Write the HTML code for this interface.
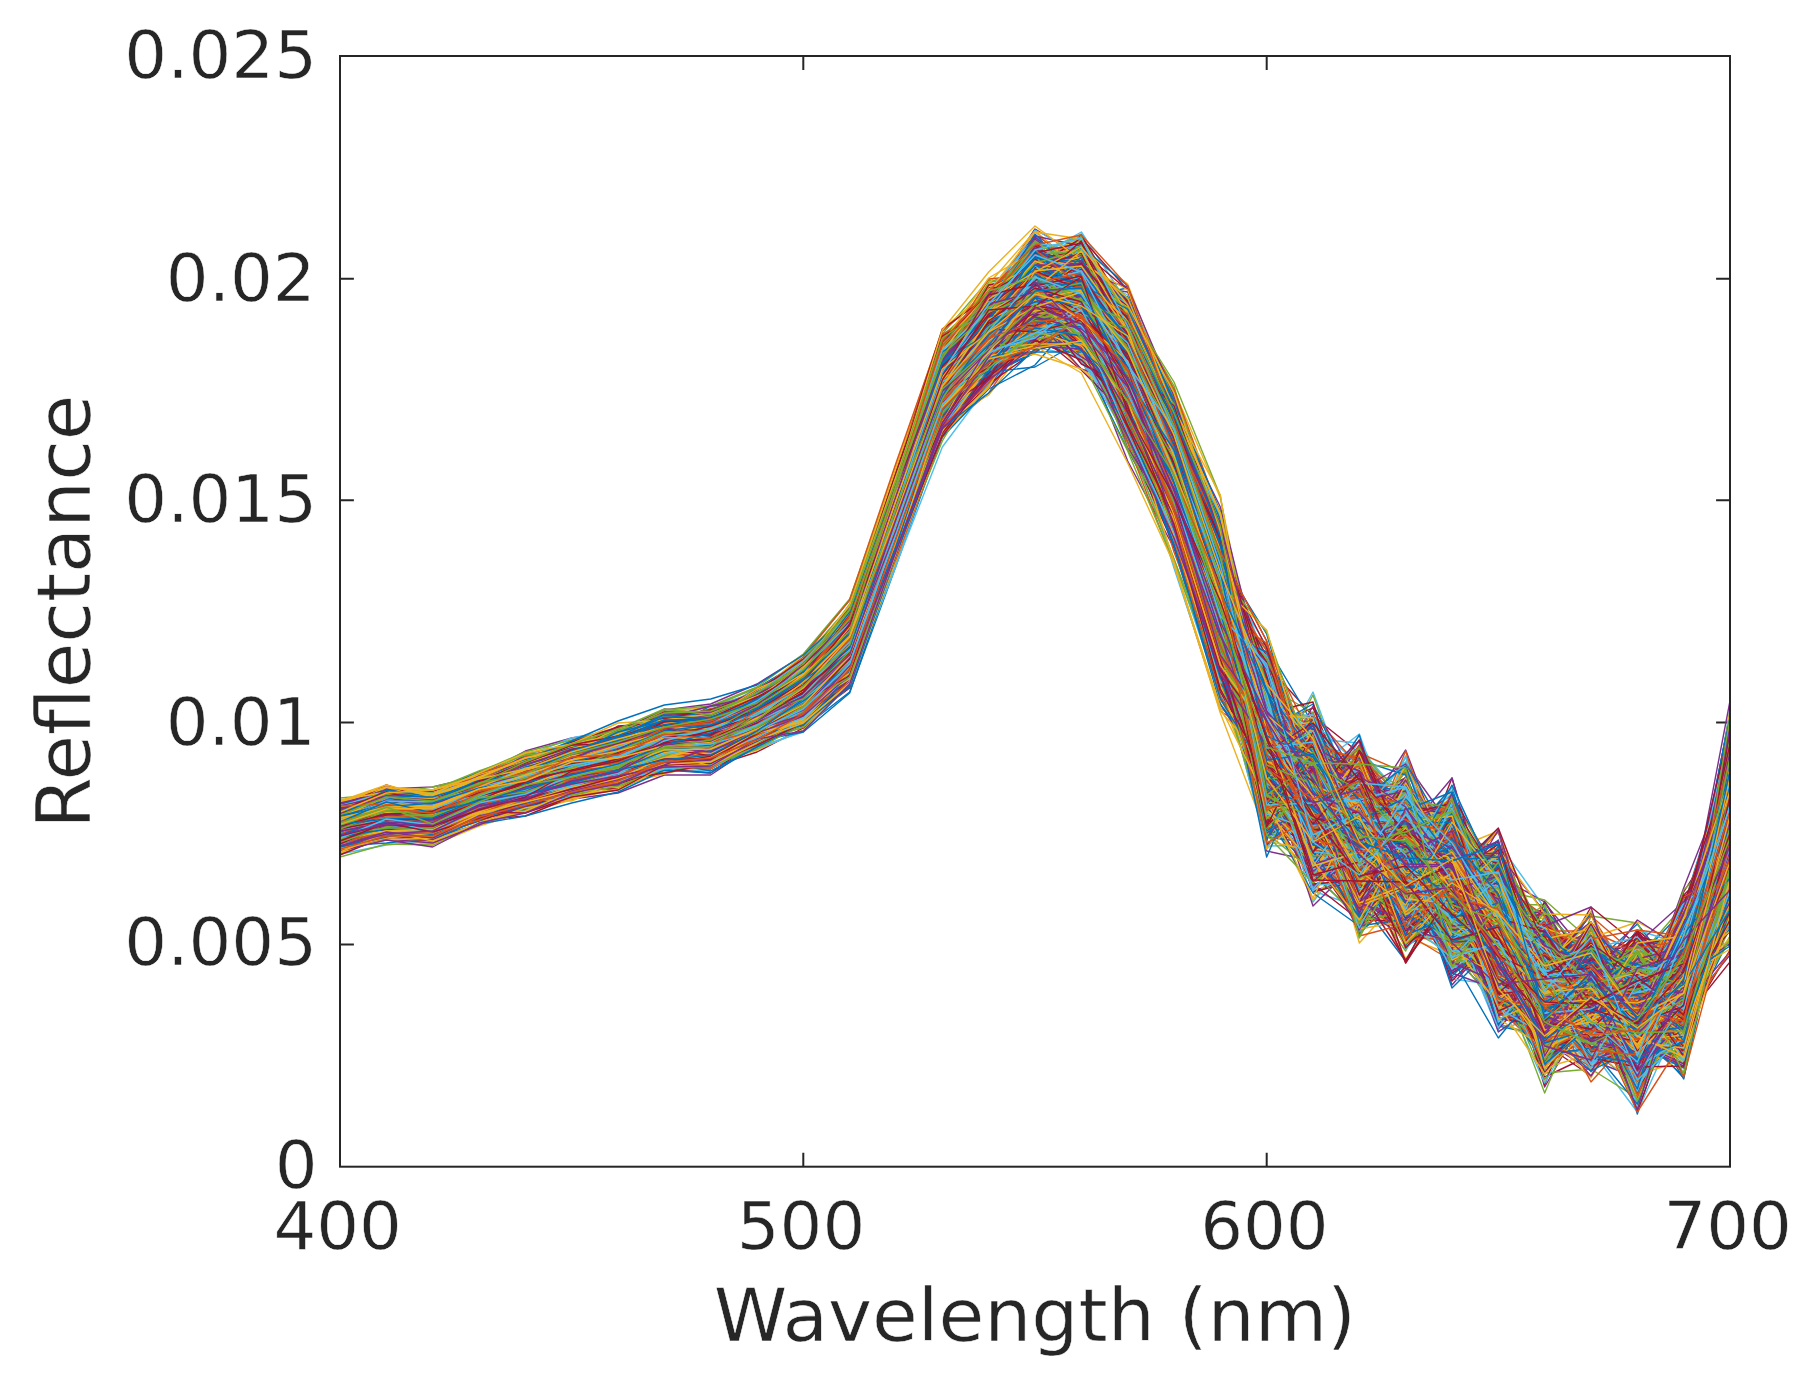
<!DOCTYPE html>
<html lang="en"><head><meta charset="utf-8"><title>Reflectance vs Wavelength</title>
<style>html,body{margin:0;padding:0;background:#fff}body{width:1798px;height:1380px;overflow:hidden}#d path{fill:none;stroke-width:1.4;stroke-linejoin:round;vector-effect:non-scaling-stroke}#d path:nth-child(7n+1){stroke:#0072BD}#d path:nth-child(7n+2){stroke:#D95319}#d path:nth-child(7n+3){stroke:#EDB120}#d path:nth-child(7n+4){stroke:#7E2F8E}#d path:nth-child(7n+5){stroke:#77AC30}#d path:nth-child(7n+6){stroke:#4DBEEE}#d path:nth-child(7n+7){stroke:#A2142F}</style>
</head><body>
<svg width="1798" height="1380" viewBox="0 0 1798 1380" style="display:block">
<rect width="1798" height="1380" fill="#fff"/>
<defs><clipPath id="c"><rect x="340.0" y="56.0" width="1390.0" height="1110.7"/></clipPath></defs>
<g stroke="#262626" stroke-width="2" fill="none">
<path d="M803.3 1166.7v-13.9M803.3 56.0v13.9"/>
<path d="M1266.7 1166.7v-13.9M1266.7 56.0v13.9"/>
<path d="M340.0 944.6h13.9M1730.0 944.6h-13.9"/>
<path d="M340.0 722.4h13.9M1730.0 722.4h-13.9"/>
<path d="M340.0 500.3h13.9M1730.0 500.3h-13.9"/>
<path d="M340.0 278.7h13.9M1730.0 278.7h-13.9"/>
</g>
<g clip-path="url(#c)"><g id="d" transform="translate(340.0 0) scale(46.3333 1)">
<path d="M0 818l1-19 1 17 1-21 1-13 1-12 1-18 1-18 1-9 1-21 1-32 1-59 1-116 1-118 1-51 1-8 1 0 1 30 1 114 1 126 1 161 1 29 1 4 1 90 1 46 1 67 1 8 1-38 1 91 1-101 1-157"/>
<path d="M0 809l1-18 1 5 1-14 1-15 1-17 1-15 1-10 1-10 1-9 1-29 1-57 1-121 1-133 1-54 1-22 1-15 1 94 1 72 1 120 1 164 1 34 1 63 1-31 1 78 1 36 1 94 1-8 1-40 1-1 1-71"/>
<path d="M0 846l1-8 1 7 1-19 1-14 1-12 1-13 1-15 1-3 1-28 1-22 1-42 1-131 1-108 1-56 1-67 1 24 1 78 1 125 1 154 1 118 1 13 1 25 1 107 1-67 1 19 1 108 1-42 1 59 1-91 1-103"/>
<path d="M0 827l1-13 1-3 1-13 1-18 1-7 1-11 1-12 1 0 1-27 1-21 1-53 1-130 1-125 1-72 1-25 1-6 1 67 1 116 1 131 1 229 1-69 1 94 1 64 1-64 1 117 1 25 1-49 1 117 1-79 1-174"/>
<path d="M0 812l1-13 1 4 1-14 1-20 1-9 1-15 1-10 1 0 1-29 1-31 1-45 1-137 1-134 1-59 1-7 1 9 1 57 1 93 1 133 1 229 1-33 1 84 1 3 1 21 1 50 1 7 1 35 1 50 1-113 1-11"/>
<path d="M0 822l1-21 1 4 1-20 1-14 1-10 1-7 1-23 1-1 1-20 1-38 1-31 1-146 1-141 1-45 1-53 1 3 1 75 1 69 1 124 1 249 1-16 1 27 1 100 1-11 1-13 1 102 1 24 1 22 1-88 1-133"/>
<path d="M0 825l1-15 1-1 1-14 1-15 1-7 1-21 1-8 1-11 1-18 1-26 1-59 1-122 1-127 1-51 1-38 1 25 1 49 1 103 1 130 1 199 1 1 1 1 1 80 1 20 1 25 1 87 1-42 1 33 1-66 1-128"/>
<path d="M0 817l1-15 1 2 1-24 1-15 1-11 1-17 1-13 1-2 1-17 1-30 1-37 1-141 1-112 1-61 1-48 1-15 1 70 1 91 1 118 1 224 1 26 1 59 1-54 1 88 1 46 1 18 1 85 1-19 1 1 1-244"/>
<path d="M0 826l1-9 1-5 1-12 1-23 1-9 1-15 1-19 1 1 1-23 1-23 1-39 1-139 1-122 1-57 1-26 1-14 1 77 1 107 1 111 1 249 1-47 1 5 1 64 1 45 1 14 1 68 1 2 1 54 1-68 1-88"/>
<path d="M0 826l1-11 1 1 1-14 1-18 1-19 1-7 1-20 1-2 1-24 1-34 1-44 1-127 1-126 1-57 1-19 1 19 1 45 1 101 1 143 1 175 1 6 1 37 1-46 1 78 1 84 1 71 1-5 1 39 1-81 1-180"/>
<path d="M0 827l1-17 1 11 1-21 1-18 1-14 1-20 1-9 1 0 1-19 1-21 1-42 1-124 1-144 1-70 1 9 1 9 1 50 1 108 1 134 1 132 1 92 1-33 1 71 1-7 1 29 1 56 1 49 1 75 1-92 1-128"/>
<path d="M0 833l1-8 1 1 1-17 1-12 1-2 1-5 1-22 1-9 1-31 1-25 1-54 1-123 1-133 1-16 1-63 1 15 1 92 1 106 1 116 1 122 1 3 1 61 1 15 1 75 1-2 1 70 1 32 1 4 1-18 1-130"/>
<path d="M0 833l1-10 1 1 1-18 1-13 1-16 1-7 1-23 1 0 1-20 1-38 1-48 1-116 1-134 1-62 1-45 1 17 1 47 1 128 1 152 1 109 1 54 1 17 1 32 1 22 1 111 1 20 1-7 1 33 1-42 1-160"/>
<path d="M0 813l1-4 1 7 1-19 1-13 1-7 1-12 1-17 1-5 1-21 1-26 1-49 1-122 1-132 1-28 1-50 1-8 1 35 1 121 1 123 1 156 1-13 1 139 1 32 1-21 1 66 1 72 1 10 1 37 1-126 1-108"/>
<path d="M0 820l1-9 1 5 1-20 1-9 1-8 1-10 1-19 1 3 1-22 1-25 1-51 1-119 1-136 1-63 1-24 1-4 1 48 1 120 1 129 1 120 1 66 1 10 1 95 1 18 1 83 1-57 1 2 1 13 1 13 1-191"/>
<path d="M0 816l1-8 1 4 1-20 1-13 1-20 1-13 1-12 1-8 1-21 1-25 1-59 1-140 1-131 1-33 1-47 1 15 1 50 1 118 1 134 1 184 1 66 1-64 1 47 1 52 1 15 1 61 1-8 1 90 1-47 1-158"/>
<path d="M0 820l1-18 1 2 1-16 1-15 1-13 1-17 1-11 1-3 1-16 1-34 1-47 1-131 1-156 1-28 1-51 1 33 1 40 1 121 1 117 1 123 1 124 1-42 1 12 1 52 1 115 1 63 1-60 1 3 1 22 1-174"/>
<path d="M0 813l1-9 1 5 1-16 1-17 1-13 1-24 1-18 1-4 1-21 1-31 1-49 1-125 1-148 1-37 1-21 1-6 1 52 1 86 1 148 1 168 1 6 1 139 1-4 1-8 1 26 1 93 1 12 1-22 1 0 1-149"/>
<path d="M0 829l1-8 1-10 1-20 1-19 1-11 1-14 1-14 1-6 1-12 1-39 1-35 1-125 1-133 1-43 1-35 1 16 1 67 1 112 1 112 1 146 1 89 1-3 1-18 1 17 1 73 1 112 1-67 1 68 1-22 1-231"/>
<path d="M0 820l1-19 1-5 1-14 1-18 1-9 1-12 1-1 1-8 1-31 1-27 1-61 1-130 1-130 1-48 1-20 1-20 1 79 1 120 1 109 1 81 1 181 1 5 1-31 1 31 1 105 1 54 1 24 1 3 1-52 1-202"/>
<path d="M0 834l1-16 1 1 1-17 1-13 1-14 1-8 1-8 1-6 1-29 1-23 1-38 1-144 1-127 1-44 1-51 1 21 1 88 1 98 1 138 1 194 1-25 1 32 1 14 1-42 1 157 1 49 1-35 1 29 1 2 1-154"/>
<path d="M0 834l1-8 1-1 1-24 1-13 1-9 1-13 1-19 1 4 1-26 1-24 1-39 1-131 1-129 1-42 1-54 1 5 1 61 1 96 1 165 1 103 1 69 1 57 1-4 1 38 1 37 1 117 1-117 1 63 1 19 1-218"/>
<path d="M0 827l1-12 1 8 1-15 1-18 1-19 1-12 1-22 1-12 1-15 1-27 1-48 1-123 1-135 1-28 1-66 1 40 1 40 1 110 1 143 1 132 1 54 1 39 1 65 1 15 1 27 1 48 1-13 1 20 1-91 1-106"/>
<path d="M0 830l1-17 1 4 1-18 1-23 1-13 1-8 1-17 1-7 1-13 1-35 1-35 1-127 1-137 1-57 1-43 1 36 1 46 1 110 1 127 1 143 1 99 1-29 1 27 1 62 1 11 1 116 1-36 1 62 1-35 1-176"/>
<path d="M0 842l1-15 1 2 1-17 1-5 1-13 1-18 1-10 1-7 1-25 1-21 1-49 1-119 1-133 1-46 1-41 1-2 1 74 1 132 1 109 1 134 1-18 1 61 1 62 1-2 1 59 1 81 1-10 1 30 1-85 1-47"/>
<path d="M0 846l1-19 1 7 1-17 1-12 1-12 1-13 1-8 1-10 1-22 1-35 1-34 1-143 1-120 1-46 1-55 1 40 1 44 1 131 1 120 1 94 1 134 1-52 1 72 1-27 1 40 1 70 1 75 1-49 1 31 1-150"/>
<path d="M0 819l1-11 1 0 1-16 1-21 1-3 1-16 1-12 1-1 1-26 1-21 1-48 1-129 1-122 1-40 1-49 1 22 1 20 1 94 1 135 1 184 1 23 1 70 1 26 1-10 1 47 1 62 1 42 1 20 1-80 1-151"/>
<path d="M0 841l1-9 1-5 1-21 1-7 1-23 1-9 1-23 1 2 1-17 1-21 1-44 1-138 1-148 1-40 1-44 1 31 1 41 1 88 1 138 1 149 1 17 1 119 1-32 1 62 1 47 1 90 1-35 1 23 1 11 1-184"/>
<path d="M0 820l1-20 1 9 1-19 1-20 1-7 1-15 1-18 1-7 1-12 1-36 1-45 1-137 1-124 1-39 1-57 1-4 1 58 1 106 1 138 1 159 1 98 1-41 1 51 1-30 1 120 1 61 1-54 1 65 1-8 1-130"/>
<path d="M0 824l1-14 1 4 1-15 1-17 1-11 1-18 1-14 1-5 1-16 1-28 1-42 1-123 1-132 1-65 1-9 1-39 1 80 1 72 1 150 1 174 1 55 1-31 1 30 1 67 1 29 1 121 1-48 1 6 1 31 1-188"/>
<path d="M0 826l1-10 1-6 1-20 1-8 1-13 1-9 1-24 1 4 1-25 1-30 1-42 1-133 1-135 1-34 1-57 1 1 1 68 1 106 1 151 1 171 1 38 1 58 1-5 1-37 1 61 1 100 1-15 1 56 1-59 1-150"/>
<path d="M0 823l1-15 1 4 1-17 1-12 1-15 1-9 1-25 1 8 1-27 1-23 1-55 1-124 1-112 1-53 1-26 1 3 1 54 1 74 1 141 1 165 1 4 1 66 1 87 1-74 1 78 1 79 1 0 1 8 1-9 1-137"/>
<path d="M0 819l1-18 1 5 1-12 1-12 1-15 1-14 1-20 1-5 1-24 1-25 1-44 1-134 1-129 1-55 1-22 1-20 1 79 1 107 1 150 1 38 1 115 1 90 1 47 1-56 1 42 1 66 1 48 1-37 1 44 1-108"/>
<path d="M0 825l1-15 1 0 1-18 1-6 1-17 1-14 1-8 1-7 1-15 1-23 1-43 1-133 1-150 1-35 1-58 1 27 1 40 1 105 1 147 1 111 1 97 1-20 1 82 1 7 1 80 1 70 1-30 1 18 1 30 1-219"/>
<path d="M0 821l1-16 1-3 1-11 1-18 1-13 1-12 1-21 1-6 1-10 1-33 1-49 1-144 1-139 1-37 1-12 1 0 1 85 1 66 1 122 1 145 1 41 1 54 1-23 1 98 1 56 1 53 1-18 1 14 1-24 1-151"/>
<path d="M0 829l1-19 1 2 1-13 1-25 1-2 1-8 1-24 1-3 1-17 1-23 1-53 1-127 1-136 1-69 1-40 1 13 1 77 1 113 1 134 1 229 1-56 1 41 1 22 1-29 1 144 1-12 1 60 1 17 1-63 1-213"/>
<path d="M0 833l1-12 1 2 1-20 1-12 1-16 1-18 1-15 1 3 1-24 1-27 1-44 1-136 1-123 1-44 1-61 1 38 1 76 1 117 1 113 1 133 1-20 1 105 1-45 1 94 1 36 1 109 1-23 1-27 1-11 1-109"/>
<path d="M0 832l1-13 1 0 1-17 1-13 1-19 1-13 1-13 1 1 1-25 1-19 1-45 1-128 1-136 1-48 1-63 1 36 1 63 1 109 1 131 1 94 1 127 1-2 1-22 1 55 1 47 1-1 1 89 1 54 1-86 1-106"/>
<path d="M0 815l1-5 1-10 1-10 1-19 1-17 1-9 1-14 1 7 1-25 1-24 1-50 1-132 1-143 1-33 1-58 1-10 1 60 1 125 1 124 1 198 1 76 1-36 1 99 1-54 1 22 1 110 1 13 1-14 1-35 1-100"/>
<path d="M0 828l1-14 1-2 1-13 1-14 1-15 1-9 1-11 1-8 1-21 1-30 1-47 1-138 1-117 1-74 1-27 1 5 1 57 1 103 1 128 1 159 1 5 1 97 1 58 1-10 1 29 1 35 1 27 1-13 1 37 1-183"/>
<path d="M0 834l1-11 1 4 1-19 1-9 1-23 1-7 1-15 1 0 1-25 1-17 1-50 1-129 1-152 1-50 1-28 1 16 1 62 1 91 1 141 1 142 1-23 1 156 1 40 1-48 1 56 1 68 1-2 1 27 1-36 1-227"/>
<path d="M0 804l1-12 1 8 1-16 1-19 1-14 1-10 1-20 1 5 1-17 1-29 1-55 1-135 1-136 1-55 1-70 1 28 1 60 1 92 1 141 1 115 1 51 1 37 1 98 1 90 1-93 1 113 1-17 1 48 1-15 1-195"/>
<path d="M0 830l1-11 1 2 1-27 1-10 1-17 1-17 1-12 1-10 1-12 1-19 1-43 1-121 1-136 1-43 1-50 1 30 1 79 1 98 1 135 1 81 1 82 1 34 1-24 1 80 1 35 1 13 1 72 1-38 1-29 1-88"/>
<path d="M0 832l1-23 1 9 1-15 1-13 1-11 1-22 1-16 1-4 1-24 1-25 1-42 1-126 1-135 1-41 1-36 1 3 1 67 1 73 1 147 1 124 1 52 1 66 1 23 1 3 1 84 1 60 1-2 1 22 1-75 1-174"/>
<path d="M0 819l1-15 1 4 1-17 1-16 1-6 1-11 1-7 1-10 1-22 1-22 1-48 1-135 1-128 1-57 1-13 1-11 1 51 1 118 1 114 1 173 1 25 1 65 1-29 1 6 1 86 1 20 1 97 1 50 1-133 1-62"/>
<path d="M0 806l1-6 1 1 1-15 1-20 1-5 1-19 1-18 1-11 1-17 1-30 1-49 1-132 1-128 1-27 1-68 1 17 1 40 1 94 1 127 1 210 1 109 1-109 1 96 1-3 1 55 1 95 1 7 1-9 1-39 1-176"/>
<path d="M0 826l1-16 1 7 1-22 1-10 1-19 1-6 1-16 1 0 1-22 1-30 1-57 1-134 1-116 1-64 1-40 1-17 1 90 1 106 1 124 1 106 1 86 1 26 1 61 1-6 1 36 1 105 1 0 1 58 1-77 1-183"/>
<path d="M0 822l1-10 1 0 1-15 1-17 1-15 1-14 1-13 1-7 1-21 1-22 1-49 1-129 1-144 1-28 1-69 1 30 1 62 1 91 1 146 1 114 1 104 1-5 1 45 1 36 1-49 1 65 1 97 1-53 1 69 1-205"/>
<path d="M0 827l1-8 1 2 1-22 1-19 1-14 1-12 1-16 1-4 1-21 1-24 1-37 1-133 1-141 1-48 1-20 1-6 1 52 1 110 1 141 1 79 1 126 1 25 1-5 1 89 1 9 1 99 1 12 1-6 1-57 1-76"/>
<path d="M0 836l1-16 1 3 1-12 1-17 1-6 1-20 1-23 1 16 1-25 1-8 1-36 1-126 1-131 1-67 1-52 1 31 1 70 1 90 1 190 1 61 1 49 1 50 1-22 1 94 1 59 1 24 1 17 1 11 1-8 1-95"/>
<path d="M0 811l1-10 1 5 1-14 1-17 1-12 1-11 1-16 1-4 1-14 1-28 1-49 1-123 1-140 1-42 1-37 1-10 1 36 1 127 1 128 1 151 1 88 1 5 1-7 1 62 1-47 1 131 1 32 1 23 1-3 1-297"/>
<path d="M0 821l1-4 1 1 1-24 1-14 1-8 1-11 1-22 1-10 1-11 1-27 1-64 1-125 1-132 1-49 1-39 1-9 1 72 1 106 1 157 1 166 1-16 1 162 1-74 1 33 1 33 1 140 1-101 1 93 1-111 1-99"/>
<path d="M0 843l1-18 1-5 1-20 1-10 1-19 1-12 1-11 1 2 1-27 1-24 1-42 1-138 1-114 1-69 1-60 1 3 1 81 1 93 1 168 1 103 1 23 1 122 1-5 1 9 1 105 1 36 1-45 1 33 1 13 1-258"/>
<path d="M0 830l1-16 1 4 1-21 1 1 1-18 1-9 1-22 1-9 1-25 1-29 1-56 1-129 1-143 1-65 1 8 1 0 1 51 1 107 1 173 1 149 1 37 1-13 1 65 1 64 1 65 1-22 1-41 1 86 1-43 1-167"/>
<path d="M0 835l1-11 1 0 1-25 1-13 1-10 1-3 1-14 1 1 1-24 1-17 1-43 1-132 1-122 1-55 1-39 1 32 1 62 1 85 1 137 1 126 1 23 1 22 1 56 1 13 1 65 1 48 1 0 1 18 1-76 1-96"/>
<path d="M0 846l1-24 1 10 1-18 1-9 1-17 1-18 1-7 1-3 1-36 1-20 1-36 1-134 1-121 1-34 1-63 1 2 1 96 1 107 1 143 1 103 1 8 1 101 1-38 1 50 1 25 1 157 1-97 1 28 1-14 1-117"/>
<path d="M0 824l1-6 1-2 1-9 1-20 1-19 1-7 1-15 1 1 1-25 1-24 1-51 1-115 1-135 1-52 1-42 1-3 1 72 1 89 1 120 1 166 1 8 1 54 1 41 1 123 1-23 1 56 1-12 1-11 1 44 1-237"/>
<path d="M0 818l1-11 1 11 1-27 1-10 1-13 1-19 1-5 1-2 1-28 1-24 1-44 1-136 1-128 1-40 1-73 1 18 1 76 1 94 1 93 1 197 1-8 1 111 1 37 1 38 1 39 1 19 1-28 1 63 1-50 1-140"/>
<path d="M0 834l1-9 1-2 1-16 1-12 1-11 1-15 1-17 1-1 1-23 1-23 1-47 1-146 1-117 1-68 1-39 1 31 1 57 1 111 1 141 1 114 1 96 1-76 1 147 1-44 1 47 1 92 1-13 1 60 1-103 1-121"/>
<path d="M0 820l1-12 1 6 1-15 1-19 1-14 1-13 1-17 1-8 1-19 1-19 1-58 1-118 1-127 1-61 1-23 1-36 1 125 1 77 1 121 1 191 1 61 1-70 1 86 1-38 1 113 1 89 1-68 1-10 1 41 1-115"/>
<path d="M0 816l1-12 1 6 1-22 1-9 1-18 1-5 1-22 1-8 1-16 1-36 1-42 1-133 1-122 1-55 1-41 1 18 1 56 1 100 1 124 1 189 1-25 1 71 1 27 1 35 1 108 1-58 1 32 1 22 1-17 1-166"/>
<path d="M0 822l1-20 1-1 1-13 1-12 1-14 1-4 1-16 1 1 1-19 1-27 1-48 1-134 1-138 1-65 1-19 1 10 1 39 1 106 1 124 1 147 1 93 1-14 1 127 1-57 1 91 1 36 1 37 1 52 1-48 1-238"/>
<path d="M0 821l1-14 1 4 1-21 1-11 1-10 1-20 1-17 1 6 1-27 1-18 1-56 1-140 1-125 1-64 1-23 1 19 1 86 1 94 1 117 1 107 1 57 1 74 1 71 1-45 1 18 1 167 1-51 1-35 1 61 1-230"/>
<path d="M0 804l1-9 1-1 1-16 1-15 1-13 1-9 1-23 1 1 1-29 1-30 1-50 1-121 1-133 1-42 1-40 1-18 1 62 1 105 1 153 1 181 1 53 1 65 1-46 1 87 1 16 1 25 1 11 1 37 1-35 1-148"/>
<path d="M0 842l1-15 1-2 1-14 1-15 1-13 1-14 1-15 1 0 1-16 1-25 1-35 1-129 1-141 1-49 1-50 1 8 1 76 1 146 1 136 1 70 1 67 1 3 1 96 1-54 1 61 1 99 1-31 1 4 1 6 1-224"/>
<path d="M0 827l1-14 1 13 1-26 1-21 1-20 1-17 1-9 1-8 1-22 1-20 1-49 1-126 1-131 1-37 1-66 1-7 1 85 1 100 1 144 1 121 1 24 1 118 1-18 1 25 1 32 1 71 1-24 1 33 1 12 1-154"/>
<path d="M0 842l1-9 1 0 1-20 1-7 1-15 1-16 1-7 1-7 1-20 1-36 1-34 1-131 1-127 1-66 1-16 1-3 1 58 1 120 1 138 1 131 1-35 1 145 1 17 1 42 1-5 1 57 1 18 1-8 1-8 1-149"/>
<path d="M0 826l1-10 1 9 1-17 1-13 1-14 1-8 1-21 1-2 1-25 1-35 1-38 1-135 1-143 1-64 1-30 1 30 1 57 1 92 1 118 1 142 1 49 1 98 1-44 1 66 1 19 1 105 1-10 1-21 1 8 1-190"/>
<path d="M0 829l1-10 1-1 1-18 1-9 1-14 1-13 1-13 1-6 1-17 1-31 1-48 1-119 1-135 1-62 1-70 1 57 1 43 1 80 1 130 1 124 1 113 1 35 1 63 1-3 1 98 1 20 1-58 1 13 1 33 1-140"/>
<path d="M0 830l1-12 1 5 1-21 1-9 1-23 1-10 1-17 1 4 1-28 1-16 1-42 1-129 1-131 1-61 1-42 1 34 1 41 1 115 1 149 1 102 1 20 1 45 1 26 1 98 1 16 1 13 1 28 1-27 1 33 1-130"/>
<path d="M0 842l1-17 1 1 1-21 1-9 1-16 1-11 1-19 1 0 1-16 1-22 1-43 1-123 1-123 1-75 1-42 1 2 1 114 1 104 1 141 1 102 1 41 1 47 1 12 1-2 1 30 1 74 1 49 1-18 1 36 1-227"/>
<path d="M0 825l1-18 1 10 1-13 1-20 1-13 1-6 1-27 1-6 1-17 1-26 1-53 1-134 1-120 1-44 1-45 1 13 1 79 1 108 1 104 1 123 1 31 1 128 1-19 1-20 1 107 1 49 1-30 1 55 1 8 1-222"/>
<path d="M0 827l1-5 1 1 1-21 1-18 1-4 1-21 1-16 1-2 1-23 1-34 1-36 1-142 1-132 1-58 1 21 1-38 1 104 1 101 1 113 1 118 1 39 1 106 1 57 1 18 1-30 1 25 1 110 1-22 1-87 1-112"/>
<path d="M0 830l1-16 1 1 1-18 1-11 1-21 1-6 1-24 1 2 1-19 1-27 1-42 1-130 1-128 1-40 1-66 1 20 1 45 1 116 1 139 1 88 1 198 1-14 1-43 1 59 1 92 1 8 1-6 1 0 1 59 1-178"/>
<path d="M0 843l1-19 1-2 1-22 1-11 1-10 1-12 1-18 1 0 1-23 1-24 1-39 1-128 1-139 1-42 1-71 1 21 1 88 1 93 1 160 1 97 1 19 1 62 1 28 1 29 1 93 1 15 1 23 1 9 1-62 1-116"/>
<path d="M0 826l1-15 1 0 1-18 1-11 1-17 1-12 1-12 1-8 1-16 1-30 1-43 1-116 1-139 1-31 1-55 1 33 1 40 1 117 1 115 1 95 1 151 1-4 1 1 1 24 1 46 1 44 1-3 1 29 1 6 1-160"/>
<path d="M0 836l1-13 1-1 1-23 1-4 1-15 1-12 1-18 1-10 1-21 1-19 1-37 1-132 1-129 1-43 1-49 1 12 1 103 1 94 1 108 1 160 1 27 1 79 1-12 1 17 1-5 1 114 1-33 1 18 1-9 1-180"/>
<path d="M0 836l1-14 1-1 1-19 1-18 1-13 1-6 1-14 1-1 1-19 1-37 1-41 1-134 1-128 1-31 1-35 1-13 1 65 1 83 1 122 1 156 1 83 1-9 1 40 1 24 1 56 1 53 1 27 1-3 1-12 1-186"/>
<path d="M0 830l1-14 1 8 1-22 1-11 1-17 1 1 1-24 1-3 1-26 1-21 1-41 1-146 1-122 1-54 1-71 1 38 1 63 1 85 1 160 1 136 1 60 1 38 1 14 1 18 1 69 1 8 1 56 1 4 1-52 1-112"/>
<path d="M0 811l1-9 1 4 1-20 1-15 1-17 1-10 1-17 1 10 1-27 1-24 1-43 1-135 1-139 1-45 1-34 1-44 1 58 1 130 1 133 1 163 1 68 1 44 1 32 1-17 1 38 1 73 1-42 1 102 1-28 1-164"/>
<path d="M0 840l1-17 1 5 1-15 1-8 1-17 1-18 1-17 1-7 1-18 1-19 1-50 1-129 1-136 1-42 1-43 1-11 1 94 1 100 1 150 1 74 1 107 1 54 1-5 1 18 1 30 1 105 1-72 1 65 1 20 1-154"/>
<path d="M0 833l1-15 1-2 1-12 1-24 1-17 1-6 1-19 1-8 1-17 1-28 1-39 1-132 1-118 1-37 1-63 1 3 1 63 1 89 1 167 1 56 1 142 1 37 1-16 1 56 1 17 1 81 1 9 1-33 1-4 1-164"/>
<path d="M0 816l1-15 1 3 1-20 1-15 1-21 1-4 1-16 1-9 1-17 1-24 1-41 1-131 1-134 1-55 1-6 1-57 1 86 1 94 1 124 1 250 1-6 1 53 1-23 1 17 1 93 1 32 1 30 1-13 1-43 1-110"/>
<path d="M0 832l1-15 1-3 1-12 1-19 1-11 1-16 1-17 1 1 1-18 1-27 1-42 1-110 1-144 1-54 1-34 1-15 1 69 1 100 1 96 1 155 1 136 1 38 1 2 1 15 1 12 1 71 1 24 1 65 1-78 1-171"/>
<path d="M0 839l1-12 1 3 1-21 1-13 1-14 1-11 1-24 1 8 1-34 1-11 1-38 1-134 1-112 1-56 1-85 1 30 1 96 1 91 1 134 1 198 1 8 1 20 1-5 1 67 1 66 1-1 1-29 1 154 1-139 1-196"/>
<path d="M0 830l1-18 1 3 1-18 1-17 1-13 1-7 1-24 1 1 1-23 1-22 1-60 1-134 1-134 1-45 1-34 1 9 1 52 1 112 1 142 1 116 1 114 1-26 1 54 1 49 1 31 1 70 1 9 1 59 1-67 1-152"/>
<path d="M0 835l1-8 1-5 1-20 1-14 1-22 1-5 1-11 1-8 1-14 1-20 1-40 1-143 1-129 1-58 1-28 1-24 1 101 1 91 1 134 1 121 1 121 1-12 1-10 1 61 1 65 1 29 1 37 1-30 1-65 1-123"/>
<path d="M0 829l1-12 1 7 1-23 1-16 1-16 1-15 1-19 1-8 1-24 1-17 1-58 1-119 1-135 1-35 1-47 1-24 1 55 1 113 1 134 1 155 1 82 1 5 1 71 1-41 1 101 1 67 1-28 1 107 1-99 1-147"/>
<path d="M0 833l1-15 1 1 1-20 1-11 1-8 1-13 1-9 1-3 1-25 1-17 1-51 1-126 1-132 1-37 1-49 1-11 1 62 1 119 1 124 1 55 1 155 1 27 1 49 1-24 1 53 1 66 1-5 1 37 1-72 1-71"/>
<path d="M0 832l1-6 1-3 1-24 1-14 1-16 1-21 1-9 1-6 1-23 1-30 1-44 1-128 1-138 1-64 1-14 1 28 1 50 1 100 1 98 1 157 1 109 1-5 1 29 1 59 1 54 1-11 1 15 1 44 1-37 1-187"/>
<path d="M0 820l1-10 1 3 1-20 1-13 1-20 1-5 1-19 1-9 1-15 1-32 1-48 1-130 1-143 1-47 1-30 1 36 1 46 1 89 1 163 1 161 1 45 1 38 1 24 1 56 1 27 1 25 1-16 1 4 1 16 1-79"/>
<path d="M0 831l1-18 1-3 1-16 1-17 1-14 1-20 1-9 1-7 1-13 1-38 1-40 1-133 1-130 1-39 1-27 1-11 1 56 1 106 1 147 1 112 1 30 1 116 1-2 1-43 1 71 1 36 1 45 1 20 1-29 1-123"/>
<path d="M0 833l1-8 1 1 1-12 1-14 1-8 1-22 1-15 1-10 1-23 1-23 1-53 1-118 1-120 1-73 1-31 1-5 1 100 1 80 1 154 1 166 1 10 1 25 1 74 1-5 1 23 1 64 1 63 1-48 1-1 1-144"/>
<path d="M0 811l1-8 1 2 1-20 1-16 1-12 1-19 1-9 1 0 1-18 1-34 1-43 1-134 1-129 1-54 1-24 1-13 1 117 1 60 1 105 1 195 1 64 1 43 1-62 1 83 1 13 1 153 1-108 1 56 1-41 1-110"/>
<path d="M0 843l1-20 1 11 1-23 1-13 1-19 1-10 1-17 1-6 1-22 1-26 1-44 1-135 1-125 1-45 1-49 1 39 1 78 1 96 1 115 1 60 1 120 1 13 1 48 1 7 1 109 1-82 1 56 1 26 1 1 1-152"/>
<path d="M0 837l1-11 1 4 1-10 1-14 1-27 1-4 1-21 1-4 1-18 1-25 1-41 1-129 1-135 1-49 1-39 1-46 1 125 1 122 1 166 1 112 1 43 1-23 1 51 1 14 1 63 1 62 1 7 1 37 1-27 1-218"/>
<path d="M0 823l1-12 1 9 1-16 1-9 1-15 1-18 1-8 1-3 1-21 1-21 1-54 1-132 1-141 1-38 1-52 1-23 1 79 1 110 1 151 1 138 1 20 1 107 1 30 1-72 1 72 1 95 1 40 1-16 1-78 1-87"/>
<path d="M0 823l1-15 1 5 1-19 1-10 1-17 1-4 1-16 1-2 1-10 1-29 1-49 1-135 1-122 1-53 1-40 1 0 1 82 1 61 1 163 1 137 1 10 1 42 1 90 1 79 1-31 1 83 1-48 1 72 1-73 1-130"/>
<path d="M0 831l1-17 1 0 1-17 1-17 1-9 1-17 1-12 1-4 1-19 1-18 1-55 1-118 1-139 1-57 1-20 1 1 1 89 1 108 1 131 1 70 1 50 1 110 1-34 1 77 1 31 1 119 1-89 1 70 1-49 1-104"/>
<path d="M0 813l1-13 1 6 1-16 1-19 1-17 1-9 1-9 1 2 1-22 1-28 1-50 1-125 1-145 1-36 1-47 1 15 1 104 1 76 1 98 1 166 1 68 1 4 1 12 1 49 1 78 1 77 1-1 1-28 1-21 1-124"/>
<path d="M0 821l1-10 1-3 1-19 1-19 1-8 1-13 1-14 1-2 1-21 1-20 1-56 1-133 1-128 1-40 1-33 1 8 1 50 1 116 1 101 1 201 1 39 1 33 1 70 1-36 1 115 1-32 1 36 1 29 1-95 1-81"/>
<path d="M0 832l1-19 1 5 1-19 1-17 1-24 1-11 1-8 1-11 1-19 1-30 1-50 1-132 1-132 1-42 1-41 1-22 1 110 1 93 1 149 1 94 1 90 1 115 1-52 1-6 1 95 1 26 1 14 1 22 1-27 1-213"/>
<path d="M0 828l1-16 1 5 1-20 1-17 1-13 1-9 1-21 1-2 1-13 1-25 1-47 1-122 1-140 1-46 1-44 1-14 1 86 1 124 1 113 1 122 1 39 1-3 1 109 1 58 1 38 1 75 1-35 1-6 1-41 1-88"/>
<path d="M0 811l1-14 1 4 1-14 1-15 1-20 1-12 1-12 1-7 1-10 1-39 1-42 1-126 1-136 1-46 1-48 1-12 1 82 1 85 1 113 1 182 1 118 1-19 1 48 1-30 1 75 1 66 1-38 1 43 1-10 1-164"/>
<path d="M0 848l1-19 1 2 1-11 1-4 1-19 1-16 1-19 1-9 1-21 1-10 1-41 1-131 1-132 1-61 1-15 1-6 1 75 1 125 1 143 1 132 1-88 1 65 1 98 1 36 1-10 1 114 1-46 1 35 1 37 1-244"/>
<path d="M0 840l1-19 1 2 1-17 1-24 1-4 1-10 1-9 1-3 1-20 1-22 1-42 1-126 1-118 1-81 1-26 1 5 1 72 1 105 1 152 1 38 1 134 1 100 1-62 1 54 1 78 1-9 1 41 1 19 1-7 1-174"/>
<path d="M0 823l1-19 1 3 1-22 1-6 1-6 1-9 1-16 1 1 1-26 1-19 1-43 1-134 1-126 1-42 1-43 1 20 1 49 1 128 1 128 1 98 1 83 1 28 1 38 1 43 1-18 1 57 1 75 1-16 1-66 1-135"/>
<path d="M0 828l1-10 1 14 1-29 1-8 1-12 1-16 1-13 1-5 1-21 1-28 1-33 1-120 1-132 1-55 1-43 1 35 1 60 1 121 1 113 1 82 1 89 1 113 1-89 1 27 1 89 1 49 1-28 1 76 1-44 1-174"/>
<path d="M0 846l1-14 1 3 1-20 1-7 1-9 1-6 1-18 1 0 1-31 1-23 1-50 1-127 1-138 1-41 1-56 1 33 1 119 1 87 1 152 1 46 1 40 1 27 1 33 1 139 1-53 1 54 1-4 1 103 1-102 1-102"/>
<path d="M0 833l1-9 1 0 1-15 1-12 1-11 1-15 1-24 1-7 1-21 1-24 1-47 1-120 1-129 1-43 1-68 1-17 1 102 1 84 1 139 1 156 1 65 1-7 1 101 1-58 1 87 1-33 1 128 1 2 1-61 1-116"/>
<path d="M0 831l1-12 1 3 1-16 1-19 1-17 1-10 1-10 1-7 1-22 1-28 1-31 1-134 1-130 1-69 1-9 1-9 1 79 1 115 1 114 1 229 1-80 1 77 1 33 1-23 1 91 1 53 1 36 1-20 1 25 1-123"/>
<path d="M0 843l1-11 1-1 1-11 1-16 1-11 1-10 1-17 1 1 1-15 1-24 1-45 1-120 1-134 1-44 1-66 1 8 1 91 1 109 1 150 1 115 1 87 1-35 1 37 1-5 1 73 1 98 1-36 1 37 1-68 1-212"/>
<path d="M0 824l1-16 1 6 1-15 1-24 1-10 1-9 1-21 1-7 1-16 1-28 1-46 1-122 1-130 1-24 1-49 1-8 1 31 1 138 1 103 1 129 1 45 1 96 1 25 1-6 1 83 1 31 1 26 1 37 1-67 1-169"/>
<path d="M0 827l1-24 1 9 1-19 1-19 1-14 1-28 1-16 1 8 1-19 1-27 1-45 1-134 1-114 1-45 1-57 1 11 1 58 1 112 1 126 1 156 1 64 1 82 1-71 1 18 1 117 1 86 1-63 1 40 1-43 1-133"/>
<path d="M0 828l1-19 1 2 1-19 1-19 1-16 1-11 1-20 1 7 1-21 1-21 1-44 1-137 1-149 1-31 1-47 1-8 1 74 1 104 1 118 1 195 1-35 1 96 1 4 1 106 1 52 1 20 1-60 1 48 1-33 1-126"/>
<path d="M0 837l1-21 1 12 1-27 1-8 1-21 1-12 1-19 1 3 1-16 1-25 1-44 1-133 1-130 1-53 1-39 1-8 1 115 1 105 1 120 1 110 1 52 1 44 1-19 1 54 1 61 1 117 1-34 1-1 1-52 1-166"/>
<path d="M0 827l1-22 1 8 1-20 1-7 1-8 1-14 1-13 1-3 1-28 1-25 1-52 1-133 1-140 1-52 1-52 1 42 1 68 1 110 1 144 1 112 1 25 1 78 1 39 1 77 1-30 1 13 1 43 1-24 1 54 1-232"/>
<path d="M0 834l1-11 1 4 1-26 1-5 1-15 1-6 1-15 1-5 1-24 1-30 1-38 1-141 1-137 1-50 1-48 1 10 1 79 1 116 1 162 1 111 1 36 1 40 1 64 1 9 1 56 1 1 1-22 1 52 1-31 1-93"/>
<path d="M0 826l1-12 1 1 1-17 1-17 1-19 1-11 1-7 1-10 1-15 1-28 1-54 1-132 1-127 1-43 1-43 1-5 1 45 1 129 1 135 1 165 1 63 1 28 1 15 1 6 1 48 1 70 1 17 1 13 1 6 1-217"/>
<path d="M0 831l1-7 1-2 1-19 1-15 1-17 1-5 1-12 1-11 1-13 1-29 1-53 1-119 1-145 1-53 1-45 1 15 1 76 1 101 1 156 1 99 1 12 1 121 1-8 1 55 1 43 1 61 1-43 1 56 1-18 1-253"/>
<path d="M0 824l1-22 1 7 1-15 1-18 1-9 1-14 1-12 1-13 1-25 1-13 1-47 1-131 1-131 1-39 1-32 1 8 1 47 1 95 1 123 1 131 1 130 1-8 1-4 1 25 1 112 1 51 1 10 1-55 1 24 1-236"/>
<path d="M0 836l1-20 1 4 1-14 1-7 1-22 1-3 1-19 1-7 1-25 1-31 1-48 1-134 1-124 1-57 1-40 1-43 1 113 1 124 1 125 1 113 1 21 1 80 1-12 1 36 1 48 1 151 1-114 1 43 1-28 1-204"/>
<path d="M0 816l1-13 1 5 1-9 1-20 1-11 1-3 1-17 1-3 1-30 1-25 1-61 1-129 1-143 1-23 1-59 1 12 1 54 1 118 1 134 1 129 1 68 1 75 1 30 1-30 1 54 1 74 1 25 1-47 1 8 1-185"/>
<path d="M0 819l1-20 1 7 1-11 1-18 1-10 1-24 1-16 1-9 1-18 1-20 1-46 1-132 1-127 1-52 1-45 1 31 1 19 1 129 1 117 1 217 1 18 1-1 1 27 1 97 1-32 1 114 1-60 1 68 1-83 1-115"/>
<path d="M0 816l1-10 1 7 1-21 1-14 1-4 1-12 1-18 1-8 1-22 1-28 1-48 1-139 1-135 1-41 1-35 1-14 1 47 1 125 1 119 1 148 1 95 1 88 1-16 1-28 1 81 1 71 1-30 1 34 1-70 1-200"/>
<path d="M0 846l1-16 1-5 1-27 1-11 1-15 1-15 1-6 1-10 1-8 1-22 1-36 1-128 1-117 1-69 1-22 1-2 1 63 1 96 1 115 1 198 1 70 1-38 1 71 1-5 1 59 1 52 1-5 1-5 1-11 1-77"/>
<path d="M0 845l1-12 1-3 1-17 1-22 1-5 1-16 1-19 1 3 1-25 1-18 1-28 1-125 1-142 1-49 1-49 1 20 1 69 1 99 1 145 1 112 1 52 1-4 1 9 1 26 1 103 1 34 1 41 1 23 1-94 1-105"/>
<path d="M0 820l1-2 1-2 1-18 1-17 1-22 1-11 1-12 1-13 1-14 1-21 1-47 1-126 1-126 1-68 1-34 1 24 1 47 1 129 1 135 1 108 1 114 1 21 1 98 1-77 1 15 1 67 1 46 1 10 1-63 1-168"/>
<path d="M0 832l1-11 1 2 1-14 1-25 1-12 1-14 1-15 1-11 1-18 1-25 1-29 1-130 1-127 1-49 1-45 1 5 1 71 1 116 1 121 1 197 1 7 1 55 1-54 1 31 1 95 1 38 1 18 1-1 1-34 1-97"/>
<path d="M0 815l1-9 1 0 1-12 1-15 1-16 1-4 1-23 1-5 1-20 1-30 1-50 1-113 1-138 1-55 1-21 1-10 1 44 1 107 1 125 1 130 1 75 1 66 1 1 1 77 1 72 1-5 1-16 1 5 1 36 1-189"/>
<path d="M0 829l1-11 1-5 1-15 1-23 1-10 1-10 1-14 1-2 1-15 1-31 1-63 1-124 1-135 1-53 1-61 1 26 1 78 1 101 1 140 1 139 1 61 1-3 1 83 1-27 1 137 1-62 1 48 1 20 1-5 1-168"/>
<path d="M0 827l1-4 1-2 1-22 1-25 1-13 1-3 1-20 1 1 1-12 1-26 1-51 1-147 1-128 1-39 1-47 1 3 1 116 1 88 1 108 1 141 1 13 1 94 1-18 1 47 1 105 1 6 1-14 1 62 1-55 1-223"/>
<path d="M0 824l1-19 1 6 1-19 1-16 1-14 1-16 1-11 1-6 1-23 1-27 1-47 1-130 1-106 1-61 1-25 1-42 1 123 1 84 1 96 1 212 1 27 1 5 1-2 1 36 1 80 1 22 1 104 1-38 1-65 1-237"/>
<path d="M0 826l1-14 1 0 1-16 1-10 1-16 1-10 1-22 1-5 1-19 1-30 1-50 1-120 1-135 1-53 1-32 1 7 1 76 1 55 1 166 1 140 1 47 1 19 1 73 1 61 1-23 1 35 1 93 1-32 1-59 1-94"/>
<path d="M0 827l1-14 1 5 1-18 1-13 1-21 1-12 1-15 1-11 1-13 1-32 1-47 1-120 1-136 1-58 1-34 1-10 1 66 1 121 1 111 1 108 1 87 1 34 1 35 1 13 1 63 1 103 1-46 1 16 1-6 1-155"/>
<path d="M0 833l1-12 1 3 1-18 1-10 1-16 1-7 1-13 1-5 1-23 1-22 1-45 1-132 1-142 1-36 1-11 1-43 1 71 1 110 1 120 1 138 1 60 1 94 1 4 1 8 1 56 1 61 1-15 1 5 1-38 1-133"/>
<path d="M0 803l1-8 1 1 1-14 1-15 1-11 1-22 1-13 1-5 1-20 1-29 1-54 1-122 1-138 1-52 1-33 1 0 1 61 1 95 1 123 1 271 1-87 1 129 1 25 1-51 1 106 1 20 1 24 1 24 1-10 1-143"/>
<path d="M0 821l1-11 1 4 1-22 1-14 1-11 1-13 1-15 1-10 1-10 1-43 1-43 1-126 1-137 1-58 1-43 1 45 1 60 1 91 1 148 1 195 1 16 1 63 1-39 1 65 1 38 1 0 1 26 1 30 1-33 1-111"/>
<path d="M0 815l1-5 1 2 1-16 1-22 1-17 1-16 1-16 1 1 1-20 1-12 1-55 1-126 1-134 1-56 1-41 1-12 1 65 1 98 1 111 1 167 1 73 1 44 1 41 1-1 1 63 1 30 1 9 1-3 1 43 1-187"/>
<path d="M0 832l1-21 1 4 1-19 1-20 1-14 1-13 1-13 1-6 1-15 1-29 1-45 1-122 1-141 1-65 1-12 1-26 1 78 1 131 1 159 1 203 1-42 1 67 1-2 1-22 1 60 1 56 1 48 1 33 1-89 1-224"/>
<path d="M0 825l1-18 1 7 1-17 1-18 1-20 1-15 1-19 1-3 1-14 1-23 1-56 1-116 1-139 1-61 1 2 1-48 1 54 1 132 1 145 1 99 1 151 1-17 1 1 1 68 1-44 1 141 1-1 1 57 1-138 1-120"/>
<path d="M0 825l1-13 1 8 1-23 1-7 1-18 1-12 1-23 1-5 1-18 1-24 1-33 1-134 1-134 1-56 1-19 1-12 1 91 1 104 1 124 1 170 1 48 1 38 1-16 1 52 1-14 1 159 1-47 1 12 1 15 1-190"/>
<path d="M0 824l1-16 1 9 1-20 1-21 1-12 1-10 1-15 1 1 1-29 1-26 1-36 1-127 1-138 1-39 1-56 1-15 1 77 1 107 1 154 1 127 1 37 1-3 1 142 1 0 1-25 1 132 1-93 1 116 1-94 1-101"/>
<path d="M0 830l1-17 1 9 1-18 1-23 1-17 1-7 1-10 1-9 1-23 1-30 1-55 1-121 1-136 1-34 1-62 1 28 1 84 1 69 1 132 1 146 1 49 1 50 1 42 1 26 1-5 1 132 1 27 1-42 1 0 1-211"/>
<path d="M0 836l1-19 1 3 1-24 1-15 1-18 1-13 1-10 1-4 1-22 1-15 1-49 1-130 1-111 1-63 1-47 1 19 1 77 1 124 1 93 1 62 1 97 1 58 1 35 1-15 1 83 1 111 1-43 1 7 1 6 1-167"/>
<path d="M0 835l1-17 1-5 1-14 1-18 1-14 1-11 1-9 1-10 1-14 1-17 1-33 1-135 1-126 1-69 1-28 1-12 1 49 1 110 1 126 1 115 1 120 1 43 1 19 1-48 1 162 1 27 1-73 1 46 1-38 1-174"/>
<path d="M0 829l1-16 1 8 1-22 1-14 1-9 1-19 1-10 1-2 1-20 1-31 1-54 1-125 1-130 1-38 1-18 1-27 1 45 1 131 1 122 1 68 1 196 1 40 1-52 1 117 1-5 1 50 1 14 1 24 1-83 1-212"/>
<path d="M0 829l1-6 1-3 1-17 1-11 1-12 1-20 1-22 1-4 1-21 1-26 1-47 1-126 1-134 1-40 1-43 1-17 1 69 1 134 1 130 1 150 1 42 1 49 1-4 1 22 1 131 1-7 1-2 1 49 1-77 1-117"/>
<path d="M0 835l1-16 1 4 1-18 1-3 1-18 1-9 1-23 1 1 1-31 1-21 1-49 1-131 1-114 1-49 1-31 1-34 1 68 1 124 1 146 1 128 1 60 1 31 1 56 1 30 1-1 1 62 1 6 1 42 1-64 1-114"/>
<path d="M0 804l1-12 1-1 1-14 1-19 1-15 1-6 1-24 1-2 1-15 1-30 1-44 1-127 1-120 1-38 1-34 1-2 1 46 1 91 1 72 1 198 1 42 1 115 1 14 1-10 1 97 1 26 1-17 1 90 1-99 1-142"/>
<path d="M0 838l1-11 1 5 1-25 1-13 1-11 1-19 1-14 1-8 1-14 1-19 1-42 1-131 1-129 1-51 1-59 1 29 1 71 1 111 1 137 1 143 1-21 1 36 1 10 1 21 1 122 1 39 1 34 1-31 1 4 1-166"/>
<path d="M0 822l1-13 1 3 1-19 1-10 1-9 1-20 1-12 1 1 1-26 1-24 1-48 1-132 1-114 1-53 1-21 1 0 1 87 1 92 1 131 1 106 1 102 1-36 1 97 1-26 1 116 1 22 1-38 1 40 1-6 1-134"/>
<path d="M0 807l1-12 1-2 1-12 1-22 1-18 1-8 1-21 1-6 1-13 1-31 1-43 1-130 1-131 1-47 1-42 1 22 1 20 1 110 1 98 1 160 1 82 1 14 1 123 1-52 1 67 1 113 1-29 1-19 1-25 1-135"/>
<path d="M0 838l1-19 1 4 1-26 1-13 1-8 1-15 1-17 1-6 1-28 1-16 1-52 1-113 1-132 1-52 1-30 1-29 1 130 1 65 1 157 1 128 1 11 1 59 1-56 1 134 1-20 1 90 1 39 1-24 1-10 1-122"/>
<path d="M0 817l1-4 1-9 1-15 1-16 1-18 1-18 1-12 1 3 1-25 1-19 1-55 1-132 1-135 1-60 1-50 1 29 1 58 1 108 1 131 1 225 1 33 1-5 1 23 1 25 1 29 1 37 1 22 1 56 1-90 1-66"/>
<path d="M0 823l1-11 1 0 1-18 1-14 1-19 1-7 1-22 1-6 1-20 1-24 1-45 1-132 1-141 1-52 1-35 1 47 1 28 1 118 1 132 1 147 1 65 1 29 1-30 1 68 1 48 1 10 1 55 1 72 1-85 1-102"/>
<path d="M0 832l1-15 1 6 1-20 1-14 1-10 1-10 1-20 1-10 1-22 1-22 1-57 1-124 1-123 1-54 1-40 1-3 1 106 1 58 1 161 1 147 1 28 1 37 1 105 1-11 1 7 1 127 1-56 1 31 1-21 1-180"/>
<path d="M0 843l1-15 1-2 1-17 1-11 1-10 1-21 1-14 1 1 1-20 1-17 1-50 1-130 1-128 1-69 1-43 1 28 1 74 1 116 1 153 1 124 1 36 1 39 1 35 1-71 1 114 1 10 1-1 1 138 1-120 1-87"/>
<path d="M0 835l1-10 1-1 1-17 1-10 1-15 1-6 1-16 1-9 1-15 1-24 1-36 1-117 1-137 1-63 1-8 1-26 1 82 1 101 1 158 1 78 1 32 1 83 1 55 1-87 1 79 1 101 1 13 1 53 1-53 1-196"/>
<path d="M0 819l1-9 1 0 1-15 1-9 1-12 1-10 1-16 1 3 1-27 1-29 1-39 1-141 1-137 1-36 1 7 1-16 1 83 1 71 1 121 1 136 1 79 1-45 1 96 1 12 1-37 1 144 1-47 1 64 1-1 1-211"/>
<path d="M0 826l1-11 1-1 1-24 1-17 1-9 1-13 1-8 1-1 1-30 1-29 1-58 1-119 1-150 1-33 1-63 1 40 1 64 1 105 1 151 1 153 1 13 1 47 1 42 1 49 1 72 1-48 1 17 1 64 1-101 1-63"/>
<path d="M0 842l1-14 1 3 1-14 1-7 1-15 1-15 1-17 1-6 1-9 1-25 1-40 1-129 1-131 1-58 1-14 1-17 1 83 1 115 1 131 1 90 1 125 1-44 1 11 1 115 1-19 1 84 1-59 1 114 1-84 1-243"/>
<path d="M0 817l1-8 1-5 1-7 1-11 1-21 1-13 1-11 1 1 1-26 1-24 1-47 1-124 1-138 1-59 1-26 1 8 1 85 1 100 1 128 1 84 1 98 1 123 1-84 1 31 1 63 1 49 1 12 1 36 1-70 1-62"/>
<path d="M0 836l1-15 1-2 1-19 1-21 1-13 1-10 1-20 1 8 1-26 1-22 1-46 1-118 1-123 1-56 1-9 1-12 1 66 1 88 1 131 1 127 1 82 1 26 1-27 1 108 1 24 1 18 1 13 1 2 1-49 1-97"/>
<path d="M0 814l1-11 1 8 1-18 1-8 1-19 1-17 1-15 1-7 1-22 1-31 1-39 1-118 1-140 1-34 1-43 1-42 1 112 1 71 1 138 1 224 1-51 1 100 1-22 1 27 1 103 1 59 1-12 1-13 1 30 1-137"/>
<path d="M0 828l1-16 1 5 1-19 1-12 1-10 1-18 1-13 1 2 1-24 1-21 1-55 1-121 1-129 1-68 1-46 1 48 1 17 1 120 1 115 1 124 1 50 1 105 1 41 1-74 1 98 1 87 1-7 1 21 1-90 1-88"/>
<path d="M0 836l1-7 1 5 1-28 1-11 1-14 1-10 1-12 1-10 1-20 1-26 1-38 1-132 1-115 1-53 1-36 1 9 1 79 1 74 1 146 1 154 1 45 1 2 1 1 1 1 1 91 1 24 1 7 1 70 1-29 1-65"/>
<path d="M0 836l1-14 1 9 1-27 1-17 1-13 1-14 1-17 1-7 1-14 1-18 1-46 1-127 1-129 1-56 1-61 1 40 1 23 1 127 1 138 1 104 1 105 1 65 1 10 1-119 1 168 1 31 1 18 1 32 1-39 1-87"/>
<path d="M0 827l1-14 1 1 1-18 1-15 1-11 1-14 1-21 1-6 1-22 1-22 1-42 1-144 1-134 1-38 1-14 1-36 1 117 1 96 1 130 1 186 1-15 1 23 1 74 1-25 1 100 1 38 1-16 1 46 1-74 1-189"/>
<path d="M0 811l1-9 1 1 1-19 1-9 1-24 1-12 1-8 1-15 1-8 1-34 1-50 1-125 1-129 1-36 1-51 1 19 1 41 1 103 1 120 1 157 1 111 1 49 1 13 1 34 1 10 1 16 1 43 1 2 1-43 1-113"/>
<path d="M0 824l1-12 1 5 1-21 1-12 1-20 1-12 1-17 1-6 1-18 1-35 1-45 1-123 1-119 1-40 1-27 1-28 1 81 1 89 1 105 1 125 1 108 1 17 1 88 1-73 1 137 1-15 1 46 1 1 1-70 1-119"/>
<path d="M0 827l1-10 1-4 1-7 1-23 1-7 1-14 1-22 1 2 1-22 1-27 1-53 1-136 1-124 1-54 1-45 1-6 1 86 1 100 1 159 1 110 1 72 1 10 1 36 1 34 1 77 1 4 1 67 1-46 1-12 1-155"/>
<path d="M0 822l1-7 1-6 1-11 1-11 1-18 1-7 1-22 1-7 1-12 1-38 1-43 1-129 1-138 1-22 1-70 1 18 1 100 1 93 1 140 1 123 1 38 1 35 1 104 1-54 1 23 1 101 1 32 1-24 1-56 1-122"/>
<path d="M0 823l1-23 1 12 1-25 1-13 1-14 1-12 1-14 1 2 1-23 1-25 1-53 1-122 1-131 1-48 1-58 1 34 1 34 1 124 1 131 1 167 1-18 1 81 1 10 1 53 1 112 1-13 1 37 1-34 1 7 1-293"/>
<path d="M0 819l1-12 1 15 1-23 1-17 1-10 1-26 1-14 1 0 1-17 1-24 1-50 1-119 1-117 1-74 1-27 1-10 1 118 1 107 1 137 1 153 1 4 1 63 1 26 1-19 1 29 1 35 1 77 1 40 1-61 1-171"/>
<path d="M0 819l1-7 1-4 1-16 1-12 1-17 1-12 1-19 1-6 1-9 1-38 1-55 1-129 1-128 1-71 1-24 1 13 1 65 1 74 1 144 1 195 1-3 1 98 1-61 1 107 1 39 1 2 1-8 1 90 1-67 1-247"/>
<path d="M0 821l1-12 1 3 1-21 1-9 1-16 1-7 1-14 1-12 1-27 1-25 1-48 1-133 1-133 1-51 1-35 1 32 1 40 1 109 1 133 1 158 1 115 1-3 1 7 1 33 1 8 1 129 1-26 1-10 1 7 1-196"/>
<path d="M0 816l1-11 1 4 1-10 1-11 1-16 1-1 1-22 1-5 1-31 1-27 1-51 1-130 1-131 1-43 1-59 1 22 1 94 1 93 1 128 1 170 1 51 1 60 1-12 1 2 1 18 1 112 1-32 1 79 1-96 1-192"/>
<path d="M0 836l1-17 1 10 1-25 1-10 1-14 1-8 1-18 1-8 1-23 1-20 1-42 1-131 1-136 1-39 1-58 1 5 1 85 1 126 1 126 1 118 1 21 1 53 1 71 1 5 1 28 1 44 1 27 1-13 1-26 1-156"/>
<path d="M0 824l1-8 1 0 1-16 1-5 1-20 1-15 1-16 1-8 1-28 1-21 1-48 1-139 1-130 1-56 1-28 1-8 1 54 1 147 1 100 1 187 1 70 1-4 1 53 1-15 1 56 1 76 1-13 1 55 1-9 1-241"/>
<path d="M0 833l1-8 1-3 1-24 1-19 1-24 1-5 1-21 1 4 1-18 1-29 1-47 1-135 1-133 1-82 1-19 1-10 1 79 1 86 1 137 1 140 1 68 1 39 1 1 1 41 1 85 1 46 1-1 1-7 1 12 1-171"/>
<path d="M0 822l1-9 1-4 1-18 1-5 1-14 1-15 1-21 1 6 1-30 1-27 1-39 1-133 1-145 1-47 1-33 1 1 1 103 1 59 1 138 1 119 1 91 1 52 1-46 1 131 1-76 1 195 1-71 1 31 1-22 1-70"/>
<path d="M0 813l1-15 1 10 1-22 1-14 1-11 1-10 1-29 1 0 1-15 1-38 1-45 1-136 1-131 1-38 1-82 1 35 1 67 1 101 1 142 1 122 1 154 1-79 1 111 1-51 1 47 1 77 1-1 1 41 1-28 1-147"/>
<path d="M0 822l1-14 1 2 1-14 1-19 1-12 1-11 1-31 1 2 1-26 1-17 1-52 1-131 1-121 1-49 1-24 1-13 1 67 1 72 1 128 1 214 1 17 1 57 1-2 1 14 1 97 1 14 1-55 1 72 1 38 1-247"/>
<path d="M0 831l1-9 1 0 1-27 1-18 1-13 1-18 1-2 1-2 1-25 1-19 1-50 1-125 1-144 1-28 1-2 1-33 1 70 1 98 1 150 1 112 1 18 1 71 1-16 1 108 1 41 1-9 1 61 1-53 1 13 1-145"/>
<path d="M0 812l1-14 1 10 1-23 1-15 1-16 1-11 1-19 1 2 1-20 1-36 1-47 1-143 1-121 1-65 1-59 1 29 1 61 1 119 1 118 1 200 1 48 1 9 1-28 1 86 1 31 1 158 1-72 1-55 1 38 1-134"/>
<path d="M0 828l1-12 1-2 1-13 1-16 1-9 1-7 1-21 1-2 1-17 1-24 1-41 1-136 1-131 1-50 1-57 1 38 1 48 1 96 1 159 1 141 1 20 1 136 1-81 1-3 1 142 1 11 1 30 1-25 1-4 1-192"/>
<path d="M0 819l1-15 1 6 1-17 1-15 1-14 1-15 1-20 1-4 1-18 1-30 1-53 1-130 1-131 1-40 1-40 1-18 1 79 1 78 1 140 1 155 1 77 1 94 1-23 1 12 1 76 1 46 1-3 1 46 1-25 1-206"/>
<path d="M0 809l1-15 1 12 1-22 1-17 1-13 1-10 1-14 1-2 1-19 1-30 1-59 1-129 1-130 1-66 1-16 1 11 1 13 1 141 1 119 1 112 1 66 1 70 1 61 1 19 1 53 1-6 1 83 1-8 1-70 1-145"/>
<path d="M0 831l1-14 1 9 1-26 1-9 1-17 1-8 1-17 1-6 1-13 1-29 1-45 1-118 1-139 1-30 1-38 1 2 1 42 1 106 1 122 1 174 1 21 1 29 1 55 1-37 1 106 1 14 1 57 1 38 1-95 1-110"/>
<path d="M0 821l1-12 1 10 1-16 1-13 1-20 1-21 1-3 1-3 1-15 1-32 1-49 1-128 1-116 1-56 1-42 1-8 1 63 1 110 1 114 1 166 1 44 1 79 1 33 1-3 1-29 1 121 1-15 1 59 1-96 1-129"/>
<path d="M0 816l1-14 1-1 1-16 1-16 1-11 1-8 1-20 1-11 1-14 1-36 1-36 1-131 1-133 1-47 1-30 1 7 1 41 1 98 1 107 1 198 1 77 1 11 1 16 1 8 1 63 1 100 1-33 1 56 1-67 1-202"/>
<path d="M0 801l1-1 1 3 1-18 1-12 1-17 1-23 1-24 1 5 1-17 1-32 1-55 1-127 1-126 1-51 1-53 1 40 1 90 1 56 1 137 1 180 1 2 1 112 1-39 1 107 1-27 1 132 1-48 1 43 1-49 1-148"/>
<path d="M0 818l1-5 1 1 1-15 1-18 1-11 1-12 1-27 1-3 1-19 1-28 1-48 1-117 1-144 1-30 1-52 1 17 1 30 1 128 1 115 1 169 1 61 1 101 1-67 1-4 1 103 1 71 1-49 1 5 1-10 1-88"/>
<path d="M0 817l1-12 1 8 1-17 1-16 1-17 1-14 1-18 1-1 1-17 1-24 1-49 1-120 1-122 1-76 1-14 1-4 1 47 1 107 1 122 1 135 1 55 1-36 1 128 1-8 1 79 1 43 1 8 1 121 1-167 1-124"/>
<path d="M0 829l1-18 1 2 1-15 1-12 1-18 1-11 1-22 1 0 1-23 1-25 1-43 1-137 1-143 1-46 1-55 1 29 1 52 1 120 1 125 1 139 1 55 1-4 1 57 1 11 1 102 1 65 1-29 1 23 1-3 1-212"/>
<path d="M0 827l1-8 1-2 1-19 1-13 1-24 1-9 1-21 1-5 1-18 1-24 1-51 1-119 1-134 1-31 1-70 1 35 1 44 1 98 1 169 1 72 1 132 1 33 1 20 1 14 1 26 1 48 1 9 1-16 1 1 1-68"/>
<path d="M0 837l1-10 1-6 1-15 1-23 1-8 1-11 1-14 1 2 1-27 1-21 1-40 1-135 1-120 1-59 1-21 1-23 1 114 1 123 1 135 1 116 1 47 1 20 1 12 1 28 1 70 1 37 1-58 1 93 1-21 1-123"/>
<path d="M0 826l1-15 1 0 1-9 1-21 1-12 1-4 1-17 1-12 1-16 1-27 1-50 1-132 1-133 1-57 1-32 1-5 1 65 1 119 1 131 1 104 1 49 1 148 1-20 1 27 1 49 1 1 1 46 1 22 1-5 1-149"/>
<path d="M0 831l1-18 1 4 1-24 1-9 1-13 1-13 1-11 1-9 1-22 1-26 1-46 1-124 1-100 1-67 1-38 1-1 1 35 1 109 1 140 1 186 1 22 1 51 1-9 1 107 1 48 1 7 1 30 1-32 1-8 1-189"/>
<path d="M0 838l1-8 1-3 1-18 1-12 1-5 1-10 1-22 1 7 1-22 1-36 1-40 1-125 1-135 1-38 1-67 1 28 1 53 1 97 1 153 1 165 1 50 1 15 1-23 1 26 1 61 1 37 1 33 1 45 1-46 1-115"/>
<path d="M0 827l1-12 1 9 1-24 1-20 1-15 1-11 1-14 1-5 1-20 1-27 1-52 1-115 1-129 1-44 1-52 1 24 1 71 1 75 1 121 1 178 1 38 1-14 1 10 1 24 1 71 1 30 1 42 1 75 1-49 1-167"/>
<path d="M0 841l1-29 1 7 1-20 1-8 1-18 1-6 1-18 1-4 1-25 1-19 1-48 1-116 1-144 1-53 1-14 1-17 1 65 1 115 1 138 1 207 1-66 1 36 1 80 1 56 1-25 1 132 1-72 1 96 1-62 1-222"/>
<path d="M0 823l1-14 1-1 1-16 1-15 1-10 1-14 1-8 1-3 1-22 1-15 1-45 1-135 1-128 1-57 1-9 1-29 1 68 1 103 1 147 1 91 1 113 1 57 1-1 1 34 1 47 1 19 1 33 1-13 1-28 1-185"/>
<path d="M0 850l1-22 1 2 1-19 1-11 1-18 1-16 1-6 1-16 1-21 1-20 1-39 1-131 1-132 1-50 1-28 1-14 1 118 1 96 1 133 1 153 1-50 1 76 1 23 1 6 1 85 1 57 1-18 1 45 1-48 1-143"/>
<path d="M0 838l1-8 1 9 1-29 1-11 1-27 1-20 1-15 1 7 1-14 1-20 1-40 1-123 1-129 1-66 1-28 1-40 1 83 1 100 1 166 1 61 1 96 1 28 1 67 1 8 1-36 1 126 1 74 1-96 1 47 1-173"/>
<path d="M0 840l1-14 1-3 1-16 1-14 1-11 1-15 1-9 1-11 1-21 1-24 1-44 1-126 1-118 1-61 1-44 1-18 1 112 1 98 1 152 1 21 1 76 1 102 1-89 1 65 1 160 1 22 1 42 1-27 1-28 1-169"/>
<path d="M0 819l1-16 1 4 1-22 1-9 1-17 1-7 1-18 1-3 1-30 1-35 1-51 1-134 1-140 1-46 1-16 1-1 1 83 1 81 1 132 1 161 1 90 1 24 1-23 1 60 1 73 1 9 1 14 1 23 1 20 1-131"/>
<path d="M0 817l1-10 1 6 1-23 1-8 1-15 1-6 1-20 1-8 1-25 1-25 1-55 1-124 1-140 1-40 1-33 1-10 1 45 1 116 1 128 1 150 1 117 1 16 1-12 1 55 1 43 1 69 1 19 1 17 1-83 1-106"/>
<path d="M0 828l1-9 1-3 1-21 1-17 1-19 1-20 1-14 1-12 1-8 1-23 1-49 1-134 1-138 1-63 1-46 1 17 1 43 1 124 1 106 1 152 1 69 1-7 1 106 1 34 1 5 1 83 1-14 1 5 1-30 1-35"/>
<path d="M0 820l1-17 1 7 1-21 1-22 1-14 1-7 1-14 1-5 1-24 1-24 1-64 1-128 1-134 1-48 1-40 1 32 1-9 1 132 1 96 1 220 1 32 1 64 1 111 1-44 1 39 1 73 1-44 1-43 1 59 1-147"/>
<path d="M0 819l1-15 1 9 1-19 1-25 1-9 1-11 1-22 1-1 1-13 1-33 1-53 1-123 1-136 1-60 1-29 1-9 1 77 1 104 1 135 1 196 1 36 1-27 1 22 1 104 1 24 1 69 1-68 1 52 1 12 1-223"/>
<path d="M0 816l1-16 1 4 1-20 1-6 1-14 1-14 1-10 1-11 1-23 1-27 1-58 1-123 1-125 1-48 1-10 1-17 1 53 1 103 1 134 1 127 1 122 1-62 1 72 1-8 1 117 1 49 1 48 1-44 1-84 1-43"/>
<path d="M0 839l1-10 1 3 1-15 1-18 1-15 1-9 1-24 1 3 1-23 1-19 1-40 1-123 1-133 1-56 1-19 1-20 1 91 1 83 1 135 1 107 1 55 1 77 1-2 1-25 1 61 1 120 1 37 1 18 1-82 1-134"/>
<path d="M0 819l1-7 1 6 1-20 1-12 1-21 1-11 1-6 1-13 1-23 1-31 1-62 1-126 1-132 1-49 1-18 1 11 1 54 1 120 1 121 1 130 1 90 1 12 1 40 1-66 1 103 1 127 1-57 1 40 1 13 1-265"/>
<path d="M0 832l1-12 1-3 1-15 1-17 1-21 1-9 1-13 1-10 1-13 1-20 1-38 1-117 1-147 1-58 1-36 1 8 1 48 1 114 1 97 1 76 1 158 1 43 1-16 1 40 1 66 1 116 1-44 1 67 1-82 1-137"/>
<path d="M0 833l1-19 1 4 1-16 1-18 1-15 1-8 1-21 1-4 1-11 1-18 1-45 1-126 1-138 1-50 1-29 1 1 1 69 1 73 1 153 1 159 1 46 1 28 1-11 1 68 1-38 1 128 1-42 1 94 1-74 1-134"/>
<path d="M0 831l1-9 1 1 1-14 1-12 1-16 1-8 1-22 1-16 1-21 1-18 1-48 1-123 1-132 1-46 1-29 1-2 1 79 1 105 1 142 1 110 1 55 1 59 1-27 1 54 1 98 1 18 1 2 1 40 1-101 1-91"/>
<path d="M0 811l1-8 1 2 1-23 1-21 1-10 1-7 1-15 1-5 1-15 1-19 1-53 1-133 1-124 1-60 1-36 1-32 1 72 1 120 1 131 1 209 1 44 1-51 1 135 1-32 1 15 1 90 1 14 1-16 1 41 1-227"/>
<path d="M0 826l1-12 1 7 1-23 1-7 1-16 1-8 1-18 1 0 1-23 1-29 1-46 1-135 1-136 1-44 1-40 1-6 1 72 1 98 1 116 1 128 1 83 1 73 1-20 1 70 1 42 1 58 1-49 1 32 1 14 1-95"/>
<path d="M0 831l1-8 1 4 1-16 1-16 1-12 1-7 1-19 1-5 1-20 1-25 1-48 1-115 1-128 1-46 1-45 1-20 1 79 1 111 1 121 1 144 1 84 1 13 1 40 1-49 1 75 1 15 1 85 1 42 1-85 1-117"/>
<path d="M0 810l1-13 1 7 1-13 1-24 1-11 1-10 1-22 1-3 1-14 1-30 1-47 1-120 1-122 1-45 1-47 1 11 1 29 1 111 1 155 1 95 1 110 1-10 1 100 1 10 1 24 1 51 1 16 1 57 1-85 1-207"/>
<path d="M0 823l1-16 1 7 1-14 1-13 1-24 1-3 1-15 1-3 1-20 1-32 1-47 1-133 1-129 1-63 1-52 1 16 1 27 1 158 1 112 1 124 1 117 1 63 1 26 1-57 1 72 1 47 1 22 1 18 1-48 1-169"/>
<path d="M0 835l1-16 1 10 1-21 1-15 1-18 1-12 1-7 1-6 1-20 1-25 1-55 1-117 1-132 1-58 1-41 1 8 1 88 1 89 1 143 1 61 1 110 1 85 1-55 1-18 1 170 1-28 1 87 1-16 1-73 1-74"/>
<path d="M0 821l1-5 1 4 1-20 1-7 1-19 1-7 1-18 1-5 1-18 1-22 1-47 1-118 1-143 1-65 1-29 1 27 1 68 1 104 1 159 1 65 1 115 1-20 1 24 1 18 1 164 1 10 1-34 1 35 1-46 1-178"/>
<path d="M0 841l1-20 1 8 1-16 1-18 1-14 1-9 1-19 1-4 1-13 1-23 1-49 1-137 1-137 1-64 1-34 1-13 1 92 1 124 1 128 1 137 1 53 1 9 1 72 1-21 1 89 1 41 1-42 1 113 1-68 1-140"/>
<path d="M0 840l1-17 1 6 1-18 1-10 1-16 1-6 1-15 1-14 1-17 1-24 1-39 1-130 1-104 1-64 1-46 1 14 1 62 1 123 1 158 1 22 1 69 1 118 1-14 1-28 1 110 1 85 1-64 1 37 1 44 1-200"/>
<path d="M0 835l1-16 1 4 1-13 1-8 1-13 1-9 1-20 1 0 1-30 1-41 1-45 1-130 1-126 1-54 1 16 1-48 1 109 1 90 1 143 1 201 1-32 1 51 1 24 1 82 1-20 1 58 1-40 1 6 1-38 1-116"/>
<path d="M0 817l1-14 1 5 1-16 1-12 1-21 1-11 1-21 1-6 1-15 1-28 1-36 1-137 1-137 1-31 1-64 1 19 1 41 1 119 1 119 1 176 1-23 1 139 1-40 1 13 1 159 1 19 1-26 1-29 1-54 1-78"/>
<path d="M0 822l1-14 1 10 1-22 1-14 1-16 1-11 1-16 1 6 1-25 1-19 1-52 1-133 1-121 1-64 1-26 1-4 1 78 1 104 1 121 1 208 1-35 1 110 1-73 1 76 1-1 1 87 1 34 1 26 1-44 1-172"/>
<path d="M0 828l1-14 1-1 1-17 1-21 1-8 1-11 1-13 1-6 1-16 1-33 1-36 1-126 1-123 1-73 1-22 1-13 1 78 1 102 1 142 1 110 1-19 1 106 1 35 1-49 1 136 1 91 1-10 1 11 1-61 1-117"/>
<path d="M0 846l1-16 1 3 1-20 1-12 1-17 1-8 1-21 1-4 1-26 1-12 1-60 1-120 1-133 1-48 1-26 1-8 1 100 1 94 1 141 1 191 1-31 1 42 1-23 1 62 1 78 1 65 1-16 1-13 1-93 1-6"/>
<path d="M0 831l1-12 1-1 1-15 1-10 1-16 1-12 1-18 1 5 1-24 1-20 1-47 1-135 1-112 1-63 1-51 1 0 1 100 1 108 1 152 1 91 1 20 1 118 1-87 1 80 1 35 1 59 1 53 1-25 1 14 1-162"/>
<path d="M0 829l1-5 1 0 1-18 1-20 1-13 1-15 1-21 1-5 1-20 1-28 1-47 1-141 1-127 1-75 1-13 1-11 1 112 1 90 1 139 1 143 1 54 1 34 1-57 1 134 1 29 1 17 1 29 1 108 1-121 1-122"/>
<path d="M0 829l1-19 1 7 1-18 1-15 1-11 1-21 1-14 1-4 1-20 1-25 1-54 1-128 1-123 1-61 1-69 1 46 1 19 1 144 1 131 1 157 1 53 1 83 1-12 1-4 1 42 1 66 1-18 1 59 1-12 1-201"/>
<path d="M0 828l1-6 1 1 1-20 1-11 1-13 1-16 1-22 1 2 1-21 1-31 1-39 1-124 1-134 1-26 1-64 1 51 1 58 1 73 1 122 1 89 1 58 1 61 1 23 1 77 1-20 1 90 1 33 1 29 1-79 1-141"/>
<path d="M0 840l1-13 1 1 1-20 1-14 1-15 1-13 1-10 1-7 1-21 1-27 1-41 1-134 1-116 1-58 1-35 1-2 1 123 1 50 1 161 1 120 1 30 1 23 1-18 1 39 1 98 1 124 1-75 1 36 1-1 1-168"/>
<path d="M0 812l1-17 1 11 1-17 1-17 1-19 1-10 1-11 1-4 1-18 1-28 1-48 1-119 1-138 1-28 1-41 1 14 1 41 1 105 1 159 1 172 1-55 1 109 1 47 1-22 1 42 1 24 1 7 1 62 1-94 1-108"/>
<path d="M0 825l1-14 1 1 1-19 1-12 1-20 1-8 1-22 1-6 1-13 1-30 1-37 1-142 1-129 1-41 1-31 1 8 1 65 1 93 1 128 1 177 1-50 1 68 1 90 1-42 1 94 1 27 1 9 1 98 1-106 1-126"/>
<path d="M0 840l1-16 1 3 1-19 1-14 1-11 1-16 1-5 1-13 1-26 1-28 1-50 1-126 1-140 1-46 1-28 1 21 1 20 1 132 1 128 1 151 1 8 1 69 1 77 1-46 1 67 1 33 1 59 1-18 1-38 1-150"/>
<path d="M0 834l1-17 1 6 1-22 1-10 1-22 1-6 1-11 1-3 1-23 1-30 1-43 1-121 1-139 1-36 1-72 1-12 1 100 1 97 1 133 1 162 1-4 1 120 1-24 1 57 1 50 1 71 1-18 1 19 1-71 1-141"/>
<path d="M0 833l1-19 1 5 1-19 1-15 1-13 1-12 1-17 1-11 1-15 1-19 1-34 1-123 1-139 1-37 1-71 1-18 1 78 1 127 1 101 1 150 1 95 1 80 1-15 1-40 1 50 1 105 1-35 1-16 1-1 1-78"/>
<path d="M0 806l1-11 1 10 1-23 1-10 1-17 1-15 1-15 1-12 1-14 1-34 1-51 1-125 1-138 1-68 1-21 1-22 1 97 1 60 1 131 1 194 1 68 1 36 1 24 1 53 1 47 1 5 1 42 1-26 1 6 1-142"/>
<path d="M0 814l1-7 1-2 1-15 1-11 1-18 1-12 1-8 1-11 1-21 1-32 1-47 1-124 1-135 1-34 1-39 1-21 1 91 1 80 1 151 1 176 1 63 1 50 1-29 1-36 1 58 1 68 1 45 1 52 1-65 1-209"/>
<path d="M0 826l1-18 1 5 1-13 1-10 1-13 1-9 1-24 1 1 1-12 1-21 1-43 1-140 1-138 1-37 1-32 1 10 1 74 1 83 1 138 1 148 1-38 1 170 1-57 1 53 1 13 1 57 1 28 1-8 1-56 1-111"/>
<path d="M0 833l1-10 1-4 1-20 1-9 1-14 1-2 1-14 1-1 1-24 1-21 1-41 1-136 1-125 1-41 1-28 1 12 1 95 1 84 1 132 1 71 1 104 1 4 1 29 1 68 1 25 1 36 1-9 1 18 1 18 1-198"/>
<path d="M0 814l1-15 1 5 1-18 1-23 1-11 1-10 1-21 1-3 1-21 1-33 1-52 1-127 1-114 1-51 1-52 1 28 1 32 1 117 1 119 1 220 1 50 1 0 1 103 1-56 1 21 1 94 1-34 1 62 1-86 1-107"/>
<path d="M0 815l1-12 1 6 1-17 1-19 1-14 1-17 1-20 1-10 1-18 1-28 1-48 1-124 1-127 1-28 1-41 1-30 1 77 1 85 1 120 1 165 1 81 1 71 1-111 1 96 1 107 1 35 1-27 1 15 1 76 1-211"/>
<path d="M0 818l1-15 1 5 1-21 1-22 1-10 1-8 1-20 1 5 1-24 1-32 1-48 1-132 1-140 1-43 1-63 1 30 1 29 1 118 1 124 1 175 1 51 1-27 1 103 1 38 1 2 1 107 1-17 1-24 1-7 1-112"/>
<path d="M0 820l1-8 1 3 1-21 1-21 1-15 1-16 1-13 1-7 1-16 1-28 1-52 1-130 1-141 1-22 1-47 1-32 1 81 1 118 1 137 1 182 1 46 1 51 1 14 1-20 1 41 1 1 1 88 1-6 1 16 1-166"/>
<path d="M0 842l1-12 1 3 1-23 1-1 1-19 1-14 1-21 1-3 1-17 1-22 1-43 1-127 1-129 1-64 1-12 1-4 1 100 1 97 1 165 1 51 1 70 1 49 1 1 1-23 1 88 1 82 1-5 1-7 1-20 1-120"/>
<path d="M0 831l1-6 1-1 1-20 1-12 1-17 1-6 1-15 1-3 1-24 1-25 1-36 1-138 1-117 1-66 1-39 1 2 1 111 1 117 1 117 1 43 1 117 1 50 1-21 1-8 1 115 1 101 1-23 1-15 1-18 1-176"/>
<path d="M0 819l1-8 1-2 1-15 1-10 1-14 1-18 1-11 1-3 1-23 1-30 1-54 1-130 1-137 1-58 1-20 1-25 1 98 1 98 1 147 1 92 1 33 1 155 1-99 1 50 1 97 1 95 1-29 1 47 1-46 1-117"/>
<path d="M0 841l1-13 1-4 1-21 1-17 1-14 1-16 1-16 1-3 1-18 1-30 1-36 1-143 1-128 1-54 1-72 1 56 1 51 1 113 1 110 1 150 1 103 1-23 1 92 1-17 1 117 1-9 1-14 1 79 1-39 1-214"/>
<path d="M0 825l1-6 1 4 1-27 1-15 1-19 1-13 1-22 1 2 1-16 1-23 1-45 1-133 1-131 1-61 1-38 1 15 1 52 1 123 1 143 1 96 1 111 1 64 1-64 1 93 1-23 1 159 1-44 1 16 1-30 1-108"/>
<path d="M0 830l1-13 1 8 1-25 1-8 1-17 1-11 1-18 1-3 1-20 1-23 1-43 1-121 1-144 1-62 1-72 1 44 1 55 1 162 1 92 1 91 1 62 1 126 1-32 1-21 1 89 1 83 1-46 1 37 1-10 1-201"/>
<path d="M0 834l1-15 1 2 1-12 1-17 1-16 1-21 1-6 1-10 1-19 1-27 1-41 1-130 1-127 1-37 1-60 1 12 1 88 1 98 1 132 1 111 1 55 1 29 1-3 1 63 1-2 1 144 1 6 1 45 1-67 1-153"/>
<path d="M0 826l1-22 1 10 1-17 1-9 1-14 1-16 1-16 1-10 1-13 1-29 1-49 1-120 1-138 1-60 1-18 1-32 1 44 1 121 1 151 1 95 1 108 1 45 1 34 1 43 1-35 1 89 1 47 1-15 1-50 1-126"/>
<path d="M0 839l1-17 1 12 1-32 1-9 1-12 1-16 1-17 1-5 1-25 1-14 1-44 1-127 1-121 1-83 1-20 1-1 1 49 1 129 1 113 1 57 1 106 1 106 1-73 1 49 1 86 1 111 1-31 1 27 1-36 1-193"/>
<path d="M0 827l1-16 1 4 1-21 1-9 1-17 1-8 1-7 1-2 1-20 1-20 1-57 1-134 1-129 1-41 1-57 1 25 1 42 1 107 1 131 1 175 1 1 1 106 1-8 1 50 1 6 1 112 1-21 1-17 1 4 1-208"/>
<path d="M0 828l1-12 1 3 1-25 1-15 1-16 1-11 1-17 1-8 1-14 1-17 1-48 1-142 1-119 1-71 1-17 1-13 1 73 1 95 1 122 1 148 1 25 1 16 1 47 1 120 1-38 1 108 1-39 1 101 1-111 1-160"/>
<path d="M0 816l1-13 1 9 1-14 1-11 1-14 1-20 1-10 1-9 1-21 1-26 1-44 1-129 1-134 1-36 1-45 1 13 1 54 1 113 1 111 1 204 1 16 1 24 1-8 1 33 1 81 1-17 1 34 1 18 1 18 1-165"/>
<path d="M0 818l1-10 1 1 1-23 1-17 1-13 1-8 1-28 1 4 1-13 1-31 1-34 1-134 1-137 1-43 1-22 1-21 1 33 1 92 1 144 1 137 1 69 1 53 1 117 1-110 1 100 1 94 1 9 1-39 1-8 1-162"/>
<path d="M0 821l1-15 1-4 1-21 1-18 1-12 1-15 1-13 1 2 1-22 1-27 1-62 1-134 1-133 1-36 1-34 1 26 1 20 1 118 1 133 1 165 1 121 1-2 1-2 1-31 1 126 1 43 1-2 1 49 1-27 1-274"/>
<path d="M0 832l1-15 1 6 1-11 1-16 1-15 1-9 1-16 1 7 1-23 1-30 1-44 1-124 1-124 1-68 1-3 1-17 1 67 1 104 1 129 1 100 1 83 1 62 1 4 1-4 1 79 1 16 1 59 1-47 1-32 1-129"/>
<path d="M0 834l1-19 1-2 1-14 1-12 1-9 1-19 1-17 1 0 1-26 1-9 1-53 1-128 1-125 1-51 1-45 1-16 1 94 1 101 1 112 1 80 1 167 1 23 1-16 1-9 1 67 1 84 1-7 1 30 1-90 1-83"/>
<path d="M0 829l1-7 1 5 1-24 1-12 1-16 1-11 1-13 1-12 1-13 1-26 1-40 1-138 1-120 1-45 1-48 1 37 1 41 1 102 1 132 1 89 1 24 1 99 1 62 1-7 1 42 1 41 1 16 1 25 1-69 1-50"/>
<path d="M0 824l1-15 1-1 1-15 1-11 1-18 1-6 1-21 1-3 1-26 1-30 1-54 1-116 1-145 1-50 1-3 1-14 1 84 1 73 1 122 1 139 1 168 1-15 1 36 1-32 1 60 1 58 1 5 1 78 1-94 1-121"/>
<path d="M0 835l1-13 1 3 1-22 1-9 1-7 1-11 1-16 1-4 1-18 1-32 1-46 1-139 1-106 1-66 1-38 1 17 1 76 1 98 1 126 1 139 1-15 1 46 1 13 1 76 1 19 1 148 1-52 1-4 1-21 1-135"/>
<path d="M0 821l1-8 1-1 1-21 1-22 1-12 1-12 1-15 1-8 1-11 1-25 1-58 1-125 1-124 1-67 1-37 1-38 1 101 1 92 1 126 1 144 1 40 1 77 1 75 1-28 1-10 1 58 1 79 1-30 1 3 1-176"/>
<path d="M0 819l1-21 1 8 1-15 1-10 1-15 1-8 1-21 1-11 1-19 1-32 1-55 1-129 1-134 1-37 1-30 1-5 1 74 1 77 1 149 1 179 1-14 1 43 1 93 1 41 1-15 1 14 1 96 1-17 1-30 1-137"/>
<path d="M0 813l1-14 1-1 1-9 1-19 1-11 1-12 1-21 1-2 1-15 1-20 1-58 1-116 1-148 1-47 1-55 1 0 1 96 1 94 1 134 1 129 1 63 1 81 1-46 1 59 1 59 1 100 1-14 1-24 1 10 1-122"/>
<path d="M0 840l1-18 1 2 1-21 1-7 1-20 1-5 1-24 1 8 1-24 1-23 1-48 1-133 1-133 1-36 1-48 1-5 1 46 1 110 1 179 1 69 1 54 1 97 1 21 1 92 1-28 1 66 1-41 1 21 1 22 1-168"/>
<path d="M0 829l1-11 1 2 1-18 1-15 1-13 1-21 1-7 1-3 1-18 1-23 1-48 1-135 1-133 1-42 1-10 1-45 1 118 1 88 1 130 1 125 1 27 1 0 1 50 1 30 1 102 1 68 1-61 1-9 1 10 1-132"/>
<path d="M0 844l1-15 1-4 1-23 1-15 1-18 1 1 1-14 1-9 1-25 1-25 1-45 1-137 1-115 1-66 1-37 1 26 1 60 1 89 1 177 1 86 1 27 1 87 1 88 1-104 1 142 1 45 1-8 1-28 1 20 1-160"/>
<path d="M0 831l1-15 1 4 1-21 1-17 1-16 1-9 1-19 1 0 1-23 1-29 1-51 1-123 1-134 1-31 1-66 1-4 1 87 1 103 1 146 1 106 1 84 1 90 1-73 1 108 1 15 1 84 1-18 1 51 1-76 1-156"/>
<path d="M0 817l1-9 1-4 1-17 1-12 1-15 1-14 1-18 1 1 1-18 1-28 1-51 1-133 1-123 1-40 1-66 1 5 1 81 1 61 1 173 1 217 1 2 1 26 1 20 1 24 1 45 1 95 1-5 1 5 1-51 1-146"/>
<path d="M0 843l1-26 1 4 1-18 1-7 1-15 1-14 1-16 1-8 1-19 1-20 1-53 1-109 1-134 1-47 1-30 1-28 1 67 1 150 1 112 1 168 1 3 1-54 1 99 1 14 1 41 1 62 1 91 1 7 1-85 1-91"/>
<path d="M0 833l1-13 1 4 1-17 1-10 1-16 1-10 1-15 1-9 1-25 1-24 1-46 1-127 1-121 1-64 1-48 1 20 1 48 1 116 1 97 1 164 1 10 1 104 1 39 1-4 1 57 1-10 1 28 1 82 1-68 1-152"/>
<path d="M0 833l1-15 1-3 1-16 1-13 1-22 1-9 1-15 1-6 1-14 1-21 1-51 1-127 1-142 1-37 1-42 1 33 1 52 1 80 1 111 1 114 1 90 1 78 1 49 1-36 1 68 1 65 1-36 1 36 1 0 1-80"/>
<path d="M0 831l1-13 1-1 1-14 1-21 1-4 1-9 1-13 1-10 1-17 1-30 1-49 1-143 1-110 1-58 1-24 1 12 1 38 1 97 1 151 1 97 1 103 1 11 1 68 1-18 1 110 1 42 1 23 1-16 1-29 1-203"/>
<path d="M0 808l1-15 1-3 1-7 1-24 1-10 1-15 1-10 1 3 1-24 1-29 1-62 1-125 1-141 1-31 1-32 1 24 1 50 1 87 1 138 1 167 1 93 1-42 1 28 1 47 1 81 1 57 1-30 1 29 1-32 1-135"/>
<path d="M0 828l1-15 1 7 1-17 1-15 1-14 1-13 1-19 1-5 1-14 1-35 1-44 1-123 1-146 1-28 1-66 1 9 1 82 1 125 1 125 1 173 1 6 1 26 1-2 1 29 1 60 1 116 1-28 1-6 1-45 1-154"/>
<path d="M0 824l1-12 1-1 1-8 1-26 1-8 1-10 1-13 1 0 1-16 1-28 1-50 1-132 1-140 1-51 1-38 1 11 1 79 1 94 1 147 1 161 1 76 1-40 1 83 1-28 1 79 1 91 1-68 1 22 1 7 1-212"/>
<path d="M0 840l1-9 1 2 1-21 1-11 1-10 1-14 1-24 1 2 1-26 1-29 1-49 1-126 1-135 1-13 1-73 1 9 1 98 1 95 1 162 1 64 1 101 1 8 1-58 1 109 1 71 1 8 1 19 1 35 1-88 1-44"/>
<path d="M0 823l1-20 1 2 1-21 1-16 1-11 1-6 1-21 1-9 1-25 1-35 1-55 1-130 1-128 1-50 1-13 1-29 1 59 1 118 1 141 1 176 1 71 1-81 1 87 1 25 1 62 1 97 1-6 1 8 1-23 1-155"/>
<path d="M0 824l1-8 1-1 1-19 1-15 1-13 1-13 1-20 1-7 1-15 1-18 1-59 1-123 1-128 1-59 1-69 1 18 1 85 1 127 1 123 1 167 1-8 1 130 1 31 1-2 1 26 1 1 1 75 1-7 1-63 1-176"/>
<path d="M0 812l1-10 1 8 1-15 1-17 1-16 1-9 1-23 1-10 1-10 1-27 1-57 1-120 1-127 1-32 1-42 1-6 1 29 1 132 1 115 1 199 1-28 1 120 1-17 1 62 1 25 1 28 1 21 1-52 1 43 1-168"/>
<path d="M0 821l1-12 1 5 1-16 1-14 1-13 1-16 1-12 1-8 1-26 1-16 1-48 1-124 1-125 1-56 1-32 1 14 1 54 1 111 1 108 1 174 1 84 1-27 1 32 1 3 1 0 1 147 1-32 1 2 1-5 1-145"/>
<path d="M0 839l1-18 1 0 1-11 1-8 1-8 1-16 1-8 1-5 1-15 1-20 1-47 1-121 1-138 1-63 1-62 1 2 1 92 1 131 1 167 1-1 1 138 1 87 1-31 1-17 1 141 1 21 1 8 1-17 1-22 1-165"/>
<path d="M0 844l1-13 1-4 1-16 1-17 1-7 1-13 1-10 1-4 1-28 1-27 1-40 1-136 1-125 1-56 1-7 1-37 1 91 1 121 1 125 1 66 1 112 1-14 1 96 1-33 1 90 1 1 1 85 1-23 1-59 1-120"/>
<path d="M0 837l1-9 1-3 1-14 1-17 1-11 1-8 1-25 1-2 1-29 1-24 1-26 1-148 1-99 1-53 1-50 1 30 1 48 1 116 1 152 1 71 1 65 1 33 1 49 1-51 1 123 1 53 1-31 1 29 1-55 1-88"/>
<path d="M0 826l1-10 1 6 1-22 1-7 1-15 1-16 1-16 1-2 1-22 1-20 1-47 1-131 1-141 1-62 1-28 1-9 1 112 1 49 1 154 1 172 1-51 1 66 1 84 1 38 1-17 1 156 1-34 1-28 1-19 1-188"/>
<path d="M0 828l1-10 1-6 1-17 1-6 1-18 1-9 1-21 1-8 1-23 1-12 1-57 1-121 1-140 1-34 1-63 1 35 1 71 1 113 1 127 1 132 1 46 1 58 1 0 1 71 1 9 1 31 1 33 1 6 1-123 1-74"/>
<path d="M0 822l1-7 1-3 1-20 1-13 1-7 1-18 1-10 1-3 1-17 1-33 1-43 1-139 1-131 1-55 1-36 1 4 1 70 1 99 1 119 1 227 1-47 1 35 1 45 1-17 1 67 1 104 1-52 1 70 1-70 1-119"/>
<path d="M0 832l1-18 1 6 1-16 1-19 1-15 1-14 1-17 1-3 1-16 1-28 1-53 1-128 1-128 1-52 1-81 1 7 1 84 1 117 1 115 1 171 1 39 1 61 1 43 1 39 1 88 1-10 1 52 1 3 1-69 1-172"/>
<path d="M0 829l1-22 1 3 1-18 1-8 1-18 1-13 1-17 1-12 1-18 1-26 1-50 1-118 1-143 1-59 1-9 1 19 1 34 1 112 1 121 1 126 1 92 1 18 1-1 1 45 1 76 1 68 1 18 1-16 1-35 1-206"/>
<path d="M0 818l1-4 1-3 1-22 1-8 1-13 1-14 1-26 1-2 1-25 1-33 1-48 1-129 1-134 1-58 1-16 1-6 1 27 1 121 1 143 1 123 1 103 1 46 1 35 1-15 1 28 1 105 1 11 1-25 1-33 1-135"/>
<path d="M0 836l1-9 1 0 1-30 1-14 1-18 1-20 1-13 1 0 1-16 1-24 1-46 1-137 1-124 1-54 1-50 1 11 1 92 1 104 1 103 1 127 1 98 1-5 1 105 1-47 1 68 1 47 1-28 1 77 1-71 1-157"/>
<path d="M0 844l1-15 1 7 1-29 1-6 1-19 1-9 1-13 1-1 1-19 1-25 1-45 1-131 1-135 1-57 1-74 1 20 1 55 1 155 1 139 1 110 1 36 1 92 1-22 1-36 1 118 1 128 1-96 1 64 1-21 1-147"/>
<path d="M0 832l1-11 1 5 1-23 1-3 1-19 1-5 1-27 1-3 1-18 1-21 1-38 1-134 1-131 1-70 1-50 1 38 1 53 1 100 1 140 1 111 1 44 1 52 1 63 1-41 1 28 1 166 1-102 1 26 1 6 1-84"/>
<path d="M0 808l1-15 1 8 1-16 1-19 1-15 1-5 1-18 1-2 1-12 1-32 1-54 1-125 1-148 1-35 1-54 1 44 1 55 1 69 1 124 1 209 1-30 1 117 1-6 1 64 1 75 1 14 1-6 1-48 1 38 1-142"/>
<path d="M0 824l1-6 1 6 1-23 1-11 1-12 1-11 1-11 1 2 1-33 1-16 1-51 1-126 1-136 1-30 1-63 1-3 1 73 1 157 1 106 1 144 1 66 1 14 1 21 1 13 1 37 1 114 1-38 1 11 1-73 1-156"/>
<path d="M0 810l1-17 1 10 1-24 1-13 1-12 1-9 1-19 1-2 1-19 1-39 1-55 1-140 1-118 1-34 1-41 1 2 1 37 1 119 1 152 1 115 1 137 1 8 1 4 1-44 1 200 1 7 1-64 1 6 1 34 1-162"/>
<path d="M0 813l1-16 1 11 1-21 1-14 1-8 1-9 1-15 1-10 1-25 1-24 1-57 1-129 1-134 1-45 1-41 1 15 1 35 1 120 1 114 1 212 1-17 1 42 1 61 1 28 1 55 1 7 1-5 1 51 1 2 1-244"/>
<path d="M0 833l1-16 1 6 1-18 1-8 1-14 1-12 1-13 1-11 1-17 1-25 1-51 1-135 1-132 1-60 1-16 1-13 1 75 1 138 1 108 1 184 1 17 1 29 1-53 1 117 1 41 1 90 1-17 1-19 1-104 1-121"/>
<path d="M0 827l1-13 1 6 1-23 1-16 1-23 1-8 1-23 1 4 1-16 1-27 1-49 1-130 1-135 1-48 1-43 1 41 1 66 1 94 1 104 1 158 1 145 1 16 1-65 1 30 1 45 1 56 1 38 1-26 1-30 1-144"/>
<path d="M0 835l1-8 1 7 1-19 1-9 1-17 1-20 1-13 1 2 1-29 1-13 1-52 1-128 1-138 1-62 1-23 1 19 1 33 1 141 1 164 1 139 1-72 1 89 1 51 1 14 1-1 1 90 1 25 1 47 1 3 1-147"/>
<path d="M0 822l1-8 1-7 1-15 1-19 1-15 1-14 1-14 1-1 1-19 1-35 1-49 1-116 1-144 1-42 1 0 1-28 1 89 1 75 1 96 1 176 1 107 1-31 1 37 1 95 1-54 1 93 1 10 1 46 1-55 1-142"/>
<path d="M0 828l1-8 1 5 1-14 1-16 1-12 1-4 1-27 1-3 1-22 1-27 1-52 1-118 1-143 1-48 1-38 1 19 1 49 1 116 1 117 1 156 1-5 1 44 1 83 1 63 1-86 1 141 1-35 1 19 1 32 1-164"/>
<path d="M0 839l1-4 1-7 1-22 1-14 1-14 1-9 1-20 1 6 1-30 1-16 1-56 1-119 1-132 1-48 1-27 1-19 1 94 1 110 1 141 1 131 1 22 1-2 1 64 1 21 1 5 1 99 1 31 1-31 1 54 1-215"/>
<path d="M0 824l1-13 1 5 1-25 1-8 1-13 1-4 1-15 1 6 1-30 1-33 1-46 1-133 1-141 1-19 1-23 1-39 1 91 1 76 1 161 1 209 1-37 1 77 1-13 1 58 1-36 1 186 1-55 1-19 1 23 1-243"/>
<path d="M0 829l1-7 1 3 1-18 1-19 1-16 1-14 1-6 1-9 1-17 1-17 1-45 1-125 1-129 1-62 1 1 1-37 1 60 1 103 1 109 1 156 1 62 1 41 1-6 1 29 1 94 1 17 1-45 1 51 1 44 1-205"/>
<path d="M0 835l1-15 1 3 1-18 1-14 1-15 1-16 1-18 1-5 1-16 1-27 1-45 1-127 1-126 1-52 1-21 1-5 1 68 1 116 1 115 1 63 1 137 1 63 1 43 1-24 1 22 1 66 1-16 1 50 1-29 1-270"/>
<path d="M0 830l1-19 1 6 1-20 1-14 1-17 1-14 1-16 1-6 1-22 1-23 1-42 1-130 1-126 1-46 1-47 1 26 1 20 1 113 1 140 1 201 1 19 1 9 1 22 1 57 1 51 1 103 1-53 1-4 1-29 1-152"/>
<path d="M0 837l1-24 1 4 1-19 1-17 1-8 1-13 1-17 1-7 1-16 1-22 1-51 1-132 1-120 1-69 1-31 1 25 1 35 1 117 1 137 1 125 1 10 1 82 1 23 1 36 1-4 1 144 1-15 1-51 1-49 1-13"/>
<path d="M0 832l1-19 1 17 1-23 1-9 1-19 1-12 1-20 1-3 1-18 1-29 1-36 1-121 1-134 1-60 1-21 1-56 1 120 1 104 1 117 1 123 1 31 1 102 1 45 1-88 1 140 1 30 1-59 1 114 1-5 1-160"/>
<path d="M0 823l1-13 1 6 1-20 1-17 1-18 1-9 1-17 1 3 1-26 1-32 1-48 1-134 1-123 1-43 1-32 1-13 1 65 1 109 1 123 1 113 1 100 1 25 1 63 1-69 1 155 1-8 1-12 1 48 1-42 1-88"/>
<path d="M0 803l1-14 1-2 1-11 1-25 1-13 1-7 1-21 1-6 1-20 1-29 1-55 1-125 1-130 1-44 1-41 1 14 1 65 1 52 1 144 1 181 1 135 1-59 1 15 1 101 1-23 1 94 1 16 1 22 1-129 1-118"/>
<path d="M0 834l1-16 1 5 1-24 1-10 1-10 1-21 1-15 1-5 1-17 1-30 1-36 1-127 1-130 1-51 1-18 1-27 1 86 1 95 1 128 1 187 1 17 1 52 1 34 1-63 1 112 1 43 1 79 1-35 1-52 1-164"/>
<path d="M0 838l1-10 1-3 1-21 1-16 1-11 1-7 1-14 1-13 1-20 1-20 1-53 1-114 1-145 1-30 1-38 1 9 1 72 1 109 1 123 1 125 1 5 1 115 1-79 1 71 1 34 1 118 1-25 1 52 1-83 1-165"/>
<path d="M0 828l1-10 1 8 1-19 1-9 1-21 1 1 1-22 1-8 1-23 1-26 1-42 1-132 1-119 1-64 1-16 1-20 1 46 1 137 1 115 1 91 1 52 1 109 1 56 1-66 1 110 1 34 1 19 1-9 1-9 1-128"/>
<path d="M0 824l1-17 1 4 1-17 1-19 1-14 1-23 1-16 1 7 1-22 1-32 1-43 1-131 1-129 1-34 1-29 1 9 1 59 1 107 1 112 1 129 1 4 1 153 1-14 1-46 1 159 1 44 1 34 1-37 1 12 1-238"/>
<path d="M0 828l1-19 1 13 1-28 1-10 1-18 1-3 1-21 1 12 1-21 1-27 1-46 1-130 1-132 1-52 1-34 1 24 1 39 1 122 1 106 1 145 1 23 1 99 1-28 1 98 1-52 1 127 1 6 1-16 1-35 1-102"/>
<path d="M0 828l1-19 1 4 1-14 1-11 1-6 1-19 1-16 1-8 1-23 1-36 1-44 1-128 1-124 1-56 1-7 1-34 1 102 1 90 1 147 1 147 1 32 1 5 1 89 1-28 1 86 1 71 1-45 1 33 1 5 1-216"/>
<path d="M0 849l1-10 1 0 1-24 1-3 1-19 1-13 1-14 1-5 1-23 1-25 1-44 1-132 1-133 1-39 1-89 1 41 1 85 1 135 1 162 1 55 1 63 1 80 1 30 1-61 1 88 1 80 1-12 1-17 1-31 1-204"/>
<path d="M0 824l1 1 1-2 1-15 1-15 1-9 1-16 1-15 1-14 1-20 1-15 1-37 1-122 1-129 1-29 1-65 1 12 1 91 1 94 1 139 1 84 1 75 1 30 1 28 1 36 1 44 1 30 1-13 1 82 1-56 1-133"/>
<path d="M0 836l1-15 1 2 1-20 1-7 1-16 1-10 1-19 1-2 1-18 1-31 1-33 1-126 1-130 1-65 1-32 1 22 1 42 1 94 1 152 1 81 1 95 1 46 1 10 1 51 1 69 1 23 1 19 1 1 1 27 1-237"/>
<path d="M0 818l1-8 1 0 1-18 1-21 1-10 1-10 1-20 1 13 1-32 1-19 1-53 1-128 1-140 1-36 1-53 1 5 1 81 1 70 1 141 1 165 1 14 1 77 1 42 1 8 1 23 1 111 1-48 1 0 1 19 1-193"/>
<path d="M0 830l1-18 1 1 1-18 1-17 1-11 1-12 1-2 1-6 1-16 1-34 1-48 1-118 1-149 1-45 1-25 1-32 1 63 1 131 1 120 1 125 1 115 1 3 1-23 1 48 1 91 1 66 1 32 1-33 1-40 1-139"/>
<path d="M0 849l1-11 1-6 1-17 1-19 1-6 1-9 1-19 1 7 1-24 1-26 1-37 1-124 1-126 1-39 1-67 1 20 1 90 1 73 1 172 1 0 1 195 1 10 1 13 1 23 1 10 1 40 1 90 1-10 1-70 1-103"/>
<path d="M0 821l1-11 1-4 1-21 1-14 1-12 1-17 1-14 1-13 1-18 1-21 1-47 1-137 1-131 1-43 1-16 1 14 1 62 1 114 1 110 1 199 1 26 1-13 1 74 1-30 1 17 1 142 1-47 1 59 1-33 1-155"/>
<path d="M0 818l1-13 1-2 1-22 1-11 1-13 1-7 1-16 1-7 1-17 1-27 1-63 1-129 1-125 1-74 1 9 1 0 1 61 1 89 1 132 1 115 1 80 1 21 1 59 1 64 1 28 1 0 1 62 1-4 1-35 1-174"/>
<path d="M0 818l1-16 1 5 1-23 1-13 1-18 1-14 1-16 1-1 1-16 1-27 1-51 1-126 1-145 1-39 1-40 1-17 1 89 1 106 1 120 1 138 1 139 1 8 1 39 1 15 1-13 1 84 1-22 1 9 1-2 1-178"/>
<path d="M0 854l1-9 1-4 1-17 1-12 1-16 1-6 1-27 1 4 1-19 1-25 1-36 1-122 1-118 1-62 1-49 1 20 1 83 1 120 1 137 1 15 1 105 1 52 1 62 1 13 1 36 1 52 1 8 1-8 1-5 1-183"/>
<path d="M0 826l1-14 1 4 1-8 1-23 1-16 1-11 1-17 1-9 1-20 1-29 1-44 1-130 1-144 1-30 1-66 1 17 1 80 1 89 1 105 1 173 1 81 1 3 1 43 1 34 1 62 1 40 1 3 1 42 1-75 1-153"/>
<path d="M0 821l1-8 1 5 1-18 1-17 1-15 1-15 1-13 1-16 1-16 1-32 1-49 1-120 1-129 1-54 1-56 1 28 1 32 1 122 1 159 1 205 1 2 1-47 1 148 1-42 1 50 1 100 1-7 1-77 1 67 1-163"/>
<path d="M0 830l1-15 1 1 1-16 1-9 1-10 1-30 1-11 1-11 1-21 1-30 1-53 1-117 1-128 1-44 1-83 1 32 1 93 1 70 1 139 1 186 1 12 1 40 1-53 1 80 1 4 1 94 1 41 1-29 1 8 1-163"/>
<path d="M0 821l1-6 1-3 1-19 1-14 1-7 1-2 1-17 1 2 1-27 1-28 1-49 1-136 1-130 1-55 1-52 1-7 1 105 1 104 1 126 1 147 1 88 1 33 1 47 1-86 1 156 1 28 1-21 1 15 1-59 1-171"/>
<path d="M0 834l1-9 1 0 1-6 1-17 1-12 1-9 1-23 1-2 1-17 1-26 1-40 1-131 1-111 1-78 1-20 1-22 1 108 1 108 1 141 1 156 1-88 1 144 1-14 1 27 1 59 1 68 1 41 1-27 1-20 1-172"/>
<path d="M0 834l1-15 1 5 1-18 1-14 1-15 1-10 1-18 1-10 1-8 1-30 1-51 1-119 1-126 1-31 1-35 1-23 1 79 1 113 1 87 1 125 1 64 1 78 1 22 1-42 1 58 1 92 1-23 1-6 1 5 1-97"/>
<path d="M0 823l1-20 1 9 1-17 1-14 1-4 1-8 1-17 1 7 1-30 1-27 1-36 1-148 1-120 1-48 1-27 1 4 1 47 1 99 1 122 1 160 1 68 1 7 1-73 1 185 1 40 1-3 1-9 1 32 1 56 1-289"/>
<path d="M0 822l1-11 1 3 1-15 1-15 1-23 1-11 1-16 1-2 1-23 1-29 1-47 1-131 1-123 1-52 1-9 1 38 1 28 1 86 1 110 1 216 1 79 1 7 1-40 1 2 1 118 1 25 1 14 1 41 1-25 1-138"/>
<path d="M0 814l1-9 1 4 1-11 1-14 1-11 1-13 1-22 1-5 1-22 1-27 1-45 1-121 1-122 1-47 1-12 1 0 1 71 1 58 1 118 1 171 1 62 1 58 1 14 1 64 1 17 1 20 1-25 1-2 1 43 1-105"/>
<path d="M0 829l1-22 1 2 1-15 1-9 1-16 1-12 1-15 1 3 1-25 1-28 1-45 1-122 1-146 1-45 1-30 1 13 1 81 1 97 1 125 1 104 1 71 1 72 1-11 1-13 1 138 1 15 1 33 1 20 1-32 1-156"/>
<path d="M0 817l1-5 1 2 1-22 1-17 1-17 1-12 1-10 1-1 1-20 1-24 1-53 1-127 1-133 1-49 1-39 1 28 1 0 1 131 1 109 1 144 1 113 1-28 1 50 1-47 1 160 1 106 1-37 1-54 1 11 1-230"/>
<path d="M0 831l1-13 1 11 1-24 1-18 1-10 1-18 1-14 1 2 1-18 1-21 1-46 1-119 1-144 1-45 1-50 1-14 1 87 1 113 1 158 1 138 1 85 1-33 1 96 1-45 1 55 1 60 1 23 1-17 1-89 1-103"/>
<path d="M0 832l1-14 1 9 1-21 1-16 1-19 1-9 1-18 1 2 1-20 1-22 1-38 1-133 1-127 1-64 1-49 1 15 1 65 1 139 1 117 1 71 1 103 1 75 1-30 1 28 1 61 1 106 1-37 1 29 1 10 1-196"/>
<path d="M0 838l1-17 1-2 1-22 1-11 1-15 1-11 1-18 1-5 1-21 1-19 1-42 1-123 1-128 1-50 1-34 1-6 1 40 1 118 1 121 1 130 1 66 1 103 1-11 1-13 1 80 1 30 1-4 1 84 1-74 1-127"/>
<path d="M0 826l1-12 1 0 1-19 1-10 1-14 1-15 1-7 1-16 1-14 1-35 1-52 1-142 1-130 1-67 1-1 1 17 1 71 1 59 1 119 1 166 1 73 1 9 1 42 1 21 1 46 1 99 1-63 1 58 1-43 1-121"/>
<path d="M0 829l1-14 1 4 1-24 1-13 1-16 1-10 1-20 1-1 1-24 1-12 1-53 1-130 1-119 1-43 1-57 1 5 1 38 1 122 1 113 1 161 1 110 1-20 1 40 1 54 1 53 1-38 1 111 1-34 1 1 1-163"/>
<path d="M0 814l1-12 1 7 1-22 1-18 1-11 1-19 1-8 1-4 1-22 1-14 1-54 1-128 1-149 1-56 1-19 1-34 1 101 1 104 1 115 1 174 1 47 1 50 1-5 1 90 1-64 1 154 1-48 1 84 1-54 1-190"/>
<path d="M0 829l1-17 1 4 1-20 1-20 1-6 1-22 1-7 1-5 1-17 1-30 1-54 1-126 1-143 1-42 1-34 1 27 1 61 1 77 1 105 1 199 1 89 1-9 1 18 1 21 1 12 1 82 1 52 1-18 1-23 1-208"/>
<path d="M0 836l1-12 1 1 1-22 1-6 1-14 1-12 1-17 1-6 1-19 1-32 1-40 1-144 1-124 1-35 1-63 1 4 1 93 1 128 1 106 1 112 1 57 1 122 1-92 1 75 1 72 1-10 1 75 1 40 1-80 1-100"/>
<path d="M0 824l1-13 1 1 1-16 1-16 1-6 1-14 1-15 1-6 1-23 1-31 1-44 1-131 1-116 1-56 1-59 1 27 1 80 1 65 1 119 1 201 1 35 1 33 1-3 1 81 1-45 1 54 1 26 1 60 1-33 1-159"/>
<path d="M0 831l1-13 1 5 1-23 1-12 1-14 1-15 1-15 1 1 1-19 1-33 1-40 1-126 1-120 1-70 1-24 1 21 1 74 1 88 1 134 1 65 1 59 1 66 1-2 1 70 1 101 1 41 1 0 1 15 1-53 1-98"/>
<path d="M0 835l1-10 1-2 1-18 1-5 1-23 1-7 1-15 1-2 1-19 1-25 1-46 1-138 1-108 1-63 1-55 1 23 1 50 1 143 1 124 1 95 1 95 1-9 1 20 1 1 1 127 1 3 1 45 1 27 1-86 1-106"/>
<path d="M0 837l1-12 1 5 1-18 1-16 1-14 1-10 1-13 1-1 1-26 1-17 1-48 1-119 1-125 1-56 1-62 1 17 1 71 1 114 1 158 1 95 1 40 1 26 1-5 1 82 1 62 1 2 1 52 1-26 1-49 1-89"/>
<path d="M0 814l1-11 1 1 1-15 1-21 1-16 1-11 1-12 1-2 1-28 1-22 1-50 1-128 1-125 1-74 1-11 1-25 1 89 1 102 1 132 1 105 1 104 1 75 1-49 1 117 1 32 1 33 1-23 1-15 1 1 1-134"/>
<path d="M0 822l1-17 1 1 1-16 1-14 1-14 1-13 1-18 1-5 1-18 1-20 1-54 1-128 1-141 1-45 1-11 1 0 1 63 1 61 1 131 1 187 1 19 1 68 1 87 1-26 1 106 1-44 1 45 1-23 1 54 1-192"/>
<path d="M0 839l1-11 1-6 1-16 1-11 1-15 1-3 1-19 1-9 1-7 1-33 1-41 1-127 1-131 1-51 1-26 1 3 1 85 1 108 1 137 1 88 1 66 1 105 1-92 1 29 1 61 1 164 1-81 1-30 1 1 1-171"/>
<path d="M0 814l1-10 1-1 1-21 1-18 1-12 1-7 1-20 1 1 1-13 1-31 1-63 1-117 1-122 1-29 1-66 1 23 1 87 1 59 1 138 1 132 1 54 1 64 1-16 1 32 1 63 1 39 1 18 1 40 1-36 1-159"/>
<path d="M0 822l1-14 1-7 1-11 1-10 1-20 1-17 1-13 1-11 1-13 1-38 1-45 1-122 1-112 1-51 1-38 1-12 1 61 1 112 1 104 1 206 1-18 1 175 1-112 1 34 1 34 1 108 1 58 1 62 1-103 1-111"/>
<path d="M0 826l1-7 1-6 1-28 1-11 1-11 1-12 1-14 1 1 1-15 1-18 1-42 1-122 1-127 1-65 1-30 1 15 1 34 1 110 1 130 1 101 1 106 1 40 1-6 1 51 1 68 1 28 1 42 1 10 1-78 1-88"/>
<path d="M0 830l1-20 1-3 1-20 1-19 1-9 1-15 1-16 1-9 1-6 1-26 1-47 1-126 1-123 1-46 1-75 1 41 1 59 1 101 1 111 1 134 1 117 1 5 1 61 1-66 1 105 1 20 1 22 1 51 1-83 1-147"/>
<path d="M0 805l1-12 1 4 1-14 1-14 1-16 1-16 1-15 1-4 1-24 1-29 1-57 1-136 1-127 1-49 1-65 1 45 1 65 1 72 1 125 1 167 1 86 1 8 1 23 1 15 1 96 1 96 1-45 1 58 1-40 1-255"/>
<path d="M0 825l1-22 1 6 1-15 1-19 1-12 1-15 1-12 1-3 1-23 1-27 1-47 1-118 1-132 1-28 1-55 1 52 1 31 1 101 1 136 1 109 1 56 1 65 1-12 1 12 1 86 1 78 1-5 1-75 1 26 1-125"/>
<path d="M0 833l1-14 1 1 1-18 1-7 1-20 1-14 1-17 1-12 1-15 1-20 1-47 1-140 1-122 1-65 1-24 1-26 1 93 1 98 1 124 1 94 1 111 1-6 1 82 1-5 1 51 1 28 1-6 1 71 1-52 1-155"/>
<path d="M0 820l1-13 1 3 1-18 1-24 1-19 1-11 1-19 1 6 1-11 1-26 1-56 1-132 1-126 1-60 1-32 1-10 1 93 1 91 1 136 1 224 1-44 1 60 1 21 1-18 1 134 1-15 1-4 1 45 1-12 1-136"/>
<path d="M0 839l1-22 1 8 1-18 1-16 1-8 1-12 1-14 1-2 1-25 1-21 1-48 1-121 1-137 1-66 1-52 1 34 1 56 1 107 1 147 1 75 1 131 1-37 1 53 1 54 1 16 1 28 1 61 1-8 1-32 1-87"/>
<path d="M0 832l1-9 1-2 1-13 1-12 1-15 1-5 1-13 1-3 1-26 1-20 1-51 1-127 1-129 1-65 1-43 1 23 1 56 1 115 1 163 1 159 1-29 1 84 1-21 1 72 1 18 1 65 1-15 1-12 1 10 1-112"/>
<path d="M0 835l1-15 1 0 1-12 1-7 1-19 1-8 1-15 1 4 1-22 1-28 1-39 1-131 1-128 1-60 1-20 1 12 1 76 1 96 1 151 1 95 1 67 1 74 1-31 1 5 1 41 1 80 1 18 1-23 1 26 1-153"/>
<path d="M0 829l1-22 1 2 1-14 1-13 1-7 1-21 1-12 1-11 1-16 1-22 1-46 1-113 1-126 1-60 1-27 1 12 1 42 1 109 1 121 1 154 1 68 1-7 1 32 1 25 1 40 1 33 1 32 1 34 1-39 1-153"/>
<path d="M0 822l1-15 1 2 1-19 1-22 1-26 1-7 1-10 1-5 1-17 1-27 1-49 1-118 1-144 1-57 1 3 1-8 1 60 1 88 1 148 1 149 1 40 1 110 1-57 1 56 1-37 1 162 1 8 1-62 1-13 1-173"/>
<path d="M0 833l1-17 1 4 1-22 1-14 1-16 1-10 1-14 1 0 1-18 1-23 1-50 1-117 1-131 1-58 1-77 1 68 1 49 1 112 1 143 1 126 1 61 1 25 1-50 1 80 1 11 1 102 1 17 1-22 1 54 1-238"/>
<path d="M0 827l1-6 1 7 1-17 1-11 1-11 1-10 1-20 1-4 1-29 1-23 1-54 1-122 1-112 1-82 1-29 1 8 1 86 1 83 1 145 1 204 1-33 1 27 1 46 1 38 1 31 1 78 1-57 1 61 1-89 1-163"/>
<path d="M0 830l1-19 1 3 1-25 1-10 1-17 1-20 1-8 1-2 1-8 1-25 1-50 1-137 1-136 1-53 1-56 1 18 1 59 1 123 1 119 1 173 1 41 1 98 1-101 1 169 1 13 1 4 1-32 1 62 1-58 1-140"/>
<path d="M0 825l1-15 1 1 1-12 1-12 1-3 1-19 1-15 1-5 1-18 1-24 1-47 1-128 1-118 1-62 1-23 1-11 1 62 1 90 1 148 1 131 1 92 1 18 1-4 1 16 1 114 1-16 1 69 1 34 1-36 1-274"/>
<path d="M0 823l1-12 1 4 1-23 1-12 1-17 1-10 1-13 1-4 1-24 1-19 1-54 1-122 1-140 1-40 1-67 1 1 1 59 1 115 1 157 1 146 1 111 1-62 1 89 1-10 1-47 1 178 1-16 1-61 1 76 1-216"/>
<path d="M0 827l1-8 1-4 1-13 1-7 1-18 1-21 1-8 1-12 1-22 1-21 1-63 1-120 1-125 1-54 1-39 1 27 1 71 1 92 1 167 1 74 1 92 1-21 1 62 1 38 1 108 1 51 1-49 1 7 1-18 1-160"/>
<path d="M0 816l1-13 1 7 1-13 1-9 1-9 1-14 1-13 1-12 1-23 1-14 1-52 1-139 1-128 1-37 1-67 1 18 1 50 1 137 1 134 1 77 1 126 1 6 1 29 1-48 1 165 1 70 1-27 1-49 1-1 1-141"/>
<path d="M0 827l1-15 1 8 1-22 1-14 1-22 1-11 1-2 1 1 1-26 1-32 1-47 1-125 1-140 1-36 1-53 1 36 1 60 1 90 1 131 1 111 1 91 1-31 1 79 1-27 1 61 1 54 1 35 1 32 1-7 1-234"/>
<path d="M0 830l1-19 1 11 1-18 1-12 1-12 1-23 1-8 1 1 1-25 1-22 1-52 1-123 1-148 1-54 1-33 1-6 1 99 1 111 1 98 1 111 1 131 1-31 1 88 1-38 1 50 1 97 1-74 1 53 1 5 1-148"/>
<path d="M0 839l1-17 1 0 1-20 1-14 1-9 1-17 1-12 1-9 1-19 1-20 1-40 1-120 1-123 1-73 1-6 1-45 1 91 1 115 1 158 1 166 1-29 1 76 1-7 1-3 1 80 1 9 1 30 1 96 1-95 1-63"/>
<path d="M0 829l1-12 1 6 1-13 1-17 1-9 1-10 1-19 1 3 1-34 1-24 1-53 1-127 1-122 1-58 1-36 1-20 1 77 1 104 1 142 1 181 1 22 1 55 1 82 1-91 1 99 1 25 1-4 1 42 1-27 1-223"/>
<path d="M0 812l1-8 1 5 1-23 1-17 1-17 1-14 1-19 1-2 1-16 1-25 1-59 1-129 1-142 1-25 1-56 1 25 1 49 1 81 1 128 1 207 1 94 1-70 1 79 1-14 1 60 1 71 1-15 1 26 1-82 1-65"/>
<path d="M0 836l1-13 1 5 1-14 1-18 1-17 1-17 1-12 1-15 1-17 1-14 1-38 1-139 1-126 1-40 1-22 1-49 1 59 1 133 1 107 1 195 1 50 1-11 1 45 1 74 1 30 1 38 1-10 1 29 1-64 1-161"/>
<path d="M0 814l1-15 1 12 1-22 1-14 1-15 1-10 1-16 1-5 1-24 1-26 1-40 1-128 1-136 1-37 1-28 1 0 1 69 1 91 1 127 1 174 1 1 1 90 1-12 1 56 1 28 1 71 1-10 1 0 1 21 1-176"/>
<path d="M0 839l1-13 1 9 1-24 1-14 1-24 1-12 1-21 1 7 1-27 1-13 1-49 1-128 1-125 1-71 1-30 1 10 1 78 1 103 1 123 1 176 1-13 1 29 1 51 1 26 1-1 1 152 1-29 1 52 1-36 1-146"/>
<path d="M0 822l1-4 1-4 1-15 1-15 1-14 1-6 1-17 1-11 1-21 1-18 1-47 1-132 1-132 1-46 1-55 1 27 1 71 1 75 1 139 1 86 1 115 1 47 1 15 1 41 1 11 1 135 1-58 1-10 1 5 1-141"/>
<path d="M0 815l1 0 1-4 1-13 1-16 1-11 1-18 1-19 1-6 1-12 1-27 1-55 1-134 1-136 1-70 1-34 1 1 1 54 1 121 1 109 1 167 1 45 1 84 1 30 1-20 1 120 1 32 1-13 1-25 1 4 1-129"/>
<path d="M0 842l1-16 1 3 1-28 1-9 1-10 1-19 1-4 1 4 1-24 1-22 1-34 1-128 1-127 1-62 1-35 1-23 1 58 1 139 1 155 1 109 1 81 1 23 1-10 1 35 1 65 1 36 1-14 1 62 1-40 1-111"/>
<path d="M0 828l1-12 1 3 1-21 1-16 1-16 1-13 1-12 1-7 1-18 1-21 1-43 1-142 1-133 1-69 1-36 1 11 1 104 1 100 1 119 1 107 1 58 1 29 1 133 1-38 1 38 1 23 1 42 1 68 1-58 1-198"/>
<path d="M0 827l1-12 1 1 1-14 1-16 1-14 1-7 1-8 1-14 1-12 1-33 1-44 1-128 1-144 1-43 1-20 1 13 1 50 1 125 1 97 1 175 1 20 1-10 1 114 1 16 1 16 1 81 1-26 1 8 1-28 1-112"/>
<path d="M0 831l1-11 1 3 1-17 1-7 1-21 1-10 1-20 1 1 1-28 1-22 1-47 1-131 1-118 1-53 1-79 1 33 1 66 1 122 1 132 1 160 1-27 1 51 1 63 1 69 1 52 1-32 1 16 1 22 1-26 1-179"/>
<path d="M0 832l1-21 1 5 1-16 1-11 1-16 1-15 1-15 1-9 1-18 1-19 1-53 1-126 1-108 1-65 1-42 1-3 1 75 1 126 1 119 1 165 1 43 1-13 1 44 1 33 1 80 1 13 1 34 1-47 1-27 1-179"/>
<path d="M0 818l1-15 1 7 1-20 1-15 1-11 1-9 1-23 1 6 1-24 1-24 1-51 1-127 1-141 1-65 1-14 1 5 1 56 1 75 1 160 1 177 1 0 1 89 1-10 1 41 1 54 1 48 1 34 1 21 1-35 1-236"/>
<path d="M0 834l1-27 1 9 1-21 1-12 1-13 1-10 1-16 1 4 1-23 1-28 1-52 1-128 1-146 1-54 1-22 1 0 1 60 1 109 1 153 1 180 1 45 1 1 1 36 1 6 1 106 1-20 1 8 1 96 1-81 1-177"/>
<path d="M0 821l1-14 1 10 1-20 1-19 1-5 1-9 1-16 1-5 1-22 1-21 1-60 1-135 1-115 1-47 1-30 1-18 1 67 1 113 1 123 1 135 1 74 1 76 1-42 1 15 1 21 1 110 1-47 1 121 1-74 1-157"/>
<path d="M0 817l1-14 1 0 1-13 1-18 1-12 1-21 1-13 1-10 1-28 1-28 1-40 1-129 1-118 1-59 1-31 1 18 1 56 1 104 1 89 1 225 1-17 1 44 1 10 1 45 1 40 1 75 1 39 1 9 1-116 1-5"/>
<path d="M0 836l1-12 1-3 1-14 1-15 1-17 1-17 1-10 1 3 1-27 1-20 1-47 1-126 1-127 1-39 1-68 1 46 1 41 1 120 1 117 1 76 1 66 1 61 1 48 1 31 1 77 1 55 1-33 1-21 1 50 1-159"/>
<path d="M0 840l1-12 1 5 1-22 1-6 1-11 1-8 1-16 1-2 1-24 1-23 1-40 1-127 1-129 1-41 1-58 1 24 1 63 1 89 1 144 1 182 1-56 1 61 1 33 1 26 1 25 1 75 1 2 1 48 1-143 1-31"/>
<path d="M0 829l1-15 1-5 1-17 1-14 1-14 1-13 1-17 1-7 1-17 1-39 1-38 1-139 1-127 1-55 1-60 1 4 1 87 1 104 1 137 1 204 1 47 1-47 1 87 1 25 1 28 1 77 1-22 1 32 1-28 1-133"/>
<path d="M0 805l1-16 1 12 1-17 1-15 1-15 1-22 1-18 1 0 1-16 1-35 1-46 1-135 1-136 1-45 1-18 1-7 1 69 1 75 1 112 1 188 1 61 1 34 1 3 1 63 1 21 1 105 1-16 1 25 1-51 1-205"/>
<path d="M0 824l1-13 1 2 1-24 1-17 1-10 1-15 1-14 1-1 1-17 1-24 1-57 1-122 1-129 1-42 1-45 1-4 1 65 1 113 1 145 1 156 1 19 1 127 1-43 1-19 1 67 1 84 1-80 1 45 1 22 1-149"/>
<path d="M0 820l1-9 1 3 1-18 1-20 1-8 1-18 1-18 1 1 1-22 1-16 1-53 1-119 1-129 1-73 1-39 1 28 1 52 1 104 1 132 1 200 1-27 1 46 1 17 1 78 1 7 1 108 1-73 1 102 1-61 1-225"/>
<path d="M0 843l1-10 1-1 1-21 1-13 1-11 1-17 1-9 1 3 1-28 1-20 1-41 1-130 1-139 1-41 1-45 1-17 1 64 1 134 1 129 1 142 1 21 1 22 1 116 1-42 1 39 1 83 1-58 1 25 1 36 1-275"/>
<path d="M0 830l1-5 1 0 1-16 1-17 1-17 1 1 1-17 1 5 1-30 1-22 1-55 1-125 1-139 1-49 1-45 1 7 1 125 1 48 1 136 1 156 1 12 1 19 1 89 1 30 1-1 1 63 1 87 1-40 1 18 1-150"/>
<path d="M0 820l1-9 1 1 1-11 1-17 1-21 1-14 1-21 1-1 1-31 1-30 1-46 1-119 1-133 1-54 1-47 1 21 1 26 1 108 1 116 1 204 1 99 1 71 1-23 1 5 1 2 1 75 1-2 1 86 1-65 1-146"/>
<path d="M0 811l1-17 1 9 1-11 1-6 1-20 1-4 1-33 1 1 1-25 1-24 1-47 1-136 1-148 1-19 1-64 1-1 1 56 1 134 1 136 1 224 1-18 1 67 1-14 1 1 1 80 1 19 1 70 1-24 1 37 1-162"/>
<path d="M0 823l1-13 1 6 1-18 1-11 1-15 1-21 1-8 1-5 1-26 1-31 1-48 1-125 1-137 1-49 1-44 1 2 1 44 1 129 1 105 1 160 1 133 1 15 1 8 1-18 1 100 1 106 1-34 1-41 1 33 1-278"/>
<path d="M0 843l1-18 1-4 1-17 1-16 1-12 1-11 1-12 1-8 1-25 1-24 1-43 1-146 1-119 1-55 1-70 1 34 1 96 1 88 1 172 1 110 1 25 1 32 1 67 1-37 1 98 1 60 1 0 1 25 1 4 1-196"/>
<path d="M0 838l1-12 1 1 1-24 1-13 1-3 1-12 1-13 1-12 1-24 1-13 1-56 1-133 1-119 1-66 1-22 1-43 1 105 1 134 1 126 1 111 1 18 1 54 1 46 1 21 1 90 1 28 1 48 1-43 1-13 1-166"/>
<path d="M0 825l1-14 1 7 1-22 1-11 1-12 1-5 1-20 1 2 1-14 1-22 1-44 1-121 1-130 1-58 1-25 1-10 1 40 1 115 1 129 1 122 1 39 1-7 1 90 1 49 1 37 1-8 1 81 1-7 1 2 1-228"/>
<path d="M0 840l1-15 1 4 1-22 1-2 1-25 1-8 1-12 1-5 1-24 1-17 1-53 1-137 1-121 1-78 1-17 1 6 1 56 1 107 1 135 1 149 1 1 1 32 1 76 1 53 1 50 1 86 1-82 1 30 1-54 1-40"/>
<path d="M0 825l1-10 1 6 1-22 1-16 1-17 1-16 1-17 1-8 1-9 1-28 1-41 1-132 1-119 1-64 1-34 1 17 1 81 1 53 1 134 1 179 1 49 1 10 1 9 1-18 1 58 1 127 1-41 1 82 1-33 1-160"/>
<path d="M0 835l1-9 1 1 1-23 1-18 1-17 1-1 1-23 1 1 1-18 1-31 1-43 1-140 1-128 1-51 1-31 1 6 1 83 1 92 1 140 1 121 1 27 1 123 1-36 1-9 1 116 1 64 1-65 1 95 1-73 1-175"/>
<path d="M0 829l1-16 1 8 1-13 1-12 1-18 1-15 1-11 1 2 1-30 1-23 1-47 1-125 1-116 1-40 1-72 1-14 1 91 1 72 1 160 1 142 1 45 1 88 1 66 1-87 1 86 1 16 1 84 1-36 1-53 1-85"/>
<path d="M0 822l1-22 1 6 1-18 1-15 1-11 1-15 1-12 1-3 1-12 1-29 1-47 1-136 1-134 1-49 1-24 1 2 1 42 1 99 1 113 1 189 1 28 1-26 1 53 1 112 1-12 1 88 1-10 1 57 1-111 1-118"/>
<path d="M0 817l1-17 1 6 1-17 1-14 1-12 1-13 1-10 1-8 1-18 1-34 1-51 1-124 1-127 1-52 1-26 1-11 1 55 1 88 1 161 1 179 1-23 1 19 1 144 1-77 1 46 1 77 1 67 1-24 1 22 1-249"/>
<path d="M0 832l1-15 1-7 1-13 1-13 1-16 1-21 1-7 1-1 1-14 1-30 1-45 1-112 1-130 1-74 1-6 1-40 1 89 1 72 1 135 1 126 1 97 1 52 1-47 1 119 1 6 1 111 1-63 1 47 1-55 1-142"/>
<path d="M0 827l1-14 1-1 1-16 1-16 1-13 1-15 1-14 1-11 1-22 1-35 1-47 1-138 1-125 1-36 1-21 1 2 1 30 1 100 1 127 1 177 1 54 1 25 1 34 1 11 1 84 1 79 1-95 1 21 1 30 1-128"/>
<path d="M0 822l1-11 1 0 1-25 1-12 1-5 1-18 1-8 1-5 1-21 1-17 1-58 1-126 1-124 1-62 1-23 1-12 1 73 1 101 1 152 1 135 1 50 1 17 1 23 1 38 1 57 1 54 1 48 1-44 1 13 1-203"/>
<path d="M0 844l1-18 1 8 1-14 1-18 1-11 1-12 1-13 1 1 1-30 1-21 1-44 1-137 1-128 1-66 1-27 1 12 1 73 1 113 1 156 1 88 1 36 1 49 1 1 1 55 1 64 1 64 1-60 1 47 1 27 1-116"/>
<path d="M0 833l1-12 1-7 1-20 1-15 1-14 1-10 1-8 1-15 1-8 1-25 1-44 1-132 1-124 1-58 1-3 1 14 1 1 1 125 1 122 1 149 1 28 1 47 1 85 1-49 1 83 1 88 1-40 1 40 1-49 1-231"/>
<path d="M0 831l1-13 1 1 1-11 1-15 1-15 1-12 1-21 1-4 1-31 1-26 1-42 1-131 1-124 1-41 1-38 1 15 1 39 1 124 1 138 1 80 1 58 1 2 1 120 1-25 1 45 1 95 1-12 1 44 1-38 1-127"/>
<path d="M0 836l1-14 1-4 1-15 1-10 1-10 1-13 1-23 1-5 1-16 1-25 1-51 1-127 1-121 1-69 1-24 1-27 1 111 1 106 1 144 1 124 1-2 1 40 1 24 1 27 1 55 1 103 1 25 1-43 1-23 1-194"/>
<path d="M0 827l1-16 1 7 1-19 1-15 1-9 1-18 1-12 1-10 1-26 1-15 1-48 1-137 1-116 1-46 1-65 1 26 1 59 1 90 1 123 1 148 1 65 1 39 1-14 1 87 1 110 1 1 1-29 1 48 1-61 1-113"/>
<path d="M0 824l1-6 1 1 1-22 1-17 1-22 1-2 1-10 1-9 1-16 1-18 1-41 1-117 1-127 1-61 1-25 1 2 1 30 1 140 1 118 1 148 1-58 1 156 1-27 1 83 1-1 1 93 1-32 1 70 1-22 1-201"/>
<path d="M0 814l1-11 1-1 1-11 1-12 1-26 1-5 1-20 1-5 1-9 1-27 1-52 1-124 1-136 1-46 1-40 1 3 1 62 1 71 1 126 1 135 1 127 1 27 1 14 1 79 1 8 1 8 1 20 1 67 1-12 1-143"/>
<path d="M0 828l1-21 1 0 1-14 1-6 1-11 1-15 1-12 1-3 1-23 1-31 1-59 1-123 1-127 1-31 1-62 1 17 1 95 1 76 1 129 1 165 1 33 1 79 1-21 1 2 1 22 1 58 1 121 1-13 1-78 1-122"/>
<path d="M0 828l1-18 1 7 1-22 1-14 1-17 1 0 1-20 1 1 1-22 1-18 1-44 1-130 1-135 1-50 1-34 1-32 1 67 1 123 1 120 1 243 1-20 1 38 1-29 1 34 1 59 1 67 1-4 1 21 1-1 1-96"/>
<path d="M0 827l1-13 1 9 1-24 1-12 1-17 1-10 1-19 1-12 1-14 1-32 1-53 1-127 1-135 1-50 1-50 1 39 1 46 1 108 1 145 1 106 1 127 1-19 1 18 1 41 1-25 1 143 1-7 1 77 1-91 1-101"/>
<path d="M0 824l1-13 1 10 1-15 1-16 1-19 1-12 1-14 1-7 1-19 1-32 1-44 1-127 1-133 1-47 1-56 1 34 1 60 1 73 1 163 1 109 1 56 1 70 1 37 1 26 1 70 1 9 1 7 1 32 1-21 1-171"/>
<path d="M0 822l1-16 1 12 1-21 1-18 1-14 1-17 1-17 1-3 1-19 1-32 1-28 1-145 1-112 1-49 1-23 1-59 1 78 1 111 1 154 1 105 1 26 1 89 1 30 1 0 1 28 1 108 1 28 1-81 1 40 1-116"/>
<path d="M0 819l1-1 1-6 1-19 1-18 1-18 1-11 1-12 1-6 1-12 1-32 1-51 1-122 1-147 1-54 1-36 1 11 1 55 1 99 1 115 1 210 1 25 1 63 1 96 1-62 1 29 1 56 1-28 1 93 1-104 1-72"/>
<path d="M0 821l1-15 1 0 1-12 1-18 1-6 1-10 1-16 1 0 1-31 1-26 1-47 1-130 1-146 1-50 1-38 1 10 1 45 1 118 1 106 1 198 1 40 1 78 1-66 1 80 1 80 1 16 1 5 1 38 1 15 1-197"/>
<path d="M0 836l1-7 1-1 1-28 1-8 1-17 1-10 1-12 1-7 1-12 1-26 1-52 1-128 1-135 1-62 1 9 1-40 1 100 1 81 1 181 1 96 1 34 1 26 1-4 1 50 1 58 1 84 1-25 1 1 1 38 1-191"/>
<path d="M0 841l1-24 1 7 1-20 1-9 1-14 1-14 1-24 1-6 1-16 1-23 1-42 1-109 1-133 1-54 1-44 1-23 1 114 1 82 1 135 1 112 1 76 1 42 1-6 1 36 1 5 1 174 1-46 1 16 1-21 1-206"/>
<path d="M0 834l1-16 1-2 1-22 1-10 1-11 1-12 1-25 1 10 1-19 1-23 1-42 1-129 1-134 1-61 1-22 1 7 1 54 1 129 1 121 1 143 1 112 1-67 1 101 1 16 1-21 1 63 1-23 1 77 1-17 1-187"/>
<path d="M0 827l1-13 1 11 1-20 1-14 1-16 1-18 1-24 1 6 1-22 1-23 1-50 1-125 1-132 1-65 1-37 1 54 1 46 1 110 1 113 1 174 1 47 1 51 1-29 1 41 1 111 1 7 1-27 1 45 1-3 1-142"/>
<path d="M0 845l1-10 1 1 1-23 1-18 1-14 1-10 1-14 1-8 1-10 1-25 1-43 1-118 1-123 1-50 1-59 1 17 1 71 1 108 1 164 1 89 1-17 1 68 1-7 1 69 1 37 1 114 1-3 1-78 1 97 1-213"/>
<path d="M0 833l1-11 1 5 1-15 1-19 1-6 1-21 1-14 1-3 1-24 1-15 1-50 1-135 1-138 1-68 1 17 1-29 1 66 1 124 1 125 1 145 1 8 1 104 1-22 1 34 1 102 1-14 1-36 1 27 1 32 1-187"/>
<path d="M0 837l1-14 1-5 1-15 1-11 1-16 1-13 1-11 1-3 1-20 1-25 1-34 1-132 1-138 1-42 1-35 1-12 1 80 1 97 1 147 1 74 1 102 1 15 1 74 1 30 1-44 1 84 1 48 1-19 1 18 1-138"/>
<path d="M0 830l1-14 1 6 1-19 1-21 1-14 1-13 1-13 1 1 1-19 1-27 1-43 1-133 1-124 1-60 1-50 1 43 1 65 1 109 1 130 1 70 1 98 1 16 1 86 1-37 1 43 1 111 1-4 1-13 1-36 1-104"/>
<path d="M0 840l1-16 1 4 1-21 1-12 1-16 1-12 1-24 1-5 1-15 1-12 1-53 1-131 1-137 1-63 1-2 1-16 1 47 1 127 1 173 1 73 1 69 1 75 1 12 1 63 1 64 1-3 1-13 1-17 1 40 1-198"/>
<path d="M0 822l1-15 1 0 1-13 1-12 1-16 1-10 1-13 1-9 1-21 1-28 1-46 1-118 1-139 1-50 1-31 1-10 1 74 1 100 1 121 1 192 1-21 1 31 1 29 1 68 1 43 1 36 1 31 1 32 1-90 1-169"/>
<path d="M0 824l1-13 1 4 1-15 1-15 1-12 1-7 1-10 1-14 1-14 1-45 1-55 1-126 1-128 1-56 1-33 1 7 1 72 1 128 1 104 1 174 1 7 1 58 1 14 1 56 1 51 1 30 1 22 1 15 1-64 1-168"/>
<path d="M0 819l1-10 1 1 1-18 1-12 1-18 1-9 1-18 1 0 1-28 1-29 1-51 1-118 1-138 1-48 1-66 1 37 1 57 1 87 1 113 1 223 1 63 1-34 1 12 1 66 1 59 1 35 1 16 1 53 1-147 1 7"/>
<path d="M0 841l1-13 1-5 1-17 1-19 1-14 1-12 1-17 1 1 1-19 1-31 1-33 1-121 1-135 1-59 1-52 1 23 1 80 1 120 1 112 1 160 1 36 1 53 1 37 1-50 1 3 1 129 1-36 1 74 1-30 1-112"/>
<path d="M0 825l1-6 1-3 1-13 1-17 1-14 1-3 1-13 1-7 1-17 1-26 1-47 1-129 1-121 1-60 1-44 1 19 1 58 1 108 1 138 1 125 1 24 1 15 1 88 1 41 1-28 1 73 1 67 1 37 1-111 1-156"/>
<path d="M0 826l1-14 1 4 1-20 1-12 1-14 1-20 1-13 1 4 1-20 1-22 1-43 1-140 1-124 1-65 1-33 1-25 1 64 1 122 1 118 1 163 1 77 1 44 1-23 1 54 1 15 1 79 1 29 1 56 1-54 1-205"/>
<path d="M0 809l1-15 1 15 1-21 1-11 1-12 1-12 1-20 1-8 1-27 1-24 1-60 1-116 1-134 1-82 1-3 1 0 1 67 1 107 1 125 1 132 1 54 1 41 1 69 1 90 1 7 1 2 1 10 1 70 1-115 1-175"/>
<path d="M0 810l1-14 1 1 1-17 1-18 1-9 1-17 1-10 1-2 1-22 1-22 1-51 1-131 1-120 1-71 1-37 1-2 1 66 1 89 1 120 1 139 1 79 1 104 1-36 1 61 1 40 1 90 1-49 1 58 1-78 1-151"/>
<path d="M0 833l1-15 1 9 1-21 1-14 1-15 1-8 1-27 1 4 1-21 1-27 1-41 1-129 1-130 1-45 1-39 1-1 1 68 1 95 1 154 1 98 1 77 1 23 1-11 1 60 1 62 1 105 1 32 1-75 1 27 1-78"/>
<path d="M0 818l1-18 1 7 1-13 1-19 1-21 1-2 1-15 1-13 1-15 1-25 1-57 1-123 1-141 1-43 1-43 1 33 1 42 1 65 1 122 1 249 1-19 1 61 1-12 1-6 1 194 1 3 1-6 1 29 1-12 1-181"/>
<path d="M0 809l1-15 1 8 1-20 1-22 1-16 1-10 1-15 1 0 1-13 1-26 1-62 1-128 1-132 1-37 1-35 1-18 1 60 1 112 1 133 1 169 1 61 1 77 1-18 1 30 1 73 1-28 1-6 1 75 1-7 1-187"/>
<path d="M0 828l1-5 1 0 1-20 1-7 1-16 1-4 1-23 1-1 1-23 1-31 1-36 1-141 1-136 1-56 1-56 1 11 1 63 1 122 1 165 1 135 1 27 1 69 1 6 1 29 1 60 1 56 1-51 1 98 1-43 1-182"/>
<path d="M0 826l1-15 1 2 1-23 1-13 1-15 1 0 1-11 1-7 1-17 1-23 1-43 1-124 1-138 1-72 1-25 1-10 1 74 1 126 1 130 1 85 1 109 1-1 1 24 1 71 1-37 1 164 1-54 1-50 1 44 1-92"/>
<path d="M0 824l1-16 1-2 1-21 1-8 1-16 1-7 1-10 1-12 1-22 1-24 1-54 1-132 1-134 1-45 1-47 1 35 1 18 1 117 1 117 1 173 1 26 1 99 1-62 1 115 1 34 1 60 1 17 1-28 1 5 1-129"/>
<path d="M0 816l1-17 1 7 1-17 1-17 1-9 1-7 1-16 1-4 1-11 1-26 1-51 1-141 1-139 1-21 1-57 1 5 1 49 1 105 1 129 1 102 1 151 1 91 1-74 1 69 1-8 1 91 1-56 1 86 1-104 1-156"/>
<path d="M0 832l1-4 1-4 1-18 1-19 1-11 1-16 1-11 1-2 1-24 1-20 1-34 1-130 1-129 1-49 1-75 1 5 1 49 1 124 1 135 1 224 1-65 1 104 1 12 1 10 1 44 1 64 1 18 1 26 1-18 1-164"/>
<path d="M0 811l1-19 1 11 1-23 1-20 1-10 1-14 1-22 1 6 1-12 1-33 1-48 1-127 1-131 1-60 1-45 1 15 1 75 1 98 1 125 1 191 1-1 1 88 1 26 1 18 1 35 1-7 1 55 1 64 1-41 1-103"/>
<path d="M0 813l1-9 1 3 1-10 1-24 1-6 1-11 1-15 1-8 1-16 1-32 1-43 1-135 1-143 1-65 1-50 1 38 1 69 1 97 1 124 1 158 1 55 1 58 1-56 1 48 1 48 1 138 1-13 1-18 1-37 1-207"/>
<path d="M0 820l1-14 1 4 1-18 1-13 1-10 1-9 1-19 1-8 1-16 1-33 1-58 1-128 1-142 1-61 1-10 1-1 1 51 1 118 1 116 1 183 1 55 1 16 1-1 1 64 1 39 1 87 1-8 1-18 1-20 1-195"/>
<path d="M0 843l1-10 1-2 1-25 1-14 1-14 1-13 1-13 1 2 1-21 1-29 1-49 1-129 1-142 1-39 1-95 1 45 1 51 1 158 1 167 1 73 1 96 1-6 1 32 1 0 1 97 1 32 1 20 1 48 1-94 1-76"/>
<path d="M0 829l1-11 1 1 1-18 1-19 1-14 1-10 1-21 1 5 1-25 1-25 1-51 1-119 1-138 1-44 1-39 1 30 1 22 1 130 1 121 1 110 1 124 1 2 1 49 1-16 1 114 1-70 1 85 1-11 1 11 1-212"/>
<path d="M0 814l1-15 1 7 1-23 1-10 1-14 1-10 1-15 1-10 1-15 1-36 1-48 1-128 1-133 1-68 1-29 1-9 1 85 1 105 1 110 1 146 1 62 1 64 1 35 1-30 1 105 1 22 1 31 1-30 1 24 1-200"/>
<path d="M0 818l1-5 1 2 1-14 1-16 1-13 1-4 1-27 1-11 1-24 1-29 1-36 1-151 1-127 1-35 1-64 1 12 1 86 1 122 1 114 1 119 1 112 1 68 1-43 1-9 1 159 1 0 1 21 1-38 1-29 1-77"/>
<path d="M0 828l1-13 1 3 1-21 1-15 1-17 1-14 1-15 1 0 1-21 1-27 1-43 1-139 1-135 1-29 1-82 1 30 1 85 1 72 1 139 1 155 1 126 1-66 1-1 1 122 1-34 1 116 1-19 1 49 1-68 1-159"/>
<path d="M0 830l1-20 1 0 1-14 1-15 1-17 1 1 1-18 1-1 1-26 1-29 1-48 1-116 1-136 1-30 1-41 1 15 1 41 1 106 1 102 1 146 1 48 1 47 1-16 1 76 1 32 1 132 1-80 1 21 1-66 1-77"/>
<path d="M0 821l1-17 1 6 1-22 1-10 1-20 1-15 1-12 1-3 1-22 1-33 1-47 1-124 1-128 1-83 1 9 1-12 1 54 1 74 1 141 1 191 1 11 1 59 1 84 1-32 1 52 1 76 1-35 1 1 1 15 1-198"/>
<path d="M0 823l1-10 1 9 1-20 1-15 1-17 1-9 1-14 1-10 1-20 1-23 1-52 1-121 1-126 1-79 1-25 1 0 1 56 1 128 1 176 1 139 1-3 1 34 1 86 1 9 1 14 1 63 1-12 1 1 1-3 1-113"/>
<path d="M0 830l1-13 1-3 1-21 1-22 1-11 1-6 1-14 1-4 1-24 1-31 1-44 1-127 1-132 1-59 1-23 1 11 1 21 1 118 1 102 1 191 1 133 1-67 1 69 1-78 1 84 1 142 1-56 1 39 1-54 1-166"/>
<path d="M0 829l1-12 1-1 1-24 1-21 1-7 1-11 1-12 1-8 1-16 1-24 1-41 1-129 1-124 1-58 1-37 1 9 1 13 1 158 1 125 1 69 1 87 1 14 1 81 1-32 1 92 1 58 1 68 1-2 1-120 1-166"/>
<path d="M0 836l1-21 1 3 1-20 1-11 1-17 1-3 1-25 1 8 1-27 1-25 1-46 1-130 1-132 1-33 1-65 1 26 1 55 1 111 1 151 1 72 1 116 1 52 1-6 1 77 1 3 1 128 1-22 1-22 1-27 1-173"/>
<path d="M0 821l1-16 1 2 1-20 1-18 1-19 1-21 1-9 1 2 1-10 1-31 1-49 1-122 1-145 1-56 1 1 1-39 1 47 1 113 1 135 1 228 1 46 1-31 1 60 1 3 1 56 1 73 1-8 1-38 1 52 1-102"/>
<path d="M0 844l1-18 1 5 1-25 1-15 1-19 1-3 1-13 1-12 1-13 1-18 1-49 1-129 1-127 1-43 1-47 1 4 1 75 1 155 1 123 1 88 1 72 1 46 1 37 1-21 1 7 1 128 1-24 1 27 1 41 1-199"/>
<path d="M0 832l1-11 1-3 1-17 1-13 1-13 1-7 1-8 1-2 1-22 1-30 1-46 1-125 1-133 1-44 1-43 1 24 1 63 1 86 1 130 1 119 1 67 1 43 1-28 1 125 1-22 1 57 1 62 1-37 1-83 1-80"/>
<path d="M0 828l1-18 1 9 1-18 1-9 1-12 1-16 1-21 1 3 1-28 1-25 1-54 1-123 1-128 1-71 1-6 1-2 1 24 1 138 1 133 1 181 1-18 1 81 1 49 1 54 1-33 1-8 1 72 1 46 1 12 1-234"/>
<path d="M0 848l1-15 1 3 1-24 1-10 1-12 1-6 1-20 1-6 1-21 1-27 1-38 1-130 1-137 1-70 1 4 1-11 1 58 1 116 1 155 1 74 1 84 1 17 1 50 1 38 1 32 1 121 1-4 1 29 1-120 1-114"/>
<path d="M0 847l1-15 1-1 1-17 1-16 1-16 1-10 1-16 1 1 1-17 1-17 1-49 1-127 1-147 1-48 1-5 1 10 1 83 1 103 1 147 1 102 1 28 1-48 1 103 1 5 1 23 1 139 1-60 1 91 1-81 1-159"/>
<path d="M0 830l1-14 1 3 1-20 1-14 1-19 1-8 1-13 1-5 1-20 1-28 1-45 1-115 1-148 1-46 1-64 1-4 1 120 1 74 1 142 1 138 1 101 1-40 1 72 1 73 1-61 1 112 1 12 1 52 1-89 1-259"/>
<path d="M0 836l1-18 1 2 1-20 1-9 1-19 1-13 1-13 1-2 1-23 1-22 1-54 1-120 1-146 1-27 1-62 1 58 1 22 1 125 1 92 1 106 1 121 1 71 1-27 1 60 1 83 1 6 1 1 1 85 1-161 1-116"/>
<path d="M0 835l1-13 1 5 1-19 1-11 1-21 1-7 1-18 1-13 1-21 1-20 1-52 1-134 1-134 1-45 1-37 1-27 1 82 1 138 1 118 1 166 1-29 1 95 1 86 1-81 1 87 1 88 1-34 1-17 1 80 1-171"/>
<path d="M0 830l1-10 1 7 1-15 1-23 1-19 1-22 1-25 1-5 1-18 1-27 1-31 1-133 1-134 1-65 1-31 1 18 1 52 1 97 1 124 1 108 1 91 1-17 1 128 1-58 1 57 1 119 1-73 1 77 1-40 1-149"/>
<path d="M0 806l1-19 1 8 1-19 1-9 1-20 1-9 1-5 1-9 1-28 1-24 1-57 1-138 1-131 1-26 1-79 1 44 1 7 1 108 1 136 1 201 1 44 1 7 1-4 1 70 1 108 1 14 1 27 1 49 1-129 1-114"/>
<path d="M0 836l1-12 1 0 1-20 1-17 1-12 1-15 1-18 1 3 1-24 1-16 1-47 1-136 1-126 1-37 1-40 1 12 1 41 1 109 1 129 1 98 1 17 1 101 1 20 1 9 1 81 1 106 1-44 1 0 1 8 1-219"/>
<path d="M0 815l1-19 1 1 1-20 1-21 1-18 1-9 1-14 1 4 1-19 1-37 1-40 1-150 1-123 1-59 1-53 1 33 1 24 1 99 1 135 1 293 1-83 1 4 1 122 1-55 1 113 1 62 1-34 1 79 1-55 1-157"/>
<path d="M0 817l1-13 1 3 1-14 1-16 1-13 1-5 1-16 1-7 1-14 1-30 1-61 1-126 1-137 1-52 1-37 1 6 1 83 1 95 1 138 1 102 1 91 1-7 1 41 1 112 1-39 1 39 1-2 1 33 1 7 1-103"/>
<path d="M0 835l1-17 1 5 1-21 1-14 1-14 1-24 1-6 1-14 1-22 1-18 1-50 1-130 1-136 1-43 1-39 1 23 1 74 1 95 1 110 1 162 1 105 1-34 1 67 1-23 1 72 1 51 1 21 1-5 1-20 1-136"/>
<path d="M0 851l1-17 1 2 1-22 1-8 1-19 1-6 1-15 1 3 1-26 1-23 1-39 1-125 1-130 1-50 1-58 1 27 1 98 1 122 1 146 1 30 1 73 1 64 1-22 1 73 1 18 1 82 1-56 1 60 1-42 1-155"/>
<path d="M0 835l1-14 1 2 1-24 1-9 1-13 1-10 1-12 1-1 1-17 1-22 1-37 1-128 1-126 1-62 1-41 1 1 1 75 1 99 1 149 1 98 1 66 1-12 1 133 1-70 1 58 1 65 1 2 1 46 1 10 1-213"/>
<path d="M0 823l1-18 1 8 1-16 1-12 1-20 1-11 1-12 1-5 1-24 1-21 1-48 1-146 1-130 1-48 1-31 1-31 1 71 1 120 1 131 1 119 1 159 1 0 1-72 1 126 1 17 1 73 1-37 1 29 1-11 1-209"/>
<path d="M0 823l1-11 1 6 1-24 1-17 1-9 1-14 1-15 1-3 1-18 1-30 1-59 1-124 1-145 1-48 1-8 1-50 1 96 1 88 1 139 1 132 1 78 1 77 1 1 1-56 1 146 1 14 1 32 1-17 1 35 1-194"/>
<path d="M0 830l1-15 1 9 1-21 1-12 1-16 1-10 1-19 1-10 1-16 1-22 1-44 1-129 1-128 1-49 1-59 1 13 1 54 1 106 1 156 1 131 1 153 1-61 1 10 1 77 1 24 1 59 1-25 1 64 1-85 1-97"/>
<path d="M0 818l1-11 1 5 1-15 1-20 1-9 1-7 1-19 1-7 1-18 1-26 1-44 1-139 1-125 1-55 1-41 1 0 1 77 1 126 1 110 1 232 1-49 1 26 1 11 1 45 1 43 1 133 1 5 1-52 1-61 1-180"/>
<path d="M0 825l1-23 1 6 1-16 1-16 1-21 1-5 1-24 1-11 1-19 1-28 1-37 1-132 1-129 1-46 1-60 1 34 1 85 1 80 1 128 1 126 1 85 1 7 1 92 1 1 1 44 1 111 1-60 1 39 1-40 1-193"/>
<path d="M0 832l1-5 1 1 1-16 1-11 1-22 1-14 1-21 1-5 1-18 1-38 1-49 1-125 1-127 1-48 1-39 1 18 1 72 1 101 1 122 1 129 1 21 1 88 1-18 1 56 1 112 1-52 1 47 1 34 1-35 1-135"/>
<path d="M0 846l1-11 1 5 1-23 1-23 1-11 1-10 1-17 1 6 1-25 1-15 1-48 1-131 1-145 1-61 1-18 1-25 1 96 1 116 1 135 1 109 1 120 1-28 1 29 1-1 1 95 1 85 1-94 1 82 1-102 1-179"/>
<path d="M0 836l1-12 1 6 1-23 1-18 1-14 1-14 1-12 1-5 1-16 1-22 1-40 1-138 1-127 1-53 1-25 1-2 1 79 1 107 1 123 1 128 1 43 1 27 1 40 1 19 1 104 1-35 1 50 1 9 1-47 1-91"/>
<path d="M0 834l1-14 1 4 1-18 1-19 1-13 1-6 1-13 1-10 1-16 1-25 1-32 1-138 1-142 1-33 1-58 1 2 1 70 1 122 1 142 1 150 1-16 1 68 1 52 1 21 1 35 1 66 1-23 1 17 1 0 1-145"/>
<path d="M0 831l1-18 1 5 1-14 1-22 1-10 1-8 1-17 1-5 1-24 1-28 1-50 1-144 1-128 1-45 1-66 1-1 1 67 1 143 1 136 1 175 1-85 1 125 1 63 1-16 1 1 1 142 1 22 1-22 1-45 1-146"/>
<path d="M0 818l1-12 1 3 1-25 1-15 1-16 1-2 1-20 1 1 1-25 1-28 1-42 1-129 1-127 1-42 1-43 1-7 1 97 1 79 1 143 1 103 1 109 1 74 1-86 1 95 1 30 1 54 1-38 1 37 1-43 1-129"/>
<path d="M0 835l1-15 1 2 1-18 1-16 1-19 1-10 1-9 1 3 1-24 1-17 1-39 1-138 1-144 1-57 1-35 1 14 1 74 1 95 1 133 1 206 1 50 1-14 1-32 1 18 1 136 1 8 1-41 1 72 1-7 1-122"/>
<path d="M0 826l1-10 1 5 1-14 1-23 1-6 1-17 1-13 1-12 1-15 1-27 1-44 1-133 1-145 1-64 1-19 1-16 1 54 1 137 1 147 1 124 1 67 1 80 1-4 1-5 1 22 1 60 1-23 1 67 1-1 1-173"/>
<path d="M0 830l1-16 1 1 1-30 1-13 1-11 1-10 1-11 1 1 1-19 1-25 1-36 1-131 1-137 1-70 1-36 1 4 1 68 1 112 1 133 1 168 1 13 1 24 1 38 1-31 1 103 1 57 1 29 1-5 1 19 1-156"/>
<path d="M0 823l1-13 1 3 1-25 1-3 1-21 1-5 1-13 1 4 1-25 1-37 1-48 1-126 1-150 1-43 1-16 1-26 1 106 1 117 1 123 1 79 1 63 1 75 1 11 1 2 1 50 1 88 1-10 1-8 1-15 1-84"/>
<path d="M0 824l1-13 1 2 1-18 1-14 1-22 1-13 1-15 1-2 1-19 1-24 1-53 1-133 1-135 1-69 1-53 1 63 1 53 1 92 1 125 1 158 1 19 1 60 1 72 1-31 1 76 1 106 1-55 1 26 1-4 1-226"/>
<path d="M0 815l1-9 1 10 1-22 1-13 1-14 1-14 1-21 1-1 1-19 1-28 1-39 1-128 1-139 1-53 1-44 1-14 1 83 1 87 1 122 1 199 1-19 1 138 1-94 1 49 1 89 1 65 1-62 1 97 1-66 1-145"/>
<path d="M0 835l1-8 1 0 1-22 1-5 1-19 1-9 1-20 1-6 1-19 1-20 1-55 1-123 1-120 1-63 1-34 1 27 1 40 1 75 1 144 1 98 1 73 1 78 1-1 1 82 1 67 1 16 1-38 1 55 1-68 1-76"/>
<path d="M0 830l1-12 1 2 1-15 1-7 1-19 1-17 1-14 1-7 1-14 1-33 1-43 1-120 1-139 1-63 1-23 1-12 1 94 1 72 1 155 1 114 1 119 1 17 1-56 1 84 1 83 1 7 1 21 1-24 1 24 1-165"/>
<path d="M0 833l1-9 1 6 1-18 1-12 1-17 1-15 1-8 1-14 1-15 1-30 1-51 1-118 1-129 1-56 1-7 1-26 1 82 1 96 1 131 1 190 1 17 1-59 1 75 1 57 1 110 1 18 1-25 1 19 1-18 1-101"/>
<path d="M0 827l1 0 1 4 1-18 1-19 1-14 1-13 1-15 1-6 1-21 1-28 1-44 1-123 1-132 1-59 1-17 1 5 1 38 1 118 1 114 1 186 1 53 1 15 1 64 1-66 1 94 1 73 1-29 1 43 1-21 1-187"/>
<path d="M0 823l1-17 1 8 1-14 1-9 1-15 1-7 1-16 1-16 1-16 1-31 1-55 1-123 1-135 1-37 1-6 1-9 1 59 1 109 1 131 1 56 1 193 1-41 1 62 1-33 1 90 1 22 1 69 1-30 1-89 1-68"/>
<path d="M0 830l1-4 1 2 1-24 1-13 1-16 1-14 1-20 1-15 1-14 1-26 1-48 1-121 1-131 1-77 1-37 1 26 1 43 1 134 1 138 1 155 1 38 1 48 1 21 1 35 1 114 1 13 1-67 1 4 1 0 1-89"/>
<path d="M0 830l1-8 1 2 1-23 1-11 1-18 1-7 1-18 1-3 1-19 1-31 1-42 1-131 1-116 1-52 1-60 1 3 1 59 1 110 1 139 1 133 1 100 1-3 1-15 1 60 1 129 1 13 1 4 1-35 1 57 1-209"/>
<path d="M0 830l1-8 1-3 1-15 1-11 1-17 1-16 1-10 1-5 1-17 1-16 1-40 1-131 1-138 1-50 1-39 1-37 1 111 1 86 1 110 1 132 1 35 1 118 1-59 1 129 1 44 1 13 1-11 1 27 1-12 1-173"/>
<path d="M0 841l1-13 1 4 1-18 1-15 1-16 1-15 1-17 1 3 1-25 1-15 1-46 1-120 1-132 1-48 1-73 1 18 1 79 1 121 1 150 1 107 1 77 1 14 1 0 1 2 1 103 1 103 1-72 1 45 1-83 1-161"/>
<path d="M0 828l1-11 1 7 1-18 1-16 1-13 1-13 1-18 1 2 1-28 1-24 1-54 1-137 1-117 1-52 1-16 1-30 1 72 1 110 1 114 1 177 1 38 1 37 1-6 1 60 1 77 1 55 1-55 1 52 1-60 1-111"/>
<path d="M0 811l1-19 1 8 1-22 1-20 1-15 1-6 1-19 1-6 1-16 1-33 1-47 1-129 1-143 1-32 1-67 1 25 1 55 1 85 1 130 1 169 1 137 1 15 1 51 1-62 1-19 1 111 1 55 1 1 1-69 1-116"/>
<path d="M0 821l1-12 1 2 1-20 1-13 1-18 1-16 1-13 1-1 1-22 1-19 1-41 1-139 1-127 1-46 1-38 1-8 1 103 1 73 1 122 1 105 1 160 1-62 1 45 1 98 1 31 1 53 1-82 1 59 1 5 1-197"/>
<path d="M0 815l1-5 1 1 1-20 1-17 1-12 1-14 1-12 1-2 1-20 1-22 1-50 1-133 1-124 1-52 1-64 1 24 1 73 1 104 1 136 1 146 1 43 1 46 1 24 1 56 1 6 1 95 1-30 1 3 1-58 1-81"/>
<path d="M0 832l1-26 1 3 1-14 1-17 1-18 1-8 1-15 1-6 1-16 1-15 1-42 1-137 1-140 1-49 1-37 1-18 1 91 1 90 1 143 1 114 1 95 1-7 1 22 1 73 1 65 1-6 1 9 1 29 1 3 1-151"/>
<path d="M0 823l1-7 1 4 1-18 1-13 1-22 1-7 1-20 1 1 1-18 1-24 1-49 1-136 1-131 1-42 1-75 1 28 1 68 1 110 1 145 1 136 1 60 1-42 1 102 1 7 1 56 1 48 1 18 1 57 1-37 1-165"/>
<path d="M0 816l1-14 1 2 1-21 1-20 1-14 1-8 1-15 1-1 1-19 1-36 1-47 1-124 1-133 1-59 1-9 1-19 1 78 1 48 1 124 1 194 1 49 1 57 1-42 1 75 1 50 1 60 1 26 1 52 1-91 1-80"/>
<path d="M0 834l1-18 1 5 1-26 1-7 1-21 1-5 1-15 1-2 1-18 1-20 1-54 1-130 1-130 1-55 1-43 1 13 1 70 1 116 1 143 1 104 1-7 1 170 1 5 1-34 1 116 1 27 1-21 1 12 1-17 1-244"/>
<path d="M0 841l1-17 1 6 1-24 1-20 1-5 1-22 1 0 1-17 1-20 1-25 1-49 1-120 1-125 1-55 1-45 1 22 1 56 1 117 1 130 1 144 1 39 1 33 1 20 1-20 1 117 1 55 1-61 1 116 1-63 1-204"/>
<path d="M0 845l1-14 1 4 1-27 1-13 1-18 1-8 1-12 1-1 1-20 1-33 1-47 1-123 1-132 1-56 1-29 1 8 1 87 1 107 1 160 1 129 1 17 1 45 1-2 1 27 1 23 1 134 1-57 1 5 1 11 1-157"/>
<path d="M0 820l1-12 1 1 1-12 1-18 1-14 1-8 1-21 1-11 1-21 1-25 1-48 1-128 1-124 1-39 1-40 1-17 1 90 1 99 1 118 1 143 1 69 1 85 1-35 1 63 1 36 1 0 1 45 1 15 1-33 1-174"/>
<path d="M0 833l1-17 1 10 1-26 1-6 1-8 1-16 1-19 1-2 1-19 1-34 1-37 1-130 1-122 1-43 1-61 1 0 1 108 1 86 1 150 1 141 1 36 1 35 1-23 1 35 1 37 1 61 1 2 1 56 1-15 1-162"/>
<path d="M0 836l1-11 1-10 1-13 1-18 1-14 1-9 1-17 1-2 1-12 1-28 1-37 1-128 1-131 1-55 1-61 1 34 1 67 1 94 1 122 1 177 1-69 1 84 1 32 1 55 1 43 1 69 1 0 1 27 1 8 1-193"/>
<path d="M0 836l1-12 1-5 1-14 1-9 1-19 1-8 1-9 1-9 1-23 1-23 1-48 1-125 1-127 1-53 1-31 1-26 1 66 1 142 1 123 1 178 1-80 1 83 1 63 1 4 1-23 1 161 1-23 1-46 1 52 1-134"/>
<path d="M0 841l1-16 1 1 1-11 1-15 1-17 1-6 1-18 1 0 1-22 1-19 1-49 1-129 1-133 1-65 1-9 1-15 1 87 1 92 1 153 1 137 1 18 1 62 1-29 1 40 1 66 1 68 1-19 1 7 1-69 1-104"/>
<path d="M0 830l1-14 1 3 1-20 1-15 1-18 1-10 1-13 1-8 1-16 1-30 1-46 1-128 1-134 1-49 1 13 1-53 1 101 1 79 1 164 1 126 1 18 1 163 1-51 1-29 1 52 1 153 1-14 1-30 1-45 1-185"/>
<path d="M0 845l1-19 1 2 1-23 1-8 1-13 1-19 1-9 1 0 1-27 1-19 1-43 1-129 1-127 1-23 1-53 1 14 1 67 1 128 1 123 1 124 1 4 1 72 1 39 1-22 1 45 1 107 1-1 1 15 1-31 1-181"/>
<path d="M0 809l1-11 1-8 1-15 1-17 1-13 1-11 1-24 1-4 1-19 1-33 1-55 1-132 1-136 1-39 1-35 1-23 1 93 1 93 1 113 1 189 1 91 1-62 1 80 1 44 1 66 1 37 1 40 1-38 1 6 1-191"/>
<path d="M0 845l1-14 1 5 1-27 1-6 1-11 1-8 1-14 1 1 1-24 1-15 1-48 1-132 1-134 1-40 1-44 1 5 1 80 1 149 1 140 1 31 1 74 1 58 1-39 1 147 1 6 1 36 1-5 1-16 1-3 1-95"/>
<path d="M0 844l1-16 1 6 1-22 1-11 1-10 1-20 1-14 1-1 1-19 1-24 1-45 1-125 1-120 1-59 1-36 1 4 1 82 1 90 1 156 1 106 1 20 1-3 1 88 1 45 1 23 1 86 1-9 1 28 1-37 1-154"/>
<path d="M0 830l1-24 1 8 1-13 1-12 1-17 1-12 1-14 1-3 1-29 1-19 1-57 1-120 1-137 1-22 1-72 1 31 1 56 1 105 1 135 1 154 1 67 1-11 1 35 1-11 1 92 1 68 1-36 1 68 1-33 1-232"/>
<path d="M0 822l1-12 1 5 1-17 1-16 1-14 1-12 1-13 1-10 1-17 1-25 1-49 1-138 1-130 1-40 1-43 1 12 1 56 1 91 1 144 1 160 1 79 1-44 1 57 1 30 1 37 1 63 1 6 1-3 1 14 1-141"/>
<path d="M0 830l1-18 1 5 1-17 1-7 1-22 1-15 1-14 1-2 1-30 1-16 1-54 1-140 1-119 1-57 1-64 1 52 1 40 1 129 1 139 1 136 1 83 1-14 1 15 1 2 1 168 1-51 1 42 1 58 1-84 1-144"/>
<path d="M0 838l1-13 1-4 1-15 1-21 1-15 1-13 1-21 1 2 1-16 1-21 1-58 1-131 1-132 1-48 1-37 1-23 1 64 1 135 1 123 1 137 1 107 1-63 1 34 1 66 1-44 1 189 1-20 1-11 1-41 1-122"/>
<path d="M0 827l1-11 1 2 1-18 1-18 1-15 1-12 1-11 1-9 1-17 1-22 1-55 1-127 1-139 1-53 1-25 1-12 1 97 1 87 1 121 1 150 1 59 1 18 1 68 1-20 1 30 1 147 1-63 1 7 1 31 1-156"/>
<path d="M0 826l1-11 1-4 1-11 1-12 1-21 1-11 1-12 1-6 1-18 1-33 1-38 1-119 1-134 1-50 1-28 1-9 1 87 1 112 1 96 1 165 1 46 1 53 1-18 1-11 1 112 1 75 1-89 1 109 1-56 1-258"/>
<path d="M0 818l1-9 1-1 1-18 1-9 1-21 1-13 1-10 1-13 1-13 1-31 1-50 1-124 1-120 1-81 1-7 1 24 1 78 1 104 1 112 1 118 1 46 1 48 1-22 1 50 1 86 1 31 1 18 1 24 1-45 1-118"/>
<path d="M0 825l1-20 1 4 1-13 1-13 1-9 1-8 1-22 1 4 1-34 1-19 1-62 1-130 1-136 1-62 1-19 1-4 1 91 1 110 1 124 1 166 1 19 1 27 1 68 1-89 1 108 1 42 1 59 1-9 1-43 1-95"/>
<path d="M0 836l1-21 1 5 1-21 1-15 1-10 1-13 1-17 1-5 1-20 1-27 1-53 1-129 1-127 1-49 1-55 1 37 1 43 1 122 1 127 1 172 1 65 1-52 1 65 1 82 1 69 1-17 1 24 1-58 1 75 1-220"/>
<path d="M0 823l1-10 1 0 1-14 1-17 1-12 1-11 1-14 1-6 1-16 1-33 1-54 1-131 1-134 1-51 1-25 1 14 1 69 1 106 1 117 1 137 1 48 1 9 1 6 1 126 1 14 1 12 1 54 1 17 1-18 1-158"/>
<path d="M0 818l1-16 1 0 1-17 1-14 1-13 1-11 1-16 1-6 1-28 1-25 1-48 1-134 1-126 1-43 1-57 1 34 1 46 1 75 1 128 1 129 1 132 1 54 1 2 1 27 1 95 1-38 1 65 1-33 1 38 1-149"/>
<path d="M0 825l1-10 1 3 1-22 1-10 1-12 1-15 1-7 1-10 1-29 1-23 1-54 1-128 1-129 1-66 1-24 1 15 1 63 1 87 1 146 1 194 1 13 1 36 1 2 1 8 1 98 1 50 1-7 1 61 1-83 1-73"/>
<path d="M0 824l1-10 1-1 1-10 1-13 1-16 1-10 1-30 1 1 1-20 1-36 1-43 1-140 1-116 1-61 1-42 1 35 1 59 1 89 1 124 1 141 1 120 1-30 1 29 1 38 1 53 1 60 1-51 1 68 1-25 1-136"/>
<path d="M0 824l1-21 1-1 1-16 1-14 1-16 1-11 1-12 1-14 1-15 1-28 1-48 1-139 1-119 1-37 1-91 1 52 1 58 1 78 1 147 1 190 1 56 1 84 1-44 1-10 1 102 1 0 1 31 1-14 1 5 1-169"/>
<path d="M0 821l1-14 1 11 1-25 1-10 1-13 1-18 1-15 1-6 1-19 1-29 1-47 1-135 1-129 1-65 1-27 1 41 1 21 1 106 1 131 1 105 1 171 1-30 1 45 1 52 1 15 1 14 1-15 1 32 1-2 1-117"/>
<path d="M0 816l1-11 1 0 1-22 1-6 1-23 1-17 1-6 1 2 1-17 1-33 1-52 1-123 1-149 1-41 1-53 1 12 1 40 1 77 1 150 1 153 1 73 1 65 1 21 1-5 1 45 1 58 1 11 1 27 1 19 1-249"/>
<path d="M0 836l1-16 1-3 1-16 1-17 1-8 1-9 1-22 1 0 1-13 1-37 1-39 1-118 1-134 1-44 1-34 1-60 1 117 1 119 1 86 1 164 1 37 1 77 1-8 1 72 1-36 1 83 1 45 1-20 1-16 1-185"/>
<path d="M0 828l1-18 1-4 1-12 1-18 1-15 1-10 1-5 1 1 1-17 1-18 1-56 1-139 1-126 1-70 1-17 1 17 1 67 1 85 1 147 1 121 1 23 1 146 1-34 1-19 1 118 1 24 1-36 1 23 1-60 1-108"/>
<path d="M0 820l1-16 1 8 1-20 1-14 1-13 1-15 1-21 1 6 1-29 1-25 1-41 1-134 1-140 1-54 1-29 1-25 1 69 1 124 1 106 1 255 1-37 1 68 1-35 1 142 1-16 1 49 1 53 1-23 1-80 1-42"/>
<path d="M0 827l1-17 1 8 1-13 1-16 1-21 1-11 1-19 1-10 1-22 1-25 1-38 1-132 1-141 1-39 1-15 1-6 1 56 1 99 1 99 1 222 1 2 1-3 1 77 1 12 1 31 1 94 1-8 1 51 1-111 1-127"/>
<path d="M0 824l1-14 1 3 1-17 1-11 1-10 1-12 1-20 1-5 1-26 1-23 1-51 1-128 1-135 1-26 1-75 1-3 1 102 1 93 1 134 1 230 1-77 1 94 1 42 1-36 1 78 1 105 1-2 1-38 1 15 1-140"/>
<path d="M0 809l1-7 1 3 1-14 1-17 1-10 1-14 1-24 1 2 1-25 1-23 1-47 1-133 1-142 1-51 1-36 1 0 1 59 1 129 1 109 1 158 1 76 1-24 1 41 1 113 1 37 1-60 1 53 1 40 1-14 1-124"/>
<path d="M0 829l1-13 1 2 1-12 1-16 1-15 1-14 1-20 1-2 1-31 1-25 1-50 1-126 1-116 1-66 1-39 1 14 1 52 1 109 1 108 1 172 1 70 1 35 1 43 1-20 1 56 1 15 1 57 1-21 1-33 1-156"/>
<path d="M0 830l1-13 1 2 1-19 1-15 1-11 1-4 1-13 1-8 1-24 1-20 1-50 1-124 1-121 1-60 1-68 1 36 1 74 1 99 1 150 1 165 1 94 1-58 1 10 1 10 1 131 1 22 1 25 1-20 1-13 1-153"/>
<path d="M0 821l1-14 1 7 1-17 1-8 1-20 1-13 1-12 1-11 1-21 1-24 1-46 1-130 1-129 1-56 1-25 1 37 1 27 1 109 1 111 1 156 1 107 1-23 1 121 1-31 1 36 1 52 1-18 1-23 1 24 1-158"/>
<path d="M0 838l1-6 1-1 1-17 1-12 1-14 1-14 1-16 1-4 1-14 1-30 1-47 1-121 1-139 1-45 1-36 1-7 1 65 1 153 1 110 1 106 1 92 1 53 1-31 1 60 1 94 1 13 1-40 1 97 1-84 1-136"/>
<path d="M0 826l1-22 1 7 1-14 1-10 1-18 1-20 1-12 1-3 1-21 1-20 1-42 1-128 1-121 1-63 1-45 1 2 1 68 1 116 1 138 1 126 1 93 1-5 1-1 1 82 1 9 1 153 1-79 1-30 1 22 1-177"/>
<path d="M0 813l1-4 1 1 1-21 1-12 1-18 1-20 1-14 1-13 1-14 1-29 1-48 1-125 1-125 1-77 1-35 1 31 1 32 1 105 1 129 1 169 1 98 1 22 1-30 1 35 1 36 1 76 1 7 1 6 1-3 1-156"/>
<path d="M0 825l1-16 1 9 1-22 1-14 1-9 1-13 1-6 1-9 1-25 1-12 1-54 1-137 1-136 1-40 1-53 1 26 1 33 1 109 1 136 1 179 1-28 1 112 1-19 1 59 1 67 1 11 1 5 1 33 1-6 1-160"/>
<path d="M0 823l1-8 1 1 1-20 1-13 1-9 1-15 1-20 1 0 1-15 1-28 1-45 1-135 1-139 1-39 1-82 1 36 1 71 1 120 1 117 1 111 1 106 1 21 1 37 1 15 1 29 1 98 1-7 1 24 1-56 1-156"/>
<path d="M0 822l1-5 1 2 1-16 1-18 1-10 1-19 1-19 1 0 1-21 1-32 1-38 1-140 1-126 1-60 1-15 1-19 1 57 1 127 1 115 1 160 1 57 1 71 1-69 1 2 1 72 1 167 1-73 1 43 1-37 1-104"/>
<path d="M0 814l1-14 1 13 1-19 1-16 1-11 1-8 1-16 1-8 1-21 1-28 1-52 1-127 1-142 1-28 1-67 1 29 1 51 1 92 1 138 1 180 1 31 1 48 1 55 1-48 1 85 1 61 1-24 1 54 1-58 1-163"/>
<path d="M0 820l1-12 1 1 1-15 1-15 1-10 1-12 1-17 1-5 1-20 1-23 1-43 1-141 1-126 1-53 1-47 1-16 1 83 1 141 1 109 1 165 1-11 1 176 1-70 1 76 1 76 1 8 1 0 1-7 1-14 1-199"/>
<path d="M0 823l1-9 1-6 1-13 1-13 1-12 1-23 1-14 1-3 1-19 1-27 1-51 1-137 1-127 1-35 1-43 1 11 1 67 1 90 1 118 1 153 1 146 1-106 1 123 1 37 1-55 1 109 1-40 1 46 1-56 1-44"/>
<path d="M0 823l1-23 1 6 1-16 1-24 1-20 1-11 1-15 1-1 1-22 1-20 1-49 1-134 1-128 1-38 1-40 1 9 1 26 1 88 1 162 1 129 1 74 1 25 1 108 1-9 1-32 1 127 1-37 1 41 1-56 1-200"/>
<path d="M0 834l1-16 1 5 1-17 1-21 1-11 1-9 1-19 1 0 1-23 1-27 1-38 1-131 1-146 1-59 1-33 1 13 1 52 1 105 1 148 1 206 1-11 1 27 1 2 1 52 1 115 1 19 1-22 1 19 1 8 1-131"/>
<path d="M0 824l1-13 1 11 1-17 1-21 1-10 1-23 1-25 1-5 1-22 1-28 1-43 1-120 1-124 1-44 1-44 1-1 1 103 1 74 1 116 1 110 1 97 1 32 1-31 1 72 1 65 1 93 1-7 1 19 1-56 1-159"/>
<path d="M0 824l1-14 1 9 1-14 1-13 1-18 1-10 1-24 1 4 1-22 1-24 1-45 1-126 1-132 1-43 1-35 1 3 1 76 1 107 1 97 1 124 1 78 1 38 1 73 1-37 1 57 1 36 1 71 1-45 1-13 1-107"/>
<path d="M0 833l1-9 1-7 1-18 1-7 1-9 1-9 1-16 1-14 1-14 1-28 1-40 1-136 1-117 1-55 1-57 1 5 1 62 1 122 1 121 1 74 1 85 1 137 1-66 1 52 1 40 1 61 1-58 1 114 1-65 1-138"/>
<path d="M0 822l1-17 1 7 1-18 1-13 1-21 1-10 1-18 1-1 1-22 1-29 1-42 1-142 1-131 1-58 1-4 1-13 1 74 1 93 1 143 1 134 1 72 1 94 1-16 1-25 1 99 1 3 1 9 1 21 1-41 1-118"/>
<path d="M0 836l1-13 1-8 1-16 1-8 1-19 1-3 1-23 1 1 1-25 1-30 1-50 1-128 1-135 1-32 1-68 1 44 1 98 1 69 1 116 1 125 1 42 1 137 1-77 1 48 1 69 1 35 1 49 1-9 1-69 1-107"/>
<path d="M0 826l1-7 1-3 1-18 1-15 1-6 1-22 1-4 1-11 1-17 1-25 1-47 1-133 1-114 1-62 1-43 1-1 1 83 1 92 1 136 1 134 1 67 1 30 1 58 1-7 1 115 1 24 1-78 1 98 1-89 1-169"/>
<path d="M0 821l1-21 1 11 1-21 1-11 1-14 1-22 1-2 1 2 1-29 1-19 1-44 1-132 1-136 1-29 1-68 1 6 1 80 1 74 1 137 1 114 1 105 1 4 1 27 1 8 1 92 1 83 1-17 1 56 1-103 1-99"/>
<path d="M0 833l1-10 1-1 1-18 1-14 1-16 1-15 1-14 1-13 1-13 1-21 1-38 1-134 1-130 1-51 1-20 1 10 1 62 1 100 1 137 1 73 1 50 1 118 1 23 1-25 1 91 1 8 1 14 1 59 1-42 1-177"/>
<path d="M0 827l1-15 1 0 1-16 1-12 1-5 1-16 1-13 1-11 1-20 1-35 1-44 1-133 1-146 1-55 1-15 1 26 1 41 1 131 1 129 1 161 1 37 1 50 1-43 1 1 1 142 1-8 1 51 1-33 1 2 1-179"/>
<path d="M0 826l1-8 1 0 1-20 1-12 1-17 1-6 1-18 1-10 1-13 1-35 1-37 1-131 1-145 1-32 1-79 1 40 1 50 1 113 1 143 1 172 1 22 1 73 1-34 1 1 1 45 1 100 1-15 1 107 1-138 1-95"/>
<path d="M0 835l1-16 1 8 1-23 1-12 1-10 1-12 1-19 1-3 1-22 1-27 1-40 1-124 1-127 1-66 1-34 1-7 1 83 1 121 1 119 1 132 1 93 1-34 1 78 1-18 1 96 1 109 1-85 1 9 1 13 1-139"/>
<path d="M0 833l1-17 1 7 1-20 1-13 1-17 1-10 1-15 1-12 1-6 1-31 1-46 1-135 1-124 1-58 1-19 1-21 1 94 1 77 1 139 1 95 1 76 1-6 1 55 1 72 1-29 1 108 1 53 1 1 1 30 1-156"/>
<path d="M0 829l1-7 1-1 1-12 1-17 1-21 1-12 1-17 1-4 1-20 1-23 1-40 1-141 1-116 1-67 1-21 1 28 1 51 1 96 1 112 1 163 1 88 1 36 1-33 1 130 1-49 1 153 1-123 1 40 1 3 1-140"/>
<path d="M0 825l1-14 1 1 1-15 1-17 1-12 1-7 1-12 1-5 1-24 1-11 1-55 1-121 1-119 1-48 1-70 1 51 1 23 1 122 1 131 1 152 1 37 1 80 1 7 1 2 1 90 1 30 1 15 1-8 1 50 1-204"/>
<path d="M0 828l1-22 1 3 1-17 1-19 1-9 1-13 1-22 1 0 1-21 1-27 1-58 1-128 1-134 1-77 1 7 1-13 1 47 1 128 1 116 1 126 1 62 1 88 1-24 1 39 1 153 1 6 1-28 1 25 1-11 1-196"/>
<path d="M0 832l1-16 1 2 1-13 1-16 1-18 1-8 1-23 1 6 1-24 1-20 1-47 1-119 1-141 1-51 1-29 1-7 1 47 1 111 1 118 1 208 1 11 1-6 1-17 1 129 1 7 1 119 1-63 1 20 1 11 1-144"/>
<path d="M0 829l1-6 1 9 1-19 1-15 1-12 1-12 1-19 1-1 1-19 1-32 1-47 1-134 1-114 1-59 1-77 1 40 1 78 1 70 1 129 1 172 1-9 1 165 1-46 1 19 1 86 1 2 1 40 1 4 1 2 1-228"/>
<path d="M0 836l1-10 1 3 1-23 1-9 1-12 1-13 1-19 1-2 1-17 1-29 1-46 1-139 1-118 1-53 1-56 1 22 1 103 1 100 1 130 1 83 1 84 1 55 1 62 1-31 1 52 1 70 1-23 1 20 1 11 1-104"/>
<path d="M0 835l1-18 1 3 1-15 1-15 1-10 1-19 1-18 1 0 1-16 1-37 1-38 1-133 1-123 1-66 1-25 1 25 1 42 1 139 1 129 1 157 1 37 1 24 1-17 1 35 1 101 1-1 1 3 1 11 1-16 1-134"/>
<path d="M0 823l1-15 1 4 1-22 1-12 1-16 1-4 1-25 1-1 1-25 1-27 1-47 1-136 1-124 1-51 1-43 1 19 1 25 1 101 1 138 1 143 1 68 1 40 1-12 1 67 1-16 1 106 1-35 1 75 1-25 1-180"/>
<path d="M0 836l1-12 1 5 1-21 1-15 1-14 1-19 1-14 1-14 1-19 1-21 1-57 1-128 1-130 1-48 1-50 1 13 1 73 1 98 1 147 1 113 1 103 1-19 1 116 1-95 1 51 1 95 1-3 1 47 1-45 1-179"/>
<path d="M0 817l1-12 1 6 1-23 1-17 1-8 1-14 1-16 1 4 1-22 1-12 1-43 1-133 1-130 1-77 1-52 1 2 1 89 1 95 1 134 1 143 1 100 1 39 1-6 1 9 1 42 1 68 1 39 1 13 1-93 1-163"/>
<path d="M0 816l1-10 1 9 1-15 1-19 1-7 1-15 1-20 1 0 1-22 1-28 1-44 1-124 1-137 1-33 1-50 1 8 1 81 1 102 1 130 1 139 1 39 1-1 1-21 1 117 1 41 1 56 1-15 1 10 1-20 1-150"/>
<path d="M0 837l1-14 1 0 1-20 1-10 1-20 1-6 1-18 1 1 1-31 1-17 1-47 1-130 1-136 1-27 1-44 1-18 1 77 1 123 1 101 1 163 1 48 1-2 1 33 1 112 1-13 1 74 1-37 1 0 1 27 1-165"/>
<path d="M0 839l1-10 1-4 1-13 1-20 1-8 1-10 1-18 1-1 1-20 1-26 1-53 1-123 1-128 1-70 1-36 1-12 1 118 1 95 1 131 1 127 1 23 1 4 1 50 1 44 1 78 1 57 1 14 1-12 1-59 1-103"/>
<path d="M0 823l1-18 1 3 1-16 1-15 1-14 1-6 1-16 1-9 1-18 1-28 1-43 1-127 1-133 1-44 1-38 1 10 1 73 1 91 1 126 1 105 1 162 1-50 1 66 1-11 1-9 1 119 1 51 1-42 1-46 1-161"/>
<path d="M0 837l1-14 1 4 1-18 1-15 1-8 1-21 1-16 1-6 1-19 1-19 1-42 1-122 1-123 1-51 1-74 1 17 1 99 1 116 1 119 1 106 1 73 1 111 1-113 1 98 1 49 1 11 1 40 1-71 1 58 1-126"/>
<path d="M0 823l1-14 1 8 1-21 1-20 1-12 1-14 1-21 1-5 1-15 1-26 1-43 1-128 1-135 1-51 1-72 1 40 1 57 1 106 1 140 1 83 1 170 1-57 1 19 1 97 1 42 1 16 1 47 1 17 1-65 1-92"/>
<path d="M0 840l1-11 1 2 1-18 1-9 1-17 1-12 1-21 1 0 1-26 1-13 1-37 1-129 1-129 1-55 1-13 1-28 1 54 1 129 1 114 1 103 1 88 1 12 1 70 1 35 1 4 1 67 1 17 1 42 1-89 1-101"/>
<path d="M0 820l1-14 1 0 1-19 1-12 1-19 1-9 1-18 1 5 1-22 1-16 1-52 1-132 1-137 1-77 1-3 1-27 1 88 1 93 1 159 1 173 1-5 1 13 1 58 1 69 1 60 1 22 1-14 1 47 1-53 1-106"/>
<path d="M0 834l1-16 1-9 1-14 1-17 1-10 1-12 1-16 1 3 1-21 1-25 1-39 1-139 1-130 1-57 1-70 1 51 1 73 1 94 1 111 1 99 1 104 1 31 1 11 1 104 1 50 1 53 1-89 1 78 1-43 1-177"/>
<path d="M0 824l1-13 1-2 1-15 1-5 1-17 1-8 1-14 1-9 1-20 1-36 1-43 1-133 1-131 1-52 1-51 1 17 1 87 1 95 1 140 1 105 1 139 1-48 1 68 1-20 1 44 1 64 1 12 1 47 1-59 1-148"/>
<path d="M0 825l1-18 1 3 1-18 1-18 1-17 1-9 1-22 1 2 1-19 1-34 1-52 1-127 1-137 1-39 1-53 1 25 1 42 1 116 1 132 1 103 1 142 1 18 1-15 1 51 1 25 1 85 1-58 1 65 1-42 1-165"/>
<path d="M0 839l1-9 1-1 1-14 1-12 1-12 1-9 1-16 1-8 1-23 1-21 1-38 1-129 1-134 1-71 1-42 1 42 1 76 1 100 1 144 1 112 1 91 1-61 1 36 1 35 1 60 1 90 1-80 1 77 1-27 1-114"/>
<path d="M0 820l1-12 1 1 1-16 1-8 1-11 1-11 1-11 1-4 1-26 1-32 1-44 1-130 1-121 1-38 1-84 1 27 1 95 1 82 1 150 1 132 1 69 1-8 1 88 1 6 1 4 1 125 1-62 1 0 1-16 1-174"/>
<path d="M0 832l1-18 1 1 1-15 1-15 1-21 1-11 1-10 1-4 1-23 1-29 1-49 1-118 1-133 1-44 1-58 1 23 1 26 1 145 1 158 1 83 1 136 1 13 1 19 1 11 1 69 1 9 1 45 1 2 1 0 1-187"/>
<path d="M0 822l1-17 1 3 1-18 1-18 1-9 1-17 1-19 1-4 1-9 1-28 1-46 1-120 1-125 1-64 1-12 1-29 1 77 1 96 1 106 1 198 1 12 1 90 1-71 1 38 1 89 1 73 1-29 1 36 1-11 1-110"/>
<path d="M0 821l1-17 1 4 1-22 1-18 1-8 1-15 1-7 1-5 1-22 1-23 1-46 1-141 1-118 1-70 1-6 1-24 1 93 1 105 1 141 1 98 1 42 1 92 1 23 1 72 1-54 1 125 1-43 1 31 1-32 1-156"/>
<path d="M0 828l1-17 1 2 1-13 1-25 1-11 1-12 1-21 1-1 1-18 1-23 1-52 1-130 1-136 1-67 1-29 1 23 1 84 1 114 1 145 1 51 1 95 1 23 1 76 1 7 1 22 1 77 1-23 1 44 1-53 1-138"/>
<path d="M0 821l1-7 1 2 1-15 1-16 1-10 1-18 1-9 1-14 1-21 1-28 1-36 1-136 1-114 1-53 1-84 1 56 1 75 1 90 1 124 1 163 1 44 1 12 1 34 1 10 1 29 1 96 1 23 1 16 1-39 1-148"/>
<path d="M0 828l1-16 1 3 1-20 1-13 1-4 1-16 1-11 1-13 1-14 1-18 1-39 1-133 1-127 1-65 1-26 1-23 1 92 1 102 1 123 1 159 1-10 1 25 1 115 1-59 1 76 1 102 1-16 1 43 1-34 1-169"/>
<path d="M0 819l1-12 1 6 1-19 1-14 1-23 1-9 1-9 1-9 1-20 1-14 1-50 1-134 1-122 1-60 1-42 1 7 1 68 1 99 1 119 1 237 1 15 1-2 1 10 1 10 1 132 1 0 1-4 1 36 1-88 1-70"/>
<path d="M0 832l1-11 1-2 1-21 1-19 1-12 1-22 1-12 1-5 1-15 1-21 1-46 1-118 1-140 1-51 1-31 1-17 1 85 1 84 1 133 1 212 1-2 1 5 1 11 1 100 1 15 1 39 1 48 1 6 1-95 1-53"/>
<path d="M0 829l1-15 1 6 1-20 1-23 1-12 1-7 1-20 1 6 1-28 1-27 1-50 1-126 1-132 1-38 1-33 1 23 1 73 1 72 1 126 1 171 1 21 1 54 1-35 1 107 1-33 1 140 1-57 1 76 1-64 1-111"/>
<path d="M0 823l1-5 1 1 1-15 1-7 1-23 1-13 1-12 1-11 1-20 1-33 1-42 1-121 1-129 1-60 1-20 1-17 1 39 1 114 1 142 1 129 1 87 1 92 1-51 1 94 1 4 1 16 1 55 1-10 1-31 1-152"/>
<path d="M0 835l1-15 1 0 1-14 1-13 1-15 1-5 1-17 1-2 1-29 1-27 1-39 1-130 1-121 1-55 1-35 1 11 1 75 1 82 1 170 1 170 1 8 1 36 1-27 1 49 1 45 1 86 1-32 1 33 1 0 1-171"/>
<path d="M0 844l1-13 1 1 1-18 1-18 1-8 1-21 1-7 1-8 1-18 1-27 1-46 1-126 1-114 1-57 1-38 1 6 1 85 1 87 1 106 1 139 1 53 1 7 1 60 1 65 1 25 1 17 1 34 1 40 1-17 1-182"/>
<path d="M0 835l1-17 1 5 1-20 1-9 1-21 1-10 1-10 1-14 1-17 1-34 1-39 1-129 1-132 1-54 1-27 1-45 1 105 1 79 1 159 1 174 1-16 1 92 1-1 1-32 1 160 1 33 1-22 1 7 1-46 1-48"/>
<path d="M0 828l1-16 1 7 1-20 1-8 1-28 1-3 1-21 1 4 1-28 1-14 1-55 1-127 1-121 1-77 1-20 1-19 1 108 1 77 1 116 1 143 1 111 1-20 1 15 1 67 1-44 1 148 1 24 1-82 1-5 1-89"/>
<path d="M0 816l1-14 1 1 1-14 1-20 1-12 1-6 1-17 1-6 1-22 1-28 1-50 1-125 1-127 1-64 1-56 1 11 1 55 1 119 1 124 1 186 1 126 1-49 1 38 1 34 1 84 1 6 1 1 1 107 1-132 1-90"/>
<path d="M0 852l1-16 1 1 1-16 1-9 1-15 1-12 1-11 1-12 1-18 1-20 1-48 1-124 1-129 1-28 1-60 1-17 1 102 1 144 1 149 1 122 1-50 1 119 1-40 1 15 1 102 1 0 1 52 1 12 1 9 1-219"/>
<path d="M0 826l1-18 1-3 1-14 1-16 1-8 1-10 1-12 1-8 1-19 1-33 1-44 1-121 1-134 1-54 1-27 1 11 1 69 1 103 1 135 1 132 1 30 1 30 1 18 1-55 1 154 1 60 1-10 1 38 1-50 1-157"/>
<path d="M0 820l1-15 1 1 1-15 1-18 1-9 1-14 1-15 1-11 1-17 1-30 1-61 1-135 1-129 1-39 1-34 1-7 1 76 1 113 1 117 1 201 1 75 1-25 1 32 1-37 1 162 1 71 1-70 1 57 1-73 1-117"/>
<path d="M0 824l1-11 1 4 1-21 1-11 1-16 1-12 1-11 1-5 1-17 1-26 1-54 1-136 1-129 1-44 1-51 1 13 1 85 1 96 1 109 1 172 1 48 1 39 1-36 1 36 1 117 1-1 1 11 1 30 1-30 1-97"/>
<path d="M0 823l1-8 1-1 1-17 1-17 1-13 1-15 1-17 1-8 1-19 1-33 1-52 1-133 1-146 1-27 1-55 1 16 1 112 1 98 1 124 1 145 1 106 1-12 1-60 1 118 1 55 1 50 1-44 1 42 1 12 1-179"/>
<path d="M0 827l1-16 1 8 1-20 1-6 1-18 1-4 1-27 1-2 1-15 1-36 1-48 1-134 1-133 1-39 1-44 1-17 1 66 1 133 1 138 1 64 1 116 1 69 1-27 1 0 1 101 1 28 1 17 1 42 1-19 1-145"/>
<path d="M0 830l1-13 1-1 1-16 1-12 1-21 1-9 1-17 1-2 1-20 1-18 1-54 1-130 1-122 1-43 1-56 1 32 1 64 1 89 1 107 1 183 1 31 1-17 1 123 1-55 1 72 1 34 1 41 1 6 1-41 1-188"/>
<path d="M0 821l1-12 1 1 1-16 1-19 1-17 1-5 1-16 1-10 1-24 1-26 1-49 1-147 1-120 1-70 1-17 1-12 1 88 1 95 1 152 1 71 1 115 1-7 1 50 1 131 1-48 1 96 1-14 1 44 1-80 1-155"/>
<path d="M0 832l1-14 1 6 1-20 1-15 1-6 1-4 1-13 1-8 1-23 1-24 1-50 1-123 1-134 1-60 1-30 1-1 1 80 1 131 1 138 1 35 1 154 1 28 1 27 1-16 1 31 1 23 1 66 1-27 1 23 1-54"/>
<path d="M0 857l1-13 1 1 1-22 1-14 1-16 1-17 1-16 1-7 1-17 1-26 1-38 1-123 1-142 1-45 1-16 1-21 1 93 1 107 1 153 1 25 1 120 1-6 1 88 1-6 1 44 1 54 1 17 1-18 1 4 1-173"/>
<path d="M0 824l1-11 1 1 1-16 1-14 1-15 1-22 1-14 1-3 1-18 1-16 1-40 1-126 1-140 1-51 1-41 1-7 1 76 1 101 1 125 1 170 1 7 1 50 1 51 1 26 1 40 1 36 1 6 1-28 1 39 1-166"/>
<path d="M0 818l1-10 1 2 1-13 1-11 1-16 1-15 1-11 1-8 1-13 1-29 1-45 1-126 1-132 1-37 1-56 1 0 1 68 1 94 1 158 1 118 1 89 1 39 1 10 1 34 1 6 1 47 1 56 1 23 1-72 1-92"/>
<path d="M0 829l1-19 1 12 1-21 1-10 1-25 1-12 1-22 1-2 1-21 1-22 1-38 1-129 1-131 1-54 1-41 1 30 1 42 1 122 1 96 1 173 1 29 1 36 1 89 1 2 1 49 1 87 1-44 1-19 1 10 1-188"/>
<path d="M0 824l1-9 1 5 1-23 1-7 1-23 1-15 1-14 1-9 1-19 1-18 1-46 1-123 1-124 1-47 1-30 1-45 1 89 1 103 1 151 1 84 1 99 1 55 1 15 1-3 1 96 1 43 1-34 1 74 1-18 1-261"/>
<path d="M0 820l1-13 1 11 1-20 1-15 1-12 1-18 1-13 1 1 1-26 1-24 1-48 1-134 1-124 1-57 1-54 1 25 1 74 1 101 1 122 1 128 1 60 1 55 1 66 1-75 1 95 1 17 1 53 1-7 1 38 1-177"/>
<path d="M0 829l1-18 1 6 1-16 1-10 1-7 1-22 1-19 1 2 1-27 1-26 1-55 1-109 1-129 1-39 1-35 1 19 1 28 1 115 1 138 1 78 1 59 1 89 1 33 1-46 1 95 1 43 1-17 1 48 1-11 1-148"/>
<path d="M0 825l1-12 1-2 1-19 1-8 1-9 1-9 1-25 1 0 1-24 1-28 1-48 1-131 1-136 1-47 1-25 1-19 1 83 1 99 1 111 1 117 1 109 1 47 1-34 1 105 1 69 1-1 1-12 1 15 1-37 1-90"/>
<path d="M0 829l1-14 1-3 1-17 1-16 1-8 1-11 1-21 1 0 1-20 1-36 1-44 1-136 1-128 1-67 1-12 1 42 1 59 1 107 1 98 1 226 1-69 1 120 1-31 1 21 1 3 1 98 1 39 1 6 1-26 1-107"/>
<path d="M0 839l1-16 1 0 1-23 1-14 1-12 1-8 1-13 1 4 1-29 1-20 1-52 1-128 1-124 1-57 1-2 1-27 1 56 1 135 1 147 1 115 1 103 1-51 1 33 1 10 1-24 1 117 1 92 1-9 1-22 1-58"/>
<path d="M0 818l1-6 1-1 1-15 1-11 1-13 1-2 1-25 1 0 1-15 1-32 1-46 1-120 1-144 1-59 1-15 1-10 1 89 1 107 1 126 1 84 1 82 1 67 1-13 1 5 1 63 1 47 1 32 1 13 1 24 1-274"/>
<path d="M0 823l1-11 1 1 1-16 1-15 1-11 1-14 1-25 1 6 1-26 1-24 1-44 1-142 1-110 1-69 1-2 1-28 1 90 1 78 1 114 1 205 1-6 1 23 1 52 1 6 1 82 1 53 1-9 1-36 1 73 1-253"/>
<path d="M0 836l1-3 1-6 1-22 1-6 1-17 1-15 1-12 1-16 1-15 1-25 1-43 1-120 1-116 1-60 1-30 1-14 1 92 1 110 1 123 1 139 1 16 1 23 1 19 1 30 1 72 1 45 1 32 1-4 1-14 1-156"/>
<path d="M0 830l1-12 1-5 1-12 1-18 1-20 1-8 1-21 1-11 1-14 1-32 1-56 1-134 1-132 1-59 1-16 1-22 1 92 1 100 1 138 1 152 1 102 1 8 1-2 1-14 1 137 1 28 1-35 1 88 1-35 1-216"/>
<path d="M0 826l1-12 1 4 1-14 1-26 1-9 1-9 1-15 1-4 1-24 1-34 1-53 1-125 1-126 1-25 1-64 1 18 1 50 1 108 1 139 1 129 1 20 1 95 1 36 1 4 1 28 1 66 1-5 1 72 1-41 1-224"/>
<path d="M0 817l1-9 1-1 1-15 1-10 1-20 1-12 1-16 1-7 1-18 1-29 1-57 1-124 1-128 1-69 1-19 1 11 1 61 1 105 1 134 1 122 1 31 1 43 1 49 1 78 1 114 1-18 1 4 1-19 1-41 1-117"/>
<path d="M0 810l1-15 1 2 1-19 1-18 1-4 1-17 1-15 1-1 1-21 1-19 1-50 1-130 1-139 1-36 1-34 1-25 1 44 1 115 1 126 1 158 1 113 1 38 1 32 1-82 1 129 1 53 1-4 1 20 1-68 1-123"/>
<path d="M0 834l1-6 1 5 1-25 1-5 1-20 1-13 1-11 1-3 1-18 1-26 1-51 1-128 1-131 1-42 1-59 1-28 1 125 1 113 1 133 1 142 1 25 1 39 1 23 1 42 1 68 1 37 1-7 1 37 1-60 1-106"/>
<path d="M0 838l1-16 1 6 1-18 1-15 1-16 1-11 1-20 1 6 1-23 1-22 1-31 1-130 1-128 1-44 1-65 1-22 1 110 1 108 1 105 1 176 1 34 1-65 1 139 1-7 1-8 1 180 1-53 1-40 1 23 1-73"/>
<path d="M0 820l1-19 1 1 1-16 1-10 1-10 1-13 1-14 1-10 1-20 1-31 1-57 1-121 1-134 1-70 1-18 1 38 1 35 1 106 1 104 1 125 1 36 1 125 1 24 1-46 1 75 1 72 1-1 1-31 1 72 1-220"/>
<path d="M0 826l1-12 1-2 1-17 1-14 1-14 1-11 1-18 1 0 1-16 1-17 1-49 1-122 1-132 1-52 1-43 1 27 1 55 1 112 1 115 1 108 1 0 1 141 1-49 1 95 1 69 1 0 1 17 1 70 1-133 1-87"/>
<path d="M0 820l1-9 1 2 1-16 1-12 1-16 1-5 1-32 1-2 1-20 1-33 1-44 1-124 1-138 1-50 1-45 1 42 1 67 1 112 1 111 1 141 1 51 1 24 1 25 1 29 1 37 1 128 1-127 1 7 1 87 1-179"/>
<path d="M0 815l1-14 1 3 1-18 1-10 1-18 1-13 1-16 1-7 1-20 1-24 1-57 1-132 1-138 1-61 1-50 1 36 1 88 1 91 1 125 1 188 1-14 1 66 1-10 1 23 1 136 1 58 1-81 1 53 1-25 1-174"/>
<path d="M0 827l1-10 1-2 1-21 1-18 1-14 1-8 1-15 1-8 1-6 1-34 1-34 1-137 1-125 1-52 1-44 1-10 1 97 1 90 1 141 1 73 1 96 1 63 1 20 1 28 1 45 1 62 1-13 1 27 1-19 1-162"/>
<path d="M0 826l1-17 1-2 1-14 1-24 1-8 1-2 1-14 1-2 1-27 1-27 1-41 1-140 1-139 1-56 1-50 1 31 1 37 1 105 1 125 1 142 1 98 1 12 1 81 1-65 1 104 1 49 1 37 1-10 1-103 1-151"/>
<path d="M0 828l1-9 1-2 1-14 1-18 1-9 1-12 1-17 1 0 1-17 1-30 1-42 1-131 1-133 1-69 1-2 1-60 1 121 1 84 1 150 1 65 1 123 1 22 1 75 1-51 1 93 1 44 1-31 1 30 1-6 1-161"/>
<path d="M0 840l1-21 1 6 1-21 1-4 1-18 1-11 1-15 1-1 1-27 1-19 1-52 1-133 1-119 1-62 1-40 1 5 1 103 1 85 1 137 1 106 1 133 1-38 1 12 1 13 1 77 1 69 1 33 1-8 1-35 1-88"/>
<path d="M0 825l1-15 1 3 1-19 1-8 1-16 1-10 1-19 1-4 1-25 1-17 1-40 1-136 1-130 1-51 1-40 1 12 1 57 1 95 1 117 1 155 1 86 1-25 1 47 1 38 1-28 1 169 1-43 1 61 1-61 1-178"/>
<path d="M0 827l1-13 1 1 1-20 1-11 1-12 1-13 1-18 1-3 1-24 1-25 1-43 1-135 1-125 1-56 1-46 1 14 1 68 1 99 1 131 1 236 1-33 1 29 1 36 1-20 1 76 1 63 1-43 1 117 1-123 1-102"/>
<path d="M0 817l1-11 1 9 1-22 1-13 1-13 1-28 1-9 1-6 1-26 1-27 1-42 1-136 1-125 1-32 1-61 1 27 1 44 1 103 1 113 1 131 1 147 1-49 1 87 1-19 1 100 1 24 1 14 1 65 1-83 1-189"/>
<path d="M0 824l1-16 1 4 1-12 1-18 1-15 1-10 1-29 1 15 1-27 1-22 1-53 1-114 1-148 1-32 1-39 1-29 1 79 1 84 1 109 1 212 1 22 1 90 1-24 1 11 1 102 1 26 1 15 1 25 1-81 1-114"/>
<path d="M0 822l1-16 1 7 1-20 1-16 1-16 1-10 1-18 1-1 1-25 1-28 1-41 1-126 1-132 1-38 1-44 1 7 1 41 1 107 1 138 1 168 1-1 1 93 1-25 1 91 1 35 1-26 1 92 1-31 1-30 1-164"/>
<path d="M0 827l1-13 1 0 1-21 1-12 1-12 1-10 1-26 1 1 1-30 1-12 1-63 1-130 1-128 1-55 1-30 1-5 1 97 1 97 1 141 1 109 1 62 1 83 1 18 1 8 1 88 1-31 1 106 1-60 1-43 1-75"/>
<path d="M0 841l1-24 1 11 1-17 1-15 1-8 1-9 1-22 1-7 1-27 1-17 1-44 1-125 1-119 1-63 1-23 1 20 1 56 1 119 1 150 1 123 1-30 1 90 1 4 1 17 1 83 1 52 1-54 1 102 1-32 1-164"/>
<path d="M0 823l1-13 1-1 1-14 1-12 1-14 1-5 1-11 1-4 1-29 1-26 1-47 1-133 1-137 1-31 1-11 1-22 1 65 1 108 1 135 1 162 1-37 1 67 1 43 1 28 1 43 1 110 1-38 1 29 1-36 1-154"/>
<path d="M0 825l1-5 1 2 1-20 1-12 1-23 1-8 1-23 1-1 1-21 1-18 1-51 1-125 1-121 1-64 1-23 1-7 1 85 1 107 1 146 1 164 1 29 1-14 1-8 1 82 1 98 1-29 1 38 1 28 1-67 1-127"/>
<path d="M0 819l1-16 1 0 1-14 1-22 1-11 1-6 1-18 1-4 1-16 1-27 1-48 1-131 1-131 1-30 1-71 1 7 1 62 1 98 1 123 1 187 1 57 1 41 1-18 1 61 1 64 1-16 1 68 1 1 1-61 1-138"/>
<path d="M0 841l1-15 1 0 1-21 1-16 1-15 1-10 1-20 1 10 1-20 1-24 1-39 1-134 1-131 1-48 1-52 1-17 1 72 1 123 1 125 1 158 1 57 1-9 1 15 1 71 1 48 1 53 1 33 1 53 1-62 1-124"/>
<path d="M0 827l1-13 1 2 1-17 1-14 1-18 1-2 1-19 1-7 1-18 1-23 1-47 1-127 1-136 1-58 1-32 1-24 1 87 1 97 1 118 1 184 1 28 1 54 1 12 1 28 1 75 1-19 1 68 1 1 1-15 1-190"/>
<path d="M0 833l1-12 1 2 1-24 1-15 1-13 1-8 1-13 1-3 1-23 1-21 1-48 1-123 1-134 1-68 1-47 1 20 1 72 1 119 1 127 1 171 1-14 1 51 1 99 1-74 1 97 1-12 1 38 1 42 1 9 1-198"/>
<path d="M0 847l1-13 1 9 1-26 1-10 1-13 1-11 1-21 1-5 1-20 1-25 1-47 1-123 1-129 1-73 1-18 1-7 1 102 1 119 1 129 1 148 1 22 1 60 1-42 1 74 1-8 1 78 1 33 1 13 1-99 1-33"/>
<path d="M0 817l1-4 1 2 1-16 1-18 1-11 1-13 1-11 1 4 1-19 1-19 1-50 1-132 1-121 1-46 1-56 1-6 1 86 1 106 1 140 1 122 1 62 1-37 1 30 1 56 1 88 1 50 1-42 1 38 1-45 1-128"/>
<path d="M0 819l1-8 1-1 1-21 1-22 1-16 1-12 1-14 1 1 1-22 1-19 1-50 1-134 1-132 1-28 1-44 1 20 1 46 1 117 1 126 1 136 1 8 1 150 1-26 1 0 1 72 1 57 1-14 1 44 1-23 1-132"/>
<path d="M0 832l1-20 1-2 1-9 1-21 1-13 1-14 1-15 1 6 1-24 1-18 1-41 1-130 1-127 1-67 1-48 1 0 1 89 1 114 1 130 1 125 1 43 1 58 1 3 1 50 1 4 1 117 1 46 1-51 1-26 1-85"/>
<path d="M0 820l1-12 1-5 1-11 1-20 1-14 1-15 1-11 1-11 1-18 1-21 1-58 1-118 1-135 1-42 1-43 1 23 1 27 1 122 1 156 1 98 1 55 1 105 1 14 1 73 1-88 1 142 1-37 1 43 1-43 1-76"/>
<path d="M0 827l1-19 1 0 1-18 1-17 1-6 1-11 1-21 1 0 1-25 1-15 1-56 1-122 1-135 1-57 1-27 1 10 1 56 1 90 1 124 1 157 1 68 1 59 1-30 1 73 1 26 1 83 1-26 1 10 1-64 1-110"/>
<path d="M0 823l1-3 1-15 1-10 1-13 1-12 1-17 1-10 1 2 1-25 1-35 1-42 1-125 1-134 1-51 1-32 1 23 1 56 1 96 1 154 1 98 1 22 1 67 1 22 1 43 1-6 1 112 1 24 1 38 1-76 1-173"/>
<path d="M0 833l1-11 1 1 1-17 1-6 1-13 1-13 1-17 1-2 1-30 1-24 1-50 1-130 1-135 1-44 1-57 1 55 1 56 1 86 1 147 1 138 1 6 1 93 1 61 1-35 1 67 1-5 1 48 1 42 1 5 1-234"/>
<path d="M0 826l1-13 1 7 1-14 1-15 1-16 1-9 1-16 1 1 1-24 1-26 1-44 1-140 1-119 1-63 1-62 1 10 1 61 1 109 1 161 1 93 1 91 1 10 1 17 1 67 1-23 1 141 1 48 1-62 1 16 1-57"/>
<path d="M0 821l1-14 1 6 1-18 1-18 1-11 1-9 1-15 1 1 1-26 1-24 1-47 1-143 1-120 1-67 1-29 1 31 1 71 1 73 1 131 1 197 1-10 1 7 1 127 1-12 1-7 1 63 1 65 1-50 1 14 1-225"/>
<path d="M0 834l1-16 1 2 1-21 1-18 1-20 1-9 1-21 1 2 1-17 1-26 1-50 1-123 1-131 1-38 1-70 1 31 1 98 1 58 1 140 1 64 1 162 1 17 1 50 1 2 1 71 1 76 1-39 1-9 1-68 1-128"/>
<path d="M0 836l1-5 1 3 1-28 1-10 1-12 1-12 1-18 1 0 1-23 1-21 1-52 1-135 1-109 1-69 1-42 1-4 1 80 1 102 1 104 1 139 1 109 1 21 1 35 1-19 1 43 1 113 1-75 1 56 1-52 1-81"/>
<path d="M0 823l1-4 1 1 1-22 1-12 1-15 1-17 1-12 1-5 1-17 1-22 1-46 1-134 1-120 1-46 1-68 1-4 1 88 1 109 1 130 1 137 1 32 1 124 1 61 1-84 1 78 1 26 1 47 1-27 1-69 1-122"/>
<path d="M0 822l1-8 1-3 1-20 1-14 1-13 1-9 1-11 1-15 1-15 1-33 1-53 1-131 1-120 1-42 1-44 1-9 1 76 1 94 1 148 1 70 1 148 1-65 1 20 1 124 1-2 1 134 1-74 1 40 1 5 1-76"/>
<path d="M0 816l1-9 1 7 1-21 1-19 1-22 1-11 1-21 1 4 1-23 1-25 1-49 1-130 1-129 1-49 1-35 1-3 1 85 1 90 1 128 1 174 1 6 1 97 1-37 1 50 1 48 1 75 1-28 1 47 1-17 1-180"/>
<path d="M0 821l1-13 1-2 1-16 1-20 1-12 1-9 1-12 1-11 1-16 1-29 1-52 1-125 1-146 1-15 1-62 1 2 1 52 1 101 1 132 1 185 1 58 1 69 1-25 1-11 1 59 1 68 1 32 1 26 1-47 1-142"/>
<path d="M0 838l1-16 1-2 1-15 1-11 1-10 1-8 1-5 1-6 1-28 1-25 1-44 1-136 1-130 1-53 1-44 1-19 1 100 1 110 1 140 1 84 1 79 1 34 1-6 1 100 1 40 1-18 1 48 1-21 1 47 1-183"/>
<path d="M0 823l1-11 1-3 1-22 1-17 1-14 1-14 1-10 1-1 1-19 1-22 1-49 1-133 1-125 1-56 1-45 1 11 1 71 1 98 1 109 1 191 1-18 1 52 1 55 1 51 1 22 1 74 1-32 1 15 1-13 1-131"/>
<path d="M0 844l1-19 1 6 1-23 1-8 1-17 1-10 1-16 1-5 1-21 1-14 1-39 1-130 1-134 1-56 1-35 1 4 1 79 1 105 1 143 1 62 1 158 1-36 1-53 1 122 1 49 1 59 1-2 1-33 1 30 1-207"/>
<path d="M0 833l1-18 1 3 1-21 1-13 1-9 1-8 1-9 1-2 1-19 1-24 1-49 1-138 1-109 1-43 1-22 1 0 1 46 1 96 1 115 1 192 1 12 1 11 1 90 1 29 1-15 1 101 1-37 1 46 1-73 1-80"/>
<path d="M0 840l1-14 1 3 1-18 1-13 1-17 1-11 1-13 1-3 1-25 1-23 1-51 1-121 1-119 1-61 1-60 1 18 1 62 1 119 1 133 1 131 1 43 1 32 1 4 1 48 1-28 1 203 1-85 1 66 1-83 1-118"/>
<path d="M0 805l1-13 1 4 1-16 1-15 1-11 1-5 1-23 1-1 1-12 1-36 1-45 1-123 1-138 1-50 1-37 1 2 1 51 1 107 1 130 1 147 1 51 1 47 1 6 1 64 1 125 1-30 1 8 1-2 1-3 1-153"/>
<path d="M0 823l1-22 1 6 1-21 1-19 1-15 1-8 1-14 1-4 1-16 1-23 1-49 1-132 1-132 1-52 1-35 1 7 1 44 1 126 1 115 1 183 1 6 1 71 1 1 1 51 1 44 1 33 1 62 1-31 1-46 1-130"/>
<path d="M0 827l1-16 1 2 1-16 1-15 1-15 1-14 1-16 1-9 1-14 1-24 1-42 1-136 1-130 1-56 1-16 1-13 1 50 1 99 1 145 1 128 1 40 1 68 1 62 1-10 1 67 1 124 1-105 1 51 1-73 1-164"/>
<path d="M0 831l1-10 1 7 1-23 1-10 1-17 1-8 1-17 1-11 1-20 1-26 1-51 1-119 1-138 1-70 1-20 1-21 1 74 1 98 1 155 1 119 1 72 1 33 1 18 1-18 1 104 1 25 1 22 1 11 1 4 1-191"/>
<path d="M0 814l1-19 1 5 1-18 1-17 1-4 1-14 1-9 1-3 1-27 1-31 1-44 1-129 1-146 1-58 1-15 1-35 1 91 1 101 1 139 1 170 1 22 1 22 1 20 1 125 1 26 1 67 1-46 1 27 1-118 1-19"/>
<path d="M0 831l1-18 1-3 1-9 1 2 1-25 1-9 1-23 1-1 1-28 1-18 1-50 1-137 1-130 1-67 1-24 1 21 1 45 1 95 1 185 1 138 1 36 1 35 1 44 1 14 1 18 1 107 1-1 1-27 1-80 1-78"/>
<path d="M0 826l1-17 1 4 1-15 1-20 1-6 1-23 1-10 1-8 1-15 1-29 1-51 1-132 1-125 1-44 1-40 1 7 1 10 1 145 1 156 1 126 1 69 1 5 1 55 1 18 1 25 1 113 1-23 1-45 1 39 1-185"/>
<path d="M0 819l1-14 1 6 1-18 1-21 1-9 1-6 1-13 1-3 1-18 1-33 1-53 1-137 1-144 1-37 1-39 1-5 1 69 1 113 1 126 1 134 1 141 1-54 1 53 1 33 1-28 1 98 1 58 1-24 1-39 1-104"/>
<path d="M0 833l1-12 1 4 1-21 1-16 1-20 1-7 1-10 1-11 1-18 1-27 1-59 1-114 1-131 1-42 1-60 1 7 1 76 1 107 1 133 1 120 1 89 1-30 1 61 1 22 1 95 1 36 1-37 1 50 1-114 1-117"/>
<path d="M0 830l1-18 1 1 1-17 1-15 1-17 1-7 1-13 1-2 1-26 1-21 1-51 1-131 1-134 1-29 1-67 1 3 1 91 1 89 1 139 1 153 1 11 1 90 1 12 1-30 1 43 1 33 1 100 1 6 1-11 1-157"/>
<path d="M0 836l1-10 1 6 1-19 1-11 1-14 1-19 1-16 1 5 1-22 1-24 1-42 1-118 1-142 1-48 1-47 1 9 1 78 1 96 1 122 1 105 1 119 1-56 1 160 1-80 1 45 1 95 1 7 1-10 1 8 1-181"/>
<path d="M0 829l1-18 1 1 1-21 1-8 1-20 1-5 1-21 1 8 1-22 1-39 1-42 1-124 1-142 1-77 1-7 1-14 1 66 1 103 1 143 1 121 1 107 1 33 1-24 1 32 1 12 1 72 1 47 1 77 1-131 1-94"/>
<path d="M0 844l1-7 1 0 1-16 1-17 1-14 1-15 1-23 1 3 1-22 1-15 1-45 1-115 1-121 1-48 1-24 1-53 1 94 1 100 1 150 1 77 1 117 1 32 1 5 1 53 1 51 1 19 1-1 1-10 1 80 1-225"/>
<path d="M0 827l1-12 1-2 1-18 1-16 1-19 1-3 1-20 1 0 1-23 1-16 1-48 1-132 1-134 1-62 1-32 1-7 1 109 1 81 1 103 1 214 1 36 1-4 1-7 1 22 1 81 1 55 1-38 1 61 1-40 1-147"/>
<path d="M0 829l1-14 1 4 1-21 1-13 1-23 1-18 1-12 1-11 1-14 1-27 1-36 1-127 1-139 1-53 1-36 1-2 1 31 1 133 1 149 1 162 1 29 1 55 1 100 1-65 1 73 1 18 1 45 1-2 1-87 1-177"/>
<path d="M0 818l1-14 1 0 1-15 1-23 1-6 1-11 1-19 1 2 1-24 1-30 1-62 1-123 1-110 1-60 1-39 1 7 1 82 1 117 1 106 1 212 1 58 1-80 1 75 1 33 1 131 1-62 1 60 1 9 1-103 1-120"/>
<path d="M0 807l1-18 1 10 1-23 1-16 1-17 1-9 1-12 1-6 1-18 1-27 1-56 1-133 1-148 1-54 1 7 1-12 1 66 1 72 1 140 1 147 1 50 1 114 1-11 1 24 1 51 1 39 1 23 1 28 1-94 1-9"/>
<path d="M0 843l1-7 1-4 1-20 1-8 1-12 1-13 1-19 1-5 1-6 1-18 1-47 1-118 1-136 1-61 1-59 1 13 1 88 1 118 1 129 1 79 1-8 1 151 1 1 1 40 1 41 1 39 1 13 1 8 1 1 1-162"/>
<path d="M0 818l1-13 1 5 1-11 1-14 1-15 1-15 1-22 1-1 1-26 1-21 1-53 1-133 1-121 1-49 1-22 1-6 1 68 1 94 1 103 1 135 1 97 1 76 1-94 1 94 1 44 1 75 1 15 1-29 1-49 1-141"/>
<path d="M0 833l1-6 1 1 1-18 1-13 1-26 1-6 1-15 1-2 1-30 1-22 1-45 1-125 1-131 1-56 1-45 1 0 1 84 1 89 1 137 1 92 1 169 1-42 1 65 1 37 1 63 1 5 1 10 1 3 1-7 1-216"/>
<path d="M0 817l1-15 1 10 1-20 1-19 1-6 1-7 1-25 1-4 1-21 1-31 1-55 1-117 1-139 1-40 1-37 1 10 1 61 1 104 1 132 1 167 1 44 1 10 1 0 1 82 1 83 1 24 1-53 1 49 1-29 1-155"/>
<path d="M0 834l1-16 1 5 1-23 1-20 1-13 1-13 1-11 1-9 1-14 1-24 1-52 1-143 1-124 1-49 1-38 1-8 1 67 1 83 1 145 1 188 1 50 1-17 1 107 1-9 1 41 1 15 1 74 1-74 1 57 1-299"/>
<path d="M0 828l1-14 1-2 1-20 1-8 1-23 1-12 1-19 1 5 1-23 1-17 1-51 1-125 1-126 1-38 1-62 1 29 1 52 1 76 1 150 1 96 1 83 1 75 1-10 1 22 1 34 1 139 1-62 1 30 1-1 1-184"/>
<path d="M0 836l1-14 1 7 1-20 1-25 1-19 1-10 1-17 1-4 1-20 1-26 1-58 1-117 1-135 1-13 1-59 1-23 1 66 1 108 1 109 1 138 1 82 1-19 1 37 1 43 1 64 1 112 1 1 1-34 1-2 1-152"/>
<path d="M0 835l1-17 1 10 1-22 1-12 1-7 1-19 1-10 1-9 1-23 1-18 1-41 1-132 1-132 1-57 1-31 1-12 1 83 1 101 1 169 1 190 1-1 1 71 1-69 1 1 1 111 1 57 1 4 1 33 1-60 1-103"/>
<path d="M0 831l1-17 1 3 1-12 1-21 1-20 1-5 1-21 1 5 1-19 1-31 1-48 1-130 1-131 1-37 1-70 1-8 1 88 1 80 1 157 1 160 1 32 1 38 1-5 1 117 1-24 1 96 1-30 1-14 1-2 1-224"/>
<path d="M0 831l1-15 1 13 1-16 1-13 1-9 1-12 1-26 1 9 1-24 1-22 1-39 1-140 1-133 1-41 1-33 1-2 1 78 1 117 1 125 1 98 1 51 1 26 1 87 1 3 1 29 1 126 1-51 1 3 1-39 1-144"/>
<path d="M0 808l1-13 1 3 1-8 1-16 1-18 1-15 1-18 1 2 1-20 1-11 1-50 1-132 1-112 1-74 1-18 1-26 1 56 1 130 1 109 1 181 1 21 1 77 1-67 1 116 1 44 1 1 1 15 1 23 1 10 1-117"/>
<path d="M0 840l1-18 1 5 1-27 1-14 1-8 1-16 1-12 1 1 1-22 1-28 1-40 1-137 1-113 1-51 1-47 1 4 1 44 1 98 1 142 1 160 1 87 1-42 1 40 1 105 1-37 1 57 1 4 1 26 1-36 1-144"/>
<path d="M0 817l1-12 1 12 1-21 1-4 1-21 1-8 1-25 1-5 1-25 1-25 1-49 1-129 1-138 1-32 1-79 1 18 1 98 1 119 1 131 1 72 1 108 1 37 1 44 1-56 1 38 1 110 1 8 1 39 1 7 1-208"/>
<path d="M0 841l1-22 1 0 1-12 1-21 1-15 1-9 1-7 1-8 1-13 1-15 1-51 1-118 1-127 1-66 1-41 1-5 1 65 1 120 1 109 1 165 1 4 1 36 1 54 1-4 1 84 1 41 1 41 1-32 1-39 1-61"/>
<path d="M0 825l1-14 1 0 1-10 1-16 1-15 1-20 1-14 1-10 1-20 1-32 1-46 1-130 1-144 1-50 1-46 1-26 1 71 1 139 1 146 1 126 1 12 1 103 1 5 1-11 1 106 1 82 1-38 1 56 1-4 1-219"/>
<path d="M0 829l1-14 1 3 1-21 1-10 1-15 1-10 1-9 1-10 1-17 1-37 1-51 1-128 1-129 1-40 1-35 1-7 1 83 1 111 1 146 1 82 1 105 1-8 1 53 1-28 1 49 1 89 1 2 1 24 1-16 1-217"/>
<path d="M0 827l1-16 1-8 1-18 1-12 1-16 1-13 1-16 1-5 1-12 1-29 1-47 1-126 1-138 1-69 1-38 1 8 1 81 1 102 1 135 1 89 1 141 1 52 1 21 1 40 1 25 1-25 1 45 1 95 1-157 1-54"/>
<path d="M0 810l1-2 1-1 1-18 1-11 1-20 1-12 1-19 1-2 1-21 1-34 1-43 1-127 1-129 1-51 1-28 1-14 1 48 1 85 1 124 1 173 1 58 1 154 1-78 1 21 1 59 1 54 1-3 1 44 1-33 1-213"/>
<path d="M0 827l1-9 1-4 1-17 1-17 1-20 1-5 1-15 1 6 1-21 1-24 1-44 1-147 1-123 1-48 1-45 1 10 1 97 1 105 1 108 1 168 1 25 1 77 1 42 1-30 1 85 1 72 1-49 1 20 1-57 1-143"/>
<path d="M0 840l1-15 1-6 1-22 1-13 1-17 1-18 1-12 1-7 1-17 1-18 1-44 1-139 1-145 1-39 1-24 1-23 1 82 1 127 1 132 1 67 1 115 1 62 1-60 1 68 1 69 1 33 1 13 1 76 1-131 1-63"/>
<path d="M0 829l1-11 1 6 1-24 1-10 1-14 1-15 1-18 1-1 1-24 1-21 1-55 1-136 1-141 1-55 1-4 1-20 1 80 1 100 1 157 1 136 1 36 1 53 1 26 1 16 1 2 1 135 1-21 1-31 1 33 1-144"/>
<path d="M0 808l1-7 1 5 1-16 1-12 1-14 1-18 1-22 1 0 1-13 1-37 1-53 1-122 1-136 1-48 1-47 1 9 1 77 1 85 1 112 1 237 1 19 1 66 1-30 1 4 1 38 1 104 1 49 1-18 1-100 1-108"/>
<path d="M0 845l1-15 1 5 1-19 1-15 1-19 1-17 1-18 1-5 1-14 1-26 1-44 1-134 1-137 1-25 1-54 1 10 1 62 1 129 1 148 1 121 1-11 1 78 1-17 1 79 1 65 1 17 1 28 1 13 1-37 1-123"/>
<path d="M0 820l1-8 1 1 1-28 1-12 1-14 1-11 1-17 1 4 1-30 1-21 1-56 1-130 1-106 1-78 1-39 1 42 1 63 1 80 1 150 1 201 1-71 1 65 1 95 1-39 1 74 1 46 1 48 1-59 1 12 1-154"/>
<path d="M0 823l1-10 1-5 1-15 1-6 1-17 1-14 1-17 1-2 1-24 1-21 1-53 1-132 1-126 1-21 1-53 1 0 1 66 1 114 1 129 1 164 1 50 1 30 1 0 1 12 1 69 1 46 1 26 1-28 1-8 1-132"/>
<path d="M0 844l1-19 1 3 1-12 1-21 1-15 1-11 1-19 1-9 1-9 1-32 1-39 1-124 1-131 1-62 1-45 1 27 1 82 1 109 1 107 1 172 1-23 1 159 1-82 1 93 1-4 1 58 1 13 1 13 1-12 1-107"/>
<path d="M0 824l1-15 1 0 1-18 1-13 1-10 1-10 1-17 1-2 1-18 1-19 1-56 1-135 1-117 1-52 1-43 1-9 1 69 1 114 1 140 1 140 1 64 1-55 1 132 1-33 1 102 1 17 1 2 1 23 1-34 1-44"/>
<path d="M0 831l1-11 1 4 1-20 1-16 1-12 1-19 1-12 1 3 1-28 1-15 1-40 1-133 1-127 1-41 1-62 1-13 1 125 1 104 1 105 1 154 1-43 1 114 1 5 1-17 1 88 1 19 1 24 1 58 1-55 1-110"/>
<path d="M0 818l1-14 1 8 1-23 1-14 1-14 1-13 1-10 1-4 1-15 1-31 1-40 1-141 1-128 1-46 1-67 1 14 1 56 1 111 1 127 1 246 1 3 1-21 1 32 1 85 1 43 1 14 1 11 1 52 1-110 1-101"/>
<path d="M0 827l1-8 1 6 1-26 1-9 1-13 1-11 1-18 1-3 1-22 1-32 1-49 1-123 1-138 1-47 1-52 1 60 1 31 1 148 1 109 1 116 1 91 1 15 1-27 1 41 1 103 1 10 1 34 1-24 1 21 1-176"/>
<path d="M0 821l1-7 1-3 1-20 1-21 1-15 1-7 1-21 1-4 1-25 1-24 1-48 1-137 1-132 1-34 1-56 1 50 1 27 1 69 1 152 1 137 1 35 1 112 1-4 1 64 1 3 1 132 1-77 1 53 1-66 1-132"/>
<path d="M0 832l1-14 1 1 1-17 1-13 1-15 1-10 1-14 1-10 1-15 1-28 1-44 1-125 1-129 1-73 1-15 1-14 1 87 1 90 1 139 1 143 1 99 1-68 1 38 1 54 1 75 1 41 1 18 1 21 1-55 1-152"/>
<path d="M0 821l1-10 1 0 1-15 1-8 1-27 1-5 1-16 1 2 1-19 1-32 1-62 1-131 1-129 1-69 1-42 1 22 1 71 1 92 1 112 1 187 1 24 1 58 1-24 1 64 1 111 1 40 1-46 1 37 1-50 1-192"/>
<path d="M0 833l1-6 1 3 1-18 1-14 1-12 1-21 1-6 1-10 1-23 1-29 1-29 1-139 1-127 1-73 1-9 1 4 1 61 1 120 1 161 1 115 1 23 1 71 1-2 1-4 1 77 1 17 1 3 1 38 1-17 1-126"/>
<path d="M0 838l1-18 1 3 1-18 1-15 1-6 1-6 1-26 1 1 1-29 1-26 1-38 1-119 1-136 1-54 1-32 1 2 1 91 1 73 1 127 1 117 1 65 1 130 1-86 1 108 1 51 1 56 1-40 1 5 1-7 1-174"/>
<path d="M0 823l1-16 1 2 1-20 1-10 1-15 1-15 1-16 1-5 1-21 1-16 1-47 1-124 1-128 1-35 1-21 1-4 1 48 1 95 1 136 1 138 1 64 1 40 1 42 1-67 1 111 1 30 1 8 1 58 1-125 1-61"/>
<path d="M0 839l1-19 1 3 1-17 1-14 1-17 1-16 1-15 1 3 1-27 1-28 1-52 1-116 1-116 1-77 1-20 1-4 1 90 1 118 1 103 1 182 1-18 1 119 1-9 1 57 1-13 1 35 1 25 1 31 1-35 1-93"/>
<path d="M0 843l1-23 1 15 1-19 1-9 1-20 1-10 1-13 1-11 1-17 1-31 1-39 1-128 1-145 1-37 1-9 1-50 1 99 1 97 1 125 1 136 1 74 1-33 1 64 1-10 1 92 1 77 1-13 1-13 1 10 1-81"/>
<path d="M0 828l1-12 1 0 1-17 1-19 1-15 1-14 1-17 1 0 1-16 1-34 1-44 1-127 1-148 1-44 1-43 1-6 1 126 1 90 1 105 1 90 1 146 1 33 1 1 1 75 1-5 1 21 1 20 1 63 1-45 1-127"/>
<path d="M0 813l1-15 1 11 1-16 1-14 1-16 1-13 1-17 1-12 1-15 1-36 1-53 1-125 1-129 1-35 1-50 1 29 1 53 1 103 1 80 1 193 1 23 1 78 1 37 1 26 1 58 1 31 1 45 1-16 1-82 1-130"/>
<path d="M0 831l1-20 1 3 1-18 1-20 1-8 1-11 1-21 1 0 1-23 1-25 1-45 1-130 1-129 1-20 1-74 1 25 1 90 1 66 1 153 1 127 1 62 1-68 1 142 1 20 1 10 1 92 1-35 1 72 1-69 1-133"/>
<path d="M0 825l1-16 1 0 1-20 1-9 1-12 1-4 1-27 1 6 1-24 1-22 1-43 1-122 1-141 1-47 1-45 1-11 1 104 1 108 1 101 1 112 1 114 1 51 1-8 1 18 1 48 1 69 1-8 1-31 1 11 1-167"/>
<path d="M0 824l1-19 1 0 1-23 1-15 1-25 1 1 1-11 1 0 1-20 1-28 1-35 1-143 1-116 1-55 1-46 1 16 1 73 1 95 1 156 1 124 1 41 1 30 1 30 1 15 1 78 1 56 1-54 1 44 1 8 1-136"/>
<path d="M0 831l1-9 1 0 1-17 1-14 1-10 1-5 1-26 1-6 1-22 1-33 1-40 1-128 1-132 1-52 1-62 1 32 1 81 1 81 1 139 1 154 1 13 1 40 1 68 1-81 1 126 1 47 1 83 1-12 1-35 1-182"/>
<path d="M0 816l1-12 1 5 1-25 1-9 1-27 1-9 1-4 1-4 1-23 1-32 1-46 1-139 1-154 1-39 1-11 1-22 1 58 1 129 1 119 1 168 1 8 1 105 1 73 1-71 1 89 1 123 1-77 1 32 1-31 1-209"/>
<path d="M0 817l1-16 1 4 1-17 1-19 1-18 1-22 1-6 1-7 1-17 1-32 1-56 1-109 1-139 1-60 1-36 1 45 1 30 1 87 1 167 1 147 1 89 1 28 1-43 1 21 1 170 1 45 1-87 1 44 1-20 1-104"/>
<path d="M0 847l1-14 1-5 1-16 1-13 1-18 1-1 1-17 1-5 1-30 1-32 1-37 1-122 1-130 1-38 1-72 1 23 1 103 1 93 1 125 1 95 1 30 1 117 1 2 1-77 1 167 1 33 1 0 1 20 1-43 1-164"/>
<path d="M0 826l1-13 1 0 1-15 1-17 1-12 1-25 1-14 1-7 1-22 1-33 1-53 1-122 1-132 1-44 1-38 1-6 1 85 1 104 1 106 1 144 1 56 1 61 1-17 1 67 1 46 1 78 1 6 1 55 1-63 1-240"/>
<path d="M0 826l1-21 1 4 1-16 1-13 1-16 1-10 1-15 1-4 1-16 1-34 1-48 1-133 1-138 1-36 1-21 1 4 1 49 1 105 1 108 1 154 1 81 1 57 1-33 1 10 1 52 1 107 1 10 1 12 1-65 1-142"/>
<path d="M0 830l1-16 1 7 1-19 1-25 1-7 1-23 1-14 1 4 1-18 1-26 1-41 1-138 1-135 1-43 1-47 1-1 1 79 1 108 1 133 1 69 1 108 1 51 1 74 1-93 1 126 1 28 1 12 1 59 1-120 1-54"/>
<path d="M0 823l1-12 1 4 1-16 1-26 1-6 1-20 1-13 1-6 1-13 1-34 1-31 1-142 1-127 1-84 1-24 1-38 1 78 1 122 1 120 1 180 1 99 1-46 1 39 1 55 1 36 1 101 1-55 1 58 1-62 1-197"/>
<path d="M0 815l1-16 1 0 1-15 1-16 1-15 1-5 1-24 1-2 1-27 1-27 1-37 1-142 1-129 1-68 1-30 1 29 1 62 1 76 1 125 1 197 1-18 1 113 1 1 1 86 1 9 1 13 1-6 1 24 1-27 1-90"/>
<path d="M0 810l1-18 1 5 1-12 1-13 1-11 1-4 1-24 1-6 1-17 1-31 1-43 1-139 1-137 1-51 1-56 1 43 1 20 1 113 1 128 1 185 1 43 1-15 1 54 1-1 1 59 1 107 1-19 1 52 1-11 1-187"/>
<path d="M0 815l1-9 1-5 1-12 1-21 1-12 1-13 1-16 1-5 1-16 1-26 1-50 1-129 1-140 1-43 1-39 1-1 1 104 1 72 1 130 1 113 1 121 1 57 1-113 1 94 1 80 1 66 1 1 1-1 1 52 1-292"/>
<path d="M0 838l1-21 1-1 1-14 1-13 1-21 1-4 1-19 1-14 1-15 1-18 1-39 1-133 1-124 1-58 1-29 1 6 1 46 1 104 1 155 1 140 1 49 1-24 1 96 1 23 1-9 1 104 1-31 1 28 1 0 1-160"/>
<path d="M0 806l1-9 1 9 1-18 1-10 1-12 1-9 1-20 1-10 1-20 1-33 1-53 1-125 1-125 1-38 1-30 1-17 1 36 1 97 1 132 1 224 1 21 1-4 1 71 1 33 1 43 1 22 1 30 1-26 1 14 1-170"/>
<path d="M0 836l1-12 1 5 1-21 1-15 1-4 1-14 1-16 1-11 1-19 1-31 1-49 1-111 1-134 1-61 1-15 1-33 1 94 1 106 1 158 1 112 1 29 1 17 1 64 1 22 1 84 1 102 1-82 1-42 1 27 1-102"/>
<path d="M0 828l1-15 1 3 1-20 1-14 1-20 1-11 1-13 1-5 1-11 1-33 1-44 1-138 1-131 1-25 1-68 1-14 1 64 1 105 1 106 1 199 1 55 1 28 1 18 1 38 1-38 1 138 1-7 1 30 1 11 1-97"/>
<path d="M0 820l1-18 1 9 1-13 1-20 1-15 1-11 1-14 1-9 1-16 1-25 1-69 1-128 1-131 1-60 1-56 1 61 1 36 1 107 1 126 1 134 1 138 1-86 1 55 1 87 1 36 1 66 1-27 1 85 1-63 1-71"/>
<path d="M0 815l1-3 1 1 1-23 1-21 1-13 1-3 1-30 1 12 1-20 1-31 1-58 1-125 1-151 1-31 1-47 1-17 1 47 1 124 1 139 1 146 1 95 1 17 1 59 1-15 1 37 1 73 1 41 1-15 1-31 1-130"/>
<path d="M0 834l1-7 1-8 1-13 1-14 1-11 1-13 1-20 1 2 1-28 1-28 1-49 1-131 1-120 1-47 1-15 1 18 1 62 1 114 1 120 1 99 1 34 1 43 1 54 1-2 1 15 1 152 1-31 1 24 1-20 1-77"/>
<path d="M0 814l1-14 1 0 1-15 1-18 1-13 1-14 1-10 1-8 1-13 1-27 1-55 1-131 1-134 1-69 1 0 1-23 1 35 1 114 1 147 1 164 1 134 1-10 1 41 1 19 1-26 1 106 1 20 1 55 1-83 1-144"/>
<path d="M0 816l1-12 1 3 1-22 1-10 1-17 1-16 1-19 1 7 1-28 1-34 1-45 1-121 1-130 1-49 1-17 1-9 1 43 1 98 1 152 1 208 1 7 1-35 1 130 1 16 1-30 1 109 1-43 1 20 1-37 1-101"/>
<path d="M0 825l1-17 1 11 1-20 1-10 1-21 1-12 1-21 1-16 1-16 1-19 1-51 1-118 1-120 1-38 1-21 1-9 1 42 1 139 1 121 1 116 1 42 1 60 1 51 1-6 1 86 1 7 1-12 1 14 1-12 1-54"/>
<path d="M0 837l1-10 1 4 1-23 1-3 1-21 1-10 1-23 1 1 1-21 1-26 1-47 1-106 1-150 1-42 1-53 1-11 1 69 1 139 1 143 1 81 1 30 1 27 1 77 1 41 1 33 1 126 1-25 1-8 1-15 1-117"/>
<path d="M0 821l1-16 1 11 1-18 1-23 1-14 1-8 1-23 1 4 1-21 1-28 1-48 1-128 1-135 1-39 1-38 1 15 1 42 1 109 1 126 1 165 1 33 1 34 1 38 1 35 1 44 1 52 1 1 1 35 1-111 1-60"/>
<path d="M0 838l1-14 1 4 1-25 1-11 1-9 1-15 1-16 1-2 1-26 1-23 1-47 1-135 1-124 1-59 1-35 1 28 1 48 1 98 1 157 1 157 1 9 1 46 1 94 1-74 1 143 1-9 1-37 1 103 1-97 1-190"/>
<path d="M0 846l1-21 1 2 1-21 1-14 1-7 1-10 1-28 1 3 1-11 1-27 1-40 1-130 1-123 1-74 1-19 1 15 1 78 1 105 1 144 1 114 1-45 1 111 1 17 1 49 1 24 1 113 1-66 1 35 1-40 1-96"/>
<path d="M0 834l1-10 1-3 1-22 1-15 1-17 1 2 1-16 1-11 1-14 1-35 1-58 1-126 1-149 1-27 1-41 1 13 1 89 1 94 1 135 1 164 1 24 1 23 1 27 1 53 1-6 1 56 1 15 1 46 1-71 1-68"/>
<path d="M0 810l1-14 1-2 1-22 1-20 1-12 1-11 1-11 1 3 1-22 1-28 1-45 1-151 1-119 1-56 1-51 1 29 1 36 1 84 1 127 1 248 1-17 1 43 1 41 1-10 1 64 1 142 1-55 1 41 1-15 1-243"/>
<path d="M0 841l1-10 1 1 1-22 1-15 1-20 1-11 1-7 1-2 1-23 1-19 1-33 1-126 1-132 1-40 1-59 1-10 1 124 1 95 1 143 1 31 1 42 1 103 1 73 1 3 1 8 1 107 1-56 1 63 1-62 1-101"/>
<path d="M0 833l1-15 1-3 1-17 1-17 1-13 1-14 1-23 1-4 1-13 1-20 1-61 1-120 1-142 1-45 1-19 1 8 1 89 1 76 1 142 1 87 1 104 1 104 1-64 1 99 1-18 1-4 1 83 1 6 1-58 1-145"/>
<path d="M0 825l1-17 1 6 1-17 1-16 1-14 1-14 1-20 1 1 1-23 1-22 1-54 1-133 1-110 1-31 1-77 1 22 1 69 1 75 1 119 1 128 1 65 1 63 1 22 1 35 1-7 1 185 1-95 1 57 1-76 1-123"/>
<path d="M0 817l1-13 1 10 1-19 1-23 1-13 1-24 1-11 1-5 1-12 1-32 1-42 1-134 1-122 1-60 1-59 1 44 1 35 1 125 1 122 1 131 1 33 1 80 1 49 1 8 1 29 1 75 1-20 1 29 1-54 1-117"/>
<path d="M0 841l1-15 1 0 1-18 1-20 1-18 1-8 1-16 1 0 1-23 1-26 1-40 1-135 1-140 1-36 1-11 1 16 1 70 1 84 1 130 1 114 1 112 1-77 1 76 1 23 1 7 1 107 1 72 1-22 1-108 1-96"/>
<path d="M0 845l1-15 1-4 1-18 1-14 1-11 1-7 1-21 1-9 1-18 1-42 1-39 1-128 1-131 1-44 1-40 1-38 1 110 1 83 1 118 1 120 1 135 1 3 1 36 1 7 1 58 1 105 1 30 1-63 1-13 1-200"/>
<path d="M0 819l1-12 1 3 1-22 1-16 1-13 1-11 1-12 1-8 1-22 1-31 1-53 1-115 1-125 1-71 1 6 1-7 1 61 1 108 1 125 1 96 1 95 1 13 1 25 1 56 1 98 1 24 1-32 1 6 1 12 1-207"/>
<path d="M0 830l1-15 1 0 1-17 1-20 1-11 1-15 1-18 1 1 1-12 1-29 1-50 1-124 1-129 1-72 1-16 1-7 1 45 1 103 1 146 1 122 1 119 1-24 1 117 1 16 1-28 1 106 1 9 1-36 1 27 1-165"/>
<path d="M0 815l1-6 1 0 1-17 1-17 1-9 1-16 1-15 1-7 1-22 1-28 1-45 1-138 1-128 1-50 1-55 1 21 1 46 1 124 1 140 1 192 1 62 1 29 1-49 1 13 1 130 1 3 1 24 1 55 1-121 1-94"/>
<path d="M0 838l1-17 1 7 1-18 1-10 1-16 1-7 1-19 1-11 1-13 1-26 1-48 1-126 1-121 1-77 1-17 1-4 1 103 1 96 1 146 1 65 1 110 1 34 1 3 1 81 1-16 1 44 1 52 1-22 1-15 1-131"/>
<path d="M0 828l1-12 1 0 1-21 1-11 1-13 1-20 1-16 1-20 1-11 1-31 1-44 1-123 1-120 1-56 1-19 1-2 1 77 1 95 1 142 1 158 1 82 1 51 1-94 1 44 1 63 1 89 1-53 1 65 1-34 1-231"/>
<path d="M0 820l1-20 1 7 1-20 1-10 1-10 1-23 1-11 1-14 1-19 1-15 1-44 1-133 1-136 1-49 1-43 1 6 1 54 1 88 1 178 1 128 1 103 1-80 1 101 1-16 1 105 1 27 1 11 1 52 1-61 1-191"/>
<path d="M0 834l1-19 1 1 1-14 1-15 1-17 1-18 1-21 1-6 1-17 1-18 1-36 1-132 1-121 1-44 1-41 1 34 1 50 1 95 1 115 1 186 1-18 1 79 1 41 1-16 1 38 1 118 1-46 1 30 1-19 1-181"/>
<path d="M0 838l1-11 1-8 1-15 1-15 1-20 1-5 1-20 1 0 1-14 1-21 1-38 1-124 1-144 1-65 1-16 1-17 1 73 1 126 1 134 1 126 1 70 1-29 1 60 1 41 1 92 1-71 1 59 1 27 1-44 1-197"/>
<path d="M0 822l1-9 1-1 1-16 1-23 1-7 1-16 1-10 1-3 1-15 1-24 1-46 1-134 1-131 1-56 1-43 1 6 1 64 1 99 1 134 1 134 1 73 1 76 1-118 1 122 1 18 1 107 1 25 1-73 1 59 1-180"/>
<path d="M0 849l1-20 1 3 1-18 1-20 1-10 1-5 1-19 1-1 1-23 1-15 1-47 1-126 1-131 1-53 1-32 1 38 1 47 1 105 1 152 1 107 1 108 1-35 1 58 1-83 1 122 1 44 1-25 1 91 1-84 1-165"/>
<path d="M0 831l1-9 1-3 1-17 1-17 1-10 1-9 1-14 1-7 1-16 1-25 1-50 1-136 1-133 1-55 1-31 1 8 1 62 1 126 1 131 1 76 1 73 1 19 1 61 1 22 1 36 1 105 1-33 1 35 1-34 1-129"/>
<path d="M0 825l1-19 1 6 1-22 1-15 1-16 1-15 1-12 1-7 1-15 1-36 1-41 1-124 1-128 1-47 1-26 1-2 1 29 1 86 1 133 1 216 1 15 1 35 1 30 1 8 1 104 1 55 1-29 1 27 1-76 1-47"/>
<path d="M0 836l1-20 1 1 1-24 1-20 1-18 1-16 1-14 1 4 1-18 1-38 1-37 1-129 1-126 1-36 1-39 1 1 1 34 1 87 1 177 1 148 1 17 1 129 1-29 1 27 1 5 1 59 1 64 1-3 1-10 1-199"/>
<path d="M0 825l1-17 1 2 1-13 1-9 1-19 1-11 1-14 1 0 1-30 1-31 1-50 1-143 1-125 1-66 1-50 1 30 1 104 1 87 1 146 1 79 1 112 1 58 1 28 1-35 1 53 1 2 1 111 1-15 1-53 1-102"/>
<path d="M0 820l1-14 1 5 1-16 1-19 1-12 1-13 1-24 1 3 1-20 1-34 1-40 1-134 1-125 1-28 1-62 1 19 1 17 1 105 1 128 1 159 1 40 1 42 1 118 1-55 1 62 1 77 1 12 1-27 1-40 1-59"/>
<path d="M0 837l1-12 1 1 1-14 1-13 1-9 1-22 1-8 1-5 1-23 1-23 1-33 1-132 1-136 1-48 1-62 1 23 1 82 1 116 1 135 1 108 1 96 1-74 1 78 1-21 1 33 1 116 1 8 1-44 1 27 1-207"/>
<path d="M0 836l1-13 1-1 1-17 1-16 1-16 1-9 1-17 1 1 1-32 1-20 1-34 1-142 1-121 1-67 1-20 1-43 1 86 1 97 1 170 1 119 1 114 1 68 1-100 1 22 1 82 1 67 1 3 1 78 1-116 1-82"/>
<path d="M0 816l1-7 1 0 1-19 1-11 1-12 1-17 1-14 1-8 1-26 1-31 1-54 1-121 1-131 1-17 1-61 1 32 1 60 1 67 1 137 1 97 1 110 1 22 1-14 1 77 1 40 1 127 1 8 1 35 1-142 1-226"/>
<path d="M0 806l1-11 1 3 1-17 1-16 1-16 1-21 1-10 1-6 1-20 1-28 1-52 1-133 1-136 1-54 1-14 1-11 1 41 1 103 1 143 1 254 1-41 1 41 1 42 1 92 1-28 1 65 1 8 1 37 1-52 1-72"/>
<path d="M0 824l1-8 1 0 1-16 1-22 1-16 1-17 1-12 1 1 1-12 1-27 1-49 1-123 1-138 1-59 1-26 1-28 1 64 1 107 1 131 1 108 1 157 1-11 1 61 1-88 1 135 1 79 1-63 1 88 1-70 1-162"/>
<path d="M0 832l1-8 1 3 1-21 1-16 1-17 1-16 1-14 1 2 1-18 1-28 1-50 1-122 1-137 1-61 1-40 1 22 1 87 1 99 1 112 1 117 1 70 1 116 1-20 1 23 1 20 1 61 1 16 1-3 1 29 1-215"/>
<path d="M0 842l1-14 1-1 1-21 1-11 1-15 1-10 1-10 1-9 1-21 1-23 1-47 1-141 1-132 1-55 1-50 1 32 1 33 1 146 1 136 1 151 1 92 1-32 1 58 1 5 1 5 1 127 1-22 1-73 1 46 1-209"/>
<path d="M0 814l1-10 1 2 1-20 1-7 1-12 1-12 1-15 1-12 1-23 1-31 1-48 1-123 1-135 1-53 1-42 1 17 1 28 1 144 1 131 1 155 1-27 1 90 1 44 1 3 1 105 1 52 1 28 1-43 1-54 1-76"/>
<path d="M0 824l1-17 1 5 1-26 1-18 1-8 1-16 1-16 1 2 1-22 1-29 1-45 1-133 1-126 1-41 1-11 1-13 1 31 1 125 1 103 1 179 1 10 1 100 1-21 1 30 1 150 1-116 1 78 1 5 1-3 1-237"/>
<path d="M0 849l1-21 1 1 1-21 1-15 1-16 1-17 1-9 1-4 1-15 1-21 1-42 1-121 1-137 1-25 1-59 1-12 1 69 1 107 1 130 1 121 1 132 1 44 1-75 1 80 1 44 1 11 1 26 1 21 1-36 1-164"/>
<path d="M0 832l1-20 1-5 1-14 1-20 1-9 1-15 1-12 1 1 1-20 1-33 1-36 1-132 1-113 1-66 1-55 1 19 1 76 1 102 1 160 1 124 1 96 1-41 1 84 1-2 1 73 1 17 1-2 1 31 1-61 1-166"/>
<path d="M0 817l1-11 1 5 1-19 1-15 1-18 1-11 1-18 1-8 1-20 1-23 1-50 1-120 1-141 1-36 1-37 1-18 1 25 1 88 1 108 1 224 1 20 1 99 1-23 1 96 1-4 1 38 1 19 1-8 1 52 1-212"/>
<path d="M0 815l1-19 1 2 1-20 1-21 1-11 1-16 1-14 1-2 1-13 1-23 1-57 1-119 1-124 1-43 1-27 1-4 1 37 1 87 1 132 1 199 1 24 1 80 1-82 1 133 1-11 1 91 1 19 1-14 1-58 1-212"/>
<path d="M0 825l1-24 1 9 1-14 1-10 1-13 1-12 1-25 1 4 1-16 1-21 1-48 1-141 1-140 1-56 1-1 1-9 1 32 1 134 1 119 1 150 1 56 1 79 1-71 1 47 1 38 1 159 1-51 1 16 1 0 1-80"/>
<path d="M0 838l1-19 1 3 1-21 1-13 1-13 1-22 1-23 1 1 1-15 1-17 1-43 1-132 1-136 1-44 1-16 1-26 1 98 1 85 1 141 1 132 1 1 1 174 1-65 1 34 1 39 1 77 1-25 1 5 1 32 1-139"/>
<path d="M0 819l1-4 1 5 1-23 1-13 1-19 1-8 1-10 1-13 1-14 1-23 1-51 1-131 1-137 1-43 1-31 1-10 1 82 1 98 1 133 1 160 1 52 1-20 1 5 1 88 1 70 1 38 1-18 1 37 1-37 1-156"/>
<path d="M0 835l1-18 1 2 1-23 1-11 1-9 1-12 1-16 1-1 1-15 1-22 1-36 1-142 1-130 1-69 1-29 1-3 1 86 1 100 1 140 1 115 1 117 1-35 1 34 1 27 1 60 1 20 1 61 1 8 1-45 1-154"/>
<path d="M0 837l1-13 1-4 1-14 1-10 1-14 1-10 1-17 1-1 1-25 1-26 1-47 1-111 1-139 1-48 1-22 1 3 1 85 1 104 1 138 1 110 1 31 1 38 1-29 1 119 1-27 1 107 1-50 1 83 1-44 1-127"/>
<path d="M0 839l1-12 1 1 1-22 1-17 1-19 1-18 1-15 1 8 1-21 1-26 1-36 1-128 1-127 1-36 1-67 1-8 1 89 1 126 1 115 1 123 1 65 1-2 1 12 1 38 1 122 1 8 1 10 1 25 1-25 1-154"/>
<path d="M0 819l1-24 1 11 1-13 1-18 1-3 1-16 1-14 1-9 1-21 1-30 1-43 1-129 1-143 1-65 1-65 1 38 1 62 1 93 1 145 1 202 1 19 1 7 1 72 1-9 1 90 1 20 1-1 1 34 1-61 1-99"/>
<path d="M0 821l1-12 1 4 1-18 1-22 1-8 1-11 1-18 1-15 1-14 1-30 1-47 1-137 1-138 1-54 1-26 1-18 1 61 1 85 1 141 1 170 1 118 1-29 1 83 1-4 1 79 1 36 1-4 1 30 1-31 1-116"/>
<path d="M0 811l1-9 1 0 1-12 1-12 1-17 1-11 1-18 1-4 1-17 1-23 1-56 1-118 1-134 1-51 1-45 1 19 1 30 1 95 1 132 1 227 1-45 1 62 1 81 1-2 1 57 1 51 1 18 1 36 1-59 1-78"/>
<path d="M0 832l1-13 1 4 1-19 1-11 1-11 1-6 1-20 1 3 1-24 1-21 1-47 1-132 1-120 1-58 1-45 1 7 1 83 1 99 1 142 1 142 1 56 1 66 1-73 1 69 1 31 1 115 1-36 1-24 1-25 1-129"/>
<path d="M0 848l1-15 1 7 1-21 1-13 1-12 1-14 1-17 1 3 1-34 1-20 1-40 1-124 1-112 1-68 1-37 1 1 1 98 1 103 1 134 1 78 1 106 1-4 1 89 1 5 1 69 1-17 1-15 1 52 1-30 1-170"/>
<path d="M0 841l1-4 1-8 1-17 1-23 1-10 1-20 1-10 1-2 1-18 1-31 1-43 1-117 1-128 1-63 1 2 1-14 1 100 1 96 1 140 1 173 1-33 1 62 1 2 1-6 1 97 1 56 1-27 1-5 1 87 1-174"/>
<path d="M0 829l1-12 1 2 1-15 1-12 1-16 1-17 1-10 1-3 1-29 1-26 1-42 1-139 1-133 1-51 1-53 1 14 1 54 1 109 1 109 1 230 1-22 1 64 1 28 1 20 1 33 1 19 1 35 1 15 1 7 1-176"/>
<path d="M0 816l1-15 1 4 1-23 1-11 1-7 1-14 1-21 1-2 1-10 1-37 1-41 1-129 1-124 1-36 1-59 1 11 1 35 1 112 1 134 1 209 1 6 1 25 1-73 1 122 1 29 1 62 1 51 1-41 1 43 1-126"/>
<path d="M0 840l1-22 1 6 1-23 1-16 1-8 1-11 1-11 1 6 1-31 1-27 1-47 1-137 1-119 1-53 1-50 1 16 1 64 1 147 1 153 1 141 1 20 1-30 1 38 1 67 1 31 1-2 1 64 1 45 1-88 1-138"/>
<path d="M0 832l1-20 1 6 1-18 1-15 1-13 1-12 1-21 1-4 1-10 1-38 1-54 1-123 1-134 1-72 1 8 1-24 1 84 1 85 1 154 1 148 1 24 1 80 1 0 1 16 1 62 1 48 1 40 1-2 1-51 1-155"/>
<path d="M0 847l1-17 1 5 1-18 1-9 1-20 1-7 1-17 1-4 1-24 1-21 1-50 1-135 1-127 1-42 1-35 1-4 1 58 1 129 1 148 1 97 1 129 1-54 1 20 1 103 1-11 1 76 1 2 1 40 1-52 1-134"/>
<path d="M0 838l1-9 1 3 1-22 1-4 1-16 1-8 1-20 1 3 1-24 1-9 1-39 1-135 1-133 1-54 1-59 1 10 1 87 1 97 1 170 1 90 1 59 1 6 1 51 1 16 1 37 1 69 1 53 1-93 1 18 1-120"/>
<path d="M0 818l1-4 1 6 1-16 1-16 1-15 1-14 1-11 1-3 1-20 1-26 1-41 1-128 1-134 1-73 1-40 1-2 1 60 1 126 1 149 1 100 1 70 1 16 1 70 1-24 1 14 1 133 1 7 1 6 1-20 1-183"/>
<path d="M0 842l1-10 1 1 1-21 1 0 1-15 1-9 1-19 1-6 1-21 1-31 1-41 1-136 1-135 1-65 1-47 1 5 1 89 1 123 1 87 1 163 1 112 1 36 1-68 1 16 1 144 1-15 1 70 1 36 1-93 1-155"/>
<path d="M0 833l1-19 1 7 1-17 1-10 1-16 1-13 1-13 1-6 1-15 1-23 1-47 1-125 1-132 1-40 1-42 1-5 1 75 1 103 1 150 1 92 1 151 1-34 1-6 1 76 1 21 1 73 1 29 1 9 1-50 1-166"/>
<path d="M0 850l1-17 1-4 1-9 1-15 1-14 1-12 1-20 1 1 1-22 1-19 1-45 1-127 1-127 1-59 1-41 1-16 1 133 1 92 1 144 1 100 1 36 1 61 1-50 1 107 1 31 1 42 1 1 1 27 1-6 1-193"/>
<path d="M0 816l1-10 1 6 1-19 1-9 1-18 1-18 1-11 1-12 1-18 1-31 1-37 1-137 1-128 1-40 1-54 1 24 1 72 1 87 1 120 1 166 1 58 1 112 1-52 1 67 1-19 1 56 1-38 1 105 1-109 1-91"/>
<path d="M0 844l1-10 1-2 1-17 1-10 1-16 1-5 1-15 1 4 1-33 1-17 1-35 1-141 1-127 1-36 1-33 1-17 1 54 1 127 1 147 1 118 1-38 1 81 1 38 1-9 1 86 1 80 1 28 1-7 1-50 1-192"/>
<path d="M0 839l1-14 1-2 1-24 1-9 1-14 1-13 1-22 1 1 1-20 1-24 1-52 1-141 1-108 1-55 1-23 1-32 1 82 1 110 1 143 1 215 1-30 1 62 1-53 1 118 1-27 1 64 1 79 1-64 1-4 1-79"/>
<path d="M0 833l1-11 1 4 1-17 1-17 1-11 1-9 1-14 1-11 1-18 1-18 1-46 1-128 1-117 1-50 1-38 1 13 1 78 1 105 1 118 1 69 1 96 1 66 1-72 1 80 1 27 1 94 1 30 1-23 1 4 1-205"/>
<path d="M0 828l1-12 1 2 1-20 1-10 1-21 1-9 1-15 1-5 1-20 1-19 1-51 1-133 1-124 1-66 1-17 1 10 1 47 1 118 1 136 1 112 1 50 1 59 1-12 1 76 1 52 1 9 1 48 1-21 1 38 1-146"/>
<path d="M0 811l1-9 1 7 1-25 1-21 1-17 1-10 1-14 1 2 1-18 1-18 1-69 1-132 1-109 1-56 1-55 1 24 1 63 1 78 1 156 1 263 1 10 1-30 1 17 1 66 1 53 1 77 1-42 1 27 1-49 1-125"/>
<path d="M0 826l1-15 1 3 1-13 1-21 1-7 1-19 1-17 1-6 1-20 1-27 1-46 1-122 1-127 1-49 1-23 1-17 1 88 1 87 1 160 1 163 1 8 1 22 1-46 1 87 1 73 1 7 1 50 1 10 1 1 1-156"/>
<path d="M0 830l1-10 1-6 1-21 1-16 1-14 1-15 1-16 1-1 1-16 1-34 1-37 1-129 1-122 1-56 1-76 1 36 1 69 1 104 1 132 1 124 1 39 1 142 1-39 1-45 1 147 1-2 1-11 1 51 1-23 1-223"/>
<path d="M0 819l1-10 1-2 1-18 1-7 1-24 1-12 1-14 1-1 1-26 1-23 1-44 1-135 1-131 1-56 1-45 1-4 1 77 1 106 1 139 1 190 1-50 1 164 1-25 1 29 1 35 1 5 1 55 1 13 1-86 1-153"/>
<path d="M0 831l1-13 1-1 1-20 1-20 1-9 1-14 1-14 1-7 1-16 1-29 1-43 1-124 1-122 1-20 1-62 1-2 1 37 1 121 1 143 1 30 1 78 1 53 1 52 1 98 1-12 1 130 1-24 1-1 1-70 1-77"/>
<path d="M0 826l1-23 1 6 1-21 1-17 1-15 1-14 1-14 1 5 1-25 1-22 1-48 1-140 1-138 1-64 1-36 1 21 1 54 1 100 1 127 1 212 1 40 1 23 1 2 1 59 1 27 1 41 1 27 1-16 1-25 1-151"/>
<path d="M0 840l1-7 1-1 1-16 1-14 1-19 1-9 1-20 1-9 1-23 1-19 1-46 1-128 1-118 1-59 1-11 1-28 1 101 1 124 1 134 1 49 1 148 1-48 1 90 1 2 1-16 1 112 1-61 1 58 1-60 1-67"/>
<path d="M0 818l1-18 1 18 1-26 1-18 1-13 1-12 1-19 1-3 1-14 1-39 1-54 1-124 1-132 1-31 1-52 1 17 1 91 1 77 1 125 1 120 1 143 1-54 1-22 1 102 1 5 1 90 1 5 1-10 1 45 1-137"/>
<path d="M0 832l1-17 1 4 1-17 1-15 1-14 1-15 1-25 1-1 1-18 1-33 1-40 1-128 1-122 1-38 1-28 1-21 1 57 1 115 1 116 1 170 1 62 1 6 1 21 1 0 1 121 1-38 1 68 1 10 1-38 1-182"/>
<path d="M0 839l1-15 1 4 1-21 1-18 1-11 1-7 1-23 1-1 1-20 1-30 1-43 1-106 1-138 1-46 1-50 1 5 1 107 1 107 1 134 1 70 1 46 1 64 1-6 1 40 1 28 1 102 1-10 1 13 1-19 1-79"/>
<path d="M0 827l1-15 1 8 1-14 1-21 1-16 1-14 1-22 1 7 1-24 1-32 1-48 1-130 1-127 1-41 1 4 1-60 1 109 1 88 1 117 1 111 1 132 1-9 1 16 1 91 1-58 1 102 1 51 1 7 1-137 1 27"/>
<path d="M0 811l1-9 1 6 1-14 1-10 1-22 1-2 1-25 1 7 1-30 1-24 1-47 1-126 1-131 1-46 1-62 1 8 1 50 1 97 1 145 1 102 1 91 1 46 1-1 1-13 1 123 1 20 1 3 1 43 1-32 1-142"/>
<path d="M0 829l1-14 1 9 1-15 1-17 1-12 1-13 1-18 1-2 1-25 1-26 1-50 1-124 1-143 1-36 1-58 1 12 1 70 1 125 1 137 1 137 1 16 1 46 1 65 1 13 1 24 1 45 1 50 1-21 1-17 1-222"/>
<path d="M0 802l1-8 1 12 1-15 1-12 1-8 1-13 1-21 1-15 1-18 1-29 1-46 1-127 1-138 1-31 1-50 1 23 1 57 1 81 1 148 1 145 1 121 1-24 1 26 1-38 1 119 1 64 1-13 1 13 1-37 1-73"/>
<path d="M0 851l1-19 1-2 1-17 1-14 1-16 1-5 1-22 1 1 1-24 1-29 1-46 1-132 1-112 1-41 1-75 1 42 1 91 1 90 1 132 1 156 1 19 1 37 1 12 1-9 1 149 1 13 1 23 1-47 1-20 1-185"/>
<path d="M0 848l1-9 1-8 1-23 1-12 1-17 1-2 1-23 1-1 1-30 1-27 1-45 1-128 1-111 1-44 1-55 1 35 1 90 1 71 1 138 1 73 1 78 1 44 1 43 1 61 1 22 1 105 1-64 1-53 1 1 1-76"/>
<path d="M0 833l1-11 1-3 1-20 1-10 1-12 1-13 1-16 1-9 1-25 1-20 1-38 1-133 1-120 1-62 1-31 1 3 1 76 1 88 1 154 1 48 1 175 1-23 1 31 1 29 1 46 1 82 1 31 1-37 1 22 1-186"/>
<path d="M0 821l1-16 1 2 1-9 1-16 1-11 1-14 1-25 1-7 1-27 1-21 1-55 1-135 1-145 1-43 1-15 1-6 1 26 1 115 1 130 1 191 1 10 1 58 1 1 1 28 1 118 1 32 1 34 1-8 1 16 1-204"/>
<path d="M0 825l1-13 1 3 1-24 1-16 1-19 1-12 1-19 1 4 1-19 1-24 1-42 1-117 1-134 1-37 1-42 1-19 1 107 1 83 1 113 1 195 1 42 1-14 1 18 1 32 1 104 1 68 1-77 1 54 1-43 1-125"/>
<path d="M0 828l1-10 1-4 1-15 1-18 1-18 1-18 1-22 1 10 1-12 1-32 1-38 1-134 1-142 1-64 1-30 1 8 1 47 1 144 1 124 1 162 1 33 1 75 1-8 1 59 1-22 1 75 1-1 1 1 1 13 1-172"/>
<path d="M0 842l1-19 1 0 1-17 1-21 1-15 1 2 1-19 1-5 1-14 1-30 1-45 1-137 1-125 1-55 1-43 1-4 1 96 1 89 1 154 1 142 1 32 1-14 1 82 1 14 1 21 1 108 1-59 1 93 1-75 1-200"/>
<path d="M0 829l1-19 1 5 1-20 1-11 1-14 1-9 1-13 1-11 1-18 1-19 1-51 1-118 1-134 1-69 1-18 1-3 1 44 1 121 1 114 1 155 1 90 1-37 1 121 1-75 1 43 1 107 1-23 1 23 1-45 1-109"/>
<path d="M0 819l1-13 1 2 1-14 1-19 1-16 1-13 1-12 1-6 1-17 1-13 1-41 1-145 1-134 1-61 1-56 1-10 1 48 1 124 1 126 1 131 1 122 1 111 1-37 1-37 1 83 1 102 1 16 1-31 1-41 1-79"/>
<path d="M0 833l1-14 1 3 1-15 1-19 1-16 1-18 1-7 1-1 1-17 1-27 1-31 1-144 1-121 1-80 1-11 1-3 1 64 1 99 1 151 1 134 1 73 1 4 1 56 1-82 1 180 1-5 1 10 1 14 1-34 1-137"/>
<path d="M0 836l1-12 1-2 1-22 1-19 1-8 1-9 1-16 1 1 1-28 1-13 1-56 1-119 1-135 1-46 1-17 1-40 1 76 1 109 1 138 1 65 1 123 1 10 1 54 1 25 1-16 1 146 1-24 1-64 1 10 1-77"/>
<path d="M0 824l1-18 1 5 1-19 1-20 1-12 1-12 1-22 1 1 1-14 1-22 1-57 1-126 1-126 1-68 1-4 1-20 1 66 1 97 1 141 1 197 1 23 1-7 1 84 1-37 1 65 1 64 1-60 1 124 1-25 1-180"/>
<path d="M0 820l1-14 1 3 1-15 1-16 1-12 1-12 1-21 1-8 1-14 1-25 1-49 1-126 1-125 1-54 1-22 1 30 1 56 1 78 1 109 1 146 1 88 1 19 1 6 1 35 1 57 1 28 1 28 1 48 1-53 1-125"/>
<path d="M0 820l1-9 1 0 1-19 1-12 1-18 1-17 1-6 1-2 1-21 1-25 1-52 1-136 1-142 1-22 1-47 1-29 1 65 1 127 1 137 1 141 1 7 1 134 1-10 1 35 1 46 1 13 1 25 1 27 1-2 1-173"/>
<path d="M0 817l1-10 1-4 1-15 1-9 1-16 1-20 1-16 1-3 1-17 1-33 1-50 1-131 1-143 1-34 1-26 1-14 1 29 1 116 1 119 1 149 1 79 1 27 1 60 1 2 1 119 1 51 1-63 1-13 1 93 1-216"/>
<path d="M0 829l1-24 1 0 1-18 1-13 1-10 1-16 1-4 1-3 1-17 1-27 1-60 1-124 1-142 1-39 1-16 1-27 1 75 1 126 1 122 1 102 1 66 1 50 1 32 1 3 1 72 1 88 1-46 1-17 1 5 1-59"/>
<path d="M0 839l1-12 1 0 1-19 1-10 1-23 1-2 1-20 1-7 1-19 1-28 1-29 1-135 1-128 1-55 1-53 1 26 1 71 1 83 1 127 1 161 1 38 1-4 1 148 1-48 1 88 1 26 1 12 1 2 1-76 1-214"/>
<path d="M0 843l1-16 1 10 1-22 1-7 1-20 1 1 1-26 1 2 1-25 1-19 1-43 1-132 1-129 1-53 1-29 1 4 1 101 1 106 1 140 1 67 1 139 1-12 1-20 1-18 1 112 1 51 1 29 1 3 1-44 1-173"/>
<path d="M0 819l1-13 1 0 1-18 1-13 1-11 1-11 1-24 1-2 1-24 1-32 1-45 1-132 1-154 1-23 1-46 1-11 1 81 1 77 1 130 1 217 1-26 1 147 1 1 1-69 1 105 1 102 1-40 1 70 1-79 1-231"/>
<path d="M0 826l1-10 1-3 1-13 1-9 1-21 1-7 1-9 1-2 1-28 1-29 1-38 1-139 1-133 1-55 1-58 1 7 1 51 1 122 1 114 1 129 1 111 1 17 1 42 1-19 1 168 1-41 1 25 1 44 1-36 1-101"/>
<path d="M0 830l1-13 1-3 1-22 1-12 1-19 1-17 1-12 1 1 1-24 1-14 1-38 1-129 1-135 1-36 1-46 1-7 1 26 1 148 1 132 1 125 1 44 1 90 1 18 1 51 1 52 1 22 1-41 1 48 1-44 1-217"/>
<path d="M0 820l1-17 1 0 1-16 1-12 1-6 1-11 1-15 1 4 1-26 1-27 1-39 1-124 1-129 1-56 1-38 1 9 1 73 1 95 1 108 1 111 1 88 1 43 1-2 1 42 1 48 1 69 1-35 1 19 1 25 1-140"/>
<path d="M0 816l1-17 1 5 1-15 1-7 1-15 1-22 1-13 1-4 1-20 1-21 1-60 1-121 1-136 1-53 1-31 1 14 1 20 1 124 1 129 1 122 1 122 1 30 1 17 1 9 1 52 1 99 1-28 1 4 1-71 1-28"/>
<path d="M0 825l1-12 1-9 1-10 1-25 1-5 1-17 1-19 1-3 1-21 1-22 1-42 1-133 1-136 1-45 1-21 1 2 1 13 1 101 1 122 1 238 1-59 1 44 1 93 1 56 1 10 1 83 1 55 1-26 1-82 1-103"/>
<path d="M0 816l1-15 1 2 1-10 1-17 1-18 1-11 1-20 1-2 1-18 1-25 1-45 1-132 1-115 1-60 1-49 1-31 1 68 1 106 1 145 1 176 1 52 1 94 1-58 1-5 1 127 1 64 1-22 1-67 1 40 1-135"/>
<path d="M0 823l1-6 1 6 1-19 1-20 1-18 1-16 1-14 1-5 1-18 1-21 1-52 1-135 1-122 1-56 1-45 1-2 1 39 1 128 1 123 1 160 1 90 1-39 1 117 1-33 1 101 1 1 1 42 1 11 1 2 1-157"/>
<path d="M0 827l1-15 1 12 1-23 1-9 1-14 1-18 1-10 1-7 1-26 1-26 1-36 1-144 1-112 1-52 1-15 1-44 1 87 1 101 1 124 1 119 1 131 1-1 1-16 1 72 1 3 1 49 1 56 1-5 1 14 1-151"/>
<path d="M0 828l1-16 1 1 1-17 1-14 1-15 1-8 1-26 1 0 1-13 1-22 1-52 1-132 1-128 1-64 1-53 1 27 1 57 1 100 1 118 1 138 1 81 1 30 1 38 1 59 1 88 1 26 1 47 1-86 1-10 1-114"/>
<path d="M0 836l1-20 1 9 1-19 1-20 1-8 1-9 1-20 1-10 1-17 1-25 1-47 1-128 1-124 1-59 1-25 1 4 1 66 1 122 1 127 1 139 1 23 1 3 1 101 1 64 1 4 1 47 1-40 1 48 1-41 1-179"/>
<path d="M0 824l1-8 1 1 1-19 1-18 1-17 1-9 1-14 1-9 1-18 1-21 1-61 1-135 1-137 1-54 1-42 1 32 1 71 1 101 1 109 1 160 1 54 1 14 1 41 1 15 1 53 1 86 1 46 1-67 1 11 1-223"/>
<path d="M0 814l1-20 1 4 1-11 1-16 1-14 1-11 1-14 1 1 1-18 1-28 1-55 1-133 1-145 1-57 1-17 1-14 1 58 1 104 1 150 1 92 1 145 1 21 1 33 1 35 1 36 1 57 1-13 1 26 1-51 1-173"/>
<path d="M0 822l1-20 1 6 1-13 1-21 1-9 1-19 1-8 1-5 1-17 1-38 1-45 1-137 1-132 1-52 1-59 1 41 1 50 1 119 1 124 1 166 1 70 1 18 1-23 1 13 1 67 1 107 1-15 1-27 1 26 1-109"/>
<path d="M0 829l1-17 1 9 1-19 1-13 1-17 1-10 1-17 1-7 1-17 1-34 1-51 1-126 1-128 1-54 1-17 1-54 1 70 1 155 1 87 1 192 1 56 1 33 1 3 1 56 1 13 1 90 1-16 1-9 1-15 1-105"/>
<path d="M0 838l1-21 1 10 1-27 1-10 1-13 1-4 1-23 1-5 1-22 1-23 1-48 1-144 1-131 1-57 1-14 1-20 1 73 1 114 1 154 1 197 1 6 1 64 1-34 1 48 1-2 1 100 1-4 1 43 1-56 1-162"/>
<path d="M0 836l1-17 1 2 1-15 1-10 1-14 1-15 1-14 1-5 1-16 1-40 1-49 1-116 1-133 1-54 1-41 1 23 1 76 1 96 1 158 1 150 1 1 1-5 1 23 1-22 1 148 1 40 1 19 1 47 1-39 1-115"/>
<path d="M0 836l1-16 1 6 1-14 1-11 1-24 1-16 1-13 1-12 1-19 1-22 1-51 1-122 1-126 1-47 1-31 1 3 1 93 1 87 1 130 1 135 1 7 1 44 1 56 1 39 1 60 1 20 1 42 1-21 1-7 1-230"/>
<path d="M0 832l1-22 1 10 1-19 1-17 1-14 1-8 1-25 1 3 1-23 1-22 1-40 1-130 1-128 1-55 1-23 1-46 1 63 1 122 1 166 1 78 1 79 1 63 1 50 1 21 1-13 1 56 1 72 1-24 1 12 1-182"/>
<path d="M0 821l1-16 1 6 1-23 1-16 1-14 1-6 1-8 1-9 1-24 1-25 1-46 1-140 1-135 1-38 1-43 1-12 1 95 1 81 1 126 1 133 1 48 1 110 1 35 1-24 1 42 1 146 1-84 1 51 1-21 1-209"/>
<path d="M0 828l1-13 1 0 1-17 1-15 1-15 1-6 1-22 1 2 1-23 1-29 1-46 1-131 1-147 1-56 1-32 1 28 1 41 1 102 1 146 1 103 1 120 1 13 1-16 1 62 1 99 1 12 1-4 1 25 1-38 1-128"/>
<path d="M0 815l1-12 1 4 1-14 1-7 1-16 1-16 1-11 1-6 1-16 1-30 1-48 1-131 1-145 1-49 1-50 1 45 1 55 1 90 1 131 1 163 1 71 1 31 1 40 1 19 1-47 1 178 1-79 1 2 1-5 1-168"/>
<path d="M0 827l1-13 1-1 1-22 1-17 1-16 1-10 1-11 1-11 1-13 1-25 1-48 1-133 1-140 1-50 1-44 1 2 1 68 1 121 1 125 1 157 1 80 1-16 1-7 1 42 1 70 1 24 1-8 1 71 1-45 1-133"/>
<path d="M0 833l1-13 1 5 1-12 1-11 1-11 1-11 1-21 1-10 1-29 1-28 1-42 1-130 1-146 1-33 1-40 1 7 1 66 1 103 1 137 1 39 1 157 1 85 1 25 1 38 1 7 1 23 1 23 1 22 1 34 1-184"/>
<path d="M0 831l1-23 1 3 1-12 1-19 1-8 1-8 1-20 1-1 1-27 1-19 1-36 1-130 1-124 1-71 1-71 1 21 1 84 1 105 1 131 1 135 1 56 1 10 1 66 1-6 1 79 1 57 1 0 1 21 1-65 1-172"/>
<path d="M0 818l1-14 1 7 1-13 1-16 1-16 1-10 1-17 1-2 1-24 1-25 1-46 1-126 1-137 1-47 1-54 1 25 1 77 1 75 1 142 1 187 1 29 1-8 1 105 1-52 1 80 1 37 1 37 1-21 1-15 1-152"/>
<path d="M0 811l1-2 1-2 1-22 1-5 1-29 1-8 1-12 1-4 1-18 1-26 1-43 1-141 1-138 1-55 1-47 1-22 1 97 1 88 1 133 1 134 1 88 1 37 1 4 1 45 1 145 1 0 1-3 1 34 1-59 1-214"/>
<path d="M0 843l1-21 1-5 1-18 1-10 1-12 1-17 1-12 1-4 1-24 1-27 1-64 1-124 1-121 1-43 1-47 1 46 1 33 1 111 1 133 1 144 1 5 1 48 1 127 1-45 1 20 1 52 1-8 1 42 1-44 1-113"/>
<path d="M0 831l1-18 1 9 1-23 1-15 1-17 1-10 1-13 1 4 1-21 1-19 1-52 1-121 1-142 1-62 1-44 1 14 1 82 1 96 1 112 1 193 1-4 1 58 1 50 1-26 1 91 1-21 1 58 1-4 1 14 1-206"/>
<path d="M0 822l1-12 1-3 1-21 1-9 1-14 1-17 1-19 1 9 1-26 1-24 1-45 1-134 1-137 1-46 1-31 1-6 1 54 1 101 1 135 1 103 1 85 1 15 1 103 1 3 1 113 1 22 1-5 1-1 1-42 1-168"/>
<path d="M0 821l1-21 1 0 1-19 1-16 1-8 1-10 1-16 1 4 1-22 1-28 1-43 1-122 1-142 1-74 1-33 1 15 1 53 1 127 1 103 1 125 1 175 1-56 1 42 1-22 1 59 1 144 1-58 1 81 1-42 1-98"/>
<path d="M0 823l1-19 1 7 1-18 1-10 1-19 1-11 1-12 1-7 1-24 1-26 1-48 1-121 1-121 1-51 1-59 1 21 1 72 1 81 1 124 1 163 1 35 1 61 1 12 1 23 1 63 1 89 1-43 1 56 1-31 1-203"/>
<path d="M0 836l1-14 1 3 1-28 1-18 1-9 1-8 1-21 1 4 1-24 1-17 1-60 1-124 1-140 1-55 1 5 1-40 1 81 1 118 1 134 1 119 1 63 1 48 1-84 1 95 1 86 1 70 1 6 1-60 1 60 1-165"/>
<path d="M0 836l1-3 1-6 1-12 1-16 1-20 1-16 1-20 1-5 1-21 1-28 1-40 1-127 1-120 1-54 1-39 1 24 1 86 1 98 1 95 1 177 1-6 1 37 1 39 1 2 1 91 1 94 1-47 1 80 1-87 1-198"/>
<path d="M0 831l1-19 1 4 1-18 1-10 1-20 1-6 1-18 1 5 1-29 1-19 1-48 1-134 1-148 1-49 1-29 1 5 1 64 1 101 1 151 1 50 1 128 1 87 1-77 1 140 1-27 1 80 1 19 1 67 1-124 1-87"/>
<path d="M0 817l1-14 1 6 1-10 1-11 1-22 1-8 1-15 1-13 1-21 1-29 1-41 1-128 1-129 1-49 1-47 1 17 1 52 1 91 1 154 1 151 1 114 1-55 1 82 1 36 1-18 1 80 1 34 1 4 1-75 1-82"/>
<path d="M0 814l1-5 1 3 1-14 1-18 1-14 1-12 1-19 1-6 1-21 1-22 1-46 1-125 1-126 1-54 1-57 1 15 1 76 1 87 1 120 1 141 1 131 1 12 1 14 1-59 1 193 1 40 1-52 1 65 1-34 1-173"/>
<path d="M0 818l1-21 1 4 1-19 1-16 1-14 1-6 1-12 1-11 1-12 1-27 1-47 1-130 1-120 1-52 1-65 1 24 1 53 1 112 1 121 1 216 1-25 1 54 1 24 1-2 1 40 1 107 1-11 1 3 1 36 1-171"/>
<path d="M0 829l1-8 1-3 1-20 1-21 1-15 1-1 1-12 1-1 1-29 1-24 1-40 1-141 1-140 1-43 1-45 1 35 1 25 1 117 1 104 1 117 1 103 1 59 1 5 1 1 1 103 1 96 1-72 1 45 1-65 1-124"/>
<path d="M0 819l1-16 1 1 1-11 1-19 1-12 1-8 1-23 1-6 1-11 1-34 1-45 1-133 1-133 1-46 1-38 1-5 1 90 1 93 1 103 1 164 1 34 1 43 1 24 1-19 1 118 1 26 1 60 1-43 1-22 1-119"/>
<path d="M0 839l1-17 1-3 1-16 1-16 1-13 1-9 1-9 1-10 1-18 1-32 1-44 1-134 1-128 1-65 1-1 1 4 1 48 1 111 1 97 1 106 1 130 1-16 1 79 1-1 1 69 1 6 1 30 1-2 1-82 1-10"/>
<path d="M0 832l1-17 1 2 1-16 1-20 1-16 1-6 1-12 1-5 1-24 1-28 1-44 1-131 1-135 1-52 1-36 1-11 1 79 1 97 1 113 1 156 1 114 1-90 1 74 1-29 1 80 1 132 1-23 1 25 1-35 1-127"/>
<path d="M0 837l1-18 1 5 1-21 1-14 1-18 1-10 1-16 1-7 1-23 1-25 1-47 1-131 1-140 1-42 1-52 1 3 1 87 1 121 1 106 1 152 1 98 1 52 1-46 1 16 1 48 1 71 1 9 1 15 1-49 1-155"/>
<path d="M0 842l1-10 1-2 1-22 1-6 1-12 1-19 1-17 1-4 1-22 1-18 1-48 1-123 1-116 1-59 1-28 1 15 1 17 1 152 1 140 1 84 1 76 1 92 1-58 1 13 1 85 1 66 1-16 1 11 1-9 1-138"/>
<path d="M0 840l1-17 1 0 1-9 1-18 1-8 1-7 1-10 1-10 1-23 1-20 1-51 1-135 1-137 1-30 1-28 1-34 1 96 1 88 1 132 1 103 1 91 1 13 1 30 1 72 1 17 1 104 1-60 1 58 1-6 1-209"/>
<path d="M0 842l1-16 1 5 1-22 1-9 1-14 1-8 1-22 1-4 1-20 1-34 1-49 1-121 1-135 1-53 1-58 1 9 1 79 1 71 1 160 1 175 1 9 1 106 1-17 1 7 1 55 1 99 1-41 1 60 1-105 1-147"/>
<path d="M0 829l1-13 1 1 1-22 1-5 1-18 1-15 1-21 1 0 1-18 1-34 1-44 1-136 1-126 1-37 1-53 1-11 1 51 1 134 1 105 1 172 1 54 1 55 1-11 1 0 1 99 1 73 1 32 1 17 1-91 1-119"/>
<path d="M0 826l1-14 1-1 1-27 1-15 1-10 1-14 1-13 1 3 1-22 1-33 1-37 1-131 1-128 1-67 1-17 1-21 1 97 1 100 1 98 1 150 1 88 1 16 1-8 1 62 1 76 1-6 1 79 1-60 1-43 1-92"/>
<path d="M0 815l1-16 1 3 1-15 1-18 1-14 1-14 1-16 1-10 1-12 1-24 1-48 1-139 1-118 1-54 1-54 1 7 1 66 1 112 1 109 1 129 1 84 1 57 1 12 1 47 1 4 1 72 1 28 1-34 1 16 1-152"/>
<path d="M0 833l1-12 1 5 1-19 1-24 1-12 1-17 1-22 1-5 1-18 1-19 1-50 1-128 1-136 1-71 1-19 1 63 1 27 1 107 1 119 1 204 1 0 1 23 1-21 1 69 1 86 1 27 1-38 1 69 1-40 1-143"/>
<path d="M0 835l1-16 1-4 1-12 1-15 1-13 1-15 1-15 1 3 1-33 1-16 1-44 1-127 1-132 1-44 1-83 1 23 1 78 1 110 1 133 1 105 1 76 1 51 1 27 1-42 1 74 1 108 1-34 1 53 1-34 1-179"/>
<path d="M0 821l1-18 1 12 1-23 1-16 1-12 1-14 1-18 1-3 1-18 1-12 1-57 1-125 1-139 1-62 1-36 1 12 1 68 1 114 1 103 1 138 1 101 1 6 1 119 1-72 1 91 1 19 1 44 1 15 1-56 1-141"/>
<path d="M0 834l1-19 1 6 1-19 1-12 1-10 1-13 1-16 1-1 1-19 1-21 1-44 1-128 1-115 1-81 1-52 1 27 1 103 1 98 1 129 1 119 1 140 1-46 1-29 1 142 1 17 1-29 1 5 1 31 1-28 1-72"/>
<path d="M0 831l1-10 1 2 1-25 1-14 1-18 1-5 1-28 1 3 1-25 1-27 1-43 1-127 1-119 1-57 1-34 1-10 1 84 1 125 1 89 1 158 1 58 1 70 1-13 1 55 1 0 1 99 1-2 1 40 1-123 1-122"/>
<path d="M0 829l1-21 1 8 1-17 1-20 1-5 1-10 1-11 1-9 1-23 1-27 1-40 1-121 1-139 1-59 1-35 1 29 1 38 1 126 1 145 1 60 1 121 1 110 1-48 1 34 1 20 1 74 1 9 1-23 1-50 1-45"/>
<path d="M0 828l1-15 1 3 1-21 1-12 1-17 1-14 1-17 1-2 1-15 1-23 1-52 1-135 1-124 1-56 1-26 1 0 1 43 1 107 1 169 1 173 1 14 1 50 1-15 1 74 1-1 1 84 1 15 1-22 1-2 1-147"/>
<path d="M0 831l1-6 1-5 1-22 1-19 1-13 1-13 1-15 1 5 1-15 1-21 1-41 1-132 1-137 1-33 1-54 1-16 1 76 1 95 1 144 1 157 1 36 1 4 1 9 1 75 1 99 1-18 1 37 1 31 1-51 1-127"/>
<path d="M0 836l1-18 1 7 1-21 1-19 1-15 1-8 1-12 1 4 1-23 1-34 1-44 1-144 1-139 1-34 1-46 1 28 1 70 1 108 1 125 1 91 1 74 1 122 1-47 1 62 1 8 1 86 1-8 1 8 1-35 1-101"/>
<path d="M0 808l1-13 1 2 1-14 1-24 1-10 1-15 1-12 1-1 1-27 1-25 1-52 1-132 1-137 1-55 1-24 1-15 1 57 1 93 1 144 1 150 1 80 1 85 1 27 1-20 1 34 1 96 1-16 1 4 1 19 1-240"/>
<path d="M0 826l1-17 1-4 1-15 1-25 1-9 1-8 1-19 1-5 1-14 1-36 1-48 1-123 1-144 1-34 1-61 1 23 1 61 1 108 1 140 1 153 1 30 1 2 1 90 1 2 1 13 1 89 1-25 1 51 1-93 1-121"/>
<path d="M0 808l1-7 1-2 1-13 1-17 1-19 1-12 1-22 1-9 1-19 1-22 1-60 1-141 1-115 1-31 1-59 1-3 1 41 1 100 1 134 1 263 1-9 1 90 1 42 1-79 1 108 1 64 1 3 1-33 1-58 1-160"/>
<path d="M0 831l1-12 1-2 1-17 1-17 1-17 1-9 1-28 1-3 1-18 1-16 1-56 1-130 1-123 1-43 1-20 1-27 1 89 1 110 1 115 1 177 1-14 1 4 1 118 1 4 1 30 1 8 1 42 1 2 1-21 1-185"/>
<path d="M0 830l1-19 1 13 1-23 1-11 1-20 1-10 1-21 1 1 1-17 1-28 1-48 1-132 1-126 1-47 1-48 1 11 1 30 1 133 1 140 1 203 1-4 1 86 1-44 1 26 1 49 1-11 1 103 1 31 1-32 1-189"/>
<path d="M0 834l1-14 1-1 1-18 1-13 1-14 1-7 1-18 1 9 1-34 1-23 1-39 1-135 1-133 1-64 1-49 1 5 1 97 1 85 1 136 1 133 1 43 1 134 1-82 1-20 1 74 1 83 1 46 1-4 1 22 1-167"/>
<path d="M0 823l1-7 1 2 1-16 1-9 1-21 1-21 1-26 1 5 1-18 1-36 1-42 1-130 1-135 1-53 1-13 1-20 1 72 1 127 1 139 1 94 1 119 1 4 1-47 1 125 1 6 1 118 1-43 1 2 1-46 1-93"/>
<path d="M0 842l1-12 1 9 1-22 1-10 1-20 1-14 1-15 1-6 1-12 1-28 1-40 1-124 1-117 1-43 1-88 1 19 1 71 1 112 1 124 1 115 1 81 1 3 1 55 1-36 1 77 1 105 1 32 1-30 1-1 1-156"/>
<path d="M0 839l1-14 1-6 1-19 1-16 1-22 1-7 1-18 1-2 1-19 1-25 1-42 1-119 1-144 1-46 1 2 1-17 1 36 1 122 1 148 1 116 1 2 1 104 1 51 1-47 1 92 1 81 1-56 1 56 1-57 1-29"/>
<path d="M0 834l1-22 1 4 1-18 1-14 1-12 1-7 1-19 1 1 1-29 1-19 1-46 1-116 1-121 1-42 1-45 1-31 1 124 1 91 1 113 1 131 1 34 1 30 1 55 1 82 1 18 1 16 1 10 1 18 1-37 1-130"/>
<path d="M0 842l1-25 1 10 1-22 1-17 1-11 1-14 1-18 1 4 1-32 1-22 1-34 1-128 1-122 1-61 1-50 1 10 1 105 1 81 1 126 1 90 1 84 1 78 1-61 1 73 1 18 1 153 1-88 1 54 1-39 1-84"/>
<path d="M0 842l1-16 1-6 1-16 1-14 1-16 1-11 1-10 1-3 1-14 1-16 1-39 1-123 1-134 1-58 1-15 1-16 1 67 1 105 1 136 1 179 1-24 1 101 1-19 1 0 1 105 1 20 1 8 1 2 1-32 1-111"/>
<path d="M0 834l1-17 1 10 1-23 1-10 1-19 1-11 1-15 1-8 1-17 1-29 1-44 1-129 1-129 1-37 1-42 1-12 1 84 1 101 1 155 1 77 1 92 1-20 1 64 1 90 1-17 1 122 1-49 1 42 1-56 1-122"/>
<path d="M0 829l1-14 1 3 1-21 1-11 1-14 1-9 1-14 1 0 1-20 1-19 1-48 1-127 1-141 1-55 1-56 1 15 1 69 1 98 1 129 1 160 1 53 1 58 1 41 1-20 1 73 1 89 1 5 1 9 1-92 1-162"/>
<path d="M0 841l1-16 1 1 1-20 1-11 1-28 1-17 1-14 1 2 1-25 1-16 1-45 1-132 1-126 1-58 1-52 1-4 1 77 1 121 1 117 1 185 1 60 1 25 1-6 1 68 1 32 1 63 1-72 1 70 1-46 1-187"/>
<path d="M0 832l1-10 1 6 1-23 1-4 1-13 1-18 1-13 1-7 1-18 1-15 1-43 1-130 1-134 1-55 1-66 1 20 1 107 1 87 1 124 1 62 1 139 1 17 1 50 1 7 1 130 1-33 1-1 1 31 1-19 1-178"/>
<path d="M0 835l1-23 1 7 1-17 1-13 1-18 1-8 1-14 1-17 1-20 1-25 1-51 1-136 1-118 1-76 1 7 1-26 1 84 1 97 1 111 1 195 1 42 1 111 1-82 1 29 1 20 1 106 1-39 1 56 1-46 1-136"/>
<path d="M0 833l1-16 1 3 1-21 1-21 1-8 1-16 1-14 1-6 1-20 1-24 1-45 1-135 1-117 1-60 1-51 1 31 1 60 1 85 1 136 1 136 1 77 1 42 1-38 1 59 1 96 1 29 1 0 1-17 1-3 1-153"/>
<path d="M0 808l1-12 1 4 1-19 1-22 1-6 1-17 1-22 1 6 1-17 1-30 1-52 1-127 1-136 1-47 1-46 1 12 1 59 1 103 1 106 1 237 1 27 1 53 1-4 1-36 1 114 1-2 1 93 1-63 1-6 1-133"/>
<path d="M0 826l1-13 1-3 1-13 1-19 1-18 1-11 1-21 1 2 1-17 1-19 1-44 1-118 1-140 1-36 1-32 1-7 1 39 1 112 1 150 1 91 1 91 1 9 1 74 1 0 1 82 1 36 1-27 1 85 1-54 1-183"/>
<path d="M0 815l1-13 1 3 1-24 1-9 1-14 1-5 1-17 1-1 1-13 1-37 1-58 1-121 1-134 1-34 1-45 1 17 1 34 1 100 1 148 1 157 1 53 1 62 1 7 1 12 1-2 1 45 1 67 1 20 1-63 1-97"/>
<path d="M0 843l1-13 1-1 1-22 1-11 1-10 1-16 1-13 1-20 1-21 1-32 1-44 1-120 1-136 1-50 1-40 1 4 1 105 1 89 1 154 1 165 1-68 1 92 1 12 1 28 1 75 1 48 1 34 1 13 1-44 1-98"/>
<path d="M0 829l1-12 1 7 1-23 1-16 1-12 1-12 1-16 1-2 1-22 1-14 1-60 1-111 1-142 1-37 1-61 1 21 1 78 1 75 1 144 1 115 1 82 1 57 1-32 1 57 1 78 1 38 1-61 1 26 1-15 1-115"/>
<path d="M0 841l1-13 1 2 1-20 1-7 1-20 1-12 1-25 1 0 1-22 1-24 1-45 1-125 1-138 1-34 1-28 1-40 1 64 1 120 1 146 1 92 1 85 1 71 1 9 1-2 1 51 1 90 1 2 1 60 1-84 1-137"/>
<path d="M0 830l1-11 1 4 1-24 1-13 1-10 1-6 1-15 1-1 1-26 1-23 1-46 1-131 1-121 1-51 1-84 1 62 1 72 1 79 1 184 1 178 1-64 1 65 1 6 1 81 1 13 1 30 1-20 1 114 1-36 1-167"/>
<path d="M0 830l1-12 1-2 1-21 1-14 1-16 1-10 1-19 1 7 1-24 1-27 1-42 1-140 1-118 1-65 1-32 1 35 1 61 1 85 1 141 1 131 1 15 1 3 1 70 1 37 1 53 1 52 1 50 1 20 1-113 1-95"/>
<path d="M0 828l1-8 1 2 1-21 1-14 1-16 1-11 1-22 1 3 1-27 1-21 1-42 1-127 1-127 1-59 1-27 1 27 1 55 1 86 1 141 1 138 1 45 1 76 1-33 1 29 1 53 1 54 1-15 1 48 1-44 1-104"/>
<path d="M0 821l1-9 1-1 1-24 1-17 1-18 1-11 1-17 1-2 1-17 1-27 1-58 1-124 1-125 1-30 1-110 1 40 1 77 1 83 1 155 1 213 1 24 1 64 1-63 1 16 1 89 1 5 1 53 1 63 1-50 1-214"/>
<path d="M0 824l1-15 1-1 1-23 1-6 1-17 1-9 1-20 1 3 1-21 1-14 1-52 1-134 1-136 1-58 1-25 1 22 1 61 1 99 1 126 1 61 1 113 1 70 1 80 1-79 1 73 1 34 1 82 1 29 1-98 1-143"/>
<path d="M0 808l1-8 1 3 1-16 1-25 1-4 1-9 1-10 1 0 1-24 1-25 1-58 1-122 1-136 1-49 1-46 1 41 1 35 1 95 1 141 1 138 1 52 1 35 1 13 1 60 1 14 1 21 1 60 1-8 1-42 1-88"/>
<path d="M0 835l1-13 1 4 1-21 1-9 1-16 1-19 1-7 1 2 1-25 1-19 1-40 1-123 1-128 1-58 1-20 1-48 1 77 1 112 1 141 1 82 1 60 1 120 1-1 1 5 1 5 1 108 1 52 1-38 1-20 1-154"/>
<path d="M0 831l1-13 1-5 1-18 1-13 1-10 1-10 1-7 1-6 1-18 1-26 1-52 1-116 1-131 1-48 1-59 1-11 1 120 1 75 1 147 1 105 1 107 1 61 1-91 1 45 1 129 1 42 1 29 1-5 1-65 1-165"/>
<path d="M0 833l1-12 1 0 1-18 1-14 1-10 1-19 1-14 1-4 1-27 1-23 1-58 1-129 1-127 1-58 1-9 1-13 1 81 1 93 1 109 1 111 1 125 1 42 1-23 1-7 1 111 1 50 1-32 1 64 1-39 1-147"/>
<path d="M0 832l1-15 1 10 1-27 1-10 1-13 1-7 1-20 1 0 1-27 1-17 1-48 1-114 1-122 1-47 1-22 1-42 1 78 1 97 1 153 1 113 1 61 1 55 1-30 1 50 1 74 1 26 1 52 1-63 1-22 1-122"/>
<path d="M0 821l1-19 1-1 1-19 1-7 1-17 1-14 1-6 1-17 1-10 1-39 1-61 1-121 1-129 1-52 1-38 1 54 1 23 1 107 1 129 1 115 1 121 1 42 1 3 1-14 1 78 1 30 1 63 1-4 1-61 1-138"/>
<path d="M0 850l1-23 1 4 1-25 1-16 1-14 1-10 1-16 1-11 1-13 1-23 1-51 1-128 1-126 1-54 1-48 1-6 1 83 1 116 1 153 1 150 1 51 1-25 1 35 1 44 1 16 1 3 1 104 1-40 1 3 1-188"/>
<path d="M0 826l1-9 1 3 1-17 1-8 1-17 1-5 1-19 1-3 1-20 1-17 1-53 1-129 1-133 1-57 1-38 1 20 1 33 1 146 1 120 1 171 1 36 1 49 1-57 1 61 1 25 1 43 1-19 1 60 1 34 1-267"/>
<path d="M0 812l1-18 1 2 1-17 1-14 1-19 1-8 1-10 1-10 1-16 1-25 1-51 1-123 1-139 1-40 1-50 1-9 1 41 1 80 1 158 1 142 1 27 1 121 1-66 1 101 1 41 1 119 1-50 1 63 1-51 1-176"/>
<path d="M0 844l1-13 1-1 1-18 1-12 1-13 1-9 1-18 1-5 1-12 1-24 1-46 1-125 1-123 1-65 1-55 1 29 1 51 1 133 1 123 1 140 1 34 1 72 1-35 1 43 1 72 1 45 1 14 1-17 1 4 1-185"/>
<path d="M0 825l1-4 1-4 1-12 1-21 1-15 1-10 1-23 1-9 1-15 1-26 1-40 1-129 1-133 1-38 1-73 1 55 1 48 1 111 1 126 1 167 1 13 1 103 1-40 1-30 1 68 1 107 1 36 1-41 1-57 1-60"/>
<path d="M0 826l1-16 1 0 1-21 1-10 1-16 1-12 1-15 1 0 1-23 1-19 1-50 1-128 1-126 1-72 1-18 1 24 1 39 1 67 1 129 1 75 1 157 1 21 1 50 1-4 1 101 1-40 1 123 1-40 1-46 1-140"/>
<path d="M0 823l1-6 1-5 1-15 1-16 1-12 1-13 1-15 1-14 1-19 1-21 1-41 1-137 1-138 1-39 1-37 1-8 1 50 1 119 1 106 1 152 1 147 1-59 1 24 1 49 1 79 1 16 1 31 1-8 1-34 1-163"/>
<path d="M0 830l1-14 1 5 1-13 1-20 1-5 1-19 1-13 1 9 1-26 1-19 1-46 1-128 1-131 1-78 1-53 1 30 1 80 1 106 1 145 1 140 1 71 1-2 1-9 1 8 1 131 1 22 1 13 1-20 1-24 1-58"/>
<path d="M0 804l1-9 1 0 1-16 1-15 1-14 1-10 1-12 1-5 1-11 1-25 1-56 1-124 1-148 1-62 1-33 1-18 1 60 1 109 1 133 1 149 1 57 1 68 1 37 1 19 1 24 1 127 1-90 1 22 1 6 1-134"/>
<path d="M0 831l1-4 1-10 1-11 1-19 1-13 1-8 1-18 1 3 1-33 1-14 1-56 1-129 1-127 1-78 1-3 1-22 1 71 1 134 1 127 1 91 1 99 1 42 1 39 1 1 1-11 1 158 1-32 1-17 1 20 1-176"/>
<path d="M0 839l1-23 1 17 1-28 1-2 1-17 1-4 1-22 1-4 1-17 1-21 1-44 1-124 1-121 1-59 1-28 1-58 1 151 1 95 1 141 1 106 1 39 1 10 1-2 1 79 1 73 1-16 1-16 1 118 1-39 1-192"/>
<path d="M0 814l1-11 1-4 1-20 1-19 1-4 1-17 1-13 1 2 1-21 1-22 1-42 1-142 1-120 1-50 1-28 1 32 1 15 1 109 1 101 1 225 1-37 1 113 1-1 1 31 1-12 1 138 1-7 1-67 1 38 1-116"/>
<path d="M0 833l1-9 1-4 1-18 1-14 1-5 1-15 1-20 1-2 1-16 1-28 1-41 1-124 1-142 1-51 1-69 1 38 1 86 1 80 1 140 1 159 1 33 1 51 1 9 1-1 1 111 1-40 1 71 1-6 1-61 1-36"/>
<path d="M0 822l1-16 1 7 1-22 1-12 1-12 1-6 1-16 1-5 1-22 1-23 1-51 1-121 1-131 1-42 1-38 1-13 1 76 1 85 1 110 1 144 1 46 1 31 1 82 1 21 1 5 1 65 1 22 1 44 1-70 1-132"/>
<path d="M0 820l1-12 1 6 1-17 1-31 1-8 1-14 1-29 1 15 1-16 1-21 1-38 1-139 1-142 1-38 1-43 1 13 1 91 1 89 1 126 1 105 1 134 1-16 1 11 1 14 1 83 1 73 1-52 1 137 1-106 1-165"/>
<path d="M0 834l1-22 1 4 1-15 1-11 1-14 1-9 1-21 1 3 1-27 1-18 1-49 1-129 1-130 1-48 1-52 1 15 1 89 1 80 1 144 1 155 1 60 1 69 1-68 1 25 1 63 1 57 1 2 1 7 1-9 1-111"/>
<path d="M0 836l1-14 1 0 1-29 1-9 1-17 1-15 1-15 1 8 1-16 1-26 1-42 1-135 1-122 1-68 1-11 1-4 1 73 1 114 1 129 1 192 1 33 1 53 1-86 1 58 1 43 1 77 1-3 1 34 1-50 1-86"/>
<path d="M0 832l1-15 1 7 1-17 1-9 1-23 1-21 1-14 1-13 1-9 1-27 1-42 1-124 1-103 1-63 1-52 1 15 1 63 1 86 1 114 1 146 1 35 1 65 1 47 1 31 1-7 1 125 1-62 1 69 1-51 1-137"/>
<path d="M0 823l1-19 1 1 1-15 1-18 1-14 1-8 1-22 1 5 1-22 1-20 1-63 1-128 1-132 1-65 1-2 1 9 1 67 1 64 1 110 1 148 1 116 1 54 1-12 1 42 1 33 1 45 1 25 1 54 1-124 1-13"/>
<path d="M0 846l1-12 1 4 1-24 1-6 1-15 1-14 1-20 1-5 1-18 1-27 1-34 1-131 1-143 1-48 1-53 1-3 1 113 1 89 1 137 1 52 1 70 1 80 1 77 1-84 1 164 1 68 1-108 1 110 1-74 1-134"/>
<path d="M0 814l1-15 1-3 1-12 1-17 1-12 1-14 1-16 1 4 1-24 1-31 1-40 1-137 1-124 1-50 1-34 1 11 1 19 1 114 1 117 1 204 1 60 1 50 1-113 1 148 1 60 1 3 1 6 1 109 1-114 1-198"/>
<path d="M0 826l1-15 1 8 1-25 1-4 1-21 1-9 1-13 1-3 1-21 1-33 1-53 1-130 1-110 1-42 1-32 1 13 1 55 1 71 1 157 1 94 1 56 1 26 1 126 1-64 1 112 1-30 1 60 1 63 1-63 1-229"/>
<path d="M0 839l1-14 1 3 1-19 1-16 1-16 1-21 1-9 1-1 1-20 1-21 1-48 1-130 1-131 1-55 1-60 1 1 1 112 1 95 1 142 1 161 1 58 1-22 1 117 1-56 1 37 1 75 1-3 1-24 1-15 1-109"/>
<path d="M0 829l1-5 1 1 1-18 1-15 1-13 1-10 1-14 1-5 1-21 1-23 1-48 1-130 1-142 1-79 1-23 1 15 1 73 1 100 1 158 1 70 1 63 1 95 1-40 1 55 1 83 1-4 1 75 1-66 1 57 1-146"/>
<path d="M0 825l1-16 1 2 1-22 1-19 1-9 1-13 1-17 1-2 1-24 1-21 1-50 1-127 1-134 1-46 1-47 1-9 1 76 1 110 1 123 1 181 1 10 1 71 1-51 1 124 1 13 1 92 1-28 1 34 1-28 1-185"/>
<path d="M0 811l1-11 1 4 1-15 1-23 1-11 1-12 1-7 1 3 1-25 1-22 1-50 1-139 1-141 1-56 1-46 1-9 1 39 1 132 1 131 1 248 1-77 1 70 1 55 1 34 1-30 1 112 1 51 1-40 1-19 1-79"/>
<path d="M0 825l1-14 1-3 1-16 1-14 1-17 1-17 1-11 1-7 1-20 1-22 1-49 1-132 1-136 1-44 1-48 1 0 1 66 1 94 1 130 1 179 1 51 1-19 1 37 1 44 1 59 1 91 1 8 1 22 1-62 1-132"/>
<path d="M0 818l1-18 1 5 1-18 1-16 1-13 1-11 1-16 1-11 1-13 1-33 1-40 1-129 1-127 1-73 1-8 1-9 1 54 1 136 1 126 1 92 1 86 1 114 1-93 1 73 1 51 1 117 1-59 1 22 1-49 1-104"/>
<path d="M0 833l1-8 1-3 1-22 1-13 1-16 1-14 1-14 1 1 1-31 1-26 1-43 1-136 1-126 1-46 1-32 1-14 1 109 1 94 1 119 1 139 1 25 1 25 1 86 1-40 1 47 1 154 1 8 1-63 1-11 1-84"/>
<path d="M0 821l1-13 1 2 1-19 1-12 1-21 1-9 1-15 1-6 1-13 1-31 1-41 1-135 1-128 1-39 1-30 1-23 1 86 1 109 1 100 1 136 1 119 1-54 1 37 1-3 1 93 1 92 1-22 1 65 1-101 1-175"/>
<path d="M0 845l1-12 1-5 1-14 1-7 1-17 1-9 1-19 1-1 1-20 1-23 1-37 1-126 1-114 1-78 1-38 1 35 1 91 1 112 1 121 1 145 1-32 1 31 1 99 1 27 1 15 1 43 1-16 1 70 1-118 1-158"/>
<path d="M0 817l1-12 1 3 1-14 1-10 1-13 1-17 1-21 1 0 1-18 1-25 1-50 1-137 1-130 1-49 1-35 1-27 1 85 1 88 1 157 1 169 1 39 1 4 1 19 1 42 1 39 1 89 1 41 1 24 1-71 1-137"/>
<path d="M0 821l1-10 1 10 1-22 1-17 1-4 1-15 1-26 1-4 1-22 1-23 1-36 1-142 1-127 1-37 1-24 1-29 1 71 1 93 1 175 1 182 1-46 1 51 1 40 1 27 1 59 1 45 1-1 1 65 1-61 1-173"/>
<path d="M0 818l1-3 1-3 1-18 1-20 1-9 1-11 1-22 1 4 1-31 1-34 1-56 1-130 1-133 1-28 1-45 1 3 1 38 1 109 1 132 1 131 1 155 1-89 1 111 1-19 1 4 1 76 1 91 1 1 1-68 1-126"/>
<path d="M0 838l1-18 1 6 1-23 1-13 1-6 1-17 1-20 1 3 1-32 1-27 1-38 1-130 1-131 1-53 1-57 1 14 1 86 1 103 1 107 1 155 1 10 1 87 1 9 1 53 1 7 1 107 1-33 1 37 1-20 1-143"/>
<path d="M0 837l1-15 1-3 1-22 1-16 1-9 1-24 1-11 1 2 1-24 1-18 1-43 1-131 1-129 1-53 1-55 1-13 1 83 1 126 1 139 1 158 1 30 1 45 1 23 1 41 1 49 1-7 1 40 1 12 1-56 1-146"/>
<path d="M0 819l1-12 1-2 1-16 1-18 1-13 1-7 1-8 1-4 1-11 1-27 1-47 1-132 1-120 1-67 1-6 1-22 1 63 1 86 1 125 1 193 1 36 1 63 1-60 1 75 1 74 1 29 1 29 1 6 1-24 1-144"/>
<path d="M0 823l1-8 1 4 1-16 1-16 1-10 1-13 1-20 1-12 1-26 1-16 1-55 1-120 1-134 1-64 1-49 1 29 1 53 1 113 1 119 1 128 1 62 1 42 1 60 1 29 1 59 1 7 1 43 1 48 1-76 1-108"/>
<path d="M0 829l1-11 1 5 1-23 1-19 1-14 1-14 1-17 1-6 1-23 1-22 1-40 1-115 1-142 1-41 1-59 1-9 1 72 1 109 1 114 1 164 1 106 1 10 1-8 1 70 1-22 1 79 1 23 1 49 1-55 1-221"/>
<path d="M0 821l1-13 1 1 1-22 1-14 1-11 1-8 1-11 1 0 1-20 1-34 1-35 1-138 1-140 1-76 1 21 1-17 1 46 1 111 1 125 1 97 1 118 1 61 1 100 1-91 1 105 1 50 1-4 1 44 1-105 1-173"/>
<path d="M0 826l1-9 1 1 1-23 1-13 1-14 1-12 1-10 1-4 1-12 1-24 1-44 1-139 1-136 1-62 1-38 1 2 1 74 1 102 1 130 1 99 1 141 1 50 1 32 1-33 1 47 1 60 1 32 1-18 1-64 1-106"/>
<path d="M0 825l1-18 1 2 1-26 1-14 1-21 1-14 1-14 1 6 1-24 1-28 1-44 1-138 1-144 1-49 1-27 1 17 1 42 1 110 1 126 1 197 1 32 1-50 1 77 1 91 1 49 1-44 1 59 1 53 1-7 1-165"/>
<path d="M0 803l1-14 1 8 1-20 1-15 1-19 1-11 1-20 1-5 1-13 1-34 1-49 1-144 1-138 1-38 1-36 1-6 1 35 1 120 1 146 1 169 1 96 1-4 1 73 1 18 1 56 1 27 1 32 1-33 1 34 1-218"/>
<path d="M0 816l1-13 1 0 1-18 1-20 1-4 1-16 1-6 1-9 1-15 1-24 1-50 1-124 1-148 1-38 1-74 1 38 1 35 1 110 1 115 1 204 1 16 1-4 1 90 1 53 1 67 1 0 1 20 1 70 1-68 1-215"/>
<path d="M0 821l1-15 1 6 1-24 1-15 1-15 1-8 1-17 1 1 1-23 1-23 1-48 1-128 1-146 1-43 1-38 1-20 1 76 1 88 1 148 1 162 1 33 1 63 1 29 1 16 1 53 1 5 1 61 1-20 1 8 1-227"/>
<path d="M0 842l1-23 1 12 1-21 1-17 1-5 1-8 1-13 1 1 1-23 1-32 1-54 1-122 1-137 1-53 1-29 1-3 1 103 1 81 1 115 1 193 1 48 1 34 1-49 1 46 1 66 1 116 1-51 1-29 1-4 1-64"/>
<path d="M0 816l1-12 1 7 1-14 1-21 1-15 1-17 1-18 1 2 1-17 1-28 1-54 1-120 1-133 1-62 1-69 1 53 1 73 1 98 1 101 1 177 1 0 1 77 1 16 1 3 1 146 1 65 1-79 1 43 1-45 1-133"/>
<path d="M0 823l1-14 1-3 1-19 1-20 1-8 1-14 1-17 1-4 1-21 1-32 1-56 1-113 1-145 1-30 1-30 1-7 1 82 1 101 1 112 1 125 1 25 1 141 1-60 1 130 1 39 1 43 1 1 1 14 1-66 1-137"/>
<path d="M0 838l1-13 1 0 1-17 1-9 1-15 1-2 1-24 1-10 1-28 1-30 1-50 1-141 1-121 1-66 1-51 1 33 1 86 1 112 1 146 1 101 1 71 1 63 1-1 1 18 1 28 1 52 1 33 1 30 1-18 1-185"/>
<path d="M0 825l1-16 1-4 1-16 1-20 1-14 1-8 1-16 1-5 1-20 1-31 1-51 1-131 1-131 1-78 1-53 1 41 1 46 1 97 1 131 1 170 1 83 1 86 1-66 1 136 1-41 1 109 1-75 1 94 1-42 1-196"/>
<path d="M0 840l1-9 1-6 1-19 1-17 1-6 1-12 1-9 1 2 1-23 1-19 1-44 1-124 1-146 1-58 1-22 1 15 1 83 1 108 1 170 1 72 1 48 1 29 1 35 1-22 1 102 1 54 1-54 1 70 1-47 1-140"/>
<path d="M0 843l1-18 1 4 1-24 1-13 1-13 1-11 1-20 1-9 1-20 1-36 1-39 1-135 1-127 1-43 1-33 1 31 1 47 1 87 1 128 1 105 1 102 1 45 1-46 1 104 1 37 1 69 1-4 1-7 1-23 1-216"/>
<path d="M0 838l1-15 1 6 1-19 1-14 1-20 1-5 1-18 1-7 1-23 1-26 1-48 1-129 1-129 1-46 1-54 1-13 1 119 1 116 1 129 1 178 1-57 1 100 1 47 1-9 1 16 1 38 1 8 1 64 1-20 1-110"/>
<path d="M0 820l1-8 1-3 1-21 1-12 1-18 1-11 1-15 1-1 1-19 1-35 1-35 1-136 1-132 1-67 1-21 1-2 1 83 1 92 1 138 1 161 1 79 1 18 1-51 1 55 1 31 1 109 1-6 1 44 1 14 1-249"/>
<path d="M0 839l1-16 1 4 1-20 1-20 1-18 1-12 1-17 1-2 1-18 1-20 1-55 1-120 1-137 1-38 1-38 1 30 1 33 1 136 1 119 1 141 1 10 1 77 1-3 1-16 1 133 1 31 1 8 1-65 1 35 1-133"/>
<path d="M0 832l1-9 1 1 1-18 1-15 1-16 1-7 1-25 1-1 1-21 1-28 1-43 1-122 1-131 1-45 1-40 1 25 1 46 1 96 1 155 1 35 1 123 1 112 1-56 1 25 1 79 1 57 1-18 1 76 1-24 1-216"/>
<path d="M0 819l1-20 1 9 1-23 1-17 1-3 1-15 1-18 1-4 1-20 1-26 1-51 1-134 1-143 1-44 1-43 1-3 1 80 1 102 1 155 1 106 1 87 1 15 1 46 1 27 1 44 1 26 1 26 1 33 1-59 1-129"/>
<path d="M0 839l1-12 1-3 1-21 1-12 1-9 1-13 1-12 1 2 1-25 1-27 1-46 1-108 1-135 1-71 1-15 1-17 1 61 1 159 1 115 1 74 1 67 1 5 1 104 1-29 1 52 1-9 1 65 1 65 1-100 1-81"/>
<path d="M0 820l1-15 1 7 1-21 1-17 1-13 1-9 1-16 1-6 1-19 1-13 1-63 1-138 1-115 1-61 1-40 1 18 1 50 1 96 1 166 1 74 1 135 1 5 1 54 1 57 1-11 1 96 1-59 1 35 1-51 1-26"/>
<path d="M0 814l1-14 1 5 1-16 1-20 1-9 1-19 1-16 1-8 1-22 1-24 1-50 1-122 1-152 1-29 1-61 1 6 1 74 1 98 1 125 1 176 1 7 1 111 1-40 1 116 1-66 1 96 1 48 1-6 1-42 1-222"/>
<path d="M0 835l1-23 1 1 1-19 1-16 1-14 1-12 1-4 1-5 1-23 1-17 1-59 1-122 1-138 1-50 1-43 1 15 1 46 1 124 1 150 1 161 1 35 1 10 1 71 1 3 1 15 1 122 1-40 1 18 1 15 1-163"/>
<path d="M0 833l1-12 1 8 1-19 1-19 1-6 1-16 1-13 1-10 1-19 1-22 1-51 1-117 1-124 1-73 1-68 1 43 1 69 1 93 1 138 1 140 1-9 1 89 1 60 1-54 1 109 1 46 1 37 1-53 1 2 1-105"/>
<path d="M0 839l1-23 1 1 1-16 1-17 1-15 1-15 1-16 1 1 1-20 1-27 1-38 1-122 1-137 1-63 1-38 1 4 1 43 1 149 1 143 1 172 1-10 1 119 1 16 1-78 1 56 1 106 1-29 1 33 1 0 1-178"/>
<path d="M0 828l1-5 1 0 1-17 1-13 1-20 1-8 1-16 1-3 1-24 1-12 1-53 1-139 1-117 1-62 1-35 1 2 1 31 1 120 1 159 1 133 1 50 1 55 1 41 1-26 1 114 1-26 1 43 1-18 1-15 1-111"/>
<path d="M0 833l1-15 1 4 1-20 1-17 1-7 1-18 1-9 1-9 1-12 1-29 1-41 1-134 1-123 1-36 1-38 1-20 1 86 1 101 1 142 1 134 1-6 1 61 1 32 1 39 1 35 1 22 1 24 1 45 1-63 1-121"/>
<path d="M0 822l1-14 1 1 1-22 1-13 1-14 1-12 1-8 1 6 1-27 1-19 1-48 1-132 1-135 1-58 1-46 1-28 1 69 1 118 1 121 1 235 1 7 1 27 1-37 1 79 1 97 1 23 1-48 1 124 1-109 1-90"/>
<path d="M0 830l1-21 1 5 1-16 1-5 1-21 1-8 1-20 1-4 1-21 1-33 1-40 1-129 1-122 1-43 1-16 1-9 1 67 1 67 1 154 1 102 1 133 1 36 1 13 1-6 1 12 1 111 1-57 1 95 1-66 1-64"/>
<path d="M0 823l1-29 1 16 1-26 1-22 1-20 1-15 1-2 1-6 1-19 1-22 1-60 1-138 1-135 1-44 1-35 1-7 1 84 1 89 1 117 1 213 1 65 1 1 1 29 1 28 1 38 1 64 1-80 1 38 1-9 1-55"/>
<path d="M0 824l1-19 1 4 1-15 1-14 1-17 1-17 1-18 1-11 1-8 1-35 1-44 1-127 1-138 1-46 1-62 1 27 1 55 1 78 1 137 1 191 1 33 1 32 1 77 1-2 1 44 1 31 1 35 1-6 1-14 1-85"/>
<path d="M0 823l1-12 1 0 1-15 1-15 1-13 1-16 1-15 1 4 1-25 1-30 1-46 1-130 1-133 1-40 1-36 1-14 1 117 1 82 1 132 1 115 1 108 1-23 1 27 1 65 1 39 1 13 1 15 1 56 1-7 1-230"/>
<path d="M0 808l1-6 1 5 1-17 1-11 1-7 1-15 1-15 1-5 1-21 1-31 1-50 1-129 1-146 1-50 1-50 1-22 1 94 1 125 1 117 1 232 1 16 1 25 1 31 1 10 1 73 1 19 1 48 1-6 1-23 1-208"/>
<path d="M0 811l1-6 1 0 1-20 1-16 1-16 1-13 1-13 1-10 1-13 1-31 1-48 1-130 1-118 1-42 1-59 1 25 1 18 1 132 1 135 1 145 1 99 1-70 1 52 1 61 1 44 1 14 1 45 1 8 1-39 1-171"/>
<path d="M0 812l1-18 1 9 1-15 1-16 1-20 1-9 1-11 1-7 1-14 1-20 1-60 1-127 1-124 1-58 1-32 1-18 1 112 1 61 1 127 1 236 1-52 1 101 1-33 1 50 1 26 1 76 1 8 1 11 1-29 1-125"/>
<path d="M0 821l1-8 1-1 1-13 1-19 1-12 1-8 1-15 1-9 1-25 1-26 1-39 1-140 1-135 1-49 1-46 1 15 1 58 1 94 1 119 1 176 1 82 1 4 1 55 1 24 1 15 1 79 1 51 1-27 1-32 1-154"/>
<path d="M0 828l1-14 1-1 1-14 1-9 1-14 1-22 1-10 1 5 1-27 1-20 1-35 1-129 1-120 1-52 1-34 1-42 1 82 1 125 1 163 1 54 1 45 1 110 1 5 1-59 1 81 1 126 1-3 1 49 1-66 1-144"/>
<path d="M0 809l1-21 1 9 1-16 1-20 1-5 1-12 1-12 1-6 1-24 1-30 1-57 1-134 1-135 1-51 1-36 1 21 1 67 1 78 1 122 1 249 1-16 1 57 1-14 1 36 1 43 1 45 1-1 1 85 1-97 1-111"/>
<path d="M0 827l1-11 1 2 1-18 1-21 1-5 1-16 1-13 1-7 1-21 1-22 1-50 1-130 1-127 1-67 1-24 1 9 1 48 1 126 1 129 1 157 1 19 1 93 1-10 1 42 1 38 1 35 1 51 1 19 1-107 1-133"/>
<path d="M0 831l1-16 1 4 1-25 1-18 1-12 1-11 1-13 1-2 1-22 1-23 1-58 1-125 1-151 1-39 1-52 1-14 1 114 1 101 1 117 1 96 1 79 1 68 1-6 1 36 1 75 1 27 1 43 1 3 1-4 1-126"/>
<path d="M0 814l1-17 1 0 1-15 1-27 1-6 1-17 1-19 1 1 1-14 1-30 1-51 1-126 1-137 1-58 1-19 1-5 1 52 1 88 1 133 1 193 1 47 1 61 1 44 1-76 1 102 1 135 1-108 1 57 1-18 1-163"/>
<path d="M0 826l1-14 1 4 1-20 1-6 1-12 1-15 1-29 1 4 1-25 1-28 1-57 1-119 1-143 1-34 1-24 1-40 1 89 1 101 1 97 1 212 1 25 1 29 1 79 1-61 1 101 1 81 1 4 1 31 1-18 1-272"/>
<path d="M0 822l1-25 1 11 1-22 1-16 1-4 1-15 1-10 1-7 1-15 1-40 1-46 1-146 1-134 1-43 1-34 1-23 1 84 1 98 1 109 1 117 1 107 1 31 1 32 1 70 1 27 1 34 1 28 1 5 1 57 1-259"/>
<path d="M0 824l1-14 1 6 1-22 1-7 1-13 1-18 1-13 1 1 1-23 1-19 1-63 1-123 1-127 1-48 1-44 1 1 1 72 1 106 1 131 1 144 1 82 1 27 1-2 1-21 1 108 1 37 1 28 1 46 1-61 1-201"/>
<path d="M0 817l1-7 1 1 1-20 1-11 1-13 1-10 1-20 1-5 1-21 1-16 1-56 1-130 1-128 1-56 1-6 1 11 1 58 1 115 1 130 1 111 1-26 1 112 1 41 1-43 1 93 1 116 1-48 1 56 1-104 1-121"/>
<path d="M0 826l1-4 1 4 1-23 1-17 1-11 1-22 1-6 1-9 1-15 1-33 1-45 1-126 1-132 1-51 1-47 1 30 1 66 1 93 1 120 1 100 1 85 1 49 1 41 1 20 1 37 1 52 1-53 1 87 1-17 1-164"/>
<path d="M0 811l1-21 1 1 1-16 1-15 1-12 1-3 1-15 1-3 1-24 1-36 1-42 1-140 1-126 1-65 1-37 1 0 1 89 1 54 1 137 1 182 1 15 1 37 1 142 1-20 1 28 1 67 1 56 1-62 1-52 1-66"/>
<path d="M0 837l1-9 1-3 1-20 1-4 1-16 1-6 1-9 1-9 1-28 1-15 1-49 1-145 1-122 1-66 1-58 1 30 1 66 1 99 1 155 1 139 1 40 1-8 1 145 1-132 1 149 1 72 1-13 1-20 1-17 1-144"/>
<path d="M0 828l1-18 1 6 1-13 1-16 1-11 1-11 1-22 1-7 1-20 1-24 1-49 1-135 1-121 1-47 1-41 1 31 1 70 1 79 1 122 1 185 1 40 1 24 1-10 1 12 1 0 1 83 1 63 1 20 1-12 1-152"/>
<path d="M0 833l1-12 1 0 1-17 1-16 1-16 1-6 1-15 1-6 1-15 1-27 1-49 1-120 1-139 1-65 1-6 1-29 1 68 1 94 1 164 1 142 1 34 1 65 1 40 1-60 1 71 1 104 1-28 1-26 1 2 1-98"/>
<path d="M0 826l1-3 1 4 1-21 1-12 1-19 1-9 1-13 1-10 1-26 1-17 1-49 1-130 1-124 1-59 1-36 1 13 1 38 1 143 1 133 1 126 1 79 1 49 1 15 1-66 1 51 1 96 1 44 1 56 1-95 1-151"/>
<path d="M0 846l1-20 1 2 1-15 1-15 1-22 1-10 1-20 1 3 1-23 1-23 1-46 1-111 1-137 1-63 1-33 1-5 1 114 1 91 1 128 1 183 1-24 1-4 1 118 1-55 1 80 1 80 1-41 1-3 1-6 1-143"/>
<path d="M0 832l1-10 1 0 1-21 1-16 1-16 1-5 1-20 1 5 1-19 1-29 1-38 1-128 1-142 1-50 1-17 1-13 1 66 1 108 1 149 1 103 1 57 1 69 1 18 1-23 1 82 1 12 1 39 1 31 1-26 1-129"/>
<path d="M0 819l1-10 1-7 1-12 1-21 1-15 1-14 1-16 1-4 1-18 1-20 1-62 1-119 1-141 1-44 1-62 1 17 1 55 1 131 1 109 1 110 1 123 1 21 1-6 1 34 1 104 1 56 1 1 1-7 1 8 1-155"/>
<path d="M0 812l1-10 1 1 1-19 1-6 1-14 1-17 1-19 1-6 1-28 1-19 1-51 1-126 1-116 1-59 1-37 1-42 1 79 1 106 1 126 1 157 1 54 1 30 1 77 1 32 1 24 1 26 1 55 1-18 1-47 1-160"/>
<path d="M0 833l1-1 1 1 1-16 1-18 1-17 1-2 1-26 1-2 1-26 1-15 1-53 1-132 1-129 1-57 1-45 1 12 1 85 1 120 1 113 1 157 1 3 1 59 1 21 1 51 1-4 1 93 1-17 1 30 1-39 1-154"/>
<path d="M0 835l1-11 1 4 1-18 1-9 1-16 1-12 1-15 1-10 1-13 1-33 1-40 1-118 1-137 1-59 1-11 1-16 1 88 1 104 1 144 1 86 1 13 1 34 1 116 1 11 1 52 1 101 1-114 1 26 1-8 1-83"/>
<path d="M0 830l1-14 1 4 1-19 1-18 1-7 1-19 1-13 1-10 1-19 1-24 1-45 1-122 1-118 1-60 1-43 1 6 1 64 1 114 1 148 1 156 1 93 1 36 1 1 1 22 1 39 1-29 1 77 1-6 1-84 1-179"/>
<path d="M0 817l1-22 1-4 1-19 1-11 1-14 1-7 1-18 1-1 1-16 1-33 1-45 1-142 1-133 1-38 1-46 1 8 1 34 1 140 1 120 1 157 1 80 1 42 1-1 1-18 1 67 1 69 1 16 1 32 1-47 1-154"/>
<path d="M0 829l1-9 1 3 1-17 1-18 1-8 1-19 1-12 1-10 1-22 1-26 1-58 1-125 1-142 1-44 1-35 1-1 1 64 1 116 1 163 1 146 1 59 1 1 1-3 1 77 1 23 1 39 1 46 1 14 1-73 1-84"/>
<path d="M0 847l1-18 1 6 1-23 1-10 1-14 1-11 1-19 1-9 1-13 1-22 1-45 1-123 1-125 1-66 1-50 1 17 1 99 1 110 1 155 1 80 1 49 1 27 1 84 1-27 1 86 1-51 1 131 1-66 1 24 1-131"/>
<path d="M0 824l1-13 1 11 1-26 1-9 1-24 1-13 1-25 1 7 1-18 1-29 1-44 1-138 1-127 1-55 1-85 1 10 1 106 1 87 1 144 1 222 1-14 1-17 1 170 1-26 1 23 1 93 1 1 1-6 1-62 1-106"/>
<path d="M0 835l1-17 1 2 1-18 1-17 1-12 1-19 1-14 1-1 1-16 1-15 1-48 1-125 1-143 1-30 1-50 1 15 1 38 1 129 1 109 1 56 1 143 1 9 1-11 1 116 1-13 1 107 1 31 1-22 1-36 1-87"/>
<path d="M0 825l1-17 1 4 1-19 1-6 1-14 1-20 1-15 1-5 1-10 1-27 1-52 1-132 1-135 1-63 1-23 1 8 1 79 1 82 1 126 1 195 1 14 1 51 1 46 1 23 1 20 1 54 1 1 1 7 1-23 1-117"/>
<path d="M0 817l1-6 1 3 1-21 1-17 1-12 1-11 1-10 1 2 1-15 1-37 1-49 1-125 1-156 1-25 1-54 1 6 1 55 1 126 1 127 1 180 1 58 1-61 1 39 1 105 1-40 1 148 1-42 1 31 1-40 1-171"/>
<path d="M0 836l1-13 1 5 1-24 1-11 1-20 1-4 1-15 1-5 1-25 1-22 1-34 1-132 1-135 1-58 1-38 1 11 1 89 1 87 1 149 1 35 1 148 1 8 1 94 1-82 1 106 1 66 1 37 1-50 1-7 1-136"/>
<path d="M0 821l1-19 1 8 1-17 1-20 1-21 1-6 1-13 1-9 1-15 1-22 1-47 1-127 1-148 1-43 1-17 1-23 1 44 1 130 1 119 1 122 1 95 1 5 1 35 1-2 1 157 1-13 1 17 1 58 1-16 1-167"/>
<path d="M0 823l1-12 1-4 1-20 1-21 1-8 1-7 1-19 1-2 1-29 1-24 1-44 1-128 1-125 1-51 1-30 1-14 1 43 1 134 1 107 1 163 1 79 1-41 1 53 1 75 1 64 1 22 1 51 1-28 1-48 1-101"/>
<path d="M0 843l1-18 1 5 1-15 1-24 1-12 1-17 1-12 1-12 1-18 1-25 1-46 1-141 1-109 1-76 1 0 1-13 1 38 1 136 1 140 1 215 1-66 1 50 1 51 1 54 1-4 1 87 1-11 1 30 1-6 1-164"/>
<path d="M0 845l1-13 1 2 1-19 1-14 1-6 1-9 1-17 1-4 1-16 1-25 1-38 1-135 1-124 1-77 1-39 1 19 1 67 1 113 1 157 1 60 1 36 1 96 1 51 1-19 1 85 1 54 1 8 1-25 1 12 1-236"/>
<path d="M0 839l1-12 1 4 1-24 1-5 1-18 1-10 1-13 1 3 1-24 1-25 1-44 1-133 1-135 1-69 1-39 1 23 1 50 1 141 1 136 1 108 1 116 1-33 1 63 1 3 1 36 1 60 1-31 1 54 1 29 1-245"/>
<path d="M0 824l1-7 1-2 1-16 1-12 1-12 1-15 1-10 1 0 1-26 1-12 1-39 1-140 1-130 1-52 1-32 1 3 1 89 1 87 1 140 1 83 1 89 1 82 1-12 1 27 1-31 1 147 1-86 1 60 1 77 1-262"/>
<path d="M0 819l1-17 1 1 1-21 1-18 1-5 1-12 1-4 1-7 1-12 1-38 1-48 1-135 1-122 1-49 1-35 1 15 1 47 1 118 1 92 1 119 1 125 1-42 1 45 1 27 1 2 1 188 1-96 1 61 1-34 1-159"/>
<path d="M0 835l1-17 1 0 1-15 1-21 1-14 1-9 1-14 1-6 1-15 1-29 1-49 1-123 1-143 1-53 1-56 1 10 1 80 1 104 1 145 1 198 1-34 1 37 1 19 1 63 1 93 1-7 1 66 1-39 1-35 1-60"/>
<path d="M0 831l1-15 1 12 1-20 1-7 1-20 1-17 1-15 1-1 1-27 1-25 1-47 1-126 1-144 1-76 1-21 1 11 1 77 1 104 1 126 1 173 1 64 1 53 1 32 1-20 1 63 1 66 1 4 1-28 1-95 1-55"/>
<path d="M0 832l1-7 1-5 1-18 1-3 1-24 1-17 1-15 1-4 1-22 1-13 1-55 1-138 1-128 1-64 1-58 1 55 1 56 1 111 1 139 1 122 1 106 1 47 1-44 1 118 1-23 1 37 1-9 1 11 1 16 1-225"/>
<path d="M0 825l1-4 1 1 1-20 1-13 1-15 1-8 1-18 1-9 1-28 1-24 1-45 1-130 1-120 1-50 1-41 1 27 1 98 1 96 1 106 1 199 1-67 1 63 1 22 1 44 1 32 1 101 1-23 1 45 1-88 1-88"/>
<path d="M0 832l1-15 1-4 1-23 1-7 1-13 1-18 1-10 1-9 1-19 1-11 1-46 1-137 1-122 1-51 1-83 1 29 1 62 1 120 1 155 1 170 1-29 1 72 1-8 1 13 1 57 1 111 1-44 1 57 1-62 1-111"/>
<path d="M0 818l1-5 1-3 1-18 1-15 1-11 1-12 1-12 1-1 1-26 1-28 1-47 1-135 1-124 1-60 1-44 1 1 1 63 1 93 1 166 1 170 1 69 1 31 1 21 1 3 1 80 1 12 1 10 1 31 1-43 1-138"/>
<path d="M0 816l1-16 1 5 1-13 1-11 1-15 1-15 1-18 1 3 1-30 1-24 1-51 1-132 1-145 1-66 1-24 1 15 1 49 1 115 1 117 1 155 1 50 1 82 1-11 1 44 1 24 1 46 1 28 1 61 1-76 1-180"/>
<path d="M0 843l1-10 1-11 1-21 1-14 1-14 1-5 1-19 1 1 1-21 1-19 1-54 1-126 1-133 1-61 1-22 1 15 1 81 1 105 1 148 1 150 1-14 1 35 1 74 1-2 1 38 1 66 1-17 1 56 1-57 1-180"/>
<path d="M0 819l1-15 1-4 1-18 1-12 1 0 1-15 1-16 1 1 1-28 1-28 1-53 1-126 1-115 1-75 1-47 1 10 1 58 1 97 1 153 1 178 1 45 1 50 1-17 1 14 1 104 1 69 1-36 1 45 1-55 1-245"/>
<path d="M0 822l1-11 1 7 1-19 1-12 1-8 1-10 1-16 1-7 1-25 1-33 1-38 1-128 1-125 1-51 1-26 1-19 1 73 1 112 1 154 1 119 1 18 1 78 1-12 1 48 1 35 1 51 1 37 1-20 1-7 1-176"/>
<path d="M0 818l1-16 1-2 1-18 1-14 1-22 1-11 1-11 1-3 1-12 1-41 1-42 1-130 1-145 1-37 1-16 1-25 1 57 1 106 1 99 1 221 1 62 1 42 1-46 1 51 1 79 1 55 1-29 1 36 1-48 1-112"/>
<path d="M0 815l1-19 1 5 1-19 1-10 1-15 1-17 1-11 1-3 1-22 1-34 1-49 1-131 1-140 1-53 1-19 1 18 1 62 1 74 1 101 1 243 1 57 1-15 1-13 1 76 1 2 1 108 1-22 1 4 1-49 1-129"/>
<path d="M0 836l1-14 1 2 1-17 1-15 1-13 1-13 1-19 1-12 1-15 1-14 1-58 1-113 1-141 1-45 1-72 1 9 1 67 1 113 1 140 1 152 1 54 1 40 1 56 1-25 1 47 1 53 1 49 1 10 1-23 1-209"/>
<path d="M0 818l1-17 1 12 1-17 1-21 1-15 1-12 1-20 1 0 1-22 1-25 1-46 1-120 1-155 1-40 1-61 1 30 1 57 1 106 1 128 1 176 1 31 1 39 1 17 1 35 1-38 1 207 1-72 1 34 1-81 1-125"/>
<path d="M0 842l1-14 1-1 1-20 1-9 1-6 1-17 1-12 1-4 1-19 1-20 1-45 1-128 1-135 1-56 1-35 1-8 1 89 1 117 1 132 1 46 1 151 1 22 1 33 1-34 1 98 1 30 1-14 1 74 1-77 1-144"/>
<path d="M0 835l1-7 1-1 1-19 1-12 1-16 1-13 1-22 1-2 1-19 1-20 1-50 1-130 1-127 1-67 1-13 1-5 1 91 1 109 1 128 1 143 1-27 1 98 1-34 1 46 1 36 1 52 1 46 1-24 1-14 1-116"/>
<path d="M0 825l1-9 1 3 1-21 1-10 1-11 1-6 1-18 1-9 1-21 1-25 1-50 1-128 1-116 1-50 1-47 1 23 1 43 1 120 1 95 1 162 1 22 1 23 1-7 1 75 1 61 1 94 1 15 1 6 1-42 1-166"/>
<path d="M0 827l1-13 1-1 1-14 1-11 1-20 1-9 1-9 1-9 1-24 1-20 1-48 1-118 1-152 1-42 1-60 1 40 1 56 1 120 1 106 1 117 1 72 1 18 1 24 1 48 1 68 1 19 1 24 1 10 1 20 1-187"/>
<path d="M0 836l1-16 1 6 1-20 1-18 1-7 1-16 1-16 1 1 1-24 1-25 1-36 1-133 1-133 1-55 1-12 1-26 1 94 1 115 1 124 1 33 1 162 1 26 1 25 1-25 1 94 1 67 1-53 1 42 1-10 1-217"/>
<path d="M0 830l1-21 1 3 1-19 1-16 1-14 1-9 1-16 1-1 1-19 1-26 1-50 1-132 1-142 1-49 1-43 1 18 1 93 1 68 1 170 1 89 1 106 1 33 1-34 1 49 1 89 1 59 1-16 1 6 1-37 1-191"/>
<path d="M0 812l1-12 1-2 1-18 1-15 1-13 1-9 1-18 1-2 1-20 1-24 1-52 1-126 1-143 1-34 1-38 1-10 1 82 1 79 1 139 1 220 1 2 1 35 1-18 1 7 1 93 1 81 1-38 1 42 1-52 1-147"/>
<path d="M0 849l1-14 1-4 1-16 1-16 1-15 1-15 1-17 1-2 1-26 1-21 1-43 1-131 1-112 1-53 1-66 1 18 1 84 1 110 1 108 1 155 1 35 1 61 1 5 1 9 1 91 1 58 1-15 1-6 1-24 1-196"/>
<path d="M0 851l1-22 1 8 1-22 1-15 1-20 1-9 1-19 1 6 1-24 1-13 1-48 1-137 1-126 1-61 1-44 1-13 1 87 1 124 1 118 1 171 1-21 1 55 1 41 1 59 1-17 1 53 1 37 1 76 1-15 1-200"/>
<path d="M0 842l1-10 1 3 1-22 1-10 1-18 1-17 1-13 1 2 1-22 1-9 1-56 1-126 1-129 1-47 1-71 1 0 1 107 1 136 1 136 1 140 1 26 1 16 1 70 1-23 1-4 1 132 1-24 1 69 1-113 1-134"/>
<path d="M0 812l1-10 1 7 1-13 1-16 1-19 1-10 1-13 1-5 1-25 1-30 1-48 1-125 1-147 1-52 1-7 1-1 1 49 1 103 1 124 1 205 1-10 1 4 1 57 1 42 1 83 1 57 1-15 1 3 1 7 1-173"/>
<path d="M0 836l1-14 1-1 1-13 1-20 1-13 1-6 1-19 1 7 1-19 1-28 1-42 1-139 1-138 1-26 1-63 1 19 1 54 1 122 1 139 1 97 1 114 1 63 1-66 1 38 1 96 1 12 1-65 1 108 1-41 1-92"/>
<path d="M0 835l1-12 1-3 1-24 1-17 1-12 1-17 1-12 1 7 1-24 1-26 1-41 1-138 1-127 1-70 1-13 1-18 1 79 1 127 1 126 1 158 1 55 1 13 1 23 1 50 1-1 1 59 1-22 1 46 1-14 1-96"/>
<path d="M0 833l1-17 1 1 1-17 1-20 1-10 1-5 1-21 1 0 1-26 1-23 1-40 1-135 1-124 1-48 1-38 1 10 1 83 1 91 1 153 1 134 1 45 1-52 1 122 1-4 1-7 1 114 1-5 1 14 1-9 1-264"/>
<path d="M0 833l1-17 1-3 1-16 1-13 1-14 1-12 1-18 1 3 1-27 1-19 1-55 1-130 1-125 1-70 1-1 1-13 1 42 1 140 1 166 1 79 1 22 1 183 1-93 1 26 1 31 1 103 1-3 1 65 1-41 1-134"/>
<path d="M0 821l1-14 1 6 1-21 1-17 1-13 1-9 1-12 1 2 1-26 1-29 1-39 1-134 1-138 1-23 1-63 1 19 1 59 1 108 1 132 1 210 1 60 1-58 1 32 1 90 1 64 1-40 1 55 1-35 1 5 1-155"/>
<path d="M0 829l1-13 1 2 1-22 1-20 1-14 1-14 1-12 1-13 1-17 1-21 1-49 1-120 1-159 1-49 1-28 1-20 1 62 1 138 1 137 1 178 1 42 1 28 1 5 1 38 1 61 1 43 1-4 1 10 1-12 1-119"/>
<path d="M0 820l1-11 1 3 1-17 1-11 1-21 1-4 1-20 1-5 1-26 1-19 1-46 1-135 1-127 1-66 1-11 1 23 1 44 1 96 1 129 1 231 1-70 1 97 1 3 1 58 1 58 1 18 1 31 1-68 1 0 1-121"/>
<path d="M0 809l1-7 1 0 1-15 1-15 1-19 1-5 1-25 1 2 1-21 1-37 1-45 1-131 1-126 1-58 1-21 1 10 1 21 1 116 1 122 1 160 1 0 1 91 1 5 1 69 1 14 1 94 1-39 1 28 1-7 1-155"/>
<path d="M0 834l1-17 1 2 1-19 1-15 1-7 1-9 1-21 1-2 1-26 1-13 1-51 1-124 1-139 1-50 1-32 1-20 1 84 1 117 1 87 1 117 1 169 1-82 1 47 1 41 1 46 1 93 1-38 1 42 1-42 1-110"/>
<path d="M0 825l1-13 1 4 1-23 1-11 1-12 1-18 1-14 1-12 1-18 1-21 1-53 1-109 1-128 1-50 1-42 1 11 1 65 1 91 1 146 1 162 1 76 1 7 1 31 1 14 1 60 1 51 1-58 1 73 1-73 1-71"/>
<path d="M0 832l1-14 1 4 1-27 1-11 1-17 1-2 1-18 1-3 1-23 1-19 1-53 1-118 1-139 1-36 1-51 1 21 1 63 1 113 1 105 1 72 1 108 1 96 1 2 1 37 1 53 1-33 1 32 1-8 1 55 1-203"/>
<path d="M0 829l1-3 1 3 1-20 1-12 1-18 1-9 1-23 1 7 1-27 1-17 1-52 1-123 1-135 1-61 1-17 1-16 1 68 1 134 1 109 1 182 1-5 1 79 1-24 1 2 1 71 1 103 1-9 1 36 1-71 1-119"/>
<path d="M0 813l1-17 1 13 1-22 1-18 1-7 1-10 1-20 1 4 1-23 1-34 1-45 1-128 1-133 1-38 1-16 1-25 1 48 1 104 1 126 1 182 1 73 1-24 1 3 1 48 1 49 1 49 1 81 1-58 1-8 1-119"/>
<path d="M0 810l1-9 1 1 1-12 1-15 1-14 1-16 1-12 1-8 1-15 1-31 1-50 1-136 1-141 1-51 1-61 1 25 1 34 1 92 1 129 1 173 1 63 1 67 1-12 1 46 1 49 1 62 1 7 1 33 1-10 1-155"/>
<path d="M0 846l1-10 1 0 1-18 1-11 1-23 1-13 1-12 1-8 1-26 1-31 1-44 1-132 1-125 1-52 1-19 1-25 1 128 1 90 1 140 1 132 1-28 1 129 1-52 1 110 1-1 1 105 1-36 1-1 1-15 1-143"/>
<path d="M0 809l1-17 1-1 1-15 1-8 1-19 1-15 1-22 1 1 1-15 1-34 1-56 1-135 1-137 1-38 1-31 1-29 1 52 1 133 1 114 1 132 1 95 1 57 1-16 1 132 1 1 1 45 1 9 1-14 1-9 1-152"/>
<path d="M0 829l1-16 1 3 1-18 1-23 1-11 1-12 1-19 1 4 1-25 1-26 1-45 1-130 1-124 1-50 1-52 1 2 1 108 1 83 1 109 1 197 1-21 1 26 1 38 1 7 1 124 1 16 1 11 1 17 1-26 1-194"/>
<path d="M0 828l1-16 1 5 1-22 1-9 1-20 1-15 1-10 1-10 1-12 1-26 1-40 1-125 1-127 1-78 1 4 1-11 1 93 1 75 1 108 1 115 1 68 1 65 1 16 1 10 1 87 1 35 1 7 1 4 1 21 1-226"/>
<path d="M0 850l1-16 1 3 1-26 1-11 1-16 1-5 1-19 1 5 1-24 1-14 1-41 1-126 1-131 1-62 1-29 1-7 1 96 1 111 1 114 1 110 1 32 1 43 1 34 1 44 1 9 1 113 1-32 1 22 1-57 1-158"/>
<path d="M0 826l1-16 1 7 1-14 1-21 1-19 1-24 1-17 1-4 1-11 1-21 1-38 1-138 1-133 1-58 1-16 1-18 1 61 1 130 1 107 1 158 1 69 1 1 1 84 1 27 1 13 1 88 1 53 1-67 1 9 1-187"/>
<path d="M0 826l1-11 1 2 1-14 1-15 1-16 1-16 1-18 1-2 1-23 1-34 1-39 1-129 1-132 1-27 1-77 1 24 1 38 1 122 1 128 1 208 1 0 1 31 1 49 1 22 1 38 1 53 1 12 1-17 1 13 1-179"/>
<path d="M0 839l1-16 1-1 1-23 1-24 1-5 1-4 1-26 1 1 1-19 1-20 1-50 1-138 1-135 1-54 1-13 1-19 1 86 1 117 1 90 1 164 1 115 1-14 1 37 1-19 1 47 1 122 1 11 1 24 1-130 1-73"/>
<path d="M0 825l1-16 1-1 1-16 1-28 1-11 1-8 1-16 1-6 1-16 1-22 1-54 1-134 1-126 1-59 1-35 1 7 1 71 1 74 1 158 1 190 1-3 1 58 1 13 1 104 1-55 1 82 1-62 1 107 1-39 1-203"/>
<path d="M0 830l1-15 1 3 1-20 1-8 1-17 1-7 1-18 1-1 1-19 1-26 1-56 1-129 1-137 1-59 1-56 1 23 1 51 1 142 1 146 1 91 1 64 1 55 1 17 1 4 1 44 1 122 1-37 1 2 1 4 1-88"/>
<path d="M0 823l1-13 1 3 1-18 1-16 1-14 1-20 1-12 1-2 1-23 1-24 1-42 1-132 1-138 1-40 1-58 1-6 1 93 1 97 1 118 1 184 1 16 1 71 1-2 1 22 1 24 1 135 1-69 1 77 1-106 1-11"/>
<path d="M0 840l1-16 1-2 1-17 1-18 1-16 1-8 1-13 1-5 1-20 1-17 1-50 1-130 1-120 1-45 1-54 1 26 1 86 1 76 1 101 1 154 1 61 1 121 1-49 1-27 1 60 1 79 1 3 1 15 1-38 1-252"/>
<path d="M0 840l1-19 1 2 1-13 1-12 1-24 1-7 1-11 1-9 1-17 1-23 1-45 1-123 1-132 1-69 1-33 1-8 1 100 1 79 1 189 1 79 1 106 1 66 1-61 1 36 1 1 1 100 1 16 1 33 1-43 1-128"/>
<path d="M0 826l1-15 1 7 1-22 1-8 1-12 1-15 1-22 1 0 1-29 1-26 1-47 1-128 1-128 1-67 1-4 1-23 1 82 1 95 1 141 1 130 1 61 1 17 1 49 1 10 1 18 1 108 1 37 1 28 1-112 1-92"/>
<path d="M0 820l1-18 1 6 1-18 1-16 1-15 1-21 1-19 1 5 1-17 1-21 1-45 1-126 1-149 1-46 1-30 1 4 1 61 1 90 1 137 1 153 1 85 1 18 1 1 1 60 1 71 1 65 1-35 1 21 1-86 1-111"/>
<path d="M0 824l1-15 1 5 1-20 1-8 1-19 1-11 1-21 1-6 1-13 1-41 1-32 1-135 1-128 1-47 1-59 1 4 1 69 1 109 1 113 1 169 1 29 1 84 1 78 1-73 1 78 1 113 1-56 1-32 1 40 1-95"/>
<path d="M0 828l1-8 1 0 1-29 1-8 1-17 1-17 1-10 1-17 1-14 1-28 1-44 1-138 1-119 1-42 1-52 1 17 1 59 1 99 1 146 1 157 1 62 1-15 1 78 1-31 1 86 1 48 1 41 1 21 1-73 1-137"/>
<path d="M0 835l1-6 1-3 1-27 1-5 1-21 1-11 1-16 1-6 1-15 1-31 1-49 1-119 1-134 1-53 1-32 1-4 1 101 1 103 1 112 1 127 1-28 1 120 1-19 1 141 1-74 1 164 1-45 1 34 1-26 1-143"/>
<path d="M0 827l1-18 1 1 1-14 1-19 1-15 1-5 1-7 1-11 1-12 1-20 1-58 1-137 1-133 1-62 1-46 1 11 1 61 1 127 1 117 1 224 1-12 1 20 1-21 1 26 1 98 1 82 1-36 1 102 1-74 1-175"/>
<path d="M0 835l1-15 1-6 1-16 1-20 1-13 1-6 1-15 1-7 1-18 1-31 1-47 1-126 1-130 1-50 1-50 1 19 1 68 1 78 1 152 1 184 1-2 1 113 1 37 1-90 1 47 1 108 1 1 1 87 1-125 1-71"/>
<path d="M0 841l1-17 1 0 1-22 1-15 1-14 1-12 1-19 1 7 1-20 1-24 1-45 1-123 1-132 1-37 1-43 1 14 1 63 1 113 1 133 1 149 1-3 1 61 1-31 1 105 1 43 1 34 1-73 1 61 1-6 1-67"/>
<path d="M0 825l1-13 1 7 1-26 1-16 1-11 1-6 1-12 1 0 1-19 1-35 1-37 1-141 1-124 1-66 1-46 1-10 1 76 1 109 1 167 1 134 1 80 1 52 1 20 1-106 1 158 1 24 1 56 1-64 1-3 1-79"/>
<path d="M0 824l1-4 1 2 1-27 1-9 1-20 1-4 1-19 1-6 1-12 1-22 1-59 1-121 1-142 1-24 1-35 1-34 1 73 1 88 1 143 1 111 1 54 1 114 1-60 1 28 1 54 1 123 1-10 1 37 1-35 1-143"/>
<path d="M0 838l1-11 1-6 1-19 1-14 1-12 1-14 1-13 1-3 1-16 1-25 1-57 1-131 1-131 1-38 1-37 1 11 1 56 1 108 1 163 1 81 1 11 1 106 1 42 1-8 1 80 1 24 1 25 1 72 1-99 1-118"/>
<path d="M0 825l1-8 1 8 1-20 1-14 1-17 1-19 1-16 1 2 1-30 1-23 1-46 1-125 1-123 1-58 1-37 1 42 1 40 1 120 1 116 1 110 1 134 1-13 1 52 1-13 1 47 1 128 1-53 1 21 1-14 1-180"/>
<path d="M0 825l1-11 1 1 1-13 1-23 1-11 1-12 1-21 1-10 1-15 1-30 1-45 1-121 1-135 1-45 1-44 1 19 1 50 1 98 1 127 1 216 1-49 1 90 1 75 1-41 1 104 1 32 1-73 1-16 1 24 1-138"/>
<path d="M0 816l1-17 1 4 1-16 1-24 1-6 1-15 1-18 1-5 1-18 1-22 1-47 1-126 1-113 1-61 1-13 1-13 1 38 1 122 1 87 1 173 1 83 1 27 1 35 1-28 1 82 1 90 1-17 1 49 1-76 1-148"/>
<path d="M0 837l1-2 1-1 1-20 1-11 1-16 1-7 1-26 1 0 1-24 1-27 1-38 1-124 1-131 1-37 1-48 1 11 1 64 1 135 1 140 1 46 1 77 1 74 1 55 1-8 1 51 1 123 1-111 1 38 1-13 1-184"/>
<path d="M0 832l1-17 1 6 1-15 1-20 1-20 1-3 1-23 1-8 1-14 1-30 1-50 1-126 1-111 1-60 1-45 1 4 1 84 1 106 1 159 1 96 1 73 1 6 1 63 1 35 1-24 1 113 1 10 1-22 1-33 1-132"/>
<path d="M0 829l1-15 1 3 1-25 1-11 1-14 1-13 1-14 1-7 1-24 1-27 1-49 1-128 1-134 1-38 1-41 1 17 1 43 1 86 1 149 1 100 1 171 1 68 1-33 1-6 1 16 1 117 1-69 1 41 1 28 1-112"/>
<path d="M0 817l1-10 1-7 1-7 1-15 1-19 1-7 1-14 1-10 1-25 1-26 1-44 1-134 1-135 1-56 1-37 1-14 1 69 1 115 1 118 1 229 1 10 1 58 1-16 1 99 1 11 1 44 1-29 1 41 1-24 1-252"/>
<path d="M0 823l1-9 1 6 1-18 1-20 1-10 1-17 1-10 1-4 1-15 1-26 1-52 1-133 1-137 1-56 1-32 1-2 1 112 1 58 1 153 1 63 1 148 1 74 1-12 1-22 1 48 1 45 1 40 1 31 1-29 1-101"/>
<path d="M0 838l1-21 1 2 1-17 1-11 1-13 1-12 1-8 1-3 1-24 1-23 1-41 1-131 1-131 1-30 1-51 1 45 1 37 1 98 1 121 1 109 1 12 1 76 1 29 1 17 1 59 1 82 1-1 1 46 1-57 1-164"/>
<path d="M0 833l1-9 1 0 1-18 1-17 1-13 1-5 1-16 1-6 1-25 1-26 1-46 1-118 1-150 1-29 1-59 1 8 1 94 1 76 1 139 1 82 1 137 1-48 1 58 1 36 1 69 1 50 1 12 1 26 1-62 1-118"/>
<path d="M0 838l1-14 1-1 1-23 1-11 1-17 1-16 1-24 1 0 1-27 1-9 1-59 1-113 1-132 1-73 1-24 1-10 1 99 1 92 1 135 1 118 1 28 1 98 1 19 1-32 1 40 1 72 1 32 1-10 1-29 1-82"/>
<path d="M0 837l1-8 1 0 1-22 1-11 1-22 1-7 1-17 1-3 1-23 1-24 1-45 1-119 1-143 1-42 1-31 1-34 1 105 1 121 1 121 1 91 1 138 1-35 1 44 1 21 1 28 1 136 1-28 1-56 1 9 1-127"/>
<path d="M0 835l1-10 1 2 1-17 1-28 1-13 1-16 1-14 1-3 1-13 1-25 1-38 1-124 1-126 1-61 1-34 1 31 1 47 1 123 1 122 1 105 1 129 1-38 1 24 1 37 1 24 1 3 1 101 1-21 1-34 1-152"/>
<path d="M0 842l1-18 1 3 1-20 1-15 1-8 1-16 1-12 1-3 1-21 1-19 1-49 1-125 1-135 1-51 1-51 1 26 1 69 1 91 1 129 1 130 1 44 1 143 1-47 1 14 1 20 1 98 1-6 1 22 1-59 1-223"/>
<path d="M0 810l1-9 1 8 1-29 1-23 1-13 1-14 1-6 1-7 1-25 1-35 1-57 1-137 1-132 1-39 1-44 1 0 1 54 1 87 1 126 1 227 1 29 1 15 1 0 1 88 1 66 1 12 1 19 1 85 1-65 1-98"/>
<path d="M0 818l1-12 1 9 1-11 1-17 1-16 1-12 1-10 1-13 1-12 1-27 1-43 1-131 1-137 1-56 1-13 1 1 1 73 1 89 1 147 1 95 1 100 1 1 1 49 1-33 1 130 1 45 1-16 1 70 1-43 1-182"/>
<path d="M0 831l1-17 1 8 1-18 1-20 1-6 1-20 1-8 1 0 1-24 1-30 1-53 1-126 1-147 1-43 1-20 1-4 1 83 1 67 1 140 1 161 1 8 1 61 1 45 1 35 1 18 1 98 1-29 1-9 1 69 1-270"/>
<path d="M0 820l1-13 1 5 1-22 1-8 1-20 1-7 1-18 1-2 1-19 1-25 1-51 1-132 1-127 1-77 1-13 1 14 1 49 1 102 1 136 1 157 1 104 1-74 1 137 1 0 1 28 1 25 1 20 1 7 1 36 1-245"/>
<path d="M0 819l1-9 1 5 1-12 1-10 1-20 1-4 1-19 1 0 1-18 1-24 1-57 1-124 1-134 1-70 1-15 1-11 1 66 1 99 1 146 1 79 1 102 1-5 1 79 1 19 1-12 1 122 1 9 1 13 1-4 1-201"/>
<path d="M0 833l1-12 1-3 1-15 1-25 1-12 1-8 1-19 1 11 1-25 1-21 1-56 1-124 1-128 1-63 1-73 1 37 1 80 1 90 1 130 1 203 1-50 1 78 1 38 1 20 1 47 1 40 1 2 1 31 1 12 1-192"/>
<path d="M0 833l1-21 1 0 1-20 1-12 1-10 1-16 1-17 1-6 1-22 1-24 1-49 1-129 1-115 1-70 1 4 1-9 1 63 1 113 1 123 1 114 1 112 1 5 1 12 1-5 1 53 1 66 1 51 1-3 1-28 1-99"/>
<path d="M0 830l1-14 1 6 1-22 1-19 1-3 1-9 1-21 1-4 1-14 1-32 1-40 1-128 1-133 1-39 1-51 1-11 1 83 1 93 1 158 1 55 1 106 1 95 1-70 1 123 1 3 1 61 1 31 1-22 1-12 1-157"/>
<path d="M0 842l1-19 1 5 1-22 1-12 1-11 1-15 1-26 1-10 1-22 1-17 1-44 1-135 1-123 1-47 1-13 1-15 1 51 1 104 1 108 1 150 1 79 1 89 1-66 1 32 1 57 1 72 1-14 1 59 1-32 1-80"/>
<path d="M0 814l1-14 1 10 1-17 1-16 1-16 1-7 1-15 1-4 1-23 1-26 1-50 1-131 1-142 1-43 1-45 1 6 1 94 1 72 1 111 1 155 1 86 1 35 1 63 1-60 1 62 1 143 1-74 1 22 1 4 1-153"/>
<path d="M0 816l1-18 1 0 1-14 1-10 1-14 1-15 1-9 1 3 1-17 1-30 1-51 1-120 1-133 1-61 1-35 1 39 1 45 1 99 1 136 1 216 1-10 1 60 1-91 1 119 1-10 1 109 1-64 1 43 1-19 1-166"/>
<path d="M0 831l1-5 1 5 1-24 1-15 1-12 1-15 1-3 1-14 1-24 1-25 1-47 1-131 1-128 1-63 1-23 1 7 1 91 1 109 1 101 1 147 1 73 1 37 1 32 1-20 1 95 1-12 1 58 1 13 1-47 1-135"/>
<path d="M0 822l1-16 1 2 1-17 1-20 1-11 1-21 1-13 1-9 1-22 1-23 1-54 1-125 1-135 1-49 1-34 1-5 1 45 1 99 1 150 1 203 1 64 1 33 1-20 1-14 1 79 1 51 1 48 1-34 1 51 1-186"/>
<path d="M0 824l1-9 1 2 1-12 1-19 1-17 1-13 1-13 1-10 1-22 1-24 1-49 1-120 1-146 1-37 1-34 1 4 1 78 1 88 1 109 1 171 1 81 1 16 1-8 1 6 1 88 1 72 1-43 1 83 1-92 1-95"/>
<path d="M0 840l1-13 1 0 1-16 1-20 1-11 1-18 1-12 1 5 1-17 1-24 1-40 1-124 1-144 1-65 1-31 1-30 1 76 1 117 1 168 1 103 1-6 1 111 1 89 1 1 1 17 1 43 1-6 1 14 1 14 1-134"/>
<path d="M0 820l1-13 1 5 1-24 1-16 1-21 1-14 1-8 1-4 1-14 1-26 1-49 1-128 1-135 1-43 1-49 1-30 1 115 1 105 1 115 1 147 1 38 1 44 1 75 1-35 1 68 1 33 1 36 1 71 1-15 1-177"/>
<path d="M0 821l1-13 1 8 1-22 1-14 1-16 1-5 1-24 1-2 1-25 1-34 1-52 1-131 1-130 1-45 1-30 1 10 1 46 1 116 1 136 1 144 1 35 1 29 1 41 1 45 1 102 1-3 1-27 1 122 1-71 1-162"/>
<path d="M0 822l1-11 1 8 1-26 1-14 1-11 1-19 1-5 1 3 1-29 1-15 1-49 1-131 1-142 1-67 1-24 1 1 1 33 1 131 1 118 1 169 1 27 1 51 1 80 1-50 1 132 1 26 1-53 1 44 1-63 1-63"/>
<path d="M0 835l1-15 1-4 1-10 1-14 1-18 1-7 1-16 1 6 1-26 1-26 1-60 1-123 1-144 1-81 1-19 1 48 1 39 1 159 1 128 1 181 1-29 1 24 1 106 1-5 1-66 1 96 1 53 1-14 1-33 1-49"/>
<path d="M0 818l1-17 1 2 1-17 1-16 1-13 1-14 1-10 1-2 1-16 1-30 1-43 1-134 1-131 1-61 1-61 1 48 1 31 1 106 1 139 1 117 1 167 1-50 1 68 1-26 1 84 1 93 1-8 1 2 1-85 1-87"/>
<path d="M0 808l1-8 1 6 1-10 1-16 1-16 1-1 1-22 1-8 1-18 1-20 1-47 1-130 1-133 1-61 1-39 1-34 1 87 1 101 1 165 1 133 1 110 1-64 1 9 1 123 1-16 1 113 1-39 1 46 1 8 1-169"/>
<path d="M0 829l1-14 1 3 1-19 1-20 1-15 1-19 1-14 1 0 1-14 1-27 1-51 1-123 1-129 1-41 1-24 1-17 1 78 1 76 1 138 1 173 1 30 1 15 1-9 1 87 1 43 1 42 1 78 1-13 1-81 1-207"/>
<path d="M0 832l1-17 1 4 1-22 1-20 1-15 1-11 1-17 1-6 1-8 1-29 1-47 1-133 1-126 1-35 1-7 1-65 1 65 1 124 1 131 1 135 1 97 1 14 1-15 1 80 1 15 1 30 1 45 1 0 1-20 1-134"/>
<path d="M0 829l1-11 1-1 1-16 1-18 1-16 1-16 1-16 1 6 1-27 1-24 1-41 1-133 1-135 1-66 1-14 1-32 1 79 1 108 1 101 1 195 1 36 1 67 1 41 1-6 1 76 1-1 1 27 1 1 1 0 1-170"/>
<path d="M0 823l1-20 1 4 1-18 1-14 1-22 1-14 1-12 1-14 1-16 1-28 1-65 1-126 1-142 1-42 1-29 1-5 1 84 1 71 1 121 1 140 1 160 1-76 1 31 1 102 1 23 1 90 1-37 1 18 1 15 1-162"/>
<path d="M0 828l1-15 1 6 1-15 1-17 1-21 1-14 1-6 1-7 1-18 1-30 1-43 1-117 1-138 1-60 1-1 1-13 1 73 1 109 1 127 1 150 1 13 1 45 1-53 1 135 1 47 1-46 1 89 1 29 1-87 1-186"/>
<path d="M0 820l1-12 1 7 1-23 1-16 1-13 1-6 1-14 1-1 1-26 1-19 1-46 1-130 1-133 1-50 1-25 1-8 1 59 1 91 1 145 1 121 1 76 1 32 1 45 1 24 1 55 1-5 1 44 1 13 1-47 1-73"/>
<path d="M0 822l1-21 1 8 1-11 1-18 1-17 1-11 1-20 1-3 1-30 1-23 1-56 1-135 1-124 1-48 1-29 1 16 1 25 1 128 1 116 1 145 1 68 1 8 1 19 1-2 1 74 1 97 1-44 1 60 1-26 1-196"/>
<path d="M0 827l1-18 1 7 1-18 1-11 1-15 1-14 1-16 1-5 1-19 1-28 1-49 1-125 1-136 1-47 1-11 1-30 1 87 1 97 1 118 1 120 1 37 1 90 1 20 1 105 1-46 1 67 1-17 1 60 1-47 1-208"/>
<path d="M0 839l1-8 1-6 1-22 1-18 1-19 1-13 1-18 1 11 1-27 1-20 1-42 1-122 1-144 1-41 1-33 1-8 1 74 1 110 1 123 1 109 1 78 1 91 1-17 1 16 1-8 1 142 1-19 1-30 1 2 1-110"/>
<path d="M0 829l1-23 1 4 1-13 1-12 1-16 1-7 1-18 1 1 1-30 1-25 1-55 1-125 1-130 1-32 1-48 1 47 1 24 1 85 1 111 1 128 1 83 1 129 1-13 1-61 1 67 1 158 1-115 1 40 1-4 1-145"/>
<path d="M0 838l1-17 1-8 1-16 1-21 1-14 1-3 1-21 1 1 1-17 1-28 1-36 1-134 1-122 1-54 1-27 1 4 1 56 1 109 1 151 1 133 1 15 1 87 1-63 1 131 1-60 1 77 1 58 1 16 1-68 1-112"/>
<path d="M0 840l1-12 1 1 1-17 1-17 1-18 1-2 1-20 1 5 1-24 1-27 1-41 1-130 1-135 1-43 1-29 1-11 1 75 1 95 1 177 1 70 1 65 1 23 1 89 1 2 1 68 1 18 1 9 1 71 1-125 1-100"/>
<path d="M0 830l1-13 1 4 1-15 1-21 1-7 1-14 1-16 1-6 1-16 1-26 1-51 1-131 1-133 1-52 1-21 1-10 1 61 1 138 1 122 1 181 1-14 1 43 1-7 1 55 1 138 1 5 1-21 1-14 1-15 1-200"/>
<path d="M0 820l1-8 1 0 1-22 1-17 1-21 1-4 1-21 1-4 1-22 1-24 1-46 1-135 1-148 1-45 1-37 1 30 1 47 1 127 1 117 1 205 1 24 1 105 1-85 1 35 1 57 1 45 1 58 1-35 1 4 1-202"/>
<path d="M0 821l1-10 1-3 1-17 1-10 1-17 1-4 1-23 1-6 1-23 1-28 1-41 1-140 1-123 1-55 1-62 1 27 1 74 1 104 1 131 1 113 1 54 1 38 1 52 1 3 1 85 1-9 1 0 1 59 1 37 1-121"/>
<path d="M0 813l1-11 1 2 1-21 1-10 1-11 1-11 1-13 1-18 1-22 1-19 1-56 1-118 1-132 1-65 1 13 1-50 1 84 1 63 1 164 1 208 1 25 1 36 1 5 1 27 1-53 1 165 1-40 1 55 1-44 1-155"/>
<path d="M0 831l1-25 1 4 1-18 1-21 1-14 1-13 1-3 1-12 1-10 1-25 1-39 1-133 1-152 1-36 1-42 1 7 1 29 1 121 1 135 1 107 1 141 1 2 1-57 1 133 1 47 1 50 1-23 1 41 1-45 1-107"/>
<path d="M0 842l1-14 1 1 1-21 1-8 1-11 1-16 1-16 1-7 1-25 1-25 1-47 1-125 1-136 1-37 1-60 1 31 1 34 1 111 1 156 1 143 1 49 1 18 1 38 1 82 1 16 1 34 1-9 1-11 1 3 1-138"/>
<path d="M0 830l1-17 1 8 1-25 1-16 1-20 1-10 1-19 1 9 1-16 1-35 1-42 1-131 1-157 1-50 1-14 1-18 1 86 1 102 1 140 1 160 1 27 1 24 1 54 1 29 1 48 1 72 1 2 1 14 1-78 1-113"/>
<path d="M0 845l1-9 1-1 1-24 1-17 1-12 1-8 1-20 1-4 1-19 1-19 1-51 1-127 1-120 1-46 1-46 1-17 1 116 1 85 1 135 1 127 1-15 1 127 1-82 1 165 1-80 1 111 1 33 1 19 1-46 1-167"/>
<path d="M0 816l1-8 1 1 1-16 1-18 1-22 1-16 1-7 1-24 1-3 1-34 1-42 1-136 1-141 1-51 1-33 1-20 1 40 1 138 1 129 1 156 1 96 1-70 1 161 1-40 1 124 1-14 1 52 1 56 1-108 1-189"/>
<path d="M0 832l1-17 1 3 1-17 1-20 1-9 1-9 1-23 1 10 1-22 1-22 1-42 1-145 1-109 1-67 1-43 1-29 1 106 1 93 1 154 1 90 1 53 1 62 1 42 1-19 1 69 1 138 1-57 1 1 1-6 1-195"/>
<path d="M0 815l1-17 1 1 1-11 1-18 1-17 1-5 1-27 1-11 1-17 1-38 1-40 1-136 1-126 1-52 1-38 1 11 1 61 1 89 1 130 1 236 1-13 1 50 1-44 1 128 1 40 1 49 1 26 1-43 1-35 1-91"/>
<path d="M0 833l1-8 1 0 1-18 1-14 1-13 1-17 1-12 1 1 1-14 1-18 1-49 1-135 1-131 1-51 1-38 1-1 1 72 1 122 1 129 1 112 1-21 1 74 1 39 1 73 1 79 1 28 1 2 1-13 1-30 1-120"/>
<path d="M0 835l1-17 1 2 1-19 1-12 1-26 1 2 1-9 1-14 1-9 1-23 1-51 1-139 1-133 1-38 1-20 1-10 1 81 1 106 1 138 1 16 1 142 1 61 1-68 1 50 1 63 1 43 1 19 1 113 1-132 1-117"/>
<path d="M0 836l1-7 1-3 1-31 1-9 1-12 1-13 1-14 1-10 1-6 1-32 1-63 1-122 1-133 1-47 1-34 1 26 1 52 1 119 1 125 1 43 1 104 1 2 1 106 1-6 1 108 1 22 1-23 1 54 1-46 1-193"/>
<path d="M0 831l1-12 1 0 1-21 1-12 1-9 1-17 1-18 1-5 1-21 1-34 1-35 1-131 1-129 1-42 1-18 1-21 1 72 1 135 1 123 1 97 1 50 1 102 1 23 1-2 1 0 1 134 1-24 1 62 1-119 1-189"/>
<path d="M0 841l1-15 1 7 1-15 1-11 1-18 1-8 1-23 1 2 1-30 1-20 1-47 1-127 1-136 1-52 1-26 1-25 1 121 1 83 1 117 1 110 1 123 1 40 1-22 1-4 1 112 1 51 1-43 1 67 1-30 1-228"/>
<path d="M0 837l1-12 1 8 1-19 1-13 1-14 1-6 1-15 1-6 1-25 1-22 1-55 1-129 1-123 1-55 1-55 1 19 1 68 1 118 1 136 1 86 1 36 1 86 1-17 1-26 1 100 1 118 1 33 1-7 1-10 1-216"/>
<path d="M0 830l1-20 1 5 1-26 1-19 1-13 1-8 1-14 1-4 1-25 1-20 1-42 1-135 1-137 1-45 1-12 1 16 1 38 1 114 1 107 1 147 1 77 1 54 1-7 1 26 1 62 1 53 1 13 1-8 1-37 1-76"/>
<path d="M0 833l1-22 1 5 1-17 1-6 1-19 1-6 1-15 1-2 1-19 1-28 1-47 1-136 1-120 1-66 1-24 1-18 1 90 1 104 1 143 1 131 1 20 1 118 1 23 1-48 1 71 1 96 1-76 1 45 1-27 1-178"/>
<path d="M0 819l1-25 1 15 1-21 1-14 1-13 1-22 1-3 1-6 1-23 1-26 1-44 1-130 1-142 1-49 1-49 1 14 1 79 1 100 1 120 1 172 1 78 1-25 1 15 1 68 1 65 1 9 1 55 1-29 1-11 1-154"/>
<path d="M0 813l1-9 1-8 1-20 1-13 1-14 1-12 1-6 1-1 1-22 1-27 1-43 1-140 1-136 1-34 1-39 1 10 1 59 1 89 1 137 1 135 1 23 1 75 1 47 1 33 1 42 1 45 1 26 1-80 1 15 1-219"/>
<path d="M0 843l1-3 1 0 1-26 1-11 1-27 1-3 1-22 1-8 1-16 1-18 1-46 1-126 1-133 1-64 1-77 1 45 1 82 1 109 1 136 1 68 1 145 1 42 1 0 1 0 1 76 1 56 1-30 1 43 1-55 1-178"/>
<path d="M0 832l1-9 1-1 1-17 1-16 1-18 1-12 1-8 1 0 1-22 1-33 1-39 1-128 1-144 1-47 1-24 1-12 1 106 1 121 1 151 1 78 1 52 1-15 1 85 1 35 1 39 1 64 1-31 1 63 1-70 1-152"/>
<path d="M0 812l1-16 1 8 1-21 1-20 1-11 1-1 1-27 1-5 1-20 1-33 1-54 1-129 1-149 1-24 1-49 1-10 1 86 1 97 1 117 1 183 1 74 1 25 1 12 1 19 1 86 1 44 1 2 1-39 1 50 1-213"/>
<path d="M0 823l1-17 1 3 1-15 1-18 1-8 1-16 1-17 1-5 1-28 1-22 1-45 1-140 1-131 1-46 1-18 1-20 1 100 1 70 1 108 1 145 1 78 1 8 1 20 1 75 1 101 1 8 1 34 1-21 1-99 1-147"/>
<path d="M0 841l1-4 1 0 1-24 1-16 1-8 1-14 1-20 1-6 1-19 1-29 1-44 1-117 1-128 1-46 1-34 1-2 1 92 1 92 1 142 1 145 1 17 1 51 1 56 1-61 1 41 1 119 1-26 1 70 1-25 1-165"/>
<path d="M0 825l1-19 1 10 1-15 1-17 1-16 1-16 1-14 1-7 1-15 1-41 1-36 1-138 1-137 1-38 1-35 1 16 1 90 1 99 1 114 1 144 1 12 1 78 1-14 1 28 1 89 1 15 1 67 1-35 1-59 1-114"/>
<path d="M0 811l1-21 1 6 1-16 1-15 1-13 1-20 1-11 1-7 1-10 1-29 1-40 1-128 1-142 1-56 1-57 1 0 1 96 1 76 1 154 1 149 1 63 1 30 1 129 1-63 1 106 1-51 1 51 1 45 1-64 1-46"/>
<path d="M0 846l1-8 1-6 1-20 1-7 1-24 1-7 1-8 1-1 1-20 1-23 1-36 1-138 1-126 1-47 1-42 1-10 1 109 1 111 1 149 1 79 1 91 1-5 1-45 1 111 1 58 1 12 1-18 1 46 1 18 1-121"/>
<path d="M0 832l1-19 1-2 1-19 1-14 1-11 1-12 1-18 1-5 1-23 1-33 1-41 1-125 1-130 1-59 1-21 1-14 1 53 1 122 1 144 1 111 1 124 1 18 1-27 1 31 1 93 1 28 1-11 1 15 1 2 1-151"/>
<path d="M0 817l1-7 1 4 1-27 1-18 1-19 1-10 1-11 1-2 1-23 1-35 1-59 1-123 1-136 1-12 1-48 1 13 1 25 1 125 1 116 1 182 1 85 1-16 1 25 1 1 1 49 1 100 1-2 1-33 1-14 1-173"/>
<path d="M0 827l1-11 1-3 1-24 1-7 1-6 1-15 1-6 1-6 1-19 1-30 1-41 1-137 1-131 1-57 1 0 1-25 1 85 1 94 1 139 1 132 1 78 1 31 1-2 1 88 1-12 1 69 1 45 1-64 1 33 1-151"/>
<path d="M0 840l1-16 1 2 1-23 1-21 1-15 1-3 1-19 1-8 1-22 1-27 1-41 1-126 1-143 1-43 1-45 1-2 1 87 1 104 1 126 1 141 1-27 1 183 1-103 1 179 1-28 1 48 1-50 1 70 1-13 1-158"/>
<path d="M0 817l1-6 1 3 1-19 1-11 1-20 1-11 1-15 1-8 1-19 1-20 1-43 1-133 1-139 1-51 1-39 1-4 1 96 1 66 1 132 1 139 1 119 1-31 1 65 1 2 1 87 1 43 1-33 1 89 1-95 1-115"/>
<path d="M0 839l1-12 1 7 1-19 1-15 1-21 1-10 1-12 1-2 1-16 1-18 1-41 1-131 1-145 1-56 1-42 1-4 1 115 1 105 1 135 1 124 1 46 1-8 1 30 1 68 1 72 1 18 1-3 1 53 1-75 1-141"/>
<path d="M0 830l1-13 1 1 1-14 1-23 1-19 1-9 1-17 1-1 1-16 1-26 1-43 1-127 1-139 1-71 1-25 1-10 1 97 1 86 1 128 1 155 1 40 1 36 1-11 1 19 1 55 1 89 1-8 1-5 1-2 1-78"/>
<path d="M0 826l1-19 1 2 1-18 1-19 1-13 1-16 1-12 1 0 1-25 1-25 1-66 1-121 1-142 1-29 1-40 1-9 1 65 1 97 1 117 1 165 1 98 1 11 1 30 1 1 1 70 1 57 1 32 1-9 1 3 1-201"/>
<path d="M0 822l1-14 1 6 1-19 1-19 1-14 1-15 1-7 1-6 1-17 1-27 1-57 1-118 1-125 1-54 1-27 1-32 1 77 1 103 1 124 1 165 1 86 1 27 1-46 1 87 1 25 1 40 1 21 1 4 1-37 1-99"/>
<path d="M0 837l1-6 1-4 1-26 1-5 1-15 1-6 1-7 1-8 1-16 1-30 1-41 1-137 1-125 1-47 1-67 1 9 1 56 1 97 1 179 1 147 1-13 1 53 1 62 1 17 1 3 1 115 1-3 1 52 1-127 1-45"/>
<path d="M0 823l1-9 1-3 1-19 1-15 1-21 1-16 1-19 1-12 1-8 1-29 1-49 1-128 1-130 1-37 1-38 1-5 1 56 1 111 1 127 1 183 1 34 1 60 1-9 1 52 1 58 1 47 1 23 1-63 1-20 1-243"/>
<path d="M0 826l1-11 1 5 1-16 1-18 1-14 1-8 1-25 1-3 1-17 1-26 1-35 1-135 1-131 1-61 1-42 1 13 1 57 1 104 1 143 1 56 1 143 1 39 1 6 1 5 1 114 1 7 1 36 1 15 1-95 1-112"/>
<path d="M0 821l1-13 1 4 1-21 1-16 1-16 1-12 1-13 1-6 1-14 1-34 1-56 1-122 1-137 1-40 1-9 1-42 1 108 1 94 1 131 1 172 1 59 1-1 1 28 1-7 1 67 1 98 1-61 1 44 1 8 1-234"/>
<path d="M0 826l1-12 1 3 1-12 1-21 1-8 1-13 1-19 1 2 1-22 1-24 1-50 1-122 1-126 1-54 1-43 1 21 1 98 1 69 1 134 1 152 1 35 1-43 1 137 1-14 1 5 1 107 1-3 1 28 1 3 1-122"/>
<path d="M0 824l1-9 1-2 1-18 1-15 1-18 1-8 1-17 1-5 1-22 1-29 1-48 1-132 1-130 1-31 1-15 1-1 1 44 1 112 1 117 1 183 1-37 1 81 1 79 1-46 1 71 1 25 1 70 1 26 1-125 1-51"/>
<path d="M0 820l1-20 1 10 1-15 1-14 1-24 1-12 1-10 1-6 1-16 1-23 1-61 1-119 1-134 1-46 1-22 1-30 1 79 1 92 1 146 1 122 1 78 1 79 1-33 1 120 1-29 1 62 1-45 1 65 1-31 1-148"/>
<path d="M0 834l1-9 1-4 1-14 1-8 1-11 1-11 1-16 1-3 1-26 1-32 1-35 1-135 1-112 1-63 1-45 1 10 1 103 1 95 1 134 1 91 1 86 1 70 1 2 1 46 1 29 1 18 1 0 1 21 1 32 1-207"/>
<path d="M0 834l1-17 1 6 1-16 1-11 1-7 1-11 1-15 1-15 1-17 1-24 1-49 1-110 1-135 1-58 1-41 1 0 1 102 1 103 1 163 1 92 1 80 1 19 1 35 1-24 1 131 1-23 1-2 1 71 1-31 1-211"/>
<path d="M0 845l1-16 1 8 1-25 1-13 1-12 1-20 1-12 1 7 1-19 1-16 1-49 1-130 1-123 1-77 1-34 1 34 1 85 1 108 1 125 1 79 1 109 1-21 1 39 1 34 1 27 1 69 1-10 1 56 1-34 1-171"/>
<path d="M0 821l1-13 1 6 1-17 1-21 1-6 1-23 1-10 1 3 1-19 1-21 1-52 1-128 1-132 1-63 1-29 1-36 1 109 1 104 1 96 1 220 1-36 1 68 1 85 1 29 1 8 1 48 1 17 1-42 1-22 1-127"/>
<path d="M0 822l1-14 1 8 1-16 1-23 1-6 1-21 1-16 1-8 1-16 1-32 1-38 1-141 1-131 1-43 1-53 1-14 1 43 1 122 1 157 1 141 1 75 1 21 1 4 1 53 1 72 1 47 1-21 1 67 1 5 1-202"/>
<path d="M0 837l1-17 1 5 1-17 1-17 1-6 1-12 1-25 1-5 1-18 1-22 1-49 1-121 1-115 1-84 1-33 1 5 1 75 1 89 1 149 1 134 1 85 1 60 1-10 1 2 1 40 1 93 1-18 1 9 1-11 1-186"/>
<path d="M0 818l1-13 1 1 1-12 1-10 1-20 1-8 1-16 1-6 1-22 1-25 1-42 1-134 1-135 1-68 1-10 1-11 1 84 1 93 1 116 1 176 1 7 1 50 1 23 1 37 1 16 1 76 1 8 1 45 1-96 1-82"/>
<path d="M0 827l1-12 1-2 1-15 1-12 1-15 1-13 1-10 1-3 1-19 1-27 1-39 1-139 1-132 1-45 1-64 1 19 1 89 1 72 1 143 1 186 1 38 1-7 1 45 1 4 1 63 1 108 1-15 1 35 1-4 1-202"/>
<path d="M0 815l1-16 1 2 1-14 1-20 1-16 1-11 1-12 1 0 1-31 1-26 1-54 1-124 1-135 1-48 1-29 1 28 1 7 1 96 1 95 1 186 1 92 1 80 1-39 1 1 1 95 1 51 1 32 1 27 1-68 1-157"/>
<path d="M0 838l1-13 1-3 1-16 1-11 1-24 1 0 1-14 1-8 1-18 1-17 1-56 1-112 1-134 1-67 1-45 1 3 1 72 1 114 1 142 1 132 1 58 1 28 1 65 1-34 1 45 1 41 1 53 1 12 1-11 1-215"/>
<path d="M0 830l1-13 1-3 1-18 1-4 1-21 1-11 1-7 1-2 1-31 1-24 1-49 1-134 1-124 1-48 1-55 1-2 1 112 1 71 1 142 1 143 1 23 1 69 1 20 1 2 1 72 1-3 1 58 1 22 1-37 1-140"/>
<path d="M0 830l1-9 1 5 1-23 1-9 1-18 1-9 1-13 1-7 1-24 1-16 1-38 1-143 1-115 1-75 1-31 1 31 1 9 1 138 1 136 1 134 1 48 1-13 1 86 1-13 1 67 1 76 1 33 1-53 1-43 1-126"/>
<path d="M0 807l1-10 1 3 1-19 1-21 1-15 1-12 1-12 1-1 1-17 1-24 1-65 1-131 1-130 1-58 1-28 1 8 1 98 1 76 1 143 1 130 1 81 1 22 1 61 1-51 1 85 1 74 1-10 1 19 1-17 1-156"/>
<path d="M0 826l1-15 1-4 1-16 1-12 1-12 1-4 1-11 1-12 1-23 1-29 1-46 1-128 1-130 1-57 1 8 1-29 1 69 1 105 1 134 1 197 1-96 1 52 1 30 1 96 1 21 1 55 1 24 1-34 1 96 1-187"/>
<path d="M0 834l1-14 1 7 1-18 1-4 1-13 1-11 1-22 1-14 1-12 1-36 1-40 1-124 1-144 1-41 1-15 1-30 1 92 1 130 1 112 1 137 1 39 1 46 1 36 1-7 1 62 1 27 1 63 1-40 1-52 1-127"/>
<path d="M0 824l1-13 1 3 1-12 1-19 1-13 1-16 1-26 1 0 1-15 1-33 1-46 1-128 1-135 1-72 1-30 1 19 1 72 1 111 1 116 1 194 1 42 1 23 1 36 1 9 1 39 1 46 1 24 1-56 1-42 1-99"/>
<path d="M0 819l1-10 1 2 1-13 1-13 1-9 1-12 1-19 1-3 1-17 1-28 1-46 1-131 1-126 1-56 1-17 1-30 1 110 1 66 1 171 1 180 1-7 1-25 1 74 1 64 1 3 1 125 1-45 1-3 1-15 1-154"/>
<path d="M0 830l1-13 1 2 1-12 1-19 1-10 1-9 1-16 1-2 1-20 1-43 1-31 1-136 1-125 1-39 1-41 1 23 1 65 1 107 1 148 1 67 1 109 1 2 1 15 1 103 1-22 1 63 1-18 1 8 1 65 1-262"/>
<path d="M0 834l1-24 1 10 1-23 1-17 1-14 1-15 1-11 1 1 1-32 1-22 1-42 1-142 1-114 1-45 1-69 1 71 1 25 1 66 1 150 1 150 1 59 1 58 1 22 1 61 1 52 1-41 1 50 1 17 1-51 1-50"/>
<path d="M0 824l1-12 1 5 1-20 1-16 1-11 1-15 1-16 1-8 1-13 1-34 1-48 1-112 1-120 1-59 1-20 1 15 1 19 1 128 1 111 1 145 1 57 1-40 1 15 1 109 1 102 1-2 1 19 1 28 1-75 1-136"/>
<path d="M0 848l1-13 1 2 1-25 1-12 1-22 1-7 1-19 1-5 1-16 1-25 1-55 1-123 1-125 1-59 1-43 1 17 1 81 1 103 1 129 1 147 1 22 1 35 1 2 1 63 1 45 1 73 1-11 1 2 1 8 1-186"/>
<path d="M0 832l1-19 1 2 1-19 1-11 1-19 1-8 1-9 1 1 1-22 1-28 1-51 1-127 1-143 1-48 1-55 1 46 1 69 1 96 1 107 1 166 1 20 1 110 1-39 1 49 1 63 1-13 1 37 1-23 1 35 1-148"/>
<path d="M0 819l1-16 1 4 1-16 1-13 1-7 1-18 1-13 1-1 1-26 1-30 1-50 1-120 1-143 1-54 1-77 1 34 1 56 1 95 1 110 1 288 1-56 1 62 1 14 1 68 1-34 1 26 1 76 1-35 1 1 1-143"/>
<path d="M0 816l1-19 1 10 1-17 1-19 1-11 1-6 1-15 1-11 1-20 1-29 1-52 1-130 1-133 1-65 1-28 1 26 1 37 1 92 1 127 1 131 1 142 1-2 1 84 1-44 1 46 1 101 1 17 1-1 1-137 1-45"/>
<path d="M0 830l1-17 1 3 1-18 1-14 1-13 1-19 1-10 1-3 1-22 1-17 1-43 1-129 1-136 1-60 1-26 1-10 1 52 1 96 1 169 1 134 1 45 1 66 1 71 1-11 1 61 1-5 1 5 1 10 1 1 1-166"/>
<path d="M0 836l1-15 1 2 1-26 1-9 1-22 1-18 1-7 1-7 1-14 1-20 1-44 1-141 1-124 1-48 1-50 1-8 1 69 1 127 1 136 1 151 1 94 1 31 1-42 1 71 1 57 1-34 1 37 1-32 1 75 1-235"/>
<path d="M0 822l1-10 1 7 1-19 1-15 1-20 1-9 1-14 1-5 1-23 1-26 1-42 1-142 1-133 1-57 1-41 1 16 1 67 1 89 1 124 1 159 1 65 1 71 1 29 1-47 1 74 1 55 1 47 1-41 1 11 1-150"/>
<path d="M0 832l1-19 1 7 1-18 1-24 1-9 1-12 1-14 1-3 1-10 1-34 1-49 1-125 1-128 1-45 1-22 1-14 1 79 1 106 1 115 1 155 1-6 1 62 1 41 1 29 1 33 1 35 1 13 1 23 1-34 1-134"/>
<path d="M0 837l1-15 1 3 1-29 1-5 1-12 1-16 1-11 1 3 1-21 1-34 1-38 1-137 1-124 1-54 1-41 1 32 1 81 1 97 1 142 1 115 1-9 1 82 1 11 1 27 1 48 1 12 1 65 1-14 1-6 1-164"/>
<path d="M0 830l1-7 1-4 1-18 1-19 1-7 1-15 1-16 1-7 1-26 1-29 1-41 1-148 1-128 1-29 1-54 1 3 1 83 1 83 1 121 1 122 1 91 1 40 1 70 1-6 1 20 1 64 1 55 1 19 1-75 1-181"/>
<path d="M0 839l1-15 1 4 1-21 1-14 1-11 1-18 1-14 1-8 1-22 1-26 1-48 1-138 1-119 1-62 1-32 1-5 1 96 1 114 1 131 1 111 1 23 1 172 1-108 1 18 1 50 1 105 1-10 1 56 1-80 1-83"/>
<path d="M0 818l1-15 1 6 1-19 1-14 1-21 1-5 1-23 1 4 1-26 1-16 1-49 1-140 1-134 1-54 1-24 1-10 1 48 1 114 1 118 1 198 1-9 1 38 1 111 1-95 1 185 1 28 1-1 1 21 1-45 1-163"/>
<path d="M0 816l1-8 1 1 1-14 1-17 1-19 1-16 1-17 1-5 1-21 1-21 1-50 1-125 1-122 1-49 1-43 1 17 1 53 1 82 1 132 1 158 1 29 1 90 1-44 1 10 1 143 1 80 1-41 1-38 1 46 1-181"/>
<path d="M0 814l1-3 1-5 1-15 1-16 1-13 1-7 1-27 1 1 1-23 1-29 1-55 1-131 1-125 1-40 1-53 1 16 1 84 1 73 1 130 1 128 1 126 1-28 1 62 1-24 1 60 1 58 1 46 1 32 1 12 1-255"/>
<path d="M0 828l1-13 1 0 1-14 1-20 1 0 1-17 1-19 1 5 1-30 1-23 1-43 1-114 1-137 1-50 1-55 1 23 1 72 1 88 1 138 1 98 1 37 1 103 1 51 1-48 1 111 1 15 1-13 1 44 1-21 1-165"/>
<path d="M0 826l1-18 1 12 1-29 1-7 1-14 1-13 1-18 1-3 1-26 1-16 1-56 1-118 1-139 1-32 1-27 1-17 1 63 1 100 1 131 1 133 1 15 1 86 1-24 1 20 1 57 1 107 1-12 1-9 1-15 1-36"/>
<path d="M0 835l1-15 1 5 1-19 1-16 1-15 1-10 1-14 1-3 1-22 1-15 1-47 1-131 1-137 1-60 1-18 1-19 1 84 1 106 1 138 1 218 1-43 1 27 1 28 1 35 1 23 1 29 1 98 1-16 1-4 1-172"/>
<path d="M0 833l1-15 1 7 1-24 1-17 1-14 1-9 1-26 1-1 1-19 1-14 1-41 1-127 1-139 1-56 1-50 1 45 1 67 1 105 1 119 1 107 1 118 1 24 1 23 1-23 1 40 1 39 1 33 1 14 1-46 1-86"/>
<path d="M0 839l1-13 1 5 1-23 1-9 1-19 1-11 1-17 1-8 1-12 1-26 1-44 1-126 1-125 1-47 1-32 1-42 1 135 1 84 1 135 1 100 1 103 1 7 1-6 1 30 1 55 1 74 1 3 1 55 1-127 1-85"/>
<path d="M0 821l1-23 1 0 1-14 1-13 1-16 1-13 1-15 1-9 1-12 1-33 1-56 1-133 1-136 1-35 1-25 1-2 1 56 1 124 1 138 1 143 1 52 1 49 1 55 1-66 1 109 1-18 1 50 1 21 1-26 1-184"/>
<path d="M0 837l1-13 1-5 1-14 1-10 1-10 1-16 1-13 1 5 1-31 1-23 1-41 1-132 1-122 1-58 1-65 1 23 1 58 1 155 1 109 1 142 1 63 1 5 1 16 1 29 1 111 1-17 1 50 1 12 1 23 1-213"/>
<path d="M0 815l1-18 1 3 1-21 1-14 1-18 1-14 1-12 1-12 1-12 1-27 1-43 1-135 1-125 1-64 1-44 1 7 1 61 1 82 1 129 1 175 1 76 1 96 1-49 1 36 1-2 1 100 1 38 1 5 1-82 1-89"/>
<path d="M0 818l1-11 1 0 1-16 1-14 1-26 1-14 1-7 1-7 1-11 1-33 1-41 1-134 1-108 1-57 1-52 1-4 1 106 1 73 1 101 1 163 1 79 1 26 1 58 1 52 1 3 1 66 1-70 1 81 1-53 1-179"/>
<path d="M0 826l1-10 1 2 1-18 1-3 1-19 1-6 1-11 1 0 1-21 1-18 1-51 1-134 1-135 1-63 1-16 1 23 1 33 1 112 1 137 1 133 1 48 1-2 1 43 1 51 1-14 1 105 1 25 1 13 1-59 1-136"/>
<path d="M0 810l1-16 1 6 1-17 1-15 1-19 1-18 1-12 1-5 1-15 1-30 1-42 1-131 1-144 1-33 1-12 1-39 1 72 1 111 1 123 1 217 1-44 1 105 1 8 1-7 1 144 1 19 1-71 1 21 1 23 1-144"/>
<path d="M0 821l1-13 1 8 1-22 1-8 1-18 1-5 1-17 1-8 1-18 1-30 1-54 1-124 1-130 1-66 1-23 1 3 1 38 1 125 1 110 1 138 1 79 1 24 1 10 1 33 1 41 1 83 1 12 1 18 1 6 1-147"/>
<path d="M0 841l1-10 1-2 1-15 1-23 1-7 1-13 1-18 1-4 1-16 1-16 1-58 1-123 1-122 1-71 1-34 1-14 1 52 1 111 1 129 1 137 1 86 1 42 1 46 1 16 1 8 1 60 1 7 1 123 1-131 1-156"/>
<path d="M0 828l1-12 1-1 1-11 1-20 1-8 1-13 1-18 1-16 1-14 1-28 1-50 1-123 1-126 1-72 1-14 1 7 1 57 1 101 1 140 1 127 1 75 1-13 1 87 1-8 1 68 1 89 1-54 1 35 1-24 1-140"/>
<path d="M0 835l1-19 1-1 1-24 1-12 1-15 1-3 1-27 1 3 1-17 1-27 1-49 1-110 1-139 1-48 1-42 1 37 1 21 1 114 1 119 1 129 1 83 1 95 1 30 1 28 1-35 1 109 1-40 1-42 1 80 1-178"/>
<path d="M0 830l1-13 1 5 1-24 1-6 1-18 1-9 1-15 1-4 1-21 1-25 1-42 1-124 1-132 1-29 1-80 1 23 1 83 1 118 1 133 1 134 1-47 1 135 1 12 1 10 1 50 1 63 1-12 1 87 1-100 1-160"/>
<path d="M0 824l1-14 1 2 1-15 1-2 1-19 1-3 1-20 1-2 1-32 1-19 1-54 1-131 1-122 1-53 1-25 1-34 1 70 1 132 1 119 1 103 1 78 1 59 1 38 1-30 1 104 1-3 1 21 1-5 1 30 1-166"/>
<path d="M0 824l1-12 1 2 1-21 1-17 1-11 1-9 1-12 1-14 1-21 1-21 1-44 1-125 1-116 1-49 1-45 1-3 1 79 1 99 1 128 1 146 1 20 1 83 1-9 1 40 1 70 1 49 1-7 1-11 1-28 1-152"/>
<path d="M0 823l1-8 1 9 1-21 1-14 1-17 1-11 1-16 1-7 1-15 1-23 1-34 1-128 1-146 1-33 1-58 1 3 1 97 1 104 1 111 1 66 1 85 1 63 1 73 1 9 1 7 1 76 1 58 1-49 1 14 1-203"/>
<path d="M0 835l1-16 1 2 1-20 1-15 1-16 1-11 1-14 1-3 1-29 1-18 1-49 1-148 1-132 1-31 1-57 1 5 1 82 1 100 1 131 1 66 1 171 1 14 1-7 1 11 1 125 1 16 1-26 1-33 1 72 1-216"/>
<path d="M0 814l1-12 1 2 1-21 1-12 1-8 1-25 1-12 1 5 1-16 1-25 1-45 1-125 1-134 1-63 1-18 1 30 1 26 1 79 1 131 1 189 1 44 1 52 1-23 1 67 1 74 1-3 1-39 1 80 1-22 1-133"/>
<path d="M0 833l1-14 1 1 1-20 1-15 1-15 1-6 1-20 1-7 1-25 1-17 1-52 1-129 1-126 1-69 1-26 1-19 1 90 1 83 1 125 1 181 1 33 1 109 1-6 1 18 1 74 1-10 1 20 1 45 1-131 1-84"/>
<path d="M0 835l1-17 1 1 1-14 1-16 1-12 1-12 1-12 1-8 1-20 1-29 1-49 1-121 1-133 1-46 1-53 1 20 1 78 1 93 1 130 1 152 1 15 1 63 1-31 1 80 1 52 1 63 1-39 1 81 1-36 1-179"/>
<path d="M0 843l1-19 1 10 1-23 1-6 1-16 1-9 1-21 1-3 1-27 1-27 1-48 1-121 1-139 1-35 1-51 1 22 1 87 1 90 1 138 1 107 1 102 1-37 1 62 1-71 1 211 1-6 1 20 1-10 1-32 1-108"/>
<path d="M0 825l1-18 1 7 1-13 1-9 1-16 1-7 1-24 1 1 1-29 1-28 1-53 1-131 1-112 1-71 1-59 1 34 1 93 1 95 1 132 1 78 1 148 1 20 1 7 1 2 1 20 1 69 1 43 1 23 1-28 1-192"/>
<path d="M0 838l1-15 1 8 1-26 1-10 1-13 1-17 1-16 1 0 1-27 1-23 1-40 1-143 1-122 1-56 1-25 1-4 1 83 1 96 1 125 1 161 1 19 1 66 1-12 1 84 1 11 1 107 1-52 1 15 1-7 1-192"/>
<path d="M0 814l1-9 1 8 1-21 1-10 1-5 1-16 1-15 1-7 1-23 1-34 1-39 1-126 1-152 1-18 1-66 1 45 1 58 1 87 1 143 1 149 1-19 1 132 1-60 1 86 1 16 1 26 1 6 1 43 1 22 1-110"/>
<path d="M0 815l1-9 1 0 1-21 1-19 1-10 1-6 1-24 1-3 1-21 1-15 1-48 1-123 1-132 1-62 1-27 1 6 1 10 1 133 1 124 1 191 1 24 1 68 1-24 1 84 1 41 1 9 1 41 1-21 1-47 1-22"/>
<path d="M0 819l1-17 1 4 1-17 1-20 1-15 1-18 1-13 1-7 1-17 1-25 1-39 1-128 1-131 1-62 1-4 1-30 1 76 1 84 1 130 1 195 1-43 1 92 1-11 1 55 1 29 1 141 1-38 1 4 1 45 1-199"/>
<path d="M0 823l1-18 1 7 1-13 1-11 1-12 1-9 1-27 1-6 1-19 1-21 1-50 1-120 1-125 1-57 1-40 1-30 1 89 1 93 1 123 1 188 1 60 1-34 1 83 1 59 1-18 1 58 1 3 1 2 1-27 1-124"/>
<path d="M0 832l1-14 1 0 1-18 1-8 1-21 1-4 1-19 1 1 1-19 1-30 1-46 1-115 1-140 1-66 1-31 1 17 1 78 1 83 1 120 1 155 1-26 1 57 1 70 1 84 1 52 1 0 1 42 1-56 1-11 1-86"/>
<path d="M0 830l1-9 1 4 1-18 1-15 1-14 1-22 1-27 1-2 1-13 1-29 1-49 1-137 1-121 1-38 1-49 1-15 1 100 1 98 1 132 1 149 1 44 1 48 1 8 1-22 1 68 1 137 1 11 1-40 1-11 1-166"/>
<path d="M0 819l1-6 1 4 1-22 1-15 1-13 1-13 1-19 1-9 1-11 1-30 1-53 1-113 1-146 1-41 1-25 1 11 1 52 1 102 1 124 1 153 1 0 1 102 1 17 1 67 1-20 1 52 1-19 1 52 1-10 1-140"/>
<path d="M0 828l1-12 1 2 1-21 1-16 1-14 1-14 1-8 1-11 1-17 1-26 1-45 1-115 1-125 1-54 1-30 1-39 1 70 1 132 1 140 1 173 1-25 1 113 1-6 1-15 1 59 1 99 1-59 1 56 1-67 1-119"/>
<path d="M0 846l1-20 1 0 1-16 1-17 1-12 1-13 1-17 1 1 1-32 1-27 1-53 1-124 1-118 1-44 1-28 1-17 1 77 1 120 1 151 1 42 1 113 1-9 1 60 1 33 1 77 1-17 1 46 1 53 1-33 1-155"/>
<path d="M0 833l1-21 1-1 1-21 1-7 1-24 1-10 1-14 1-1 1-26 1-25 1-47 1-121 1-143 1-30 1-59 1-12 1 82 1 81 1 135 1 141 1 73 1 13 1 69 1-8 1 76 1 122 1-121 1 96 1-63 1-78"/>
<path d="M0 840l1-9 1-2 1-18 1-12 1-14 1-22 1-18 1-1 1-16 1-9 1-58 1-133 1-112 1-50 1-53 1 20 1 53 1 110 1 156 1 82 1 102 1-35 1 103 1-16 1 49 1 55 1 14 1 56 1-58 1-155"/>
<path d="M0 827l1-10 1-1 1-19 1-10 1-15 1-16 1-15 1 2 1-18 1-27 1-48 1-133 1-134 1-52 1-65 1 37 1 38 1 106 1 130 1 173 1 56 1 1 1 49 1-6 1 65 1 111 1-56 1 36 1 8 1-216"/>
<path d="M0 823l1-13 1 1 1-16 1-10 1-8 1-16 1-19 1-8 1-24 1-19 1-53 1-135 1-127 1-41 1-49 1 17 1 61 1 114 1 149 1 163 1 25 1-7 1 23 1 2 1 108 1 36 1 6 1-9 1 45 1-171"/>
<path d="M0 822l1-12 1-1 1-18 1-20 1-16 1-4 1-16 1-5 1-13 1-22 1-52 1-127 1-133 1-51 1-47 1 43 1 42 1 74 1 163 1 68 1 140 1-36 1 45 1 60 1 14 1 80 1 49 1-79 1 71 1-111"/>
<path d="M0 816l1-11 1 3 1-16 1-15 1-18 1-10 1-18 1-1 1-21 1-34 1-44 1-140 1-138 1-39 1-68 1 29 1 39 1 123 1 98 1 194 1 73 1 50 1-34 1 1 1 117 1 73 1 41 1-79 1-17 1-159"/>
<path d="M0 828l1-10 1-4 1-19 1-15 1-14 1-16 1-19 1 1 1-20 1-31 1-34 1-129 1-130 1-31 1-41 1 14 1 30 1 128 1 122 1 227 1 6 1-36 1-44 1 78 1 92 1 42 1-1 1-3 1-41 1-119"/>
<path d="M0 814l1-8 1 10 1-23 1-11 1-13 1-22 1-19 1-3 1-14 1-34 1-54 1-112 1-128 1-33 1-67 1 14 1 56 1 128 1 139 1 127 1 65 1 21 1 47 1 14 1 30 1 9 1 61 1 22 1-67 1-177"/>
<path d="M0 844l1-16 1-5 1-24 1-10 1-13 1-15 1-13 1 1 1-20 1-25 1-48 1-118 1-134 1-41 1-35 1-19 1 118 1 80 1 131 1 101 1 76 1 93 1-97 1 63 1 22 1 115 1-13 1-27 1-35 1-14"/>
<path d="M0 831l1-13 1 5 1-23 1-15 1-10 1-18 1-9 1-8 1-20 1-27 1-54 1-116 1-130 1-70 1-56 1 19 1 79 1 80 1 139 1 143 1 86 1 1 1 59 1-73 1 114 1 75 1 14 1-3 1 19 1-133"/>
<path d="M0 828l1-11 1-4 1-14 1-7 1-15 1-8 1-19 1 3 1-22 1-31 1-49 1-135 1-126 1-61 1-21 1 21 1 16 1 147 1 120 1 55 1 164 1 30 1 26 1-42 1 105 1 60 1-10 1 0 1-19 1-155"/>
<path d="M0 819l1-14 1 11 1-15 1-13 1-9 1-15 1-20 1-1 1-26 1-24 1-46 1-125 1-121 1-75 1-19 1-8 1 90 1 99 1 116 1 110 1 84 1 34 1-32 1 143 1-48 1 94 1 23 1-28 1 7 1-140"/>
<path d="M0 828l1-11 1 2 1-23 1-10 1-13 1-18 1-12 1-6 1-18 1-36 1-43 1-120 1-123 1-75 1-29 1 11 1 42 1 118 1 137 1 111 1 86 1-19 1 92 1 71 1 13 1 21 1 31 1 65 1-101 1-169"/>
<path d="M0 842l1-21 1 6 1-17 1-15 1-9 1-1 1-28 1 10 1-25 1-31 1-43 1-133 1-128 1-43 1-23 1 4 1 86 1 115 1 138 1 81 1-9 1 90 1 4 1 138 1-46 1 107 1-26 1-38 1-12 1-84"/>
<path d="M0 824l1-16 1-1 1-18 1-18 1-12 1-13 1-10 1-7 1-30 1-20 1-54 1-117 1-138 1-52 1-42 1-23 1 67 1 138 1 149 1 173 1 23 1 59 1-32 1 58 1 52 1 67 1-34 1 44 1-36 1-81"/>
<path d="M0 824l1-9 1 6 1-23 1-11 1-24 1-20 1-13 1-1 1-18 1-24 1-41 1-143 1-128 1-35 1-83 1 34 1 38 1 114 1 160 1 132 1 50 1 81 1-5 1-12 1 95 1 55 1-16 1-46 1 82 1-193"/>
<path d="M0 841l1-10 1-5 1-16 1-14 1-11 1-10 1-14 1-6 1-18 1-28 1-38 1-129 1-122 1-58 1-17 1-43 1 110 1 95 1 135 1 109 1 98 1-12 1-48 1 76 1 60 1 68 1 67 1-16 1 22 1-283"/>
<path d="M0 832l1-19 1 5 1-21 1-11 1-20 1-5 1-14 1-4 1-22 1-26 1-45 1-130 1-135 1-37 1-61 1-3 1 54 1 107 1 132 1 176 1 25 1 52 1 48 1 79 1-54 1 76 1 61 1-54 1-31 1-119"/>
<path d="M0 823l1-10 1 2 1-23 1-10 1-14 1-14 1-11 1-5 1-28 1-26 1-44 1-130 1-133 1-68 1-36 1-24 1 55 1 118 1 133 1 195 1 34 1 125 1-47 1 17 1 62 1 32 1 6 1 74 1-101 1-125"/>
<path d="M0 831l1-17 1-2 1-17 1-17 1-18 1-10 1-19 1 6 1-19 1-33 1-56 1-128 1-142 1-71 1-3 1-26 1 66 1 110 1 176 1 106 1 55 1 137 1-36 1-47 1 71 1 110 1-7 1 13 1-76 1-63"/>
<path d="M0 814l1-11 1 1 1-9 1-25 1-5 1-14 1-15 1-4 1-13 1-31 1-52 1-129 1-148 1-53 1-26 1-11 1 71 1 88 1 136 1 138 1 89 1 67 1-21 1 74 1 26 1 55 1 39 1-22 1 43 1-156"/>
<path d="M0 827l1-11 1 2 1-20 1-16 1-6 1-14 1-16 1-10 1-15 1-27 1-38 1-146 1-114 1-66 1-24 1-6 1 64 1 116 1 133 1 66 1 150 1 48 1 23 1 60 1-41 1 111 1-50 1 18 1 23 1-202"/>
<path d="M0 828l1-10 1 5 1-17 1-20 1-12 1-15 1-8 1-10 1-17 1-17 1-41 1-134 1-148 1-22 1-57 1 57 1 38 1 110 1 132 1 115 1 79 1 49 1 38 1-104 1 93 1 111 1 23 1-23 1-45 1-103"/>
<path d="M0 804l1-14 1 9 1-21 1-20 1-8 1-20 1-10 1-10 1-19 1-32 1-52 1-128 1-131 1-53 1-42 1 14 1 71 1 74 1 138 1 227 1 41 1 12 1-45 1 90 1 154 1-51 1-18 1 46 1-18 1-176"/>
<path d="M0 828l1-15 1 1 1-20 1-15 1-9 1-16 1-21 1-4 1-16 1-22 1-51 1-117 1-133 1-70 1-25 1 3 1 60 1 125 1 149 1 184 1-54 1 49 1-1 1 24 1 30 1 73 1 63 1-47 1 14 1-213"/>
<path d="M0 810l1-14 1 2 1-19 1-15 1-9 1-17 1-24 1-3 1-21 1-28 1-49 1-123 1-145 1-38 1-77 1 25 1 51 1 106 1 121 1 197 1 40 1 56 1-46 1 148 1 1 1 71 1-51 1 49 1-7 1-175"/>
<path d="M0 825l1-12 1 3 1-20 1-9 1-8 1-12 1-18 1-7 1-21 1-32 1-47 1-114 1-142 1-34 1-54 1 17 1 63 1 84 1 138 1 200 1 13 1-38 1 42 1 99 1-29 1 92 1 19 1 5 1-43 1-128"/>
<path d="M0 826l1-9 1-6 1-19 1-18 1-16 1-9 1-15 1 5 1-29 1-25 1-49 1-134 1-126 1-50 1-44 1-35 1 106 1 81 1 154 1 189 1 9 1 90 1-36 1 72 1 15 1 79 1-23 1 46 1-63 1-93"/>
<path d="M0 831l1-23 1 2 1-19 1-15 1-5 1-19 1-13 1-8 1-25 1-22 1-54 1-128 1-119 1-42 1-21 1-4 1 47 1 107 1 116 1 169 1 121 1-83 1 80 1 43 1 2 1 91 1-23 1-25 1 7 1-206"/>
<path d="M0 821l1-10 1-2 1-11 1-17 1-13 1-11 1-14 1-9 1-19 1-27 1-53 1-135 1-126 1-44 1-32 1-1 1 68 1 79 1 146 1 238 1-27 1 97 1-65 1 59 1 29 1 61 1 24 1-12 1-10 1-161"/>
<path d="M0 838l1-11 1-1 1-17 1-12 1-17 1-7 1-26 1 2 1-27 1-21 1-38 1-130 1-127 1-40 1-43 1-1 1 91 1 129 1 129 1 149 1-40 1 103 1-2 1 79 1-22 1 95 1-50 1 57 1-66 1-75"/>
<path d="M0 798l1-4 1-7 1-11 1-22 1-10 1-12 1-12 1-9 1-19 1-33 1-53 1-129 1-138 1-37 1-51 1-14 1 105 1 97 1 103 1 208 1 8 1 72 1-19 1 71 1 4 1 78 1 43 1-40 1-52 1-64"/>
<path d="M0 826l1-16 1 9 1-20 1-18 1-17 1-13 1-15 1-1 1-18 1-19 1-51 1-136 1-122 1-80 1-49 1 2 1 125 1 69 1 140 1 110 1 133 1-58 1 92 1 40 1 115 1-76 1 29 1 10 1 24 1-163"/>
<path d="M0 832l1-13 1 3 1-22 1-19 1-15 1-20 1-10 1-5 1-10 1-21 1-46 1-130 1-112 1-74 1-34 1 0 1 77 1 103 1 132 1 169 1 22 1 17 1 44 1 14 1 49 1 93 1-1 1 18 1-75 1-140"/>
<path d="M0 822l1-12 1 6 1-22 1-15 1-5 1-13 1-19 1-1 1-22 1-24 1-49 1-127 1-126 1-52 1-37 1-29 1 85 1 131 1 139 1 128 1 73 1 16 1 84 1-27 1 10 1 21 1 75 1-42 1 6 1-175"/>
<path d="M0 847l1-14 1-3 1-21 1-21 1-8 1-22 1-10 1-3 1-20 1-22 1-41 1-125 1-128 1-36 1-86 1 21 1 107 1 107 1 152 1 52 1 71 1 130 1-21 1-8 1 55 1 57 1 2 1-12 1-46 1-185"/>
<path d="M0 816l1-15 1 3 1-24 1-11 1-9 1-24 1-12 1-7 1-23 1-28 1-54 1-136 1-115 1-38 1-49 1-4 1 68 1 87 1 145 1 192 1 13 1 74 1 27 1 7 1 117 1 21 1-56 1 9 1 3 1-189"/>
<path d="M0 835l1-24 1 7 1-18 1-15 1-13 1-9 1-17 1-5 1-19 1-17 1-48 1-136 1-123 1-55 1-47 1 23 1 33 1 128 1 121 1 63 1 86 1 69 1 31 1 79 1-29 1 159 1-33 1-9 1-99 1-91"/>
<path d="M0 833l1-17 1 1 1-24 1-7 1-18 1-13 1-11 1-4 1-16 1-35 1-49 1-124 1-127 1-56 1-18 1 2 1 58 1 83 1 99 1 170 1 41 1 37 1 51 1 68 1 52 1 48 1-21 1-1 1-33 1-167"/>
<path d="M0 820l1-12 1 7 1-13 1-16 1-18 1-18 1-16 1-2 1-21 1-15 1-42 1-135 1-133 1-39 1-57 1 30 1 29 1 150 1 115 1 127 1 41 1 66 1-24 1-18 1 117 1 73 1-29 1 80 1-34 1-188"/>
<path d="M0 841l1-8 1 2 1-15 1-12 1-18 1-10 1-17 1-11 1-16 1-15 1-49 1-129 1-119 1-44 1-39 1 6 1 40 1 124 1 141 1 151 1-13 1 65 1 54 1 16 1-16 1 60 1-5 1 21 1 0 1-97"/>
<path d="M0 833l1-9 1 2 1-21 1-14 1-20 1-13 1-12 1 0 1-23 1-25 1-45 1-124 1-120 1-62 1-39 1 0 1 82 1 63 1 149 1 78 1 125 1 75 1-22 1 8 1 100 1-20 1 56 1 7 1-62 1-120"/>
<path d="M0 823l1-19 1 1 1-21 1-18 1-15 1-19 1-3 1-5 1-8 1-35 1-54 1-130 1-145 1-73 1-5 1 20 1 45 1 108 1 109 1 191 1 35 1 28 1 37 1 47 1 17 1 45 1-2 1 37 1-69 1 6"/>
<path d="M0 827l1-11 1 9 1-20 1-12 1-21 1-10 1-14 1 3 1-32 1-22 1-45 1-116 1-142 1-52 1-40 1-3 1 91 1 77 1 118 1 171 1 102 1 2 1 1 1 0 1 100 1 41 1 3 1 19 1-64 1-123"/>
<path d="M0 837l1-21 1 8 1-21 1-9 1-14 1-16 1-12 1-10 1-22 1-30 1-42 1-128 1-131 1-69 1-32 1-5 1 65 1 114 1 136 1 192 1-84 1 77 1 73 1 40 1-16 1 125 1-20 1-6 1-3 1-186"/>
<path d="M0 821l1-7 1-4 1-19 1-20 1-11 1-5 1-16 1 4 1-25 1-30 1-56 1-146 1-131 1-50 1-48 1 30 1 60 1 103 1 122 1 162 1 38 1 102 1-22 1 42 1-43 1 82 1 35 1 53 1-45 1-164"/>
<path d="M0 809l1-15 1 5 1-17 1-12 1-12 1-14 1-10 1-12 1-12 1-30 1-53 1-130 1-139 1-51 1-15 1-9 1 45 1 105 1 110 1 181 1 92 1 98 1-94 1 49 1 75 1 101 1-74 1 30 1-4 1-201"/>
<path d="M0 838l1-13 1 4 1-16 1-17 1-14 1-14 1-17 1-8 1-18 1-29 1-36 1-137 1-124 1-58 1-49 1 25 1 78 1 117 1 123 1 100 1 132 1-5 1 26 1-29 1 93 1 2 1 90 1-110 1 82 1-198"/>
<path d="M0 815l1-12 1-4 1-17 1-13 1-10 1-14 1-21 1 6 1-29 1-26 1-58 1-115 1-130 1-38 1-57 1 14 1 15 1 140 1 128 1 111 1 140 1-19 1 71 1 43 1-28 1 163 1-109 1 37 1 1 1-67"/>
<path d="M0 818l1-19 1 7 1-18 1-20 1-8 1-11 1-18 1-3 1-13 1-30 1-47 1-139 1-133 1-55 1-40 1 51 1 45 1 85 1 159 1 179 1 95 1-78 1 39 1 31 1 65 1 80 1-46 1-25 1 40 1-207"/>
<path d="M0 822l1-13 1 0 1-20 1-18 1-21 1-10 1-14 1-6 1-18 1-34 1-40 1-136 1-117 1-49 1-36 1-9 1 66 1 109 1 135 1 134 1 58 1 140 1-54 1 6 1-28 1 106 1 59 1 65 1-76 1-172"/>
<path d="M0 821l1-14 1 4 1-22 1-15 1-7 1-19 1-6 1-5 1-22 1-27 1-53 1-135 1-129 1-57 1-13 1-2 1 111 1 60 1 151 1 140 1 2 1 46 1-1 1 68 1 60 1 29 1 41 1-33 1 28 1-136"/>
<path d="M0 816l1-14 1 6 1-20 1-14 1-11 1-16 1-7 1-11 1-20 1-25 1-47 1-133 1-118 1-59 1-21 1 6 1 57 1 87 1 102 1 178 1 22 1 94 1 15 1 15 1 63 1 29 1-6 1 77 1-65 1-121"/>
<path d="M0 827l1-9 1 10 1-21 1-11 1-11 1-9 1-21 1-3 1-19 1-16 1-55 1-133 1-152 1-44 1-26 1 4 1 70 1 120 1 149 1 159 1-37 1 0 1 87 1 61 1 19 1 80 1-23 1 11 1-34 1-163"/>
<path d="M0 823l1-12 1 5 1-25 1-15 1-14 1-11 1-12 1 1 1-33 1-23 1-37 1-139 1-130 1-66 1-6 1-10 1 62 1 81 1 113 1 89 1 175 1 37 1-17 1 21 1 103 1 37 1-31 1 56 1-105 1-71"/>
<path d="M0 839l1-14 1 2 1-14 1-4 1-24 1-15 1-13 1-11 1-20 1-28 1-43 1-143 1-133 1-61 1 14 1-22 1 86 1 100 1 135 1 140 1 8 1 101 1 13 1-23 1 75 1 53 1 10 1-29 1 61 1-166"/>
<path d="M0 817l1-11 1 8 1-23 1-6 1-25 1-12 1-20 1 0 1-10 1-36 1-49 1-134 1-113 1-59 1-30 1-10 1 67 1 90 1 108 1 145 1 82 1 86 1-72 1 169 1-34 1 111 1 28 1-25 1-101 1-161"/>
<path d="M0 828l1-11 1 4 1-18 1-18 1-20 1-5 1-19 1 2 1-21 1-35 1-38 1-120 1-141 1-48 1-21 1-12 1 76 1 102 1 145 1 65 1 77 1 114 1 11 1 31 1 20 1 88 1-102 1 33 1-16 1-100"/>
<path d="M0 813l1-9 1 2 1-11 1-22 1-17 1-8 1-18 1-9 1-11 1-32 1-60 1-134 1-139 1-46 1-6 1-22 1 60 1 108 1 104 1 142 1 69 1 88 1 1 1 55 1 19 1 101 1-69 1 52 1-61 1-201"/>
<path d="M0 818l1-17 1 7 1-10 1-22 1-11 1-12 1-20 1-7 1-17 1-31 1-47 1-134 1-121 1-42 1-71 1 29 1 85 1 60 1 156 1 209 1 23 1 63 1-55 1 34 1 76 1 60 1-11 1 36 1-24 1-118"/>
<path d="M0 824l1-13 1 3 1-21 1-14 1-13 1-14 1-27 1 4 1-23 1-25 1-45 1-129 1-125 1-35 1-30 1-58 1 85 1 86 1 123 1 150 1 114 1 59 1-45 1 53 1 10 1 97 1 25 1 56 1-106 1-107"/>
<path d="M0 835l1-16 1 5 1-17 1-12 1-10 1-22 1-16 1-4 1-7 1-22 1-41 1-143 1-113 1-83 1-25 1-12 1 81 1 120 1 132 1 91 1 94 1 67 1-52 1 56 1 26 1 93 1-17 1 0 1-16 1-47"/>
<path d="M0 829l1-17 1 2 1-18 1-18 1-19 1-12 1-8 1 5 1-25 1-29 1-56 1-122 1-135 1-50 1-23 1 11 1 69 1 103 1 128 1 139 1-2 1 57 1 53 1 50 1 9 1 35 1 17 1 55 1-13 1-187"/>
<path d="M0 834l1-4 1 4 1-23 1-16 1-4 1-21 1-11 1-4 1-23 1-33 1-41 1-126 1-137 1-58 1-22 1-29 1 130 1 97 1 125 1 113 1 62 1 49 1-24 1-17 1 109 1 36 1 23 1 48 1-46 1-187"/>
<path d="M0 837l1-15 1 0 1-19 1-15 1-13 1-12 1-16 1 0 1-19 1-28 1-37 1-129 1-130 1-43 1-16 1-48 1 65 1 137 1 108 1 77 1 149 1 20 1 14 1 90 1-12 1 84 1-30 1-17 1 10 1-223"/>
<path d="M0 829l1-12 1 6 1-21 1-10 1-20 1 0 1-18 1-1 1-18 1-18 1-35 1-137 1-118 1-61 1-47 1-21 1 86 1 132 1 134 1 74 1 133 1-25 1 85 1-73 1 72 1 68 1-4 1-9 1 24 1-145"/>
<path d="M0 816l1-21 1 4 1-14 1-21 1-3 1-13 1-17 1-7 1-17 1-40 1-37 1-136 1-142 1-43 1-57 1 24 1 71 1 94 1 151 1 155 1 4 1 150 1-26 1 35 1-25 1 109 1 32 1-43 1-46 1-155"/>
<path d="M0 831l1-7 1 0 1-23 1-8 1-24 1-16 1-16 1 1 1-25 1-23 1-51 1-134 1-121 1-53 1-34 1 38 1 70 1 83 1 118 1 131 1 56 1 73 1-30 1-7 1 108 1 74 1 27 1-36 1-19 1-119"/>
<path d="M0 815l1-16 1 11 1-20 1-17 1-16 1-12 1-9 1-10 1-16 1-30 1-46 1-137 1-129 1-62 1-28 1 12 1 89 1 82 1 124 1 129 1 89 1 91 1-67 1 68 1-36 1 89 1 53 1 59 1-65 1-174"/>
<path d="M0 815l1-16 1 0 1-15 1-15 1-22 1-15 1-14 1-6 1-16 1-20 1-56 1-125 1-137 1-42 1-82 1 49 1 73 1 69 1 151 1 195 1 29 1 19 1-3 1 59 1 149 1-46 1 40 1-50 1 17 1-189"/>
<path d="M0 816l1-18 1 0 1-24 1-16 1-3 1-19 1-9 1-4 1-18 1-25 1-61 1-126 1-119 1-53 1-59 1 5 1 60 1 119 1 152 1 145 1 1 1 133 1-75 1 59 1 131 1 0 1-25 1 68 1-107 1-131"/>
<path d="M0 824l1-12 1 4 1-19 1-19 1-6 1-14 1-12 1-5 1-23 1-24 1-44 1-130 1-120 1-67 1-33 1-18 1 94 1 108 1 125 1 120 1 110 1 57 1-42 1 10 1-6 1 121 1 73 1-66 1 17 1-126"/>
<path d="M0 809l1-9 1-2 1-11 1-17 1-16 1-12 1-15 1-6 1-14 1-29 1-57 1-140 1-129 1-52 1-46 1 19 1 25 1 113 1 149 1 204 1 66 1-22 1 65 1 30 1 3 1 55 1-16 1 50 1-23 1-171"/>
<path d="M0 814l1-11 1 3 1-20 1-22 1-6 1-18 1-14 1 2 1-19 1-21 1-50 1-128 1-138 1-46 1-52 1 3 1 76 1 52 1 120 1 208 1 16 1 104 1-26 1 25 1 77 1 73 1-34 1 73 1-70 1-143"/>
<path d="M0 841l1-18 1-2 1-15 1-10 1-13 1-11 1-17 1-12 1-22 1-20 1-51 1-132 1-132 1-47 1-35 1 24 1 60 1 114 1 141 1 107 1 109 1 35 1-40 1 33 1 24 1 93 1 37 1 21 1-79 1-151"/>
<path d="M0 825l1-9 1 0 1-20 1-14 1-14 1-16 1-19 1 6 1-21 1-32 1-47 1-125 1-151 1-32 1-40 1 30 1 39 1 85 1 117 1 239 1 46 1 75 1-60 1-23 1 71 1 74 1 24 1-17 1 0 1-134"/>
<path d="M0 835l1-14 1-4 1-15 1-20 1-10 1-1 1-20 1-4 1-17 1-29 1-46 1-115 1-119 1-84 1-25 1 11 1 49 1 107 1 121 1 118 1 88 1 26 1 47 1 64 1-4 1 45 1 5 1 60 1-39 1-162"/>
<path d="M0 827l1-17 1 6 1-15 1-15 1-11 1-9 1-23 1 3 1-25 1-31 1-39 1-139 1-128 1-36 1-63 1 55 1 24 1 94 1 134 1 83 1 103 1 54 1 12 1 5 1 9 1 185 1 19 1-68 1-11 1-145"/>
<path d="M0 820l1-15 1 6 1-19 1-15 1-20 1-8 1-20 1-4 1-23 1-23 1-61 1-131 1-139 1-62 1 0 1 0 1 67 1 80 1 122 1 230 1 0 1 84 1-37 1 8 1 106 1 17 1 14 1 37 1-53 1-163"/>
<path d="M0 826l1-12 1-3 1-13 1-14 1-21 1-5 1-22 1-4 1-16 1-22 1-54 1-116 1-153 1-51 1-56 1 10 1 120 1 70 1 129 1 205 1 32 1-29 1 80 1 29 1 12 1 56 1-1 1 61 1-39 1-167"/>
<path d="M0 817l1-12 1-4 1-16 1-20 1-17 1-2 1-22 1-12 1-10 1-36 1-44 1-128 1-130 1-20 1-62 1-1 1 71 1 81 1 122 1 264 1-19 1 74 1-12 1 5 1 23 1 10 1 41 1 18 1 42 1-197"/>
<path d="M0 818l1-9 1 2 1-22 1-14 1-17 1-6 1-22 1 11 1-27 1-23 1-45 1-138 1-137 1-20 1-50 1-16 1 67 1 101 1 112 1 147 1 108 1 2 1 16 1 9 1 83 1 74 1-2 1 37 1-93 1-57"/>
<path d="M0 823l1-21 1 7 1-17 1-11 1-10 1-10 1-22 1-6 1-23 1-32 1-47 1-129 1-143 1-51 1-50 1-6 1 65 1 116 1 139 1 84 1 149 1 18 1 58 1 17 1 51 1 15 1 16 1 44 1-52 1-154"/>
<path d="M0 806l1-11 1 3 1-13 1-24 1-11 1-21 1-12 1 7 1-20 1-29 1-58 1-129 1-124 1-61 1-36 1-12 1 74 1 102 1 107 1 243 1-18 1 67 1 10 1-53 1 153 1 87 1 17 1-28 1-21 1-257"/>
<path d="M0 821l1-6 1 0 1-24 1-6 1-21 1-16 1-23 1 1 1-24 1-23 1-52 1-121 1-128 1-44 1-47 1-11 1 56 1 87 1 154 1 199 1 81 1 14 1 0 1 33 1-36 1 127 1 6 1 36 1-91 1-153"/>
<path d="M0 820l1-16 1 4 1-18 1-12 1-22 1-17 1-13 1 3 1-18 1-21 1-40 1-141 1-145 1-49 1-22 1-22 1 73 1 89 1 151 1 173 1 53 1 57 1-11 1 35 1 36 1 34 1 7 1 32 1-50 1-96"/>
<path d="M0 821l1-7 1-3 1-18 1-10 1-20 1-11 1-24 1 7 1-29 1-26 1-58 1-130 1-131 1-55 1-43 1 38 1 37 1 80 1 112 1 161 1 143 1-18 1 72 1 15 1-31 1 82 1 61 1-53 1 4 1-188"/>
<path d="M0 815l1-9 1-4 1-16 1-9 1-21 1-10 1-15 1-7 1-8 1-38 1-46 1-146 1-117 1-42 1-44 1-1 1 51 1 111 1 141 1 202 1-38 1 37 1 63 1-49 1 119 1 76 1 23 1-2 1-61 1-172"/>
<path d="M0 823l1-7 1 8 1-13 1-7 1-17 1-10 1-20 1 4 1-34 1-22 1-43 1-126 1-124 1-61 1-33 1 22 1 89 1 52 1 171 1 164 1-29 1 35 1 16 1-45 1 142 1 126 1-62 1 27 1-25 1-95"/>
<path d="M0 837l1-13 1 3 1-28 1-13 1-14 1-11 1-14 1-2 1-16 1-28 1-47 1-144 1-143 1-36 1-26 1 19 1 53 1 127 1 134 1 98 1 100 1 33 1 45 1-28 1 8 1 121 1-33 1 40 1-57 1-146"/>
<path d="M0 823l1-11 1-2 1-14 1-16 1-9 1-14 1-19 1-13 1-12 1-30 1-48 1-129 1-116 1-56 1-36 1-10 1 66 1 98 1 142 1 131 1 83 1 45 1-27 1 111 1-15 1 69 1 24 1-22 1-11 1-105"/>
<path d="M0 813l1-18 1 7 1-16 1-9 1-14 1-4 1-21 1 1 1-25 1-26 1-51 1-137 1-136 1-49 1-38 1 6 1 76 1 89 1 136 1 119 1 47 1 7 1 44 1 101 1 9 1 86 1-5 1 7 1-13 1-175"/>
<path d="M0 829l1-10 1 4 1-27 1-12 1-10 1-8 1-25 1 1 1-15 1-31 1-41 1-130 1-133 1-78 1-39 1 14 1 76 1 113 1 166 1 152 1 40 1 0 1 77 1-66 1 150 1 16 1-21 1 67 1-121 1-18"/>
<path d="M0 845l1-22 1 11 1-18 1-14 1-15 1-8 1-23 1-4 1-28 1-20 1-50 1-134 1-116 1-27 1-54 1-15 1 97 1 101 1 161 1 102 1 33 1 46 1 52 1-36 1 63 1 39 1 51 1 9 1-80 1-147"/>
<path d="M0 825l1-16 1 5 1-17 1-9 1-25 1-13 1-4 1-7 1-20 1-22 1-43 1-135 1-127 1-50 1-25 1-53 1 115 1 97 1 157 1 82 1 56 1 67 1-21 1 56 1 61 1 43 1 39 1 8 1 40 1-316"/>
<path d="M0 838l1-16 1 3 1-23 1-6 1-12 1-19 1-21 1-3 1-24 1-25 1-43 1-142 1-123 1-58 1-5 1-13 1 120 1 43 1 137 1 206 1-27 1 41 1 40 1 21 1-33 1 164 1-22 1 69 1-127 1-86"/>
<path d="M0 813l1-9 1-4 1-15 1-18 1-8 1-15 1-18 1-15 1-20 1-32 1-40 1-136 1-120 1-40 1-48 1 2 1 55 1 73 1 121 1 174 1 92 1 87 1-28 1 18 1 4 1 126 1-48 1 55 1-84 1-87"/>
<path d="M0 850l1-17 1 1 1-15 1-21 1-12 1-14 1-12 1 2 1-18 1-24 1-43 1-130 1-129 1-64 1-26 1 19 1 81 1 117 1 159 1 65 1 70 1 33 1 43 1-49 1 55 1 88 1-20 1 26 1 22 1-134"/>
<path d="M0 818l1-12 1 3 1-22 1-15 1-7 1-19 1-16 1 4 1-16 1-26 1-52 1-134 1-122 1-62 1-62 1 37 1 25 1 132 1 147 1 139 1 59 1 44 1 39 1 4 1 13 1 95 1 2 1 51 1-99 1-164"/>
<path d="M0 832l1-19 1 5 1-20 1-23 1-15 1-16 1-18 1-11 1-19 1-27 1-39 1-122 1-124 1-50 1-12 1-9 1 31 1 117 1 142 1 134 1 31 1 45 1 81 1-32 1 39 1 98 1-56 1 32 1-63 1-51"/>
<path d="M0 854l1-19 1 6 1-26 1-11 1-15 1-13 1-11 1-4 1-16 1-23 1-42 1-136 1-130 1-50 1-50 1 12 1 58 1 154 1 140 1 99 1 23 1 58 1 56 1 13 1 16 1 104 1-98 1 89 1-63 1-89"/>
<path d="M0 835l1-17 1 1 1-27 1-10 1-12 1-7 1-11 1 3 1-28 1-27 1-52 1-122 1-127 1-57 1-80 1 42 1 61 1 108 1 123 1 63 1 100 1 61 1-1 1 72 1 18 1 132 1-48 1 30 1 37 1-199"/>
<path d="M0 829l1-20 1 3 1-16 1-7 1-17 1-10 1-3 1-11 1-21 1-31 1-54 1-124 1-127 1-39 1-79 1 53 1 69 1 72 1 104 1 131 1 71 1 32 1 65 1 17 1 76 1 31 1 10 1-9 1 4 1-232"/>
<path d="M0 820l1-10 1 4 1-17 1-16 1-18 1-6 1-15 1-8 1-24 1-31 1-47 1-122 1-138 1-59 1-16 1-14 1 53 1 127 1 135 1 115 1 62 1 63 1 58 1-2 1 24 1 64 1 1 1 23 1 12 1-219"/>
<path d="M0 825l1-18 1 2 1-14 1-22 1-13 1-12 1-11 1-2 1-23 1-26 1-40 1-135 1-139 1-59 1-14 1 2 1 58 1 111 1 139 1 134 1-1 1 105 1 18 1 49 1 25 1 35 1 0 1 48 1-13 1-174"/>
<path d="M0 828l1-19 1 1 1-17 1-24 1-14 1-6 1-16 1-3 1-18 1-24 1-48 1-133 1-140 1-24 1-29 1-5 1 68 1 104 1 124 1 40 1 97 1 112 1-27 1 10 1 86 1 40 1 48 1 9 1-66 1-158"/>
<path d="M0 823l1-3 1-6 1-22 1-6 1-27 1-5 1-7 1-1 1-28 1-28 1-48 1-124 1-125 1-36 1-47 1 39 1 45 1 87 1 124 1 98 1 149 1 24 1 20 1 0 1 88 1-2 1 32 1-14 1-14 1-140"/>
<path d="M0 836l1-9 1-2 1-20 1-17 1-18 1-13 1-20 1-5 1-14 1-25 1-48 1-117 1-139 1-66 1-73 1 42 1 41 1 114 1 165 1 181 1 19 1 37 1 44 1 11 1 27 1 36 1 31 1 29 1-41 1-136"/>
<path d="M0 815l1-6 1-6 1-19 1-11 1-8 1-16 1-27 1-2 1-21 1-23 1-55 1-129 1-139 1-68 1-8 1 7 1 44 1 132 1 144 1 190 1 59 1-58 1 15 1 49 1 61 1 70 1-5 1 36 1-77 1-113"/>
<path d="M0 821l1-8 1-3 1-16 1-14 1-8 1-18 1-22 1-1 1-21 1-27 1-43 1-121 1-124 1-59 1-61 1 11 1 67 1 99 1 146 1 128 1 136 1-35 1 95 1-57 1 8 1 103 1-25 1 40 1-26 1-153"/>
<path d="M0 831l1-16 1 5 1-18 1-6 1-11 1-16 1-5 1-7 1-34 1-22 1-53 1-134 1-140 1-40 1-37 1 7 1 53 1 117 1 144 1 164 1 21 1 58 1 38 1-61 1 133 1 86 1-25 1 35 1-80 1-56"/>
<path d="M0 827l1-18 1 3 1-19 1-19 1-14 1-23 1-6 1-1 1-20 1-21 1-56 1-127 1-126 1-62 1-32 1 13 1 34 1 125 1 147 1 82 1 90 1 82 1 33 1-64 1 101 1 47 1 18 1-12 1-8 1-173"/>
<path d="M0 819l1-3 1-8 1-13 1-17 1-15 1-11 1-18 1-5 1-10 1-27 1-44 1-131 1-148 1-56 1-26 1-12 1 92 1 115 1 130 1 155 1 10 1 102 1-30 1 73 1 1 1 50 1 34 1-31 1 40 1-168"/>
<path d="M0 828l1-11 1 2 1-16 1-10 1-21 1-8 1-15 1-6 1-19 1-30 1-43 1-121 1-137 1-38 1-28 1 14 1 81 1 83 1 145 1 120 1-3 1 90 1 91 1-73 1 107 1-6 1 16 1 25 1-44 1-115"/>
<path d="M0 829l1-15 1-6 1-13 1-12 1-16 1-9 1-13 1-8 1-11 1-28 1-49 1-118 1-113 1-48 1-57 1 19 1 62 1 94 1 144 1 130 1 32 1 94 1 19 1 41 1-47 1 98 1 31 1-30 1 2 1-141"/>
<path d="M0 836l1-20 1 0 1-15 1-11 1-11 1-9 1-19 1 2 1-26 1-16 1-43 1-132 1-117 1-50 1-57 1 38 1 64 1 101 1 144 1 84 1 73 1 19 1 25 1-6 1 134 1 16 1 6 1 6 1 33 1-170"/>
<path d="M0 821l1-6 1 1 1-13 1-6 1-18 1-5 1-19 1-7 1-17 1-27 1-39 1-121 1-130 1-58 1-60 1 4 1 79 1 123 1 125 1 114 1 82 1-10 1-6 1 65 1 48 1 64 1-9 1 129 1-116 1-144"/>
<path d="M0 839l1-19 1 7 1-22 1-8 1-19 1-13 1-15 1-9 1-27 1-17 1-41 1-129 1-130 1-34 1-39 1-1 1 50 1 128 1 132 1 134 1-4 1 100 1 14 1 52 1-2 1 83 1 9 1-30 1 33 1-135"/>
<path d="M0 838l1-15 1 9 1-19 1-14 1-15 1-3 1-18 1-4 1-13 1-22 1-41 1-126 1-134 1-68 1-15 1-48 1 115 1 96 1 154 1 156 1 80 1 33 1-7 1-12 1 28 1 70 1 22 1 54 1-78 1-128"/>
<path d="M0 828l1-24 1 3 1-17 1-20 1-13 1-15 1-3 1-10 1-9 1-28 1-52 1-122 1-131 1-48 1-70 1-6 1 128 1 69 1 141 1 154 1 88 1-36 1 45 1-14 1 44 1 34 1 100 1 65 1-92 1-163"/>
<path d="M0 822l1-17 1 9 1-25 1-9 1-8 1-20 1-16 1-9 1-7 1-34 1-52 1-116 1-140 1-47 1-38 1 3 1 85 1 81 1 117 1 221 1-11 1 6 1 63 1 35 1-7 1 107 1 19 1 22 1 5 1-244"/>
<path d="M0 827l1-4 1 3 1-17 1-12 1-23 1-9 1-25 1-5 1-14 1-21 1-56 1-125 1-124 1-34 1-78 1 13 1 95 1 113 1 113 1 145 1 36 1 56 1 35 1-21 1 30 1 58 1-34 1 120 1 22 1-286"/>
<path d="M0 833l1-10 1 4 1-16 1-16 1-14 1-12 1-13 1-7 1-14 1-20 1-45 1-118 1-142 1-48 1-45 1 29 1 93 1 120 1 121 1 153 1 38 1 50 1-9 1 25 1 17 1 9 1 43 1-20 1 51 1-254"/>
<path d="M0 834l1-17 1 5 1-18 1-19 1-17 1-3 1-18 1-3 1-14 1-20 1-45 1-130 1-128 1-36 1-61 1 21 1 82 1 92 1 131 1 124 1 51 1 17 1 16 1 49 1 36 1 14 1 85 1-24 1-36 1-156"/>
<path d="M0 809l1-17 1 13 1-17 1-16 1-14 1-6 1-22 1-7 1-20 1-35 1-52 1-129 1-126 1-35 1-63 1 9 1 34 1 137 1 106 1 166 1 66 1 86 1 25 1-68 1 123 1-23 1 39 1 19 1 30 1-248"/>
<path d="M0 839l1-19 1 2 1-17 1-16 1-9 1-15 1-14 1 3 1-25 1-19 1-42 1-131 1-133 1-70 1-38 1 18 1 90 1 88 1 145 1 127 1 13 1 30 1 15 1 80 1 20 1 79 1 9 1 48 1-81 1-150"/>
<path d="M0 819l1-14 1 1 1-15 1-15 1-15 1-14 1-16 1-8 1-24 1-28 1-42 1-123 1-132 1-37 1-40 1-3 1 74 1 122 1 116 1 188 1 7 1 18 1 40 1 12 1-8 1 112 1-34 1 108 1-26 1-112"/>
<path d="M0 827l1-12 1 2 1-17 1-16 1-13 1-18 1-11 1-17 1-18 1-25 1-45 1-129 1-127 1-57 1-36 1 21 1 42 1 94 1 140 1 264 1-39 1 13 1 72 1 9 1 36 1 57 1-23 1 23 1-30 1-156"/>
<path d="M0 818l1-9 1-1 1-17 1-19 1-10 1-17 1-17 1 1 1-19 1-31 1-44 1-124 1-128 1-40 1-33 1-35 1 75 1 104 1 141 1 101 1 85 1 49 1 44 1-33 1 96 1 94 1-42 1 3 1-22 1-165"/>
<path d="M0 834l1-17 1 4 1-23 1-14 1-6 1-12 1-23 1 5 1-28 1-33 1-47 1-120 1-124 1-55 1-40 1 43 1 64 1 100 1 114 1 103 1 74 1 45 1 41 1 13 1 108 1-24 1-29 1 49 1 26 1-200"/>
<path d="M0 825l1-20 1 6 1-10 1-16 1-23 1-8 1-15 1 1 1-18 1-35 1-35 1-123 1-132 1-43 1-45 1-17 1 78 1 102 1 132 1 155 1 11 1 111 1 18 1-19 1 17 1 158 1-63 1 99 1-105 1-187"/>
<path d="M0 832l1-15 1 7 1-23 1-13 1-14 1-10 1-18 1 0 1-21 1-32 1-43 1-132 1-126 1-50 1-46 1 12 1 67 1 94 1 139 1 145 1 59 1 12 1 72 1-12 1 92 1-35 1 27 1 46 1-14 1-106"/>
<path d="M0 834l1-18 1 6 1-20 1-10 1-14 1-12 1-15 1 4 1-36 1-27 1-43 1-138 1-128 1-56 1-22 1 27 1 49 1 128 1 139 1 97 1 82 1 41 1 25 1 27 1-5 1 102 1-46 1 50 1-36 1-138"/>
<path d="M0 821l1-17 1 5 1-14 1-17 1-17 1-13 1-15 1-1 1-23 1-32 1-55 1-138 1-147 1-38 1-49 1 33 1 52 1 107 1 138 1 139 1 39 1 85 1 72 1-48 1 105 1 7 1 20 1 37 1-69 1-223"/>
<path d="M0 839l1-12 1-2 1-15 1-19 1-15 1-19 1-14 1 5 1-17 1-27 1-45 1-142 1-126 1-47 1-55 1 41 1 66 1 106 1 116 1 63 1 128 1 60 1 2 1-36 1 110 1 41 1 17 1-55 1 68 1-222"/>
<path d="M0 825l1-19 1 11 1-20 1-18 1-14 1-18 1-15 1-2 1-17 1-29 1-48 1-113 1-133 1-35 1-31 1-5 1 75 1 121 1 103 1 72 1 93 1 63 1-16 1 3 1 77 1 77 1-2 1 63 1-42 1-163"/>
<path d="M0 807l1-15 1 1 1-12 1-14 1-21 1-7 1-10 1-8 1-21 1-28 1-52 1-137 1-144 1-25 1-34 1 2 1 69 1 71 1 125 1 203 1 37 1 22 1 80 1 6 1-35 1 183 1-90 1 34 1 28 1-210"/>
<path d="M0 810l1-10 1 5 1-21 1-12 1-11 1-19 1-21 1 7 1-27 1-28 1-48 1-133 1-128 1-35 1-22 1-17 1 45 1 97 1 120 1 190 1 19 1 36 1 25 1 66 1 51 1 44 1 1 1-6 1 12 1-207"/>
<path d="M0 832l1-13 1 8 1-17 1-13 1-18 1-21 1-11 1-3 1-27 1-21 1-47 1-117 1-145 1-49 1-35 1 16 1 116 1 60 1 152 1 67 1 97 1 22 1 0 1 51 1 64 1 125 1-66 1-21 1-43 1-79"/>
<path d="M0 823l1-12 1-5 1-16 1-11 1-13 1-10 1-27 1 8 1-29 1-36 1-32 1-125 1-126 1-49 1-16 1-25 1 100 1 48 1 163 1 195 1 20 1 31 1-18 1 33 1 46 1 95 1-42 1 63 1-5 1-240"/>
<path d="M0 818l1-18 1 5 1-11 1-15 1-15 1-18 1-19 1 3 1-25 1-30 1-45 1-128 1-124 1-30 1-49 1 2 1 68 1 73 1 130 1 118 1 114 1 43 1-29 1 28 1 98 1 55 1-27 1 24 1-14 1-158"/>
<path d="M0 839l1-2 1-6 1-20 1-12 1 2 1-21 1-13 1-3 1-26 1-18 1-55 1-110 1-134 1-57 1-43 1-21 1 103 1 100 1 175 1 48 1 74 1 46 1-25 1 33 1 65 1 85 1-29 1 63 1-64 1-175"/>
<path d="M0 813l1-19 1 6 1-7 1-21 1-25 1-11 1-18 1-12 1-10 1-31 1-39 1-142 1-128 1-46 1-32 1 2 1 42 1 80 1 131 1 226 1 13 1 34 1 27 1-1 1 99 1 55 1-12 1-1 1 36 1-210"/>
<path d="M0 814l1-8 1 4 1-15 1-20 1-13 1-21 1-1 1-9 1-24 1-30 1-49 1-115 1-133 1-66 1-23 1-6 1 34 1 154 1 141 1 134 1 88 1 37 1-36 1 84 1 37 1 23 1 42 1-54 1-17 1-148"/>
<path d="M0 827l1-15 1 5 1-20 1-11 1-14 1-10 1-13 1-11 1-15 1-22 1-45 1-129 1-130 1-48 1-70 1 30 1 51 1 105 1 123 1 195 1 46 1-12 1-1 1 126 1-21 1 33 1 29 1-1 1 13 1-71"/>
<path d="M0 822l1-10 1 2 1-21 1-15 1-19 1-13 1-10 1 0 1-18 1-22 1-33 1-141 1-126 1-58 1-46 1 20 1 55 1 90 1 153 1 126 1 63 1 25 1-14 1 69 1 73 1 19 1-9 1 59 1-10 1-189"/>
<path d="M0 846l1-22 1 4 1-13 1-10 1-16 1-15 1-12 1 9 1-24 1-26 1-53 1-118 1-123 1-84 1-21 1-21 1 108 1 85 1 168 1 151 1 16 1 11 1 7 1 94 1-16 1 12 1 113 1-14 1-123 1-17"/>
<path d="M0 829l1-20 1 3 1-15 1-22 1-6 1-15 1-21 1-1 1-16 1-25 1-41 1-131 1-126 1-53 1-53 1-4 1 40 1 139 1 118 1 167 1 91 1 5 1 36 1-10 1 59 1 91 1-56 1 36 1-39 1-144"/>
<path d="M0 805l1-12 1 4 1-16 1-11 1-21 1-20 1-11 1-3 1-18 1-14 1-51 1-132 1-143 1-22 1-67 1-2 1 87 1 64 1 129 1 146 1 72 1 72 1-27 1 48 1-4 1 114 1 3 1 65 1-30 1-205"/>
<path d="M0 833l1-15 1-5 1-20 1-10 1-21 1-11 1-9 1 2 1-31 1-12 1-53 1-122 1-117 1-56 1-40 1 23 1 84 1 101 1 114 1 36 1 112 1 80 1 16 1 19 1-18 1 61 1 62 1 1 1 30 1-202"/>
<path d="M0 817l1-17 1 8 1-27 1-13 1-11 1-10 1-20 1-8 1-17 1-32 1-40 1-123 1-141 1-56 1-56 1-2 1 77 1 98 1 113 1 241 1-21 1 75 1-1 1 74 1 55 1 18 1 8 1-12 1 35 1-193"/>
<path d="M0 819l1-18 1 2 1-20 1-18 1-7 1-13 1-14 1-3 1-21 1-24 1-39 1-126 1-137 1-69 1-25 1 4 1 76 1 83 1 138 1 190 1 54 1-33 1-11 1 31 1 142 1 40 1 0 1 15 1-31 1-201"/>
<path d="M0 839l1-15 1 2 1-17 1-17 1-11 1-11 1-16 1 3 1-21 1-23 1-45 1-127 1-124 1-59 1-51 1 56 1 38 1 121 1 120 1 129 1 6 1 86 1-20 1-24 1 136 1 3 1 21 1 51 1-19 1-150"/>
<path d="M0 826l1-20 1 5 1-18 1-17 1-15 1-9 1-18 1-5 1-13 1-34 1-55 1-118 1-152 1-49 1-50 1 20 1 94 1 88 1 135 1 83 1 110 1 105 1-23 1 106 1-44 1 105 1-19 1 25 1-69 1-168"/>
<path d="M0 842l1-9 1-2 1-16 1-13 1-21 1-9 1-16 1-9 1-24 1-21 1-41 1-102 1-124 1-67 1-31 1-24 1 102 1 117 1 137 1 67 1 117 1 52 1 11 1-73 1 99 1 52 1 88 1-52 1 2 1-177"/>
<path d="M0 844l1-10 1-1 1-21 1-12 1-15 1-7 1-15 1-11 1-19 1-23 1-50 1-114 1-127 1-57 1-83 1 49 1 87 1 120 1 166 1 50 1 69 1 109 1-8 1-29 1 45 1 83 1-15 1 24 1-24 1-144"/>
<path d="M0 831l1-16 1-2 1-18 1-17 1-16 1-13 1-7 1-3 1-22 1-28 1-54 1-130 1-124 1-64 1-44 1 4 1 77 1 121 1 127 1 169 1-2 1 67 1 2 1 23 1 72 1 1 1 36 1-28 1 13 1-54"/>
<path d="M0 831l1-17 1 2 1-20 1-20 1-14 1-13 1-21 1 3 1-15 1-32 1-48 1-128 1-132 1-26 1-30 1-22 1 60 1 107 1 138 1 160 1 56 1-1 1 113 1 9 1 41 1 8 1 29 1-39 1 5 1-119"/>
<path d="M0 823l1-11 1-4 1-15 1-12 1-12 1-4 1-23 1 7 1-18 1-43 1-28 1-139 1-124 1-62 1-58 1 8 1 56 1 130 1 141 1 44 1 94 1 94 1-12 1 52 1 20 1 94 1 10 1-20 1-24 1-138"/>
<path d="M0 823l1-9 1-3 1-25 1-14 1-9 1-10 1-14 1 7 1-30 1-19 1-45 1-125 1-127 1-64 1-45 1 5 1 86 1 94 1 130 1 147 1 55 1 8 1 100 1 16 1-6 1 32 1 62 1-33 1 13 1-131"/>
<path d="M0 840l1-18 1 7 1-19 1-15 1-10 1-14 1-13 1-4 1-18 1-35 1-39 1-119 1-127 1-70 1-28 1 16 1 78 1 97 1 132 1 110 1-12 1 149 1 22 1-23 1 77 1 81 1-2 1 25 1-99 1-89"/>
<path d="M0 817l1-14 1 8 1-22 1-14 1-13 1-14 1-19 1 5 1-23 1-32 1-49 1-139 1-120 1-31 1-30 1-5 1 64 1 95 1 138 1 179 1 44 1 78 1-27 1 31 1-27 1 104 1-22 1 53 1 2 1-228"/>
<path d="M0 829l1-16 1 4 1-20 1-21 1-3 1-8 1-20 1-7 1-18 1-20 1-65 1-111 1-138 1-40 1-54 1 23 1 44 1 117 1 119 1 112 1 158 1-77 1 107 1 51 1 4 1 50 1-20 1 17 1 6 1-196"/>
<path d="M0 822l1-13 1 7 1-18 1-8 1-20 1-13 1-21 1 3 1-30 1-24 1-43 1-122 1-120 1-73 1-13 1-22 1 100 1 104 1 118 1 138 1 77 1-25 1 77 1-48 1 165 1-23 1-9 1-8 1 26 1-171"/>
<path d="M0 832l1-18 1 4 1-21 1-21 1-15 1-17 1-12 1-7 1-16 1-30 1-39 1-136 1-122 1-60 1-7 1-27 1 42 1 132 1 114 1 208 1-89 1 132 1 74 1-1 1 28 1 19 1 50 1 35 1-41 1-222"/>
<path d="M0 830l1-13 1-5 1-16 1-9 1-17 1-9 1-9 1-16 1-12 1-30 1-53 1-135 1-127 1-76 1-40 1 14 1 43 1 150 1 147 1 171 1-62 1 107 1 74 1-35 1 92 1 24 1-16 1 18 1-30 1-176"/>
<path d="M0 830l1-10 1 3 1-27 1-10 1-10 1-14 1-19 1 4 1-19 1-32 1-47 1-135 1-131 1-53 1-22 1-15 1 51 1 110 1 179 1 142 1 33 1 37 1 8 1-31 1 98 1 49 1 32 1 54 1-37 1-235"/>
<path d="M0 813l1-15 1 4 1-14 1-17 1-22 1-15 1-9 1-10 1-17 1-23 1-56 1-124 1-153 1-41 1-4 1-13 1 32 1 94 1 139 1 170 1 10 1 86 1 57 1-11 1 1 1 154 1-45 1 55 1-18 1-222"/>
<path d="M0 822l1-5 1 2 1-15 1-17 1-19 1-16 1-18 1-10 1-20 1-27 1-42 1-129 1-114 1-47 1-20 1 1 1 9 1 110 1 133 1 73 1 148 1 76 1-10 1-28 1 13 1 126 1 22 1-20 1-20 1-118"/>
<path d="M0 833l1-14 1 4 1-23 1-13 1-11 1-15 1-17 1-3 1-26 1-31 1-45 1-115 1-121 1-56 1-65 1 23 1 40 1 144 1 107 1 134 1 117 1 15 1-19 1 34 1 3 1 94 1 40 1-26 1-7 1-163"/>
<path d="M0 816l1-17 1 11 1-30 1-16 1-13 1-8 1-14 1-9 1-10 1-26 1-51 1-119 1-137 1-64 1-30 1 13 1 31 1 123 1 122 1 132 1 116 1-37 1 43 1 84 1 6 1 78 1 39 1-15 1-55 1-167"/>
<path d="M0 834l1-15 1 4 1-24 1-9 1-25 1-5 1-13 1-10 1-22 1-15 1-60 1-127 1-126 1-50 1-72 1 43 1 73 1 102 1 123 1 176 1 64 1 26 1-25 1 52 1 50 1 21 1 11 1 24 1-39 1-153"/>
<path d="M0 829l1-13 1 8 1-19 1-13 1-17 1-3 1-21 1 0 1-30 1-13 1-51 1-134 1-104 1-65 1-40 1-6 1 79 1 87 1 136 1 154 1 19 1 42 1 5 1 56 1 23 1 83 1-5 1 9 1-27 1-155"/>
<path d="M0 828l1-13 1 6 1-16 1-14 1-14 1-14 1-13 1-9 1-23 1-23 1-47 1-128 1-141 1-36 1-56 1 23 1 77 1 102 1 118 1 164 1 46 1 68 1-50 1 76 1-9 1 110 1 24 1-68 1 63 1-125"/>
<path d="M0 827l1-16 1 8 1-16 1-15 1-11 1-15 1-18 1 1 1-20 1-29 1-40 1-140 1-130 1-78 1-19 1-4 1 54 1 92 1 133 1 166 1 114 1-44 1 49 1 84 1 13 1 22 1 37 1 5 1 41 1-294"/>
<path d="M0 815l1-7 1 5 1-22 1-17 1-12 1-15 1-25 1 6 1-22 1-22 1-56 1-121 1-129 1-59 1-36 1 28 1 44 1 102 1 102 1 162 1 161 1-36 1-11 1-33 1 176 1 21 1-8 1 13 1-29 1-194"/>
<path d="M0 824l1-19 1 1 1-14 1-24 1-15 1-14 1-21 1 2 1-21 1-33 1-39 1-130 1-129 1-54 1-36 1-2 1 55 1 101 1 139 1 152 1 53 1 20 1 65 1 81 1-93 1 65 1 1 1 112 1-5 1-195"/>
<path d="M0 836l1-8 1 3 1-17 1-14 1-17 1-13 1-23 1 4 1-29 1-18 1-49 1-124 1-129 1-55 1-29 1 51 1 15 1 91 1 147 1 127 1 127 1-9 1-12 1 56 1 65 1 14 1 53 1-47 1-11 1-144"/>
<path d="M0 823l1-22 1 4 1-19 1-15 1-13 1-17 1-17 1 3 1-29 1-26 1-52 1-133 1-131 1-38 1-21 1-11 1 38 1 110 1 95 1 190 1 94 1-33 1 88 1 18 1 75 1 94 1-42 1-56 1 23 1-128"/>
<path d="M0 826l1-14 1 4 1-12 1-14 1-20 1-6 1-20 1-2 1-19 1-28 1-42 1-134 1-120 1-67 1-39 1 6 1 76 1 117 1 166 1 109 1 23 1 4 1 81 1-29 1 82 1 88 1 48 1-42 1-65 1-124"/>
<path d="M0 823l1-5 1 8 1-21 1-17 1-17 1-18 1-11 1-2 1-18 1-25 1-46 1-124 1-138 1-34 1-65 1 29 1 52 1 109 1 137 1 184 1 23 1 98 1-102 1 41 1 80 1 45 1 81 1-25 1-92 1-119"/>
<path d="M0 844l1-12 1-3 1-11 1-16 1-9 1-12 1-17 1 1 1-24 1-18 1-37 1-140 1-123 1-56 1-47 1 29 1 70 1 95 1 146 1 81 1 91 1 30 1-5 1 19 1 86 1 58 1-9 1-10 1-17 1-147"/>
<path d="M0 825l1-17 1-6 1-11 1-14 1-19 1-17 1-13 1-15 1-10 1-25 1-49 1-124 1-156 1-32 1-32 1 8 1 16 1 103 1 145 1 191 1 116 1 0 1 52 1-45 1 59 1 0 1 17 1 24 1-4 1-132"/>
<path d="M0 821l1-21 1-2 1-15 1-9 1-17 1-12 1-13 1-10 1-23 1-26 1-52 1-132 1-114 1-53 1-30 1-14 1 60 1 120 1 126 1 162 1 70 1 88 1-84 1 57 1 57 1 43 1 11 1-22 1 3 1-129"/>
<path d="M0 827l1-15 1 3 1-14 1-18 1-9 1-6 1-22 1-3 1-23 1-29 1-47 1-127 1-136 1-38 1-57 1 22 1 87 1 95 1 130 1 129 1 71 1-11 1 70 1 49 1 4 1 76 1-40 1 75 1-71 1-58"/>
<path d="M0 829l1-14 1-6 1-15 1-12 1-15 1-12 1-3 1-6 1-22 1-27 1-55 1-127 1-132 1-54 1-55 1 2 1 65 1 119 1 152 1 176 1 1 1 40 1 35 1 25 1 95 1 36 1-38 1-21 1-11 1-148"/>
<path d="M0 815l1-19 1 9 1-19 1-7 1-20 1-19 1-16 1-2 1-17 1-25 1-61 1-128 1-127 1-44 1-49 1 19 1 30 1 140 1 105 1 157 1 13 1 111 1-28 1 11 1 52 1 63 1 78 1 4 1-55 1-175"/>
<path d="M0 823l1-12 1 3 1-14 1-20 1-14 1-14 1-17 1 1 1-17 1-17 1-49 1-141 1-119 1-49 1-26 1-23 1 86 1 90 1 142 1 144 1 46 1 33 1 106 1-114 1 96 1 70 1-13 1 16 1 9 1-104"/>
<path d="M0 846l1-3 1-5 1-14 1-8 1-13 1-11 1-22 1 3 1-26 1-24 1-43 1-138 1-114 1-56 1-5 1-26 1 65 1 124 1 154 1 46 1 96 1 6 1 82 1-49 1 17 1 123 1-44 1 92 1 0 1-209"/>
<path d="M0 835l1-8 1-3 1-21 1-12 1-16 1-18 1-6 1-8 1-21 1-33 1-40 1-131 1-139 1-20 1-61 1 18 1 31 1 85 1 132 1 146 1 94 1 43 1 29 1-21 1 45 1 107 1-3 1 62 1-58 1-137"/>
<path d="M0 828l1-16 1 4 1-21 1-22 1-12 1-11 1-17 1-15 1-13 1-30 1-32 1-138 1-121 1-72 1 20 1-62 1 76 1 113 1 132 1 127 1 55 1 56 1 54 1-11 1 147 1 28 1-41 1 4 1-45 1-105"/>
<path d="M0 831l1-13 1 4 1-26 1-13 1-15 1-16 1-17 1-11 1-10 1-32 1-44 1-124 1-140 1-57 1-23 1 5 1 59 1 111 1 120 1 154 1 7 1 79 1 61 1-58 1 81 1 74 1 1 1-44 1 20 1-118"/>
<path d="M0 827l1-19 1 12 1-17 1-16 1-21 1-9 1-16 1-4 1-20 1-35 1-55 1-123 1-114 1-66 1-22 1 6 1 45 1 128 1 134 1 156 1 43 1 35 1-13 1 63 1 14 1 101 1-73 1 117 1-9 1-219"/>
<path d="M0 820l1-20 1 4 1-19 1-13 1-9 1-14 1-17 1-10 1-16 1-27 1-40 1-131 1-140 1-36 1-35 1-11 1 50 1 85 1 139 1 186 1-22 1 91 1-53 1 131 1 85 1-16 1 6 1 89 1-102 1-98"/>
<path d="M0 827l1-17 1 9 1-17 1-10 1-18 1-17 1-9 1-7 1-18 1-36 1-33 1-136 1-122 1-45 1-45 1 1 1 50 1 120 1 143 1 99 1 32 1 120 1-71 1 68 1 76 1 41 1-6 1 1 1 34 1-144"/>
<path d="M0 804l1-10 1 8 1-21 1-21 1-19 1-20 1-16 1-6 1-14 1-30 1-41 1-129 1-139 1-40 1-56 1 19 1 34 1 97 1 112 1 218 1-26 1 99 1 12 1 26 1 103 1 25 1-1 1 57 1-111 1-111"/>
<path d="M0 825l1-16 1 9 1-17 1-17 1-13 1-14 1-10 1-13 1-20 1-37 1-35 1-136 1-118 1-64 1-36 1 11 1 40 1 130 1 127 1 131 1 144 1-27 1 58 1 24 1 43 1 97 1-31 1 24 1-42 1-145"/>
<path d="M0 836l1-17 1 8 1-23 1-14 1-14 1-12 1-16 1-2 1-11 1-21 1-39 1-125 1-136 1-77 1-38 1 45 1 39 1 123 1 143 1 192 1 10 1 17 1 16 1 52 1 47 1-25 1 29 1 10 1-18 1-142"/>
<path d="M0 835l1-9 1 2 1-22 1-22 1-21 1-10 1-22 1-1 1-18 1-27 1-50 1-131 1-129 1-39 1-56 1 14 1 35 1 141 1 119 1 167 1 13 1 83 1 9 1 48 1 24 1 53 1-8 1 66 1-48 1-171"/>
<path d="M0 842l1-10 1-1 1-19 1-17 1-3 1-16 1-8 1-1 1-22 1-21 1-51 1-135 1-128 1-46 1-43 1 0 1 106 1 85 1 137 1 62 1 118 1 6 1-14 1 96 1 39 1 54 1-22 1 53 1-47 1-182"/>
<path d="M0 822l1-19 1 9 1-22 1-10 1-17 1-11 1-12 1 10 1-30 1-30 1-44 1-125 1-126 1-71 1-19 1 16 1 38 1 144 1 107 1 148 1 133 1-44 1 10 1 52 1 16 1 66 1-31 1 27 1-64 1-80"/>
<path d="M0 835l1-11 1 2 1-25 1-17 1-10 1-11 1-10 1-9 1-23 1-22 1-48 1-135 1-127 1-56 1-38 1 18 1 69 1 100 1 167 1 170 1 29 1-36 1 52 1 35 1 64 1 25 1 39 1 9 1-32 1-130"/>
<path d="M0 831l1-14 1 0 1-14 1-13 1-15 1-3 1-22 1 2 1-22 1-28 1-35 1-133 1-131 1-59 1-39 1 7 1 77 1 114 1 124 1 131 1 22 1 104 1-50 1 91 1-15 1 120 1 41 1-24 1-42 1-129"/>
<path d="M0 825l1-18 1-3 1-20 1-11 1-14 1-10 1-16 1-5 1-18 1-26 1-53 1-131 1-124 1-48 1-65 1 56 1 31 1 117 1 144 1 118 1 143 1-35 1-41 1 66 1 95 1 14 1 12 1 63 1-42 1-201"/>
<path d="M0 818l1-14 1 1 1-12 1-15 1-12 1-13 1-17 1-1 1-20 1-29 1-53 1-125 1-121 1-39 1-37 1-2 1 71 1 90 1 158 1 142 1 33 1 57 1-82 1 150 1-26 1 131 1-76 1 65 1-68 1-185"/>
<path d="M0 831l1-8 1-4 1-20 1-17 1-4 1-21 1-19 1 2 1-18 1-18 1-38 1-128 1-132 1-38 1-36 1-10 1 59 1 121 1 132 1 174 1 40 1-14 1 58 1 8 1 82 1 59 1-73 1 67 1-45 1-128"/>
<path d="M0 832l1-3 1-9 1-16 1-23 1-18 1-10 1-21 1 3 1-20 1-26 1-38 1-117 1-143 1-64 1-53 1 47 1 77 1 108 1 120 1 144 1-10 1 25 1 150 1-42 1 66 1 18 1 57 1-15 1-20 1-155"/>
<path d="M0 818l1-14 1 9 1-11 1-20 1-20 1-8 1-19 1-5 1-18 1-22 1-53 1-122 1-141 1-55 1-50 1 12 1 78 1 110 1 119 1 183 1 8 1 42 1 29 1-15 1 119 1 24 1-50 1 101 1-66 1-62"/>
<path d="M0 811l1-14 1 5 1-20 1-12 1-23 1-13 1-14 1-3 1-14 1-31 1-57 1-141 1-145 1-33 1-15 1-27 1 66 1 104 1 116 1 186 1 97 1 51 1-16 1-38 1 107 1 67 1 23 1-37 1-26 1-119"/>
<path d="M0 830l1-19 1 7 1-18 1-22 1-12 1-8 1-13 1-6 1-16 1-24 1-51 1-128 1-142 1-43 1-38 1-5 1 104 1 118 1 120 1 75 1 64 1 58 1 12 1 1 1 59 1 83 1-74 1 110 1-77 1-165"/>
<path d="M0 837l1-11 1-10 1-18 1-12 1-21 1-1 1-13 1-3 1-21 1-26 1-53 1-130 1-115 1-64 1-48 1 10 1 74 1 109 1 130 1 125 1 84 1 4 1 47 1 48 1 64 1-15 1-13 1 109 1-42 1-149"/>
<path d="M0 823l1-22 1 4 1-19 1-14 1-13 1-10 1-18 1-5 1-20 1-18 1-45 1-136 1-135 1-45 1-13 1-30 1 79 1 89 1 156 1 102 1 62 1 39 1 43 1 14 1 28 1 144 1-57 1 72 1-130 1-61"/>
<path d="M0 833l1-9 1-7 1-10 1-21 1-11 1-3 1-17 1-1 1-25 1-18 1-43 1-131 1-139 1-44 1-30 1 11 1 90 1 110 1 132 1 93 1 72 1 76 1 29 1-35 1 44 1 72 1-7 1 3 1-56 1-81"/>
<path d="M0 826l1-18 1 4 1-15 1-16 1-9 1-19 1-5 1 1 1-19 1-26 1-50 1-138 1-133 1-41 1-66 1-12 1 48 1 151 1 139 1 143 1 37 1 90 1 25 1-35 1 107 1-32 1 26 1-16 1 33 1-100"/>
<path d="M0 819l1-9 1 6 1-12 1-17 1-15 1-16 1-13 1-6 1-26 1-28 1-57 1-122 1-135 1-52 1-68 1 62 1 52 1 95 1 133 1 206 1 9 1-14 1 22 1 88 1-6 1 96 1-16 1 33 1 40 1-181"/>
<path d="M0 818l1-6 1 1 1-16 1-16 1-12 1-13 1-12 1-6 1-26 1-25 1-37 1-142 1-127 1-55 1-10 1-6 1 40 1 126 1 138 1 94 1 27 1 138 1-26 1 28 1 65 1 71 1-30 1 79 1-81 1-190"/>
<path d="M0 823l1-14 1 9 1-14 1-20 1-5 1-21 1-17 1-4 1-19 1-28 1-46 1-129 1-121 1-41 1-46 1 13 1 50 1 103 1 131 1 174 1-22 1 65 1-10 1 33 1 138 1-26 1 43 1 46 1-89 1-98"/>
<path d="M0 835l1-15 1 0 1-11 1-19 1-15 1-14 1-8 1-1 1-25 1-22 1-42 1-145 1-132 1-51 1-55 1 39 1 93 1 91 1 139 1 144 1 54 1-20 1 95 1-49 1 87 1 41 1 41 1-5 1-33 1-133"/>
<path d="M0 832l1-8 1-4 1-22 1-17 1-6 1-15 1-19 1-6 1-13 1-29 1-47 1-125 1-126 1-91 1 15 1-42 1 69 1 110 1 125 1 148 1-7 1 88 1 19 1 45 1 13 1 69 1 66 1 33 1-78 1-145"/>
<path d="M0 811l1-14 1 6 1-11 1-14 1-19 1-10 1-18 1-1 1-20 1-31 1-58 1-146 1-111 1-51 1-9 1-39 1 108 1 93 1 122 1 183 1 24 1-6 1 111 1-6 1 24 1 101 1-33 1 27 1-8 1-166"/>
<path d="M0 809l1-14 1-5 1-19 1-16 1-5 1-18 1-6 1-5 1-17 1-34 1-56 1-122 1-132 1-68 1-17 1-16 1 58 1 90 1 111 1 216 1 66 1 37 1 75 1-94 1 113 1 24 1 55 1-45 1-18 1-119"/>
<path d="M0 815l1-12 1 7 1-18 1-13 1-14 1-11 1-21 1-9 1-6 1-31 1-48 1-134 1-134 1-55 1-27 1 6 1 61 1 100 1 132 1 213 1-21 1 50 1 63 1-54 1 41 1 66 1 36 1 64 1-57 1-141"/>
<path d="M0 825l1-12 1-1 1-17 1-15 1-8 1-11 1-10 1-12 1-21 1-25 1-43 1-135 1-123 1-42 1-37 1 2 1 77 1 68 1 163 1 180 1-48 1 112 1 38 1-49 1 45 1 81 1 26 1 23 1-45 1-222"/>
<path d="M0 823l1-10 1 4 1-18 1-20 1-15 1-9 1-13 1-3 1-17 1-22 1-54 1-127 1-130 1-64 1-7 1-60 1 88 1 118 1 132 1 145 1 84 1-12 1 24 1 53 1-2 1 165 1-103 1 84 1-47 1-75"/>
<path d="M0 837l1-14 1-1 1-24 1-18 1-16 1-2 1-23 1-7 1-19 1-31 1-56 1-113 1-129 1-44 1-25 1 26 1 36 1 96 1 147 1 172 1-10 1 11 1 103 1-11 1 59 1 81 1-49 1 45 1-11 1-173"/>
<path d="M0 802l1-14 1 2 1-15 1-14 1-12 1-13 1-16 1-3 1-26 1-26 1-60 1-137 1-125 1-65 1-27 1 37 1 37 1 120 1 91 1 178 1 34 1 43 1 80 1-72 1 98 1 31 1 17 1 119 1-110 1-142"/>
<path d="M0 844l1-24 1 6 1-19 1-14 1-20 1-8 1-18 1 6 1-13 1-23 1-36 1-132 1-122 1-57 1-55 1 1 1 75 1 85 1 142 1 104 1 106 1 4 1 52 1 5 1 47 1 97 1-16 1 39 1-17 1-189"/>
<path d="M0 824l1-8 1 1 1-24 1-8 1-14 1-11 1-17 1-5 1-25 1-19 1-55 1-135 1-121 1-41 1-45 1 8 1 91 1 109 1 117 1 97 1 93 1-2 1 61 1-41 1 122 1 17 1 37 1 103 1-167 1-152"/>
<path d="M0 847l1-18 1 4 1-20 1-21 1-1 1-11 1-20 1-3 1-24 1-29 1-31 1-125 1-132 1-60 1-46 1-28 1 90 1 126 1 105 1 146 1-18 1 105 1 70 1-88 1 119 1 63 1-8 1 20 1-40 1-55"/>
<path d="M0 828l1-9 1-9 1-13 1-17 1-18 1-11 1-17 1 5 1-21 1-22 1-52 1-125 1-123 1-57 1-36 1 14 1 54 1 90 1 142 1 82 1 90 1 25 1 72 1 37 1 56 1 25 1 26 1-13 1 54 1-258"/>
<path d="M0 832l1-19 1 7 1-15 1-23 1-12 1-15 1-14 1-5 1-20 1-24 1-51 1-134 1-128 1-38 1-23 1-16 1 101 1 93 1 117 1 113 1 51 1 63 1 47 1-11 1 75 1 3 1 55 1 31 1-35 1-143"/>
<path d="M0 819l1-12 1 1 1-18 1-14 1-20 1-15 1-20 1 6 1-25 1-28 1-47 1-140 1-131 1-46 1-20 1-27 1 100 1 65 1 142 1 166 1 34 1 58 1 36 1-70 1 136 1 73 1-22 1 1 1-17 1-152"/>
<path d="M0 833l1-20 1-4 1-19 1-17 1-12 1-14 1-14 1-4 1-21 1-31 1-49 1-125 1-124 1-57 1-49 1 1 1 103 1 77 1 119 1 232 1-29 1 44 1 7 1 76 1 32 1 73 1-19 1 5 1-83 1-105"/>
<path d="M0 823l1-13 1-3 1-14 1-21 1-8 1-7 1-18 1 0 1-19 1-26 1-53 1-124 1-138 1-62 1-40 1 20 1 76 1 96 1 100 1 183 1 37 1 0 1 58 1 47 1 49 1 64 1-15 1 30 1-27 1-100"/>
<path d="M0 831l1-13 1 1 1-20 1-16 1-12 1-9 1-27 1-5 1-22 1-20 1-46 1-126 1-133 1-51 1-54 1 5 1 72 1 125 1 131 1 122 1 33 1 106 1-41 1-9 1 130 1 54 1-19 1 2 1 1 1-187"/>
<path d="M0 822l1-11 1 5 1-18 1-13 1-13 1-12 1-26 1 5 1-20 1-22 1-47 1-144 1-121 1-52 1-48 1-2 1 114 1 90 1 154 1 77 1 58 1 21 1 90 1 22 1-29 1 163 1-63 1 107 1-69 1-190"/>
<path d="M0 808l1-23 1 15 1-20 1-17 1-15 1-9 1-17 1-3 1-30 1-25 1-54 1-125 1-120 1-80 1-9 1 29 1 32 1 108 1 142 1 130 1 68 1 6 1 50 1 46 1 32 1 72 1 18 1 28 1-131 1-141"/>
<path d="M0 829l1-21 1 7 1-21 1-8 1-18 1-14 1-14 1-3 1-21 1-20 1-52 1-111 1-121 1-57 1-29 1 24 1 39 1 88 1 123 1 153 1 43 1 65 1-11 1 14 1 47 1 126 1-79 1 75 1-71 1-124"/>
<path d="M0 835l1-12 1 6 1-23 1-19 1-8 1-15 1-15 1-3 1-26 1-34 1-40 1-125 1-141 1-51 1-44 1 28 1 57 1 131 1 150 1 73 1 99 1 53 1-19 1 30 1 106 1-29 1 84 1 6 1-87 1-84"/>
<path d="M0 835l1-12 1-7 1-12 1-19 1-4 1-5 1-27 1 0 1-34 1-31 1-38 1-132 1-137 1-36 1-25 1-9 1 78 1 90 1 163 1 133 1-16 1 27 1 68 1 52 1 60 1-14 1 52 1-11 1-55 1-82"/>
<path d="M0 827l1-9 1 3 1-25 1-10 1-16 1-10 1-18 1-4 1-16 1-24 1-49 1-133 1-131 1-48 1-36 1-5 1 82 1 102 1 122 1 135 1 55 1 34 1-3 1 22 1 110 1 50 1-37 1 6 1 9 1-229"/>
<path d="M0 837l1-12 1 1 1-30 1-12 1-13 1-10 1-11 1-9 1-24 1-14 1-49 1-125 1-148 1-40 1-31 1-2 1 101 1 87 1 117 1 148 1 45 1 82 1-28 1 42 1 5 1 103 1-20 1 35 1-14 1-184"/>
<path d="M0 842l1-11 1-5 1-19 1-17 1-17 1-1 1-15 1-5 1-17 1-23 1-45 1-129 1-125 1-49 1-36 1 18 1 60 1 108 1 155 1 52 1 89 1 24 1 20 1 66 1 30 1 77 1-43 1 72 1-73 1-103"/>
<path d="M0 820l1-13 1 3 1-21 1-15 1-17 1-11 1-19 1-2 1-18 1-20 1-57 1-129 1-142 1-43 1-34 1-11 1 43 1 146 1 127 1 151 1 3 1 47 1 53 1 15 1 48 1 117 1-85 1 108 1-59 1-174"/>
<path d="M0 835l1-20 1 7 1-18 1-17 1-8 1-15 1-17 1 2 1-26 1-18 1-47 1-130 1-125 1-55 1-25 1-6 1 71 1 98 1 117 1 123 1 92 1-34 1 115 1-9 1 74 1 18 1-7 1 24 1 6 1-181"/>
<path d="M0 823l1-14 1 2 1-13 1-20 1-13 1-9 1-12 1-4 1-20 1-23 1-48 1-123 1-127 1-51 1-19 1-19 1 29 1 120 1 156 1 151 1 104 1 22 1-15 1 14 1-42 1 107 1-40 1 40 1 23 1-124"/>
<path d="M0 825l1-10 1 3 1-19 1-16 1-10 1-9 1-8 1-3 1-35 1-25 1-50 1-145 1-136 1-47 1-43 1 25 1 74 1 67 1 133 1 170 1 58 1 77 1 8 1 16 1 47 1 37 1-12 1 32 1-18 1-151"/>
<path d="M0 828l1-14 1 3 1-14 1-9 1-21 1-9 1-28 1 6 1-21 1-26 1-43 1-131 1-121 1-57 1-65 1 20 1 57 1 151 1 104 1 193 1-22 1 53 1 65 1-14 1 29 1 97 1-5 1-35 1-30 1-168"/>
<path d="M0 825l1-15 1 6 1-17 1-16 1-13 1-10 1-19 1 2 1-22 1-33 1-33 1-127 1-135 1-44 1-35 1-18 1 79 1 106 1 126 1 158 1 45 1-12 1 107 1 19 1 68 1-2 1-13 1 19 1-8 1-133"/>
<path d="M0 845l1-17 1 1 1-19 1-12 1-13 1-16 1-15 1 4 1-24 1-14 1-50 1-121 1-125 1-40 1-66 1-3 1 86 1 128 1 153 1 6 1 148 1-3 1-36 1 119 1 69 1 15 1-1 1 42 1-30 1-196"/>
<path d="M0 822l1-12 1 4 1-20 1-11 1-16 1-12 1-17 1-3 1-20 1-30 1-41 1-131 1-131 1-45 1-59 1 7 1 63 1 127 1 133 1 105 1 169 1-39 1 30 1 41 1-18 1 85 1 60 1-29 1-25 1-121"/>
<path d="M0 823l1-9 1 3 1-15 1-18 1-19 1-8 1-18 1-9 1-15 1-29 1-42 1-129 1-129 1-42 1-30 1 10 1 15 1 119 1 113 1 213 1 79 1-75 1 46 1 31 1 128 1 5 1-52 1 54 1 21 1-142"/>
<path d="M0 829l1-11 1 2 1-22 1-17 1-13 1-10 1-5 1-12 1-18 1-27 1-50 1-131 1-134 1-58 1-21 1-5 1 82 1 115 1 125 1 154 1 60 1 5 1-53 1 39 1 128 1 47 1-8 1 13 1-9 1-181"/>
<path d="M0 829l1-19 1 3 1-16 1-20 1-4 1-14 1-7 1 2 1-28 1-22 1-53 1-134 1-144 1-49 1-59 1 36 1 102 1 92 1 141 1 80 1 83 1 84 1 7 1-14 1 79 1 48 1 9 1 19 1-46 1-80"/>
<path d="M0 803l1-10 1 5 1-22 1-14 1-8 1-16 1-24 1-2 1-17 1-22 1-51 1-118 1-139 1-62 1-28 1-2 1 14 1 109 1 145 1 177 1 45 1 52 1 29 1 22 1 41 1 87 1-38 1 67 1-46 1-159"/>
<path d="M0 819l1-6 1-1 1-18 1-27 1-15 1-11 1-21 1 4 1-29 1-26 1-44 1-147 1-129 1-49 1-59 1 31 1 49 1 84 1 129 1 150 1 105 1 98 1-27 1 28 1 15 1 66 1 28 1-1 1-39 1-98"/>
<path d="M0 817l1-15 1 4 1-21 1-16 1-6 1-15 1-17 1-1 1-21 1-19 1-51 1-126 1-146 1-55 1-28 1-35 1 89 1 127 1 113 1 161 1 82 1 58 1-21 1 1 1 104 1-29 1 98 1-16 1-27 1-129"/>
<path d="M0 817l1-21 1 4 1-19 1-13 1-17 1-25 1-3 1-4 1-24 1-34 1-48 1-140 1-137 1-26 1-12 1 23 1 22 1 102 1 109 1 213 1-8 1 42 1 78 1-21 1 29 1 101 1-1 1 12 1 53 1-198"/>
<path d="M0 828l1-13 1 0 1-13 1-12 1-21 1-13 1-15 1-3 1-11 1-24 1-55 1-114 1-136 1-74 1-10 1-18 1 70 1 119 1 142 1 151 1 58 1 7 1 28 1-26 1 115 1-27 1 73 1 26 1-45 1-123"/>
<path d="M0 829l1-9 1-1 1-20 1-13 1-19 1-8 1-18 1-3 1-24 1-30 1-39 1-137 1-143 1-60 1 2 1-13 1 76 1 100 1 126 1 151 1 40 1 76 1-24 1 43 1 10 1 120 1-8 1-2 1-24 1-189"/>
<path d="M0 826l1-14 1 1 1-26 1-14 1-16 1-12 1-11 1-2 1-23 1-27 1-47 1-131 1-120 1-59 1-59 1 37 1 28 1 144 1 110 1 140 1 42 1 63 1 9 1 35 1 52 1 67 1 25 1-21 1 11 1-184"/>
<path d="M0 829l1-17 1 0 1-17 1-22 1-13 1-14 1-11 1-10 1-19 1-20 1-44 1-134 1-129 1-42 1-67 1 17 1 74 1 82 1 135 1 169 1 86 1 30 1-38 1 82 1 71 1 27 1-30 1 56 1-71 1-76"/>
<path d="M0 809l1-7 1 0 1-9 1-18 1-12 1-19 1-13 1-4 1-18 1-26 1-46 1-134 1-129 1-59 1-28 1-1 1 64 1 122 1 131 1 72 1 129 1 78 1-35 1 74 1 36 1 36 1 46 1-32 1-46 1-131"/>
<path d="M0 813l1-13 1 2 1-15 1-11 1-13 1-26 1-9 1 5 1-30 1-29 1-53 1-129 1-141 1-36 1-4 1-18 1 47 1 91 1 141 1 130 1 32 1 146 1-28 1 77 1-34 1 95 1-5 1 8 1-89 1-39"/>
<path d="M0 825l1-7 1 1 1-14 1-17 1-16 1-20 1-9 1-10 1-15 1-32 1-59 1-116 1-128 1-67 1-5 1-12 1 68 1 99 1 125 1 148 1 31 1 115 1-54 1 43 1 84 1 66 1-71 1 55 1-30 1-101"/>
<path d="M0 823l1-15 1-1 1-13 1-26 1-12 1-14 1-12 1-6 1-24 1-30 1-53 1-136 1-129 1-7 1-67 1 54 1 25 1 123 1 134 1 77 1 94 1 93 1-29 1-26 1 94 1 26 1 43 1 17 1-6 1-157"/>
<path d="M0 834l1-18 1 7 1-25 1-21 1-7 1-10 1-11 1-9 1-22 1-17 1-43 1-125 1-136 1-62 1-37 1 22 1 44 1 140 1 103 1 94 1 92 1-28 1 108 1 22 1-29 1 139 1 6 1 5 1-62 1-143"/>
<path d="M0 822l1-22 1 10 1-19 1-10 1-18 1-7 1-14 1-9 1-21 1-37 1-46 1-131 1-123 1-26 1-51 1 24 1 70 1 76 1 136 1 93 1 50 1 52 1 5 1 55 1 46 1 106 1-36 1 15 1-22 1-178"/>
<path d="M0 835l1-16 1 2 1-16 1-8 1-11 1-24 1-14 1-4 1-11 1-31 1-39 1-136 1-133 1-62 1-11 1-12 1 85 1 109 1 118 1 132 1 90 1 8 1-8 1 42 1 108 1-30 1 50 1 32 1-74 1-141"/>
<path d="M0 811l1-10 1 3 1-20 1-13 1-15 1-6 1-18 1-4 1-21 1-23 1-48 1-136 1-141 1-47 1-38 1-20 1 82 1 92 1 144 1 131 1 81 1-36 1 58 1 101 1 37 1 25 1 27 1 35 1-33 1-207"/>
<path d="M0 830l1-10 1-2 1-22 1-14 1-16 1-15 1-8 1-7 1-14 1-30 1-40 1-136 1-127 1-48 1-33 1-27 1 76 1 137 1 126 1 135 1 56 1 65 1-16 1-36 1 177 1-26 1 46 1 14 1-57 1-158"/>
<path d="M0 810l1-9 1 0 1-15 1-17 1-13 1-15 1-23 1-8 1-9 1-23 1-50 1-124 1-141 1-46 1-34 1-8 1 100 1 47 1 103 1 172 1 135 1 24 1-73 1 121 1 46 1 36 1-39 1 55 1-51 1-117"/>
<path d="M0 845l1-16 1-3 1-16 1-12 1-17 1-9 1-20 1-12 1-6 1-27 1-47 1-129 1-127 1-73 1-45 1 27 1 90 1 116 1 157 1 112 1 26 1 48 1-61 1 85 1 19 1 58 1 43 1 55 1-22 1-223"/>
<path d="M0 809l1-5 1-7 1-18 1-15 1-14 1-13 1-16 1-6 1-16 1-31 1-48 1-139 1-121 1-54 1-26 1 9 1 24 1 89 1 139 1 177 1 72 1 19 1 55 1 80 1-39 1 96 1 13 1-10 1-18 1-221"/>
<path d="M0 835l1-19 1 6 1-26 1-19 1-16 1-22 1-8 1 1 1-19 1-31 1-38 1-125 1-134 1-41 1-41 1-39 1 93 1 136 1 143 1 130 1 85 1 33 1-13 1 19 1 45 1 40 1 36 1-25 1 0 1-139"/>
<path d="M0 822l1-19 1 7 1-23 1-18 1-7 1-8 1-18 1 4 1-18 1-16 1-50 1-134 1-145 1-41 1-35 1-6 1 42 1 123 1 126 1 124 1 86 1 29 1-5 1 29 1 128 1 15 1-13 1 35 1-13 1-148"/>
<path d="M0 827l1-18 1 1 1-14 1-17 1-8 1-16 1-12 1-8 1-23 1-31 1-43 1-123 1-128 1-53 1-36 1 7 1 48 1 129 1 104 1 188 1 58 1-32 1 25 1 39 1 56 1 86 1-56 1 69 1-58 1-58"/>
<path d="M0 834l1-13 1 12 1-25 1-15 1-7 1-16 1-10 1-8 1-16 1-26 1-41 1-124 1-120 1-56 1-55 1 21 1 90 1 114 1 117 1 129 1 48 1 15 1 33 1 23 1 39 1 44 1 12 1 49 1-14 1-205"/>
<path d="M0 836l1-9 1-11 1-8 1-12 1-16 1-14 1-15 1-4 1-28 1-14 1-57 1-129 1-133 1-72 1-36 1 42 1 83 1 90 1 141 1 114 1 70 1-45 1 149 1-39 1 56 1 23 1 62 1 27 1-60 1-163"/>
<path d="M0 841l1-18 1 6 1-17 1-22 1-13 1-17 1-14 1 8 1-20 1-27 1-36 1-146 1-125 1-43 1-27 1-48 1 67 1 119 1 158 1 125 1 59 1 26 1 13 1 69 1-4 1 107 1-12 1 3 1-78 1-34"/>
<path d="M0 823l1-14 1 3 1-21 1-8 1-18 1-7 1-16 1-1 1-23 1-18 1-56 1-121 1-132 1-62 1-27 1 5 1 52 1 99 1 152 1 87 1 99 1-39 1 72 1 76 1 12 1 100 1 43 1-31 1-56 1-136"/>
<path d="M0 845l1-24 1 7 1-19 1-11 1-15 1-21 1-12 1-9 1-11 1-27 1-55 1-112 1-122 1-51 1-9 1 15 1 34 1 125 1 136 1 83 1 91 1 41 1-11 1 68 1-36 1 116 1-6 1-35 1 39 1-151"/>
<path d="M0 836l1-12 1 4 1-25 1-12 1-15 1-12 1-17 1-6 1-23 1-23 1-47 1-128 1-120 1-39 1-52 1 13 1 46 1 92 1 151 1 119 1 87 1 54 1 28 1-6 1 60 1 52 1-6 1-1 1-2 1-108"/>
<path d="M0 819l1-7 1 3 1-16 1-13 1-19 1-10 1-20 1-9 1-12 1-28 1-50 1-137 1-130 1-55 1-32 1 22 1 40 1 146 1 118 1 179 1-1 1 23 1 41 1 35 1 86 1-28 1 51 1 28 1-33 1-123"/>
<path d="M0 826l1-14 1 1 1-21 1-23 1-10 1-13 1-26 1-5 1-13 1-31 1-52 1-137 1-124 1-60 1-6 1-17 1 50 1 117 1 132 1 181 1 12 1 48 1 16 1 48 1 86 1 30 1-19 1 19 1 60 1-171"/>
<path d="M0 818l1-17 1 7 1-14 1-25 1-16 1-10 1-20 1 4 1-22 1-29 1-48 1-123 1-137 1-45 1-54 1 8 1 66 1 89 1 140 1 104 1 125 1 112 1-85 1-3 1 173 1-10 1 59 1 1 1-36 1-210"/>
<path d="M0 833l1-19 1 9 1-25 1-17 1-3 1-11 1-9 1 3 1-27 1-26 1-46 1-129 1-122 1-53 1-38 1 0 1 64 1 116 1 136 1 147 1 18 1 38 1-31 1 61 1 14 1 137 1-39 1 15 1-27 1-128"/>
<path d="M0 812l1-19 1 10 1-19 1-8 1-19 1-5 1-12 1-11 1-14 1-30 1-52 1-141 1-127 1-61 1-46 1 27 1 52 1 114 1 120 1 258 1-20 1-29 1 62 1 8 1 78 1 51 1-54 1 49 1 15 1-100"/>
<path d="M0 810l1-13 1 11 1-22 1-15 1-19 1-1 1-18 1-7 1-27 1-38 1-47 1-132 1-119 1-51 1-24 1-6 1 29 1 106 1 132 1 175 1 82 1-2 1-6 1 56 1 109 1 38 1-24 1 96 1-96 1-91"/>
<path d="M0 816l1-16 1 9 1-13 1-19 1-11 1-13 1-14 1-5 1-16 1-21 1-58 1-123 1-128 1-41 1-56 1 36 1 45 1 92 1 115 1 156 1 27 1 20 1 26 1 99 1 25 1 25 1 7 1 22 1-13 1-146"/>
<path d="M0 829l1-12 1 5 1-22 1-7 1-18 1-11 1-18 1-7 1-17 1-27 1-50 1-133 1-135 1-43 1-32 1 7 1 87 1 100 1 126 1 117 1 61 1-11 1 34 1 61 1 11 1 101 1 14 1 14 1-45 1-136"/>
<path d="M0 835l1-15 1 6 1-18 1-12 1-21 1-9 1-18 1 1 1-23 1-28 1-38 1-125 1-134 1-55 1-45 1-33 1 62 1 153 1 120 1 175 1-13 1 85 1 15 1-1 1 137 1-50 1 27 1 20 1-29 1-56"/>
<path d="M0 834l1-13 1 1 1-24 1-16 1-16 1-10 1-12 1-1 1-22 1-24 1-38 1-134 1-141 1-61 1-36 1 14 1 91 1 86 1 125 1 129 1 105 1 9 1 24 1 21 1 33 1 126 1-72 1 5 1-13 1-159"/>
<path d="M0 818l1-11 1-2 1-17 1-17 1-7 1-15 1-23 1-7 1-27 1-21 1-47 1-134 1-127 1-64 1-51 1 35 1 14 1 106 1 117 1 219 1 102 1 57 1-47 1-20 1 101 1 58 1-49 1 38 1-43 1-109"/>
<path d="M0 840l1-17 1 5 1-24 1-8 1-18 1-16 1-10 1-5 1-24 1-19 1-66 1-141 1-122 1-28 1-39 1 12 1 74 1 110 1 130 1 130 1 95 1-23 1 19 1 61 1 7 1 56 1 20 1-1 1 12 1-158"/>
<path d="M0 853l1-15 1 6 1-21 1-12 1-19 1-10 1-17 1-1 1-19 1-25 1-40 1-124 1-121 1-49 1-68 1 42 1 54 1 148 1 149 1 52 1-13 1 85 1 26 1 81 1 63 1 69 1-49 1-47 1 27 1-184"/>
<path d="M0 821l1-12 1-2 1-18 1-20 1-15 1-8 1-11 1-11 1-18 1-24 1-42 1-150 1-114 1-48 1-69 1 45 1 60 1 104 1 123 1 124 1 101 1 29 1 32 1 6 1 71 1 47 1-21 1 44 1-68 1-144"/>
<path d="M0 835l1-20 1 2 1-19 1-14 1-14 1-9 1-11 1-7 1-11 1-38 1-48 1-115 1-143 1-48 1-20 1-32 1 106 1 89 1 136 1 178 1 14 1 16 1 91 1-37 1-14 1 161 1-10 1 2 1-25 1-220"/>
<path d="M0 832l1-12 1-1 1-19 1-18 1-16 1-1 1-21 1-5 1-20 1-14 1-50 1-133 1-118 1-79 1-4 1-15 1 51 1 108 1 136 1 146 1 64 1 69 1-47 1 4 1 73 1 41 1 42 1-11 1 2 1-94"/>
<path d="M0 833l1-12 1-10 1-12 1-12 1-23 1-5 1-21 1 2 1-17 1-25 1-51 1-131 1-120 1-36 1-83 1 29 1 85 1 112 1 106 1 104 1-11 1 169 1 73 1-29 1 83 1-44 1 48 1 16 1 0 1-197"/>
<path d="M0 818l1-7 1 1 1-19 1-20 1-16 1-11 1-13 1 2 1-20 1-32 1-57 1-134 1-131 1-40 1-18 1-61 1 85 1 102 1 122 1 181 1 94 1 16 1 13 1 103 1 80 1-57 1 3 1-29 1 78 1-216"/>
<path d="M0 827l1-13 1-1 1-10 1-13 1-17 1-15 1-13 1 0 1-24 1-30 1-45 1-136 1-128 1-30 1-54 1-16 1 113 1 104 1 91 1 151 1 50 1 37 1 76 1-39 1 34 1 69 1 58 1 25 1-68 1-161"/>
<path d="M0 838l1-20 1 3 1-14 1-8 1-16 1-15 1-9 1-4 1-33 1-31 1-36 1-130 1-125 1-44 1-42 1 3 1 65 1 97 1 122 1 161 1 54 1 10 1-32 1 93 1 62 1 36 1 14 1 22 1-83 1-55"/>
<path d="M0 829l1-10 1-4 1-17 1-15 1-17 1-8 1-13 1 5 1-22 1-15 1-50 1-126 1-138 1-51 1-19 1-4 1 34 1 131 1 127 1 160 1-24 1 89 1-62 1 93 1 123 1 32 1-17 1-14 1-23 1-170"/>
<path d="M0 811l1-13 1 3 1-17 1-21 1-8 1-13 1-17 1-3 1-17 1-30 1-59 1-122 1-128 1-37 1-56 1 21 1 47 1 63 1 154 1 205 1 4 1-2 1 74 1 7 1 70 1 45 1 10 1 24 1-11 1-221"/>
<path d="M0 811l1-9 1 4 1-21 1-11 1-11 1-17 1-22 1 4 1-18 1-36 1-41 1-137 1-128 1-46 1-37 1-8 1 53 1 93 1 92 1 226 1 19 1 46 1 18 1 25 1 52 1 71 1-30 1 54 1-66 1-63"/>
<path d="M0 835l1-11 1 5 1-21 1-16 1-16 1-21 1-15 1-7 1-13 1-35 1-43 1-126 1-134 1-49 1-44 1-2 1 106 1 101 1 134 1 105 1 69 1 6 1 56 1 19 1 64 1 16 1 75 1-15 1-19 1-128"/>
<path d="M0 834l1-11 1 2 1-19 1-14 1-20 1-20 1-20 1 3 1-18 1-20 1-51 1-124 1-156 1-45 1-38 1-2 1 68 1 101 1 139 1 169 1 94 1 12 1 16 1-78 1 138 1 91 1-79 1 97 1-105 1-126"/>
<path d="M0 832l1-14 1 3 1-21 1-22 1-14 1-14 1-10 1 0 1-25 1-34 1-38 1-136 1-131 1-54 1-24 1-28 1 108 1 120 1 138 1 139 1-21 1 29 1 55 1 39 1 74 1-14 1 95 1-20 1-6 1-154"/>
<path d="M0 831l1-19 1-5 1-13 1-14 1-14 1-14 1-24 1 1 1-14 1-38 1-33 1-136 1-124 1-61 1-27 1-3 1 58 1 104 1 122 1 180 1 98 1-5 1-44 1 12 1 105 1 43 1-30 1 55 1-11 1-222"/>
<path d="M0 833l1-13 1-2 1-17 1-13 1-7 1-12 1-9 1-12 1-21 1-25 1-48 1-116 1-151 1-28 1-55 1-20 1 94 1 99 1 147 1 100 1 125 1-32 1 51 1 32 1-33 1 112 1 8 1 78 1-69 1-144"/>
<path d="M0 813l1-14 1 0 1-22 1-4 1-26 1-9 1-17 1 1 1-18 1-35 1-57 1-126 1-125 1-57 1-37 1 11 1 84 1 76 1 123 1 143 1 80 1 70 1 10 1 59 1 44 1 4 1 60 1-41 1 10 1-206"/>
<path d="M0 820l1-19 1 3 1-13 1-15 1-12 1-11 1-12 1 3 1-30 1-23 1-51 1-130 1-138 1-36 1-56 1 4 1 108 1 78 1 129 1 146 1 75 1 76 1-11 1 9 1 29 1 11 1 46 1 38 1-81 1-166"/>
<path d="M0 855l1-19 1-4 1-18 1-17 1-7 1-10 1-7 1-9 1-19 1-22 1-44 1-125 1-121 1-60 1-28 1-23 1 113 1 94 1 138 1 96 1 81 1-29 1 10 1 83 1 30 1 40 1 80 1 9 1-1 1-243"/>
<path d="M0 845l1-19 1-1 1-22 1-18 1-7 1-15 1-15 1 5 1-25 1-26 1-42 1-131 1-120 1-55 1-38 1 9 1 56 1 122 1 132 1 222 1-107 1 115 1 36 1-8 1 44 1 80 1-44 1 61 1 8 1-226"/>
<path d="M0 832l1-17 1 8 1-23 1-8 1-19 1-17 1-20 1-6 1-9 1-24 1-49 1-132 1-126 1-45 1-40 1-23 1 83 1 90 1 140 1 135 1 105 1 61 1-7 1-23 1 98 1 96 1-28 1-65 1-1 1-138"/>
<path d="M0 808l1-11 1 2 1-18 1-19 1-18 1-10 1-18 1 2 1-29 1-21 1-52 1-138 1-113 1-55 1-28 1 0 1 50 1 79 1 103 1 213 1 50 1 16 1 49 1 47 1 53 1 28 1-59 1 102 1-38 1-153"/>
<path d="M0 807l1-15 1 6 1-15 1-14 1-15 1-13 1-15 1-4 1-23 1-31 1-47 1-136 1-131 1-57 1-37 1-3 1 85 1 68 1 122 1 178 1 42 1 38 1-26 1 97 1 52 1 92 1-7 1 39 1-21 1-226"/>
<path d="M0 811l1-3 1 1 1-21 1-18 1-15 1-5 1-20 1 1 1-14 1-25 1-42 1-136 1-134 1-35 1-68 1 31 1 76 1 95 1 145 1 141 1-13 1 87 1-24 1 109 1 33 1 59 1-70 1 131 1-72 1-150"/>
<path d="M0 840l1-24 1 4 1-20 1-16 1-12 1-12 1-11 1 5 1-26 1-14 1-36 1-144 1-118 1-49 1-56 1 51 1 57 1 111 1 133 1 121 1 101 1-2 1-16 1 40 1 71 1 27 1 63 1-71 1 64 1-172"/>
<path d="M0 829l1-14 1 6 1-23 1-17 1-18 1-8 1-14 1 6 1-21 1-20 1-48 1-135 1-122 1-37 1-67 1 14 1 57 1 102 1 155 1 199 1-63 1 101 1-9 1-22 1 49 1 99 1 4 1 21 1 47 1-133"/>
<path d="M0 826l1-13 1-3 1-14 1-10 1-14 1-12 1-25 1-10 1-18 1-27 1-38 1-135 1-123 1-75 1 5 1-22 1 82 1 117 1 117 1 83 1 157 1-3 1 35 1 48 1 56 1 11 1 11 1 36 1-56 1-156"/>
<path d="M0 833l1-7 1 3 1-20 1-17 1-14 1-11 1-20 1-7 1-22 1-31 1-49 1-138 1-128 1-71 1-37 1 3 1 82 1 104 1 151 1 134 1 102 1 12 1 31 1 17 1 13 1 147 1-87 1 24 1-1 1-171"/>
<path d="M0 827l1-13 1 0 1-19 1-15 1-15 1-13 1-15 1-8 1-14 1-32 1-45 1-129 1-134 1-35 1-47 1 3 1 67 1 105 1 151 1 93 1 111 1-69 1 127 1 33 1 15 1 40 1 25 1-8 1 9 1-166"/>
<path d="M0 814l1-11 1 10 1-27 1-13 1-13 1-7 1-17 1-10 1-7 1-26 1-53 1-116 1-147 1-40 1-30 1 14 1 27 1 98 1 112 1 145 1 147 1 80 1-98 1 30 1-21 1 208 1-68 1 41 1-115 1-114"/>
<path d="M0 830l1-17 1 5 1-20 1-9 1-15 1-9 1-20 1 4 1-25 1-26 1-53 1-117 1-112 1-67 1-48 1 0 1 81 1 106 1 122 1 142 1 44 1-10 1 122 1-77 1 145 1 31 1 27 1-28 1-12 1-255"/>
<path d="M0 840l1-13 1-4 1-9 1-19 1-13 1-26 1-6 1-2 1-13 1-24 1-47 1-132 1-118 1-83 1-7 1-12 1 106 1 102 1 132 1 142 1 43 1-16 1 1 1 16 1 134 1 30 1 28 1 27 1-18 1-231"/>
<path d="M0 832l1-21 1 6 1-17 1-15 1-19 1-7 1-6 1-14 1-17 1-30 1-50 1-130 1-126 1-54 1-29 1 19 1 21 1 140 1 113 1 120 1 101 1 24 1 38 1 38 1 79 1-55 1 32 1 36 1-46 1-193"/>
<path d="M0 838l1-15 1 8 1-21 1-7 1-18 1-11 1-17 1 3 1-18 1-29 1-34 1-131 1-137 1-61 1-43 1-2 1 104 1 68 1 145 1 90 1 117 1-44 1 38 1 105 1 46 1 23 1 5 1 26 1-95 1-148"/>
<path d="M0 830l1-12 1-1 1-19 1-14 1-20 1-8 1-26 1 6 1-20 1-21 1-49 1-130 1-131 1-43 1-54 1 14 1 42 1 163 1 135 1 174 1 46 1 48 1-36 1-9 1 72 1 73 1 17 1-26 1-36 1-124"/>
<path d="M0 817l1-9 1 5 1-21 1-19 1-9 1-15 1-14 1-6 1-9 1-30 1-53 1-139 1-126 1-60 1-27 1-12 1 95 1 66 1 137 1 175 1 17 1 97 1 32 1-72 1 84 1 90 1-35 1 36 1 26 1-182"/>
<path d="M0 826l1-12 1 1 1-16 1-17 1-21 1-7 1-15 1-4 1-21 1-25 1-42 1-130 1-136 1-52 1-5 1-29 1 108 1 68 1 95 1 197 1 72 1-32 1 64 1 39 1 13 1 88 1-12 1 56 1-46 1-156"/>
<path d="M0 834l1-10 1-3 1-10 1-15 1-20 1-11 1-14 1-7 1-18 1-31 1-36 1-122 1-130 1-55 1-69 1 58 1 51 1 107 1 125 1 88 1 91 1 27 1-4 1 106 1-22 1 146 1-64 1 1 1-1 1-99"/>
<path d="M0 830l1-19 1 9 1-21 1-18 1-10 1-17 1-18 1 2 1-23 1-32 1-45 1-128 1-138 1-28 1-50 1 1 1 70 1 109 1 118 1 149 1 50 1 65 1-31 1 40 1 96 1 33 1-12 1-3 1-30 1-31"/>
<path d="M0 841l1-22 1 8 1-28 1-14 1-14 1-8 1-18 1-2 1-24 1-19 1-40 1-133 1-125 1-43 1-44 1 9 1 93 1 62 1 156 1 193 1-62 1 68 1 62 1 44 1 26 1 23 1-9 1 58 1-34 1-142"/>
<path d="M0 831l1-15 1-2 1-17 1-15 1-11 1-18 1-6 1-9 1-7 1-31 1-45 1-135 1-135 1-54 1-31 1-3 1 66 1 97 1 111 1 138 1 100 1 6 1 79 1-53 1 113 1 49 1-33 1 42 1-39 1-60"/>
<path d="M0 819l1-11 1 6 1-25 1-16 1-16 1-18 1-12 1-8 1-24 1-24 1-50 1-128 1-137 1-42 1-14 1-17 1 67 1 106 1 128 1 172 1 64 1 69 1-39 1 70 1-4 1 54 1 3 1 38 1-38 1-174"/>
<path d="M0 836l1-13 1-2 1-16 1-19 1-14 1-9 1-22 1-1 1-21 1-33 1-42 1-121 1-141 1-35 1-72 1 16 1 78 1 99 1 153 1 158 1 85 1-45 1 119 1-74 1 59 1 89 1 10 1-62 1 15 1-165"/>
<path d="M0 846l1-7 1 4 1-18 1-21 1-22 1-5 1-25 1 0 1-24 1-26 1-50 1-131 1-140 1-39 1-21 1 3 1 92 1 91 1 155 1 102 1 122 1-29 1 8 1 65 1 13 1 111 1-29 1-51 1 23 1-163"/>
<path d="M0 814l1-17 1 6 1-14 1-17 1-11 1-13 1-21 1 0 1-26 1-17 1-57 1-131 1-145 1-35 1-25 1 18 1 61 1 55 1 158 1 225 1-20 1 0 1 21 1 52 1 75 1 51 1 24 1-59 1 48 1-166"/>
<path d="M0 833l1-12 1 5 1-22 1-6 1-19 1-14 1-13 1-4 1-19 1-23 1-46 1-128 1-134 1-51 1-42 1-4 1 106 1 79 1 121 1 141 1 78 1-8 1 63 1 5 1 79 1 6 1 17 1-40 1 24 1-78"/>
<path d="M0 823l1-7 1 6 1-29 1-16 1-10 1-16 1-23 1 0 1-23 1-24 1-48 1-129 1-130 1-60 1-62 1 22 1 87 1 99 1 128 1 159 1 16 1 68 1 99 1-25 1 13 1 45 1 2 1-27 1 68 1-206"/>
<path d="M0 821l1-16 1 9 1-23 1-14 1-12 1-17 1-7 1-11 1-16 1-24 1-49 1-125 1-129 1-69 1-37 1 20 1 78 1 64 1 118 1 224 1 26 1-33 1 85 1 25 1 15 1 99 1-22 1 5 1-18 1-74"/>
<path d="M0 830l1-5 1 4 1-24 1-14 1-18 1-16 1-14 1-5 1-9 1-24 1-54 1-130 1-133 1-65 1-24 1 20 1 41 1 117 1 139 1 121 1 89 1-55 1 98 1 76 1-65 1 72 1 40 1 26 1-2 1-155"/>
<path d="M0 831l1-18 1 7 1-24 1-12 1-27 1-2 1-15 1-7 1-21 1-18 1-57 1-136 1-131 1-33 1-31 1-30 1 43 1 96 1 149 1 133 1 89 1-8 1 29 1 77 1-1 1 153 1-62 1 37 1-34 1-150"/>
<path d="M0 831l1-16 1 4 1-20 1-11 1-17 1-21 1-16 1-1 1-22 1-31 1-47 1-142 1-128 1-44 1-4 1-9 1 57 1 111 1 115 1 154 1 21 1 73 1 58 1-36 1 37 1 134 1-37 1 31 1-49 1-154"/>
<path d="M0 828l1-23 1 5 1-15 1-21 1-7 1-10 1-7 1-10 1-20 1-24 1-55 1-136 1-123 1-51 1-62 1 14 1 100 1 85 1 135 1 161 1 25 1 62 1-62 1 92 1 39 1 69 1-7 1 0 1 33 1-102"/>
<path d="M0 814l1-15 1 6 1-11 1-20 1-11 1-14 1-8 1-10 1-18 1-31 1-47 1-129 1-131 1-62 1-32 1 19 1 75 1 70 1 153 1 160 1 68 1 25 1 3 1 70 1-38 1 60 1 52 1 39 1-90 1-135"/>
<path d="M0 833l1-10 1-1 1-16 1-9 1-21 1-16 1-13 1-5 1-20 1-19 1-50 1-125 1-122 1-46 1-61 1 24 1 69 1 103 1 142 1 112 1 44 1 29 1-18 1 12 1 187 1-12 1 6 1-7 1 0 1-165"/>
<path d="M0 823l1-17 1 5 1-14 1-23 1-17 1-16 1-22 1-4 1-13 1-30 1-30 1-129 1-132 1-74 1-28 1 53 1 15 1 101 1 137 1 164 1 87 1-78 1 133 1-59 1 139 1-33 1 35 1 46 1-64 1-113"/>
<path d="M0 840l1-15 1 8 1-22 1-9 1-21 1-14 1-19 1-5 1-23 1-20 1-43 1-121 1-128 1-51 1-56 1 14 1 78 1 120 1 129 1 139 1 30 1 1 1 96 1-55 1 50 1 138 1-13 1-8 1-36 1-146"/>
<path d="M0 824l1-18 1 1 1-22 1-17 1-12 1-6 1-19 1 2 1-23 1-15 1-52 1-128 1-148 1-63 1-21 1-4 1 28 1 127 1 105 1 156 1 120 1 35 1 0 1 74 1 41 1 43 1-37 1 38 1-23 1-48"/>
<path d="M0 817l1-28 1 11 1-12 1-19 1-10 1-7 1-13 1-4 1-24 1-35 1-49 1-129 1-136 1-49 1-27 1 13 1 54 1 116 1 123 1 101 1 72 1 66 1-27 1 60 1 51 1 56 1 13 1-64 1 30 1-197"/>
<path d="M0 826l1-12 1 1 1-19 1-9 1-9 1-16 1-17 1 3 1-20 1-23 1-46 1-140 1-127 1-64 1-23 1-12 1 107 1 88 1 147 1 117 1 70 1 41 1 53 1-17 1 42 1 32 1 54 1 2 1-36 1-207"/>
<path d="M0 806l1-14 1 2 1-14 1-10 1-13 1-18 1-16 1-8 1-22 1-32 1-48 1-133 1-133 1-49 1-8 1-26 1 62 1 96 1 137 1 203 1 28 1-16 1 102 1-48 1 55 1 79 1-13 1-12 1 48 1-151"/>
<path d="M0 841l1-16 1-2 1-12 1-23 1-11 1-15 1-14 1-17 1-16 1-25 1-36 1-135 1-113 1-54 1-63 1 25 1 77 1 99 1 142 1 84 1 56 1 82 1-22 1 45 1 107 1 7 1 8 1 49 1-94 1-114"/>
<path d="M0 827l1-15 1 4 1-18 1-10 1-18 1-5 1-26 1 0 1-19 1-38 1-50 1-122 1-134 1-48 1-32 1 2 1 70 1 115 1 107 1 115 1 97 1 10 1 8 1 100 1-22 1 73 1 27 1 8 1-17 1-176"/>
<path d="M0 835l1-12 1 2 1-13 1-13 1-17 1-13 1-14 1-10 1-12 1-20 1-60 1-127 1-139 1-61 1-16 1-8 1 84 1 85 1 133 1 93 1 111 1-16 1 110 1 10 1 30 1 103 1-103 1 56 1-42 1-80"/>
<path d="M0 831l1-10 1-6 1-21 1-16 1-15 1-13 1-11 1-6 1-19 1-23 1-49 1-132 1-140 1-40 1-30 1 31 1 72 1 98 1 136 1 115 1 31 1 9 1 52 1 111 1-59 1 68 1 4 1 48 1-46 1-39"/>
<path d="M0 830l1-19 1 7 1-19 1-13 1-17 1-13 1-18 1 0 1-21 1-32 1-49 1-129 1-140 1-38 1-61 1-3 1 103 1 78 1 119 1 191 1 70 1 4 1-4 1-18 1 91 1 61 1 25 1 7 1-32 1-108"/>
<path d="M0 838l1-15 1 4 1-21 1-13 1-20 1-10 1-5 1-12 1-22 1-23 1-42 1-148 1-120 1-34 1-38 1-6 1 68 1 96 1 129 1 172 1 39 1 25 1-16 1 143 1-53 1 114 1 14 1-63 1 34 1-75"/>
<path d="M0 815l1-13 1 6 1-10 1-23 1-12 1-11 1-17 1-9 1-17 1-34 1-53 1-128 1-123 1-66 1-61 1 3 1 68 1 124 1 135 1 178 1 32 1 74 1-71 1 71 1 125 1-9 1 27 1 24 1-56 1-156"/>
<path d="M0 833l1-9 1-4 1-18 1-5 1-13 1-8 1-17 1-12 1-19 1-25 1-50 1-112 1-138 1-33 1-81 1 7 1 97 1 116 1 148 1 113 1 114 1-4 1-52 1 106 1-10 1 126 1-18 1-7 1 11 1-167"/>
<path d="M0 822l1-7 1-2 1-13 1-17 1-23 1-14 1-18 1-2 1-16 1-14 1-47 1-131 1-131 1-38 1-66 1 4 1 44 1 121 1 162 1 151 1 52 1-34 1 163 1-133 1 117 1 101 1-24 1 12 1-30 1-216"/>
<path d="M0 834l1-19 1 4 1-13 1-21 1-9 1-4 1-19 1-7 1-25 1-23 1-46 1-132 1-124 1-58 1-14 1 16 1 20 1 140 1 148 1 93 1 80 1 44 1 14 1-44 1 171 1-46 1 24 1-4 1 10 1-120"/>
<path d="M0 830l1-12 1 0 1-11 1-8 1-19 1-11 1-16 1-2 1-16 1-16 1-53 1-136 1-135 1-46 1-57 1 29 1 70 1 117 1 106 1 179 1-16 1 82 1 37 1-50 1 151 1-24 1 22 1-12 1-6 1-28"/>
<path d="M0 822l1-8 1 2 1-17 1-14 1-11 1-4 1-22 1 3 1-30 1-39 1-37 1-141 1-134 1-74 1-14 1 15 1 72 1 101 1 128 1 114 1 71 1 117 1-35 1 41 1-12 1 84 1-34 1 101 1-83 1-136"/>
<path d="M0 830l1-16 1 1 1-21 1-9 1-17 1-6 1-17 1-3 1-18 1-26 1-33 1-130 1-144 1-34 1-26 1-3 1 53 1 94 1 80 1 191 1 43 1 56 1 58 1-43 1 88 1 2 1 36 1 35 1-39 1-133"/>
<path d="M0 826l1-16 1 8 1-21 1-4 1-20 1-13 1-15 1 4 1-20 1-21 1-51 1-120 1-139 1-36 1-58 1 56 1 55 1 117 1 103 1 95 1 37 1 77 1-30 1 22 1 51 1 103 1 10 1 44 1-116 1-139"/>
<path d="M0 818l1-12 1-2 1-15 1-5 1-13 1-17 1-8 1-9 1-22 1-24 1-67 1-124 1-141 1-36 1-42 1 30 1 28 1 92 1 169 1 89 1 144 1-14 1 86 1-62 1 21 1 69 1 62 1 42 1-71 1-77"/>
<path d="M0 823l1-14 1 1 1-16 1-7 1-19 1-12 1-14 1 1 1-27 1-18 1-53 1-142 1-119 1-63 1-26 1-20 1 73 1 114 1 107 1 196 1-14 1 96 1 18 1-24 1 79 1 69 1 22 1-18 1 8 1-93"/>
<path d="M0 833l1-14 1 5 1-22 1-17 1-12 1-19 1-12 1 6 1-25 1-24 1-46 1-135 1-145 1-46 1-26 1-21 1 88 1 101 1 157 1 179 1 45 1 2 1-36 1 66 1 34 1 64 1 48 1 41 1-65 1-203"/>
<path d="M0 834l1-12 1-3 1-15 1-18 1-13 1-17 1-13 1-8 1-16 1-35 1-37 1-132 1-128 1-45 1-30 1-12 1 62 1 104 1 142 1 120 1 3 1 101 1 10 1 24 1 34 1 147 1-49 1 38 1-32 1-148"/>
<path d="M0 833l1-17 1 6 1-14 1-22 1-8 1-19 1-9 1-5 1-25 1-20 1-39 1-124 1-130 1-36 1-54 1 2 1 67 1 112 1 128 1 108 1 60 1 105 1-11 1 49 1-4 1 39 1 34 1 35 1-52 1-86"/>
<path d="M0 838l1-11 1 5 1-21 1-15 1-12 1-16 1-17 1-12 1-16 1-7 1-49 1-133 1-118 1-47 1-29 1-47 1 106 1 120 1 130 1 86 1 67 1 79 1-21 1 42 1 78 1-27 1 20 1 88 1-94 1-57"/>
<path d="M0 825l1-11 1-1 1-16 1-4 1-20 1-5 1-19 1-4 1-20 1-21 1-55 1-115 1-127 1-47 1-59 1-5 1 66 1 113 1 145 1 75 1 165 1-45 1 73 1 81 1-31 1 106 1-13 1-10 1 2 1-208"/>
<path d="M0 829l1-10 1 5 1-24 1-15 1-15 1-7 1-23 1 1 1-19 1-26 1-51 1-128 1-129 1-45 1-60 1 40 1 66 1 65 1 158 1 167 1-60 1 100 1 129 1-53 1 67 1 52 1-32 1 15 1 8 1-144"/>
<path d="M0 821l1-10 1 3 1-26 1-13 1-10 1-14 1-12 1-9 1-22 1-25 1-49 1-140 1-135 1-35 1-56 1-2 1 73 1 103 1 139 1 135 1 81 1 32 1-2 1 31 1 30 1 105 1-7 1 54 1-64 1-161"/>
<path d="M0 827l1-17 1 6 1-22 1-13 1-24 1-9 1-29 1 0 1-18 1-25 1-48 1-132 1-140 1-43 1-14 1-28 1 133 1 83 1 105 1 124 1 119 1-41 1 19 1 45 1 109 1 18 1-32 1 26 1-18 1-66"/>
<path d="M0 824l1-14 1 9 1-17 1-17 1-20 1-6 1-19 1-6 1-21 1-21 1-47 1-133 1-120 1-63 1-42 1 19 1 41 1 96 1 146 1 135 1 101 1 65 1-22 1 28 1 66 1 53 1-13 1-7 1 21 1-191"/>
<path d="M0 841l1-6 1-3 1-28 1-8 1-11 1-11 1-9 1-7 1-18 1-23 1-38 1-124 1-124 1-54 1-77 1 18 1 130 1 70 1 124 1 142 1 36 1 53 1-59 1 91 1 67 1 56 1 14 1-28 1-44 1-142"/>
<path d="M0 844l1-13 1 0 1-18 1-18 1-11 1-6 1-18 1-10 1-15 1-31 1-47 1-135 1-123 1-52 1-7 1-11 1 120 1 81 1 133 1 112 1 58 1 22 1-64 1 82 1 64 1 71 1-29 1 46 1-26 1-118"/>
<path d="M0 833l1-19 1 10 1-25 1-11 1-18 1-14 1-18 1-1 1-30 1-23 1-45 1-126 1-132 1-49 1-54 1 50 1 55 1 99 1 116 1 152 1 108 1 8 1-22 1 46 1 2 1 132 1 5 1 27 1-87 1-153"/>
<path d="M0 820l1-12 1 3 1-13 1-17 1-15 1-16 1-17 1-11 1-12 1-36 1-45 1-132 1-130 1-38 1-19 1-23 1 68 1 112 1 138 1 107 1 117 1 3 1 28 1 66 1-6 1 38 1 8 1 58 1-101 1-195"/>
<path d="M0 827l1-15 1 6 1-16 1-9 1-20 1-9 1-13 1-17 1-17 1-32 1-44 1-126 1-132 1-42 1-17 1-22 1 25 1 141 1 127 1 154 1 43 1 31 1 52 1 38 1-67 1 111 1 82 1-1 1-50 1-148"/>
<path d="M0 837l1-23 1 8 1-13 1-11 1-14 1-11 1-18 1 0 1-18 1-22 1-48 1-139 1-119 1-78 1-24 1 13 1 64 1 112 1 153 1 60 1 81 1 44 1 23 1 59 1 18 1 52 1 0 1 61 1-27 1-217"/>
<path d="M0 851l1-20 1 10 1-18 1-15 1-9 1-10 1-22 1-5 1-23 1-21 1-43 1-132 1-112 1-65 1-49 1 40 1 38 1 148 1 114 1 94 1 54 1 84 1 29 1-7 1 25 1 58 1 23 1 43 1-29 1-111"/>
<path d="M0 842l1-16 1 5 1-20 1-7 1-14 1-10 1-22 1-6 1-13 1-32 1-44 1-115 1-129 1-61 1-39 1 16 1 92 1 86 1 151 1 169 1-27 1 67 1-34 1 26 1 28 1 96 1 0 1 49 1-50 1-138"/>
<path d="M0 832l1-16 1-3 1-10 1-19 1-18 1-11 1-16 1-1 1-24 1-26 1-48 1-138 1-125 1-56 1-41 1 27 1 61 1 104 1 123 1 102 1 27 1 106 1-13 1 27 1 154 1 33 1-9 1 19 1-74 1-223"/>
<path d="M0 821l1-12 1 7 1-21 1-25 1-12 1-15 1-13 1 0 1-23 1-33 1-44 1-123 1-138 1-41 1-21 1-11 1 71 1 106 1 107 1 142 1-7 1 120 1 3 1 74 1 57 1 51 1 4 1-41 1-39 1-179"/>
<path d="M0 810l1-13 1 0 1-16 1-12 1-11 1-10 1-12 1-4 1-23 1-33 1-50 1-125 1-146 1-36 1-38 1 4 1 29 1 94 1 152 1 164 1 66 1 8 1 80 1-50 1 130 1 41 1-9 1 62 1-87 1-134"/>
<path d="M0 827l1-15 1 11 1-30 1-4 1-19 1-8 1-13 1-7 1-22 1-30 1-40 1-136 1-126 1-58 1-55 1 52 1 18 1 158 1 78 1 202 1-23 1 66 1 84 1 8 1 40 1-8 1 68 1-6 1-54 1-168"/>
<path d="M0 829l1-10 1 4 1-22 1-19 1-17 1-21 1-12 1-3 1-19 1-28 1-40 1-129 1-140 1-37 1-41 1 14 1 77 1 77 1 153 1 85 1 120 1 19 1-6 1 40 1-4 1 114 1-38 1 2 1-7 1-138"/>
<path d="M0 828l1-13 1 2 1-14 1-23 1-7 1-9 1-14 1 1 1-29 1-32 1-43 1-117 1-113 1-74 1-12 1 13 1 41 1 135 1 120 1 178 1-27 1 67 1 42 1-32 1 151 1-20 1-7 1 14 1-87 1-27"/>
<path d="M0 834l1-19 1 4 1-18 1-20 1-3 1-17 1-15 1-9 1-17 1-22 1-47 1-123 1-126 1-61 1-18 1 34 1 28 1 122 1 117 1 122 1 58 1-14 1 72 1 100 1 21 1 48 1-1 1 15 1-102 1-118"/>
<path d="M0 828l1-19 1 2 1-13 1-17 1-6 1-18 1-7 1-2 1-20 1-34 1-51 1-115 1-142 1-41 1-45 1-3 1 86 1 99 1 150 1 86 1 85 1 17 1 38 1 30 1 46 1 3 1 71 1-57 1 13 1-134"/>
<path d="M0 822l1-10 1 5 1-14 1-12 1-11 1-18 1-15 1-5 1-16 1-34 1-49 1-125 1-141 1-42 1-47 1 22 1 109 1 42 1 168 1 156 1 7 1-6 1 123 1-37 1 136 1 27 1-35 1-30 1-1 1-143"/>
<path d="M0 820l1-9 1 7 1-25 1-20 1-11 1-11 1-19 1-4 1-16 1-31 1-52 1-114 1-135 1-42 1-44 1 6 1 60 1 99 1 116 1 119 1 125 1 52 1-4 1-39 1 77 1 73 1 7 1 44 1-32 1-267"/>
<path d="M0 836l1-15 1 5 1-27 1-14 1-10 1-12 1-14 1 0 1-22 1-19 1-45 1-127 1-117 1-60 1-28 1 13 1 35 1 108 1 144 1 21 1 109 1 70 1 76 1 30 1-5 1 63 1-13 1 12 1-66 1-40"/>
<path d="M0 831l1-23 1 6 1-21 1-12 1-15 1-12 1-20 1-9 1-20 1-12 1-61 1-124 1-127 1-44 1-45 1 19 1 49 1 112 1 136 1 193 1-20 1 103 1-55 1 84 1 70 1 4 1 48 1-40 1-98 1-24"/>
<path d="M0 828l1-16 1 8 1-22 1-12 1-18 1-7 1-17 1 0 1-24 1-15 1-43 1-123 1-144 1-33 1-41 1-10 1 65 1 112 1 128 1 88 1 52 1 131 1-5 1-37 1 72 1 119 1-12 1 8 1-8 1-211"/>
<path d="M0 840l1-16 1 4 1-26 1-11 1-17 1-19 1-13 1-2 1-18 1-14 1-54 1-124 1-138 1-49 1-46 1 40 1 51 1 101 1 165 1 100 1 36 1 59 1 43 1-18 1 61 1 42 1-6 1 42 1-51 1-115"/>
<path d="M0 817l1-18 1 5 1-22 1-12 1-8 1-17 1-15 1-4 1-17 1-31 1-32 1-143 1-131 1-47 1-41 1 6 1 51 1 100 1 123 1 139 1 80 1 84 1 21 1 55 1-29 1 80 1 7 1 25 1-30 1-143"/>
<path d="M0 825l1-11 1 4 1-7 1-15 1-19 1-5 1-24 1-10 1-20 1-29 1-41 1-127 1-124 1-50 1-48 1 17 1 93 1 79 1 178 1 107 1 34 1 19 1 49 1 6 1 96 1 25 1 19 1-7 1-27 1-78"/>
<path d="M0 821l1-16 1 7 1-24 1-11 1-16 1-10 1-21 1-2 1-18 1-20 1-45 1-136 1-117 1-64 1-9 1-9 1 47 1 124 1 128 1 172 1 59 1 39 1-24 1 31 1 34 1 56 1 18 1 83 1-127 1-118"/>
<path d="M0 830l1-15 1 4 1-21 1-16 1-15 1-9 1-24 1 10 1-25 1-22 1-49 1-127 1-125 1-47 1-44 1-4 1 65 1 129 1 132 1 77 1 59 1 125 1-21 1 10 1 107 1-46 1 72 1-28 1-32 1-76"/>
<path d="M0 817l1-6 1 0 1-17 1-16 1-15 1-18 1-15 1-8 1-13 1-23 1-49 1-125 1-134 1-50 1-8 1-42 1 82 1 99 1 133 1 129 1 99 1 52 1-55 1 69 1 54 1-17 1 80 1 48 1-59 1-85"/>
<path d="M0 840l1-14 1-4 1-16 1-16 1-9 1-17 1-8 1-5 1-16 1-32 1-37 1-141 1-137 1-40 1-45 1-16 1 93 1 115 1 132 1 120 1 117 1-34 1 49 1 36 1 52 1 61 1-48 1 53 1-59 1-166"/>
<path d="M0 820l1-13 1-4 1-15 1-11 1-14 1-5 1-23 1-10 1-18 1-27 1-47 1-134 1-137 1-45 1-62 1 22 1 76 1 98 1 140 1 137 1 113 1-18 1 113 1-117 1 146 1 60 1-42 1 69 1-56 1-168"/>
<path d="M0 826l1-8 1-1 1-16 1-13 1-19 1-13 1-21 1-9 1-17 1-28 1-44 1-129 1-136 1-50 1-67 1 59 1 24 1 132 1 125 1 166 1 1 1 93 1 3 1-36 1 149 1-59 1 46 1 58 1 17 1-267"/>
<path d="M0 829l1-17 1 9 1-17 1-16 1-14 1-11 1-17 1-6 1-12 1-25 1-48 1-132 1-132 1-43 1-37 1-9 1 68 1 114 1 128 1 163 1-25 1 92 1 49 1-28 1 49 1 95 1-44 1 77 1-18 1-162"/>
<path d="M0 831l1-16 1 9 1-16 1-18 1-8 1-16 1-14 1-12 1-10 1-30 1-32 1-126 1-125 1-59 1-54 1-1 1 80 1 139 1 92 1 169 1 82 1-78 1 83 1 18 1 57 1 51 1 27 1-49 1 17 1-161"/>
<path d="M0 837l1-11 1 1 1-16 1-11 1-11 1-18 1-18 1-3 1-20 1-26 1-35 1-127 1-141 1-26 1-37 1-16 1 57 1 133 1 149 1 130 1 55 1 29 1-71 1 153 1-13 1 111 1-7 1 56 1-119 1-169"/>
<path d="M0 833l1-7 1-7 1-20 1-13 1-12 1-3 1-8 1-6 1-28 1-23 1-62 1-123 1-132 1-40 1-45 1-28 1 93 1 111 1 132 1 178 1 62 1-58 1 69 1 31 1-22 1 161 1-13 1-12 1 12 1-68"/>
<path d="M0 831l1-7 1-2 1-16 1-19 1-16 1-22 1-11 1-9 1-8 1-35 1-26 1-123 1-125 1-59 1-58 1 13 1 84 1 108 1 158 1 131 1 25 1 30 1-9 1 125 1-23 1 98 1-92 1 102 1-15 1-170"/>
<path d="M0 830l1-19 1 7 1-21 1-12 1-13 1-21 1-17 1-5 1-23 1-20 1-44 1-123 1-145 1-34 1-75 1 33 1 68 1 83 1 159 1 98 1 123 1 7 1 6 1 47 1 46 1 58 1 4 1-4 1 31 1-233"/>
<path d="M0 824l1-7 1 1 1-16 1-16 1-10 1-14 1-22 1-6 1-23 1-21 1-50 1-121 1-127 1-54 1-29 1 19 1 88 1 90 1 128 1 127 1-16 1 88 1-37 1 90 1 48 1-29 1 113 1-11 1-41 1-205"/>
<path d="M0 830l1-13 1-1 1-20 1-19 1-10 1-9 1-20 1 3 1-20 1-28 1-45 1-134 1-135 1-49 1-45 1 22 1 64 1 94 1 148 1 169 1 67 1-20 1-26 1 124 1-29 1 61 1 34 1 9 1 23 1-180"/>
<path d="M0 831l1-18 1 6 1-17 1-20 1-12 1-13 1-18 1 4 1-26 1-21 1-60 1-121 1-132 1-36 1-46 1 12 1 75 1 75 1 151 1 142 1 91 1 2 1 5 1-27 1 92 1 81 1 9 1-1 1 2 1-154"/>
<path d="M0 812l1-9 1 8 1-11 1-14 1-14 1-9 1-21 1 3 1-26 1-25 1-34 1-137 1-136 1-63 1-61 1 30 1 57 1 139 1 146 1 117 1 59 1 104 1-49 1-20 1 63 1 104 1-30 1 20 1-32 1-131"/>
<path d="M0 821l1-15 1 9 1-23 1-12 1-18 1-9 1-10 1-7 1-21 1-25 1-45 1-130 1-113 1-60 1-36 1-9 1 77 1 75 1 112 1 193 1 80 1 21 1 52 1-24 1 71 1 97 1-23 1 20 1-20 1-183"/>
<path d="M0 825l1-18 1 4 1-21 1-21 1-9 1-4 1-20 1-6 1-15 1-23 1-58 1-120 1-143 1-48 1-37 1 3 1 85 1 99 1 117 1 221 1 53 1-23 1-75 1 87 1 94 1 69 1-60 1 72 1-13 1-206"/>
<path d="M0 815l1-9 1 4 1-16 1-16 1-18 1-20 1-8 1-5 1-24 1-20 1-42 1-128 1-165 1-54 1-39 1 17 1 84 1 71 1 140 1 191 1-4 1 17 1 124 1 15 1 52 1 14 1 33 1 17 1-58 1-187"/>
<path d="M0 831l1-17 1 1 1-18 1-23 1-18 1-6 1-5 1-11 1-25 1-21 1-56 1-134 1-132 1-60 1-16 1 10 1 66 1 112 1 136 1 108 1 34 1 111 1-31 1 47 1 60 1 62 1-10 1 3 1-55 1-85"/>
<path d="M0 821l1-12 1-1 1-12 1-19 1-6 1-26 1-7 1-7 1-20 1-23 1-59 1-123 1-144 1-30 1-54 1 22 1 59 1 121 1 132 1 127 1 62 1 14 1 49 1-20 1 110 1 44 1 36 1-56 1 8 1-137"/>
<path d="M0 815l1-10 1 4 1-21 1-18 1-14 1-17 1-8 1-11 1-11 1-30 1-44 1-125 1-137 1-73 1 9 1-13 1 47 1 117 1 97 1 91 1 137 1 43 1 2 1 54 1 17 1 103 1-3 1 1 1 8 1-189"/>
<path d="M0 809l1-7 1-2 1-14 1-18 1-13 1-14 1-15 1-8 1-16 1-27 1-41 1-133 1-130 1-53 1-47 1 11 1 77 1 75 1 118 1 289 1-124 1 109 1 93 1-77 1 122 1 35 1-13 1-1 1-16 1-210"/>
<path d="M0 823l1-17 1 8 1-23 1-13 1-11 1-12 1-19 1-1 1-19 1-18 1-56 1-120 1-138 1-50 1-22 1-20 1 80 1 88 1 153 1 30 1 118 1 68 1 70 1-3 1 56 1-3 1 53 1 18 1-87 1-31"/>
<path d="M0 836l1-14 1-5 1-9 1-22 1-5 1-13 1-17 1-2 1-30 1-28 1-33 1-143 1-102 1-53 1-38 1-15 1 88 1 114 1 155 1 100 1 56 1 42 1 8 1 13 1 67 1 74 1-39 1 39 1 21 1-245"/>
<path d="M0 806l1-8 1 0 1-11 1-14 1-9 1-22 1-12 1 2 1-23 1-27 1-46 1-140 1-137 1-52 1-44 1 13 1 67 1 111 1 102 1 234 1 2 1 36 1 35 1 42 1 42 1-13 1 59 1 19 1-12 1-160"/>
<path d="M0 836l1-16 1 3 1-22 1-12 1-9 1-15 1-25 1-2 1-24 1-28 1-46 1-129 1-118 1-67 1 8 1-15 1 94 1 118 1 109 1 179 1-42 1 111 1 26 1-41 1 76 1 44 1-4 1 63 1-102 1-69"/>
<path d="M0 829l1-13 1 6 1-21 1-12 1-10 1-7 1-17 1-13 1-19 1-27 1-46 1-120 1-133 1-64 1-27 1-8 1 84 1 122 1 134 1 115 1 4 1 78 1 79 1-3 1 51 1-6 1 30 1 49 1-82 1-73"/>
<path d="M0 829l1-13 1-2 1-16 1-14 1-20 1 1 1-19 1-3 1-12 1-38 1-39 1-134 1-146 1-43 1-31 1 7 1 69 1 131 1 103 1 120 1 55 1 80 1 21 1 2 1 82 1 17 1 16 1 26 1-74 1-68"/>
<path d="M0 827l1-18 1 4 1-13 1-9 1-21 1-9 1-19 1 0 1-22 1-25 1-50 1-123 1-122 1-59 1-42 1 35 1 16 1 122 1 142 1 179 1 21 1-13 1-35 1 124 1 32 1 106 1-96 1 35 1-27 1-110"/>
<path d="M0 845l1-10 1-1 1-14 1-20 1-9 1-8 1-16 1 1 1-32 1-23 1-30 1-133 1-124 1-43 1-57 1-22 1 107 1 127 1 158 1 87 1 39 1 100 1-115 1 147 1-38 1 88 1-13 1 88 1-122 1-176"/>
<path d="M0 835l1-11 1 0 1-13 1-20 1-20 1-17 1-20 1-9 1-8 1-36 1-35 1-123 1-127 1-29 1-47 1-33 1 88 1 145 1 136 1 154 1 39 1-64 1 92 1 33 1 0 1 82 1 18 1-18 1 19 1-175"/>
<path d="M0 823l1-22 1 7 1-17 1-11 1-20 1-13 1-20 1 1 1-23 1-22 1-62 1-129 1-130 1-43 1-71 1 34 1 62 1 94 1 132 1 146 1 31 1 24 1 49 1-17 1 143 1 67 1 22 1-66 1-3 1-81"/>
<path d="M0 810l1-10 1 3 1-21 1-21 1-10 1-20 1-18 1-2 1-16 1-30 1-56 1-132 1-133 1-44 1-49 1 28 1 29 1 74 1 114 1 274 1 30 1 103 1-47 1-30 1 83 1 70 1-21 1 50 1-58 1-156"/>
<path d="M0 820l1-2 1 2 1-25 1-8 1-21 1-11 1-24 1-6 1-15 1-34 1-40 1-134 1-137 1-17 1-47 1-3 1 103 1 59 1 157 1 151 1 50 1 4 1 37 1 18 1 96 1-22 1 21 1 24 1-60 1-107"/>
<path d="M0 822l1-13 1 4 1-22 1-17 1-8 1-20 1-11 1 3 1-26 1-34 1-48 1-130 1-130 1-67 1-39 1 21 1 36 1 112 1 134 1 158 1 19 1 79 1 38 1 31 1 70 1 99 1-82 1 73 1-31 1-244"/>
<path d="M0 824l1-25 1 3 1-12 1-18 1-10 1-16 1-12 1-4 1-21 1-19 1-43 1-131 1-117 1-69 1-32 1 0 1 48 1 73 1 115 1 244 1 26 1-6 1 98 1-71 1 48 1 84 1 51 1-32 1-21 1-90"/>
<path d="M0 826l1-11 1-2 1-16 1-20 1-10 1-17 1-11 1-6 1-8 1-27 1-36 1-131 1-135 1-46 1-41 1 8 1 51 1 133 1 93 1 152 1 69 1 47 1 24 1-63 1 103 1 10 1 45 1 114 1-86 1-113"/>
<path d="M0 836l1-16 1 1 1-19 1-18 1-15 1-14 1-9 1-4 1-24 1-20 1-32 1-141 1-113 1-55 1-44 1 5 1 67 1 97 1 135 1 98 1 133 1 11 1-20 1 83 1 32 1 80 1-69 1 30 1-14 1-127"/>
<path d="M0 830l1-19 1-2 1-12 1-19 1-12 1-12 1-15 1-5 1-32 1-20 1-46 1-126 1-129 1-58 1-6 1 16 1 0 1 145 1 143 1 68 1 59 1 117 1 18 1 44 1-50 1 133 1-38 1 69 1-53 1-191"/>
<path d="M0 834l1-22 1-2 1-18 1-27 1-3 1-17 1-19 1-5 1-12 1-29 1-51 1-131 1-146 1-47 1-20 1-3 1 60 1 126 1 122 1 160 1 14 1 65 1 39 1 12 1 32 1 78 1-20 1 65 1-85 1-97"/>
<path d="M0 824l1-15 1 2 1-21 1-17 1-10 1-3 1-21 1-11 1-12 1-34 1-47 1-122 1-127 1-64 1-45 1 53 1 35 1 116 1 118 1 150 1 70 1-40 1 90 1-32 1 79 1 72 1 17 1-22 1-24 1-119"/>
<path d="M0 823l1-10 1-3 1-18 1-11 1-11 1-18 1-16 1 3 1-19 1-22 1-52 1-129 1-135 1-84 1-7 1 17 1 47 1 116 1 139 1 139 1 62 1 32 1-15 1 7 1 105 1 63 1 6 1 28 1-26 1-170"/>
<path d="M0 826l1-5 1-3 1-17 1-10 1-18 1-11 1-13 1-10 1-26 1-21 1-48 1-123 1-133 1-42 1-64 1 10 1 82 1 105 1 116 1 142 1 38 1 58 1 93 1-77 1 128 1 13 1 19 1 80 1-160 1-87"/>
<path d="M0 837l1-16 1 2 1-24 1-11 1-7 1-18 1-19 1-3 1-17 1-20 1-40 1-125 1-138 1-51 1-59 1-7 1 88 1 98 1 150 1 158 1 44 1 53 1 18 1 48 1 25 1 30 1 15 1 101 1-73 1-143"/>
<path d="M0 831l1-16 1 3 1-20 1-20 1-11 1-4 1-22 1-4 1-25 1-9 1-56 1-118 1-124 1-54 1-48 1 6 1 75 1 87 1 150 1 113 1 53 1 53 1 5 1 39 1 126 1-12 1 60 1-58 1-34 1-116"/>
<path d="M0 817l1-16 1 3 1-18 1-7 1-19 1-3 1-23 1-2 1-20 1-26 1-58 1-121 1-126 1-50 1-27 1-21 1 96 1 74 1 117 1 196 1 33 1-40 1 121 1 19 1 36 1 49 1-56 1 128 1-15 1-206"/>
<path d="M0 820l1-16 1-5 1-15 1-15 1-11 1-13 1-20 1 6 1-17 1-37 1-44 1-133 1-139 1-52 1-67 1 26 1 85 1 90 1 148 1 141 1 87 1-26 1 50 1 71 1 36 1 24 1 5 1-34 1 38 1-134"/>
<path d="M0 823l1-10 1 1 1-16 1-17 1-18 1-24 1-15 1-2 1-14 1-21 1-35 1-133 1-132 1-42 1-54 1-22 1 84 1 112 1 125 1 141 1 59 1 72 1-65 1 54 1 23 1 143 1-24 1 7 1-23 1-207"/>
<path d="M0 823l1-12 1 2 1-9 1-27 1-9 1-16 1-16 1-6 1-12 1-24 1-51 1-130 1-138 1-36 1-80 1 45 1 69 1 108 1 161 1 131 1 34 1 82 1 71 1-59 1 110 1-20 1 0 1 20 1-46 1-189"/>
<path d="M0 824l1-12 1-1 1-15 1-18 1-17 1-15 1-6 1-8 1-20 1-30 1-54 1-123 1-130 1-43 1-33 1-16 1 52 1 105 1 133 1 147 1 29 1 64 1 91 1 36 1-31 1 41 1 5 1 56 1-35 1-129"/>
<path d="M0 812l1-10 1 8 1-14 1-18 1-16 1-18 1-14 1-10 1-13 1-22 1-57 1-134 1-141 1-50 1-26 1 16 1 47 1 122 1 134 1 87 1 76 1 43 1 45 1-28 1 96 1 39 1 20 1 24 1-46 1-165"/>
<path d="M0 800l1-8 1 3 1-14 1-15 1-12 1-7 1-20 1-5 1-19 1-30 1-43 1-144 1-126 1-49 1-42 1-12 1 116 1 55 1 140 1 146 1 4 1 177 1-48 1 9 1 144 1-39 1-2 1 58 1-40 1-98"/>
<path d="M0 812l1-21 1 6 1-15 1-14 1-13 1-5 1-19 1-6 1-20 1-28 1-55 1-134 1-132 1-39 1-40 1-16 1 42 1 112 1 120 1 208 1 40 1-42 1 138 1-62 1 74 1 122 1-34 1 20 1-39 1-188"/>
<path d="M0 822l1-8 1-1 1-17 1-13 1-14 1-6 1-15 1-14 1-12 1-23 1-45 1-134 1-135 1-63 1-40 1 4 1 54 1 106 1 149 1 137 1 87 1 87 1-16 1 13 1 28 1 79 1-43 1 18 1-33 1-104"/>
<path d="M0 821l1-6 1-6 1-15 1-9 1-25 1-5 1-12 1-8 1-21 1-29 1-54 1-126 1-129 1-55 1-16 1 20 1 38 1 105 1 147 1 71 1 104 1 37 1 2 1 21 1 80 1 67 1 47 1-43 1-14 1-134"/>
<path d="M0 825l1-2 1-9 1-16 1-10 1-23 1-3 1-19 1 2 1-27 1-20 1-55 1-124 1-136 1-44 1-56 1 33 1 49 1 108 1 144 1 161 1 89 1-62 1 42 1 47 1 7 1 55 1 54 1-21 1-25 1-128"/>
<path d="M0 821l1-18 1 6 1-17 1-20 1-18 1-10 1-22 1 5 1-18 1-18 1-44 1-120 1-130 1-66 1-29 1 6 1 69 1 75 1 136 1 128 1 75 1 52 1-9 1 45 1 83 1 38 1-7 1 9 1-31 1-177"/>
<path d="M0 822l1-22 1 6 1-20 1-17 1-17 1-7 1-18 1 1 1-21 1-21 1-64 1-124 1-139 1-49 1-20 1-13 1 52 1 97 1 135 1 210 1 6 1 50 1 24 1 65 1-17 1 76 1 45 1-19 1-44 1-160"/>
<path d="M0 837l1-14 1-1 1-13 1-11 1-11 1-9 1-18 1-4 1-23 1-26 1-48 1-116 1-128 1-66 1-44 1 5 1 99 1 117 1 136 1 29 1 51 1 78 1 22 1 82 1 47 1 2 1-4 1-2 1 25 1-146"/>
<path d="M0 833l1-18 1 2 1-18 1-15 1-12 1-17 1-17 1 4 1-30 1-28 1-47 1-138 1-127 1-46 1-24 1 38 1 41 1 104 1 124 1 162 1 50 1-30 1 31 1 35 1 57 1 78 1-70 1 65 1 38 1-208"/>
<path d="M0 810l1-19 1 6 1-13 1-10 1-9 1-16 1-20 1-4 1-27 1-31 1-50 1-126 1-152 1-28 1-34 1-32 1 70 1 106 1 144 1 184 1 24 1 65 1 74 1-39 1 23 1 108 1-27 1 72 1-84 1-152"/>
<path d="M0 840l1-11 1-1 1-17 1-17 1-19 1 2 1-18 1-9 1-15 1-22 1-38 1-135 1-132 1-61 1-39 1 13 1 64 1 133 1 148 1 67 1 24 1 65 1 58 1 35 1 2 1 99 1 39 1-24 1 22 1-216"/>
<path d="M0 820l1-13 1 1 1-17 1-18 1-17 1-13 1-25 1 0 1-18 1-24 1-49 1-125 1-140 1-45 1-36 1 9 1 56 1 101 1 113 1 210 1 82 1-46 1 9 1-12 1 76 1 110 1 23 1 1 1-118 1-44"/>
<path d="M0 816l1-26 1 7 1-15 1-19 1-13 1-11 1-19 1-5 1-20 1-22 1-42 1-128 1-131 1-61 1-60 1 56 1 51 1 84 1 125 1 264 1-27 1 58 1-27 1 38 1 35 1 48 1 62 1-48 1 18 1-137"/>
<path d="M0 837l1-22 1 11 1-24 1-11 1-15 1-15 1-13 1 6 1-25 1-22 1-50 1-135 1-131 1-46 1-20 1 14 1 71 1 82 1 115 1 140 1-8 1 103 1 22 1 3 1 65 1 30 1 56 1 18 1-52 1-151"/>
<path d="M0 827l1-12 1-1 1-14 1-12 1-14 1-9 1-13 1-6 1-22 1-26 1-39 1-134 1-136 1-48 1-35 1 20 1 45 1 131 1 125 1 157 1 17 1 49 1 1 1 54 1 5 1 111 1 11 1-52 1 35 1-205"/>
<path d="M0 806l1-10 1 5 1-20 1-18 1-8 1-19 1-13 1-8 1-21 1-22 1-43 1-122 1-131 1-44 1-52 1-9 1 66 1 91 1 99 1 179 1 58 1 143 1-20 1-39 1 107 1-29 1-19 1 153 1-143 1-87"/>
<path d="M0 832l1-21 1 5 1-20 1-8 1-14 1-11 1-7 1-5 1-26 1-30 1-61 1-124 1-121 1-36 1-61 1 18 1 62 1 104 1 97 1 163 1 76 1 111 1-90 1 102 1-6 1 45 1-14 1 93 1-74 1-176"/>
<path d="M0 838l1-13 1 2 1-15 1-12 1-20 1-11 1-18 1-8 1-21 1-17 1-41 1-129 1-123 1-52 1-37 1-38 1 85 1 109 1 155 1 105 1 131 1-10 1 27 1 38 1-12 1 116 1-29 1 27 1-4 1-218"/>
<path d="M0 821l1-10 1 4 1-20 1-13 1-9 1-13 1-13 1-3 1-26 1-20 1-55 1-124 1-131 1-28 1-76 1 18 1 87 1 77 1 135 1 119 1 69 1 51 1 65 1-60 1 113 1-29 1 79 1-24 1-33 1-144"/>
<path d="M0 843l1-14 1 1 1-23 1-21 1-17 1-14 1-14 1 0 1-25 1-8 1-52 1-118 1-131 1-66 1-51 1 2 1 120 1 116 1 150 1 64 1 66 1 66 1-44 1 33 1 63 1 107 1-10 1 2 1-10 1-113"/>
<path d="M0 835l1-12 1 3 1-18 1-11 1-19 1-1 1-22 1-4 1-25 1-23 1-43 1-141 1-119 1-44 1-35 1-26 1 69 1 135 1 151 1 79 1 31 1 101 1-15 1 12 1 37 1 157 1-93 1 32 1-27 1-63"/>
<path d="M0 807l1-9 1-2 1-19 1-19 1-8 1-7 1-13 1-2 1-23 1-18 1-58 1-144 1-132 1-64 1-24 1-3 1 82 1 79 1 121 1 158 1 59 1 39 1 25 1 88 1 23 1 52 1-18 1 94 1-113 1-115"/>
<path d="M0 824l1-8 1-1 1-17 1-20 1-14 1-10 1-8 1-13 1-12 1-28 1-44 1-123 1-133 1-48 1-5 1-49 1 109 1 95 1 113 1 137 1 98 1-4 1 21 1 37 1 54 1 6 1 95 1-17 1-39 1-176"/>
<path d="M0 828l1-7 1 4 1-24 1-10 1-16 1-15 1-5 1-6 1-31 1-21 1-47 1-124 1-131 1-51 1-46 1-3 1 92 1 91 1 153 1 139 1-22 1 113 1-37 1-11 1 90 1 157 1-72 1 113 1-100 1-169"/>
<path d="M0 846l1-23 1 4 1-17 1-11 1-20 1 2 1-12 1-4 1-24 1-20 1-55 1-130 1-132 1-49 1-46 1 13 1 91 1 74 1 156 1 171 1 16 1 4 1 75 1 1 1-1 1 110 1-94 1 97 1-23 1-144"/>
<path d="M0 835l1-18 1 2 1-12 1-18 1-14 1-13 1-21 1-9 1-18 1-15 1-40 1-120 1-138 1-39 1-54 1 19 1 73 1 115 1 125 1 129 1 70 1 50 1 29 1-16 1 28 1 61 1-33 1 28 1 61 1-163"/>
<path d="M0 815l1-6 1-4 1-16 1-21 1-12 1-10 1-11 1-12 1-7 1-25 1-42 1-134 1-140 1-34 1-47 1-5 1 64 1 106 1 130 1 175 1 15 1 67 1-18 1 56 1 29 1 80 1 23 1 17 1-93 1-135"/>
<path d="M0 819l1-13 1 3 1-11 1-24 1-9 1-13 1-25 1 2 1-31 1-13 1-57 1-129 1-107 1-55 1-66 1 55 1 61 1 85 1 104 1 98 1 120 1 16 1 76 1 32 1-34 1 141 1-6 1-3 1-26 1-139"/>
<path d="M0 822l1-13 1-3 1-14 1-22 1-11 1-13 1-8 1 6 1-31 1-26 1-58 1-123 1-129 1-41 1-10 1-39 1 92 1 72 1 124 1 212 1 60 1-30 1 40 1 11 1 44 1 126 1-7 1-77 1 24 1-145"/>
<path d="M0 820l1-10 1 3 1-25 1 2 1-25 1-9 1-19 1-9 1-23 1-23 1-43 1-136 1-140 1-41 1-29 1-24 1 86 1 78 1 106 1 246 1 19 1-33 1 96 1-23 1 57 1 139 1-75 1 106 1-53 1-209"/>
<path d="M0 819l1-16 1 3 1-15 1-14 1-7 1-13 1-19 1 0 1-21 1-21 1-49 1-137 1-122 1-56 1-17 1-33 1 66 1 101 1 146 1 156 1 48 1 81 1-35 1 60 1 32 1 91 1-24 1-9 1-4 1-152"/>
<path d="M0 833l1-20 1 6 1-21 1-17 1-16 1-15 1-17 1-5 1-21 1-25 1-30 1-126 1-140 1-36 1-41 1-7 1 103 1 72 1 149 1 108 1 74 1 81 1-9 1 20 1 83 1-13 1 22 1 75 1-28 1-213"/>
<path d="M0 846l1-15 1 7 1-26 1 1 1-16 1-7 1-25 1-2 1-31 1-28 1-39 1-115 1-114 1-59 1-37 1 20 1 43 1 129 1 132 1 126 1 6 1 88 1 26 1-40 1 107 1 5 1 5 1 62 1-32 1-197"/>
<path d="M0 811l1-19 1 13 1-21 1-19 1-15 1-6 1-24 1-1 1-21 1-19 1-47 1-137 1-125 1-40 1-74 1 16 1 88 1 118 1 114 1 78 1 135 1 65 1-28 1-5 1 161 1 19 1-60 1 7 1 10 1-141"/>
<path d="M0 823l1-12 1 4 1-14 1-12 1-11 1-18 1-16 1-10 1-28 1-32 1-40 1-123 1-117 1-52 1-78 1 34 1 69 1 118 1 149 1 103 1 55 1 89 1-62 1 108 1-31 1 52 1 38 1 31 1-36 1-199"/>
<path d="M0 801l1-16 1 12 1-12 1-14 1-16 1-11 1-19 1-6 1-19 1-32 1-52 1-125 1-144 1-55 1-60 1 7 1 75 1 94 1 106 1 248 1 47 1-48 1 124 1-33 1 103 1 48 1-81 1 85 1-1 1-241"/>
<path d="M0 825l1-8 1 2 1-17 1-11 1-22 1-11 1-19 1-7 1-8 1-30 1-35 1-131 1-133 1-85 1-5 1 9 1 75 1 63 1 139 1 170 1 101 1 38 1-75 1 46 1 38 1 78 1 9 1-37 1-12 1-164"/>
<path d="M0 832l1-13 1 2 1-21 1-9 1-22 1-14 1-10 1-6 1-27 1-24 1-46 1-122 1-144 1-50 1-46 1 3 1 97 1 113 1 141 1 123 1 55 1 51 1-43 1 91 1 13 1 140 1-68 1 40 1-35 1-126"/>
<path d="M0 835l1-20 1 2 1-15 1-12 1-14 1-9 1-17 1-5 1-17 1-19 1-48 1-130 1-142 1-37 1-59 1 7 1 106 1 81 1 121 1 171 1 34 1 24 1 22 1-72 1 97 1 132 1-1 1-3 1-7 1-131"/>
<path d="M0 838l1-8 1-10 1-7 1-24 1-1 1-12 1-22 1-5 1-22 1-34 1-37 1-131 1-133 1-24 1-54 1 5 1 90 1 115 1 102 1 162 1 34 1 51 1 28 1-87 1 125 1 63 1-5 1 8 1-5 1-273"/>
<path d="M0 824l1-13 1-2 1-11 1-16 1-18 1-13 1-9 1-9 1-21 1-19 1-57 1-124 1-117 1-23 1-68 1-12 1 88 1 93 1 122 1 107 1 102 1 30 1-1 1 17 1 54 1 76 1 71 1-55 1 54 1-279"/>
<path d="M0 818l1-4 1 0 1-23 1-12 1-29 1-4 1-21 1 3 1-13 1-24 1-50 1-126 1-131 1-59 1-9 1-32 1 75 1 101 1 145 1 160 1 60 1-33 1 42 1 32 1 104 1 69 1-37 1 13 1-45 1-168"/>
<path d="M0 819l1-16 1 15 1-18 1-20 1-12 1-14 1-18 1-5 1-14 1-19 1-58 1-113 1-131 1-62 1-38 1 33 1 47 1 103 1 132 1 108 1 101 1 31 1 49 1-13 1 54 1 59 1 14 1 16 1-30 1-145"/>
<path d="M0 824l1-5 1 2 1-27 1-10 1-17 1-6 1-25 1-3 1-22 1-24 1-36 1-124 1-122 1-62 1-23 1 2 1 75 1 98 1 145 1 75 1 126 1 23 1 37 1-108 1 174 1 42 1 33 1-17 1-15 1-191"/>
<path d="M0 838l1-18 1-1 1-15 1-19 1-13 1-7 1-14 1-10 1-21 1-20 1-43 1-128 1-126 1-79 1-17 1-5 1 101 1 92 1 137 1 81 1 83 1 68 1-31 1 51 1 89 1 29 1 19 1 40 1-143 1-86"/>
<path d="M0 817l1-9 1-2 1-16 1-14 1-19 1-5 1-17 1-10 1-21 1-22 1-50 1-144 1-112 1-56 1-26 1 11 1 53 1 95 1 125 1 151 1 72 1 42 1-41 1 67 1 4 1 108 1-4 1 103 1-43 1-185"/>
<path d="M0 816l1-9 1-8 1-16 1-10 1-11 1-17 1-12 1-8 1-22 1-22 1-53 1-118 1-142 1-58 1-57 1-10 1 86 1 90 1 142 1 130 1 121 1 8 1 66 1 15 1-32 1 100 1 21 1 47 1-29 1-164"/>
<path d="M0 829l1-5 1 2 1-24 1-12 1-23 1 3 1-22 1-1 1-23 1-23 1-46 1-120 1-123 1-59 1-44 1 13 1 75 1 87 1 144 1 161 1 0 1 89 1 26 1-14 1 68 1 32 1 19 1 16 1-8 1-241"/>
<path d="M0 836l1-11 1 1 1-23 1-5 1-21 1-1 1-23 1-1 1-23 1-25 1-45 1-128 1-138 1-45 1-54 1 8 1 96 1 129 1 113 1 153 1-4 1 36 1 37 1 45 1 4 1 64 1 50 1 29 1-46 1-223"/>
<path d="M0 830l1-14 1 1 1-12 1-14 1-13 1-9 1-22 1-2 1-22 1-29 1-49 1-130 1-121 1-63 1-39 1 17 1 77 1 96 1 150 1 108 1 33 1 110 1-87 1 66 1 54 1 23 1-10 1 78 1-83 1-20"/>
<path d="M0 836l1-18 1 4 1-22 1-13 1-16 1-7 1-19 1-2 1-19 1-25 1-43 1-122 1-139 1-55 1-19 1-25 1 113 1 92 1 150 1 66 1 99 1-24 1 79 1 16 1 38 1 98 1-39 1 68 1-73 1-109"/>
<path d="M0 817l1-9 1 5 1-20 1-21 1-16 1-13 1-14 1-7 1-14 1-25 1-56 1-126 1-124 1-44 1-18 1 3 1 65 1 77 1 126 1 159 1 54 1 62 1 11 1-58 1 88 1 68 1 45 1-2 1-53 1-156"/>
<path d="M0 838l1-10 1 2 1-19 1-11 1-17 1-16 1-15 1-8 1-24 1-29 1-42 1-128 1-113 1-68 1-39 1 25 1 103 1 105 1 111 1 121 1 43 1-10 1 132 1-106 1 97 1 115 1-49 1 58 1-95 1-84"/>
<path d="M0 830l1-9 1 1 1-17 1-15 1-17 1-17 1-18 1-4 1-20 1-30 1-38 1-135 1-136 1-36 1-47 1-28 1 67 1 113 1 126 1 182 1 59 1 18 1 102 1-41 1 53 1 49 1-21 1 67 1-68 1-109"/>
<path d="M0 846l1-9 1-3 1-18 1-15 1-21 1-18 1-24 1-9 1-18 1-25 1-37 1-119 1-124 1-49 1-5 1-34 1 69 1 119 1 145 1 90 1 111 1 65 1-30 1-74 1 101 1 68 1 37 1-1 1-58 1-39"/>
<path d="M0 825l1-7 1 6 1-24 1-9 1-14 1-6 1-24 1 2 1-24 1-32 1-51 1-130 1-111 1-61 1-66 1 15 1 96 1 100 1 105 1 143 1 54 1 27 1 23 1 37 1 73 1 49 1 26 1-22 1 17 1-217"/>
<path d="M0 801l1-14 1 7 1-21 1-20 1-9 1-21 1-3 1-3 1-19 1-32 1-46 1-138 1-152 1-58 1-46 1 34 1 38 1 111 1 86 1 275 1 28 1 60 1-15 1 20 1 45 1 86 1-62 1 56 1-25 1-127"/>
<path d="M0 835l1-15 1 4 1-14 1-17 1-10 1-8 1-18 1-9 1-21 1-27 1-48 1-117 1-123 1-69 1-19 1-22 1 69 1 101 1 150 1 106 1 143 1-26 1 18 1 27 1 81 1 58 1 11 1 12 1-53 1-137"/>
<path d="M0 818l1-10 1 6 1-19 1-15 1-10 1-18 1-13 1-5 1-25 1-18 1-62 1-125 1-147 1-36 1-48 1 3 1 68 1 99 1 105 1 186 1 1 1 141 1-34 1 102 1-7 1 50 1-9 1-15 1 12 1-124"/>
<path d="M0 825l1-12 1 6 1-21 1-12 1-10 1-10 1-15 1-7 1-22 1-22 1-54 1-127 1-130 1-43 1-63 1 2 1 69 1 149 1 149 1 97 1 33 1 78 1-23 1 31 1 22 1 138 1-5 1 2 1-91 1-77"/>
<path d="M0 814l1-15 1 3 1-20 1-20 1-14 1 1 1-28 1 4 1-27 1-26 1-54 1-126 1-150 1-50 1-24 1-15 1 103 1 77 1 113 1 188 1 75 1 10 1 31 1 11 1 68 1 94 1-64 1 12 1-22 1-130"/>
<path d="M0 832l1-25 1 8 1-15 1-17 1-11 1-17 1-11 1-8 1-22 1-26 1-41 1-134 1-132 1-66 1-16 1 2 1 40 1 119 1 132 1 118 1 101 1 53 1 7 1 71 1-3 1 80 1-68 1 14 1 24 1-221"/>
<path d="M0 832l1-9 1-6 1-14 1-20 1-14 1-9 1-10 1-13 1-16 1-19 1-55 1-122 1-126 1-60 1-52 1 34 1 1 1 128 1 151 1 109 1 33 1 17 1 111 1 30 1 91 1-6 1 4 1 45 1-26 1-150"/>
<path d="M0 819l1-20 1-1 1-20 1-20 1-12 1-11 1-9 1 2 1-19 1-16 1-50 1-133 1-134 1-54 1-50 1 16 1 38 1 99 1 141 1 162 1 75 1 48 1 2 1 12 1 67 1 32 1-41 1 90 1-95 1-42"/>
<path d="M0 808l1-7 1 3 1-15 1-17 1-10 1-6 1-23 1-5 1-20 1-24 1-51 1-121 1-148 1-64 1-12 1-16 1 97 1 97 1 115 1 92 1 91 1 99 1 4 1 22 1 52 1 56 1-61 1 82 1-50 1-240"/>
<path d="M0 822l1-15 1-1 1-15 1-19 1-11 1-19 1-14 1-4 1-12 1-28 1-37 1-141 1-141 1-62 1-20 1 3 1 59 1 125 1 153 1 110 1 80 1 47 1-59 1 88 1 92 1 19 1 26 1-21 1-22 1-171"/>
<path d="M0 834l1-10 1 5 1-20 1-9 1-14 1-11 1-23 1-4 1-19 1-27 1-42 1-118 1-138 1-37 1-55 1-15 1 76 1 143 1 127 1 89 1 44 1 125 1-49 1 43 1 51 1 43 1 13 1 64 1-88 1-110"/>
<path d="M0 837l1-10 1-8 1-15 1-12 1-17 1-20 1-19 1-1 1-18 1-25 1-37 1-129 1-127 1-49 1-48 1 13 1 96 1 85 1 118 1 187 1-42 1 100 1 40 1 25 1 38 1 20 1-46 1 96 1-100 1-103"/>
<path d="M0 820l1-24 1 6 1-19 1-19 1-16 1-12 1-21 1 6 1-21 1-21 1-56 1-129 1-128 1-56 1-24 1-12 1 44 1 98 1 128 1 205 1 24 1 96 1-63 1 34 1 78 1 34 1 43 1 11 1 15 1-106"/>
<path d="M0 846l1-21 1 1 1-16 1-10 1-12 1-12 1-20 1-5 1-26 1-14 1-56 1-114 1-127 1-61 1-49 1 17 1 108 1 98 1 115 1 103 1 74 1-24 1 53 1 97 1-22 1 81 1 1 1 32 1-77 1-118"/>
<path d="M0 819l1-17 1 10 1-25 1-24 1-14 1-15 1-14 1-6 1-18 1-22 1-47 1-125 1-143 1-57 1-10 1-29 1 27 1 121 1 102 1 214 1 34 1 59 1 4 1 117 1-16 1 93 1-28 1 30 1-39 1-113"/>
<path d="M0 821l1-15 1-1 1-18 1-15 1-17 1-12 1-12 1-10 1-20 1-31 1-38 1-142 1-120 1-60 1-53 1 8 1 59 1 104 1 151 1 209 1 13 1 102 1-48 1 23 1 58 1 58 1 20 1 56 1-52 1-227"/>
<path d="M0 820l1-7 1 9 1-20 1-7 1-24 1-18 1-13 1-6 1-19 1-23 1-56 1-129 1-127 1-65 1-52 1 39 1 82 1 66 1 164 1 79 1 116 1 0 1 15 1 47 1 61 1 110 1-114 1 118 1-106 1-63"/>
<path d="M0 837l1-9 1-1 1-19 1-14 1-20 1-23 1-3 1-12 1-11 1-21 1-37 1-133 1-143 1-48 1-33 1 11 1 73 1 90 1 139 1 114 1 64 1 5 1 1 1 66 1 11 1 93 1-8 1 52 1-16 1-147"/>
<path d="M0 836l1-19 1 3 1-15 1-14 1-19 1-6 1-13 1-4 1-23 1-25 1-40 1-121 1-137 1-55 1-46 1 43 1 82 1 103 1 144 1 129 1 11 1 33 1-17 1 49 1 17 1 112 1-7 1 9 1-30 1-139"/>
<path d="M0 812l1-14 1 7 1-15 1-8 1-21 1-8 1-12 1-15 1-13 1-32 1-39 1-140 1-140 1-50 1-54 1 4 1 99 1 52 1 147 1 195 1 33 1 44 1 9 1 58 1 8 1 70 1-2 1 33 1-18 1-118"/>
<path d="M0 810l1-11 1 14 1-18 1-16 1-5 1-25 1-17 1 3 1-21 1-24 1-61 1-122 1-128 1-52 1-39 1 1 1 89 1 88 1 115 1 167 1 41 1 17 1 69 1-45 1 116 1 38 1-3 1 7 1-76 1-23"/>
<path d="M0 833l1-14 1 5 1-14 1-15 1-14 1-8 1-17 1-9 1-22 1-18 1-48 1-138 1-133 1-54 1-43 1 47 1 73 1 78 1 125 1 119 1 20 1 65 1 4 1-6 1 148 1-36 1 91 1 21 1-5 1-178"/>
<path d="M0 836l1-16 1 5 1-13 1-17 1-15 1-10 1-14 1-14 1-16 1-20 1-41 1-134 1-150 1-40 1-29 1-5 1 82 1 110 1 127 1 41 1 144 1 53 1 19 1 47 1-3 1 101 1-78 1 60 1-37 1-98"/>
<path d="M0 825l1-15 1-1 1-19 1-11 1-13 1-18 1-10 1-7 1-23 1-29 1-47 1-124 1-127 1-41 1-45 1 2 1 47 1 98 1 115 1 192 1 44 1 75 1-29 1 65 1 52 1 16 1-21 1 67 1-60 1-133"/>
<path d="M0 829l1-2 1-2 1-19 1-9 1-22 1-13 1-22 1-8 1-19 1-22 1-32 1-126 1-131 1-53 1-61 1 21 1 60 1 138 1 108 1 153 1 57 1 1 1-16 1 108 1-17 1 47 1 31 1 17 1-21 1-209"/>
<path d="M0 828l1-11 1 0 1-24 1-8 1-4 1-17 1-23 1-3 1-23 1-36 1-47 1-125 1-144 1-25 1-31 1 40 1 43 1 83 1 156 1 151 1 54 1 40 1 20 1-72 1 135 1 46 1-79 1 84 1-4 1-149"/>
<path d="M0 838l1-11 1 4 1-16 1-12 1-15 1-21 1-8 1-3 1-21 1-10 1-50 1-134 1-125 1-54 1-78 1 28 1 88 1 121 1 127 1 55 1 129 1-2 1 54 1-17 1 95 1 9 1-7 1 78 1-37 1-233"/>
<path d="M0 828l1-17 1 3 1-22 1-16 1-13 1-7 1-8 1-5 1-29 1-18 1-48 1-143 1-125 1-47 1-57 1 14 1 79 1 101 1 167 1 92 1 79 1 2 1 4 1 78 1 48 1 89 1 8 1 4 1-105 1-109"/>
<path d="M0 830l1-17 1 5 1-25 1-9 1-15 1-7 1-18 1-11 1-11 1-29 1-48 1-132 1-124 1-57 1-29 1 5 1 95 1 76 1 137 1 141 1 36 1-6 1 79 1 85 1 24 1 29 1-31 1 81 1-66 1-124"/>
<path d="M0 831l1-17 1 4 1-15 1-14 1-20 1-11 1-17 1 1 1-19 1-24 1-48 1-118 1-130 1-53 1-50 1 50 1 62 1 51 1 182 1 68 1 102 1 28 1 12 1 52 1-77 1 156 1-10 1 8 1-2 1-164"/>
<path d="M0 847l1-16 1 1 1-23 1-19 1-11 1-14 1-20 1 2 1-23 1-22 1-44 1-124 1-138 1-45 1-62 1 49 1 51 1 112 1 125 1 164 1 2 1 83 1 14 1 53 1 20 1 57 1 24 1 17 1-48 1-121"/>
<path d="M0 823l1-4 1-4 1-21 1-8 1-23 1-9 1-20 1 0 1-17 1-31 1-36 1-131 1-130 1-54 1-24 1-11 1 81 1 97 1 128 1 66 1 168 1 8 1 36 1-27 1 4 1 103 1-18 1 88 1-45 1-99"/>
<path d="M0 819l1-16 1 4 1-19 1-18 1-18 1-10 1-16 1-4 1-9 1-21 1-34 1-138 1-148 1-19 1-34 1-1 1 52 1 90 1 132 1 158 1-3 1 104 1-21 1 67 1 44 1 49 1 48 1-3 1-83 1-208"/>
<path d="M0 830l1-13 1-5 1-16 1-20 1-11 1-13 1-23 1 0 1-16 1-28 1-42 1-133 1-138 1-41 1-81 1 45 1 78 1 86 1 130 1 113 1 91 1 37 1 18 1 20 1-3 1 101 1 15 1-18 1 79 1-248"/>
<path d="M0 826l1-19 1 4 1-20 1-14 1-18 1-3 1-20 1-1 1-27 1-27 1-43 1-134 1-134 1-32 1-17 1-12 1 40 1 104 1 133 1 169 1-2 1 61 1 57 1-40 1 67 1 67 1 26 1 57 1-85 1-171"/>
<path d="M0 821l1-9 1 6 1-19 1-8 1-16 1-3 1-24 1 10 1-22 1-17 1-52 1-124 1-135 1-53 1-26 1-29 1 51 1 124 1 140 1 130 1 37 1 43 1 6 1 92 1 22 1 63 1-2 1-3 1-11 1-88"/>
<path d="M0 814l1-11 1 0 1-10 1-11 1-19 1-9 1-17 1-6 1-18 1-38 1-33 1-141 1-124 1-56 1-25 1 13 1 68 1 98 1 130 1 88 1 87 1 7 1 107 1-24 1 38 1 54 1 31 1-12 1 49 1-168"/>
<path d="M0 817l1-13 1 9 1-20 1-8 1-20 1-17 1-16 1-1 1-17 1-27 1-61 1-115 1-143 1-41 1-45 1 20 1 74 1 109 1 124 1 146 1 50 1 22 1-29 1 11 1 106 1 104 1-25 1 68 1-83 1-157"/>
<path d="M0 833l1-13 1-1 1-24 1-13 1-10 1-13 1-10 1-3 1-27 1-15 1-56 1-121 1-130 1-65 1-25 1 6 1 47 1 94 1 161 1 162 1 23 1-3 1 98 1 56 1-5 1 72 1-46 1 9 1 9 1-161"/>
<path d="M0 845l1-11 1-2 1-23 1-15 1-18 1-5 1-11 1 3 1-22 1-28 1-43 1-131 1-130 1-30 1-75 1 60 1 22 1 122 1 107 1 114 1 60 1 46 1 37 1 2 1 10 1 148 1-73 1 63 1-24 1-86"/>
<path d="M0 815l1-9 1-1 1-18 1-18 1-18 1-13 1-18 1 1 1-22 1-21 1-56 1-123 1-140 1-37 1-41 1 2 1 57 1 93 1 132 1 159 1 75 1 61 1 10 1-15 1 1 1 149 1-59 1 35 1-2 1-167"/>
<path d="M0 824l1-23 1 10 1-19 1-14 1-8 1-12 1-6 1-18 1-12 1-27 1-58 1-117 1-115 1-60 1-26 1-44 1 76 1 110 1 132 1 147 1 19 1 62 1 66 1-13 1 40 1 130 1-45 1 37 1 5 1-205"/>
<path d="M0 849l1-9 1-2 1-21 1-20 1-9 1-16 1-17 1-2 1-18 1-28 1-28 1-136 1-122 1-53 1-37 1 15 1 55 1 135 1 149 1 124 1-5 1 76 1-15 1 45 1 41 1 106 1-63 1 47 1-15 1-208"/>
<path d="M0 827l1-14 1 5 1-19 1-12 1-16 1-21 1-13 1 2 1-27 1-26 1-54 1-127 1-137 1-52 1 11 1-67 1 65 1 112 1 141 1 193 1 55 1-20 1 122 1 14 1-2 1 10 1 45 1 32 1-7 1-237"/>
<path d="M0 825l1-8 1-1 1-17 1-12 1-15 1-2 1-23 1-3 1-21 1-33 1-50 1-117 1-150 1-36 1-74 1-13 1 105 1 105 1 164 1 125 1 47 1 63 1-37 1-10 1 87 1 89 1-8 1 28 1-8 1-282"/>
<path d="M0 832l1-15 1-1 1-22 1-16 1-8 1-12 1-21 1 1 1-14 1-18 1-52 1-124 1-131 1-57 1-61 1 43 1 52 1 102 1 106 1 218 1-9 1 67 1-45 1 31 1 176 1-52 1 16 1 65 1-38 1-210"/>
<path d="M0 827l1-15 1 6 1-22 1-19 1-15 1-16 1-25 1 1 1-12 1-24 1-44 1-137 1-128 1-36 1-52 1-19 1 88 1 76 1 134 1 187 1 43 1 99 1-41 1-10 1 80 1 72 1 4 1-71 1 53 1-116"/>
<path d="M0 839l1-21 1 3 1-21 1-17 1-12 1-12 1-12 1 4 1-20 1-22 1-37 1-131 1-140 1-53 1-20 1 7 1 56 1 127 1 143 1 109 1-46 1 115 1 36 1-1 1 28 1 100 1-32 1 48 1-24 1-224"/>
<path d="M0 834l1-16 1 8 1-25 1-8 1-17 1 1 1-24 1 4 1-19 1-30 1-35 1-141 1-113 1-53 1-15 1-34 1 81 1 79 1 170 1 92 1 68 1-11 1 7 1 90 1 60 1 55 1-6 1 23 1-29 1-179"/>
<path d="M0 848l1-10 1-5 1-23 1-13 1-14 1-15 1-15 1 13 1-23 1-26 1-52 1-128 1-127 1-64 1-47 1 42 1 67 1 113 1 142 1 75 1 80 1 47 1-19 1 90 1-34 1 109 1-10 1 6 1 51 1-143"/>
<path d="M0 821l1-15 1-2 1-13 1-19 1-11 1-12 1-22 1-1 1-19 1-27 1-53 1-122 1-132 1-39 1-58 1 11 1 45 1 105 1 136 1 144 1 81 1 34 1 21 1 73 1-4 1 85 1-38 1 9 1-31 1-95"/>
<path d="M0 830l1-19 1 8 1-21 1-18 1-12 1-9 1-17 1-3 1-20 1-22 1-53 1-128 1-124 1-55 1-33 1 30 1 81 1 102 1 125 1 136 1 40 1 1 1 88 1 36 1-36 1 96 1-34 1 51 1-12 1-141"/>
<path d="M0 820l1-6 1-3 1-17 1-17 1-14 1-9 1-14 1-8 1-19 1-23 1-46 1-129 1-124 1-62 1-39 1-7 1 80 1 98 1 140 1 183 1 19 1 125 1-89 1 48 1 25 1 87 1 17 1 8 1-27 1-118"/>
<path d="M0 830l1-13 1-2 1-19 1-18 1-12 1-13 1-17 1 1 1-19 1-29 1-41 1-133 1-135 1-67 1-28 1-5 1 60 1 128 1 151 1 130 1 65 1 63 1-28 1-10 1 33 1 139 1-4 1-19 1 68 1-176"/>
<path d="M0 847l1-10 1-11 1-10 1-18 1-10 1-17 1-7 1-8 1-15 1-18 1-36 1-133 1-126 1-35 1-44 1-7 1 78 1 124 1 155 1 76 1 52 1 2 1 18 1 52 1 13 1 99 1 45 1 7 1-70 1-222"/>
<path d="M0 830l1-3 1 6 1-26 1-17 1-8 1-17 1-20 1 3 1-18 1-42 1-37 1-134 1-152 1-53 1-37 1 30 1 62 1 94 1 131 1 101 1 130 1 53 1-82 1 47 1 64 1 118 1-49 1 20 1-44 1-163"/>
<path d="M0 837l1-6 1 2 1-17 1-18 1-16 1-11 1-13 1-12 1-19 1-22 1-32 1-132 1-128 1-64 1-5 1 0 1 28 1 137 1 121 1 113 1 85 1 65 1-88 1 76 1 51 1 67 1 18 1 11 1-73 1-105"/>
<path d="M0 823l1-12 1-2 1-15 1-4 1-22 1-4 1-29 1 3 1-29 1-27 1-51 1-126 1-137 1-29 1-74 1 2 1 100 1 84 1 153 1 116 1 22 1 59 1-10 1 60 1 86 1 36 1 46 1 13 1-48 1-127"/>
<path d="M0 832l1-7 1 0 1-16 1-16 1-6 1-8 1-18 1 0 1-31 1-19 1-59 1-119 1-124 1-66 1 5 1-32 1 107 1 105 1 126 1 181 1 48 1-37 1-28 1 97 1-10 1 142 1-45 1 35 1-96 1-107"/>
<path d="M0 814l1-7 1 2 1-17 1-13 1-19 1-2 1-19 1-10 1-12 1-29 1-51 1-126 1-124 1-72 1-31 1-13 1 113 1 83 1 133 1 128 1 124 1 4 1 65 1 37 1-48 1 18 1 73 1 18 1-26 1-170"/>
<path d="M0 827l1-25 1 4 1-22 1-22 1-17 1-1 1-18 1-1 1-15 1-25 1-56 1-135 1-136 1-42 1-27 1 11 1 16 1 140 1 120 1 214 1-1 1 25 1 15 1 61 1-40 1 128 1-32 1 77 1-48 1-210"/>
<path d="M0 827l1-15 1 8 1-20 1-8 1-22 1-8 1-25 1-12 1-16 1-32 1-52 1-122 1-139 1-45 1-32 1 31 1 73 1 118 1 129 1 116 1 31 1 51 1 79 1 22 1-73 1 138 1 9 1-40 1-16 1-194"/>
<path d="M0 818l1-10 1-4 1-17 1-13 1-15 1-11 1-19 1-8 1-12 1-33 1-51 1-118 1-131 1-49 1-32 1 6 1 45 1 86 1 133 1 168 1 66 1 70 1-43 1 45 1 74 1 17 1 33 1-6 1 21 1-199"/>
<path d="M0 821l1-18 1 2 1-22 1-14 1-20 1-9 1-17 1-2 1-18 1-30 1-62 1-134 1-128 1-36 1-52 1 18 1 41 1 115 1 114 1 216 1-7 1 140 1-54 1 62 1 23 1 45 1-11 1 72 1-60 1-102"/>
<path d="M0 832l1-20 1 3 1-14 1-21 1-13 1-9 1-11 1 0 1-22 1-26 1-41 1-141 1-130 1-59 1-23 1-5 1 44 1 140 1 124 1 178 1 37 1 43 1-15 1-17 1 94 1 86 1-19 1 28 1-86 1-161"/>
<path d="M0 832l1-14 1 3 1-25 1-14 1-19 1-9 1-9 1-5 1-23 1-21 1-45 1-129 1-123 1-66 1-15 1-6 1 69 1 84 1 108 1 59 1 134 1 26 1 89 1 73 1-6 1 68 1-21 1 1 1-2 1-121"/>
<path d="M0 845l1-11 1-6 1-12 1-11 1-13 1-12 1-19 1 1 1-29 1-15 1-53 1-130 1-131 1-34 1-37 1-8 1 108 1 99 1 133 1 96 1 115 1-67 1 101 1-108 1 146 1 49 1 2 1-2 1-17 1-110"/>
<path d="M0 814l1-14 1 2 1-18 1-21 1-18 1-9 1-11 1-4 1-20 1-36 1-43 1-123 1-144 1-37 1-48 1 12 1 52 1 86 1 120 1 136 1 155 1 45 1-56 1 56 1 65 1-5 1 93 1-62 1 46 1-196"/>
<path d="M0 820l1-18 1 5 1-18 1-22 1-12 1-23 1-11 1-2 1-18 1-23 1-53 1-129 1-131 1-54 1-13 1-41 1 103 1 76 1 132 1 185 1 27 1 63 1 60 1-6 1 47 1 74 1-69 1 81 1-53 1-160"/>
<path d="M0 818l1-9 1-1 1-13 1-19 1-8 1-10 1-19 1-5 1-12 1-30 1-40 1-147 1-114 1-81 1-38 1 25 1 66 1 79 1 134 1 144 1 53 1 22 1 48 1 45 1 4 1 140 1-41 1 32 1-21 1-146"/>
<path d="M0 840l1-9 1-2 1-17 1-14 1-12 1-14 1-12 1 0 1-24 1-43 1-38 1-130 1-124 1-54 1-43 1 29 1 56 1 129 1 141 1 56 1 113 1 78 1-18 1 19 1 74 1 67 1-21 1 15 1 6 1-164"/>
<path d="M0 815l1-7 1-6 1-18 1-19 1-16 1-6 1-10 1-3 1-12 1-29 1-60 1-128 1-140 1-46 1-24 1-10 1 57 1 110 1 126 1 156 1 97 1-7 1 20 1 8 1 46 1 72 1-7 1 49 1-10 1-188"/>
<path d="M0 833l1-9 1-2 1-19 1-8 1-18 1-21 1-6 1-11 1-11 1-21 1-52 1-119 1-139 1-76 1-14 1-15 1 73 1 112 1 121 1 102 1 128 1-1 1-1 1 86 1 45 1 8 1 31 1 17 1-37 1-106"/>
<path d="M0 827l1-17 1 5 1-17 1-22 1-1 1-17 1-20 1 5 1-26 1-31 1-46 1-111 1-132 1-57 1-60 1 57 1 54 1 72 1 148 1 192 1-14 1 77 1-61 1 127 1 20 1 18 1 9 1 54 1-37 1-140"/>
<path d="M0 822l1-14 1 6 1-15 1-14 1-16 1-3 1-18 1 8 1-27 1-30 1-50 1-133 1-131 1-54 1-22 1-22 1 73 1 131 1 121 1 187 1-30 1 92 1 26 1-11 1-32 1 142 1 44 1 12 1-67 1-106"/>
<path d="M0 818l1-13 1-4 1-21 1-11 1-12 1-16 1-13 1 6 1-23 1-22 1-45 1-132 1-146 1-32 1-83 1 34 1 42 1 125 1 111 1 128 1 141 1 14 1 42 1-4 1-7 1 84 1 43 1-13 1-11 1-155"/>
<path d="M0 840l1-17 1 1 1-14 1-11 1-15 1-6 1-16 1-13 1-21 1-32 1-51 1-133 1-142 1-22 1-56 1 6 1 79 1 105 1 151 1 210 1-26 1 46 1 50 1-80 1 124 1 36 1 23 1 16 1-3 1-243"/>
<path d="M0 831l1-8 1-1 1-16 1-16 1-16 1-4 1-15 1-7 1-22 1-27 1-39 1-136 1-101 1-86 1-6 1-23 1 86 1 97 1 125 1 127 1 64 1 27 1 60 1-17 1 66 1 112 1-88 1 81 1-84 1-120"/>
<path d="M0 823l1-19 1 12 1-23 1-16 1-18 1-11 1-12 1-3 1-13 1-30 1-42 1-131 1-131 1-57 1-27 1-13 1 71 1 88 1 121 1 168 1 83 1-7 1 88 1-43 1 51 1 91 1 4 1-1 1 29 1-154"/>
<path d="M0 837l1-16 1 7 1-26 1-14 1-23 1-6 1-19 1 8 1-18 1-34 1-50 1-133 1-125 1-29 1-49 1 3 1 69 1 94 1 100 1 184 1 18 1 61 1-22 1 104 1 3 1 95 1-47 1-21 1 72 1-244"/>
<path d="M0 827l1-13 1-2 1-13 1-22 1-8 1-5 1-19 1 7 1-14 1-28 1-54 1-136 1-143 1-46 1-24 1 11 1 90 1 91 1 112 1 140 1 138 1-51 1-44 1 85 1 56 1 66 1-25 1 1 1-21 1-118"/>
<path d="M0 810l1-18 1 12 1-23 1-12 1-19 1-11 1-18 1-2 1-17 1-25 1-62 1-119 1-139 1-51 1-34 1 17 1 71 1 46 1 133 1 235 1 26 1-60 1 116 1 18 1-46 1 121 1 23 1 51 1-27 1-157"/>
<path d="M0 820l1-24 1 1 1-14 1-13 1-19 1-15 1-19 1 1 1-16 1-22 1-53 1-126 1-122 1-45 1-60 1 6 1 37 1 106 1 123 1 209 1 53 1 8 1-6 1-18 1 131 1 84 1-61 1 44 1-29 1-137"/>
<path d="M0 841l1-8 1 0 1-19 1-18 1-16 1-9 1-9 1-6 1-21 1-22 1-51 1-115 1-134 1-56 1-33 1-32 1 126 1 105 1 148 1 90 1 42 1 133 1-12 1-49 1 91 1 49 1 43 1-20 1-49 1-157"/>
<path d="M0 844l1-20 1 6 1-17 1-11 1-15 1-8 1-22 1 0 1-24 1-11 1-38 1-143 1-117 1-68 1-10 1 27 1 90 1 101 1 143 1 93 1 98 1-95 1 96 1 4 1 22 1 143 1-48 1-20 1 34 1-132"/>
<path d="M0 851l1-11 1 7 1-24 1-10 1-20 1-9 1-21 1-3 1-27 1-17 1-41 1-127 1-119 1-49 1-34 1 3 1 88 1 101 1 127 1 128 1-27 1 137 1 17 1-60 1 85 1-15 1 73 1 2 1-37 1-129"/>
<path d="M0 824l1-11 1 8 1-20 1-13 1-9 1-14 1-19 1-11 1-16 1-29 1-37 1-136 1-119 1-75 1-2 1-16 1 58 1 113 1 162 1 157 1 35 1 29 1 85 1-40 1 8 1 39 1 83 1 1 1-48 1-165"/>
<path d="M0 830l1-12 1-6 1-17 1-9 1-16 1-15 1-11 1-5 1-22 1-28 1-41 1-124 1-152 1-27 1-47 1 4 1 77 1 116 1 101 1 72 1 119 1 33 1-2 1 101 1-33 1 71 1 80 1-66 1-8 1-180"/>
<path d="M0 816l1-11 1 6 1-22 1-14 1-12 1-19 1-22 1-4 1-21 1-25 1-55 1-124 1-138 1-36 1-38 1-40 1 111 1 86 1 101 1 185 1 129 1-101 1 91 1 37 1 66 1 28 1 5 1 52 1-68 1-117"/>
<path d="M0 827l1-9 1-5 1-16 1-19 1-15 1-4 1-21 1-3 1-15 1-29 1-49 1-133 1-131 1-57 1-15 1-33 1 111 1 64 1 148 1 155 1 29 1 43 1 1 1-2 1 119 1 42 1-21 1 19 1 18 1-204"/>
<path d="M0 843l1-19 1 1 1-25 1-13 1-16 1-15 1-14 1-1 1-15 1-27 1-51 1-121 1-134 1-46 1-54 1 23 1 70 1 125 1 116 1 130 1 58 1 9 1 39 1-64 1 165 1 35 1-35 1 60 1-16 1-231"/>
<path d="M0 828l1-16 1 1 1-18 1-17 1-17 1-11 1-15 1-4 1-18 1-22 1-58 1-121 1-135 1-57 1-9 1-5 1 93 1 92 1 127 1 145 1-6 1 125 1-99 1 80 1 28 1 122 1-42 1 33 1 16 1-253"/>
<path d="M0 824l1-12 1 11 1-21 1-9 1-14 1-13 1-21 1-10 1-17 1-25 1-43 1-134 1-119 1-58 1-23 1-23 1 75 1 78 1 129 1 139 1 151 1-17 1-16 1 47 1 20 1 118 1 12 1-26 1 24 1-173"/>
<path d="M0 827l1-8 1 7 1-23 1-4 1-21 1-10 1-14 1-14 1-22 1-29 1-47 1-126 1-121 1-87 1 21 1-6 1 74 1 94 1 154 1 150 1 21 1 36 1-13 1 102 1-5 1 51 1-7 1 8 1 10 1-108"/>
<path d="M0 825l1-11 1 4 1-23 1-13 1-6 1-10 1-18 1-13 1-18 1-25 1-43 1-124 1-128 1-79 1 8 1-3 1 62 1 111 1 90 1 122 1 94 1 64 1-32 1 43 1 109 1 19 1-29 1 59 1-104 1-20"/>
<path d="M0 844l1-20 1 3 1-22 1-5 1-17 1-11 1-13 1 0 1-25 1-33 1-25 1-143 1-110 1-70 1-45 1 7 1 91 1 119 1 164 1 87 1 54 1-6 1 139 1-72 1 103 1-6 1 37 1 35 1-49 1-147"/>
<path d="M0 824l1-18 1 1 1-11 1-15 1-9 1-15 1-9 1 0 1-25 1-30 1-36 1-133 1-129 1-24 1-57 1 37 1 37 1 112 1 93 1 163 1 43 1 45 1 50 1-4 1 53 1 54 1-26 1 47 1-7 1-253"/>
<path d="M0 824l1-6 1-1 1-18 1-14 1-20 1-8 1-20 1 3 1-25 1-23 1-47 1-120 1-126 1-56 1-42 1 2 1 94 1 102 1 109 1 173 1 51 1 53 1-55 1 98 1-5 1 70 1 41 1-65 1 29 1-164"/>
<path d="M0 829l1-15 1-1 1-21 1-11 1-12 1-8 1-16 1-10 1-17 1-30 1-43 1-125 1-145 1-52 1-23 1-4 1 55 1 118 1 149 1 162 1-46 1 83 1 126 1-51 1 68 1 80 1-23 1 33 1-63 1-214"/>
<path d="M0 831l1-15 1-2 1-16 1-15 1-22 1-11 1-10 1 1 1-24 1-28 1-41 1-124 1-130 1-54 1-75 1 0 1 105 1 87 1 114 1 231 1-31 1 80 1 9 1 7 1 71 1 66 1 14 1-59 1 39 1-196"/>
<path d="M0 818l1-11 1 12 1-26 1-14 1-16 1-9 1-15 1-15 1-16 1-21 1-48 1-118 1-140 1-35 1-76 1 44 1 62 1 86 1 153 1 155 1 43 1 2 1 24 1 62 1 78 1 25 1-14 1-37 1 56 1-141"/>
<path d="M0 824l1-14 1 0 1-16 1-14 1-18 1-15 1-7 1 0 1-23 1-24 1-49 1-126 1-141 1-28 1-84 1 50 1 71 1 87 1 141 1 139 1 57 1 36 1-36 1 43 1 77 1 67 1-11 1-16 1-5 1-138"/>
<path d="M0 828l1-7 1-3 1-19 1-19 1-20 1-16 1-15 1-8 1-17 1-13 1-44 1-145 1-131 1-54 1-21 1-33 1 56 1 121 1 157 1 166 1 44 1 6 1 43 1 47 1 20 1 66 1 1 1 79 1-123 1-96"/>
<path d="M0 828l1-14 1 1 1-12 1-14 1-16 1-15 1-8 1-12 1-23 1-26 1-44 1-131 1-155 1-19 1-21 1 1 1 52 1 112 1 125 1 112 1 124 1 10 1 14 1-84 1 101 1 135 1-31 1 72 1-56 1-224"/>
<path d="M0 835l1-13 1-4 1-20 1-4 1-11 1-25 1-8 1-13 1-24 1-32 1-47 1-119 1-128 1-49 1-43 1-10 1 99 1 110 1 114 1 127 1 74 1 2 1 42 1 33 1 52 1 76 1-13 1-34 1 46 1-126"/>
<path d="M0 815l1-12 1 4 1-17 1-18 1-16 1-9 1-18 1-2 1-13 1-20 1-52 1-124 1-141 1-56 1-49 1 19 1 46 1 101 1 147 1 45 1 160 1 13 1 73 1-19 1 63 1 93 1 22 1-4 1-53 1-105"/>
<path d="M0 819l1-5 1-10 1-19 1-14 1-9 1-15 1-7 1-7 1-12 1-27 1-39 1-148 1-122 1-59 1-38 1-11 1 76 1 115 1 151 1 104 1 46 1 83 1-31 1 122 1 43 1-41 1 31 1 32 1-38 1-118"/>
<path d="M0 836l1-11 1-1 1-23 1-14 1-15 1-8 1-13 1-12 1-14 1-22 1-46 1-125 1-135 1-30 1-33 1-1 1 69 1 80 1 137 1 209 1-45 1 39 1 75 1-48 1 62 1 139 1-50 1 14 1-56 1-82"/>
<path d="M0 820l1-21 1 10 1-22 1-19 1-5 1-12 1-15 1-6 1-18 1-30 1-45 1-130 1-134 1-61 1-28 1-13 1 68 1 112 1 119 1 124 1 172 1-66 1-13 1 95 1 4 1 106 1 7 1-33 1 9 1-114"/>
<path d="M0 824l1-17 1 12 1-14 1-14 1-18 1-14 1-15 1-13 1-19 1-24 1-47 1-134 1-114 1-70 1 3 1-14 1 97 1 103 1 147 1 140 1 17 1 87 1-86 1 88 1 35 1 63 1 8 1-24 1-6 1-71"/>
<path d="M0 821l1-19 1 9 1-13 1-18 1-2 1-17 1-21 1-4 1-32 1-26 1-44 1-135 1-124 1-56 1-17 1 9 1 36 1 80 1 129 1 135 1 62 1 141 1-48 1 7 1 30 1 181 1-39 1 9 1-7 1-193"/>
<path d="M0 817l1-12 1 3 1-23 1-10 1-21 1-8 1-19 1-8 1-13 1-27 1-63 1-112 1-128 1-52 1-51 1 13 1 44 1 99 1 105 1 211 1 88 1-1 1 62 1-19 1 58 1 69 1-63 1-9 1 6 1-177"/>
<path d="M0 820l1-11 1 1 1-17 1-17 1-9 1-12 1-17 1-8 1-15 1-41 1-35 1-121 1-130 1-47 1-33 1 1 1 63 1 126 1 114 1 149 1 24 1 20 1 67 1 7 1 46 1 22 1 73 1 32 1-41 1-212"/>
<path d="M0 842l1-17 1-4 1-20 1-15 1-14 1-13 1-14 1-3 1-17 1-22 1-61 1-123 1-133 1-49 1-38 1 19 1 77 1 91 1 111 1 116 1 51 1 85 1-3 1 20 1 48 1 82 1 5 1 5 1-8 1-123"/>
<path d="M0 825l1-19 1 3 1-21 1-15 1-8 1-11 1-19 1-3 1-17 1-22 1-53 1-126 1-137 1-40 1-29 1-20 1 63 1 111 1 107 1 173 1 64 1 27 1 2 1 68 1-26 1 119 1-19 1 15 1-4 1-110"/>
<path d="M0 829l1-10 1-6 1-17 1-18 1-16 1-2 1-11 1-3 1-20 1-24 1-56 1-118 1-160 1-37 1-44 1-10 1 60 1 124 1 117 1 125 1 123 1-2 1 28 1 19 1 43 1 26 1 89 1-37 1-28 1-101"/>
<path d="M0 823l1-15 1 6 1-21 1-8 1-20 1-8 1-21 1-1 1-20 1-23 1-43 1-127 1-134 1-69 1-3 1-27 1 113 1 46 1 141 1 176 1 64 1 17 1-15 1 48 1 100 1 30 1-63 1 70 1-50 1-165"/>
<path d="M0 810l1-9 1 0 1-17 1-12 1-19 1-13 1-20 1 0 1-20 1-28 1-60 1-128 1-132 1-33 1-54 1 20 1 24 1 101 1 127 1 267 1-48 1 43 1 67 1-19 1 72 1 96 1-20 1 64 1-17 1-223"/>
<path d="M0 815l1-10 1 3 1-15 1-20 1-11 1-15 1-18 1-8 1-13 1-30 1-60 1-133 1-139 1-49 1-47 1 36 1 28 1 132 1 106 1 89 1 160 1 81 1-23 1-6 1 81 1 72 1 3 1 31 1-22 1-142"/>
<path d="M0 830l1-14 1-1 1-17 1-14 1-10 1-9 1-12 1-8 1-13 1-32 1-39 1-133 1-130 1-48 1-37 1 0 1 80 1 93 1 132 1 151 1 23 1 48 1-12 1 68 1-42 1 126 1 4 1-11 1 18 1-198"/>
<path d="M0 837l1-18 1 3 1-19 1-19 1-16 1-18 1-23 1 11 1-20 1-31 1-33 1-138 1-135 1-55 1-12 1-21 1 110 1 79 1 153 1 115 1 3 1 91 1 40 1-15 1 48 1 112 1-45 1 126 1-155 1-106"/>
<path d="M0 842l1-15 1-8 1-19 1-13 1-15 1-9 1-15 1 1 1-16 1-28 1-28 1-126 1-138 1-57 1-38 1-20 1 84 1 126 1 143 1 134 1 71 1-3 1 29 1-83 1 121 1 19 1 68 1-30 1 97 1-204"/>
<path d="M0 824l1-16 1 8 1-18 1-16 1-16 1-7 1-28 1 7 1-25 1-29 1-53 1-124 1-134 1-46 1-35 1-1 1 59 1 103 1 125 1 165 1 81 1-3 1-1 1 28 1 59 1 44 1 26 1 57 1-106 1-89"/>
<path d="M0 828l1-21 1-1 1-15 1-20 1-8 1-10 1-22 1-5 1-15 1-26 1-45 1-124 1-129 1-49 1-67 1 19 1 54 1 101 1 152 1 143 1 42 1 113 1-65 1 47 1 66 1 13 1 42 1-12 1 34 1-125"/>
<path d="M0 823l1-13 1-3 1-17 1-16 1-14 1-23 1-12 1-8 1-13 1-17 1-56 1-128 1-143 1-57 1-34 1 17 1 67 1 86 1 145 1 138 1 73 1 63 1-37 1 88 1 25 1 41 1-27 1 69 1-51 1-194"/>
<path d="M0 829l1-13 1 2 1-26 1-11 1-19 1-4 1-20 1-11 1-13 1-16 1-52 1-139 1-129 1-40 1-34 1 16 1 19 1 114 1 132 1 178 1 67 1 18 1-18 1 85 1-45 1 168 1-7 1 0 1-19 1-113"/>
<path d="M0 817l1-20 1 2 1-10 1-19 1-8 1-11 1-15 1-10 1-21 1-22 1-56 1-127 1-123 1-56 1-30 1 23 1 34 1 124 1 117 1 158 1 114 1 59 1-83 1 22 1 68 1 113 1-52 1 31 1-100 1-141"/>
<path d="M0 820l1-20 1 4 1-16 1-16 1-14 1-16 1-13 1-6 1-20 1-22 1-47 1-122 1-124 1-58 1-22 1-12 1 73 1 63 1 91 1 188 1 52 1 77 1-11 1 19 1 56 1 111 1-4 1-7 1-21 1-135"/>
<path d="M0 839l1-15 1-6 1-13 1-15 1-13 1-10 1-18 1 0 1-21 1-32 1-49 1-137 1-111 1-55 1-45 1-9 1 122 1 91 1 116 1 103 1 36 1 180 1-87 1 50 1-13 1 102 1 14 1-9 1-16 1-221"/>
<path d="M0 833l1-19 1 6 1-20 1-16 1-12 1-6 1-24 1-10 1-11 1-20 1-41 1-136 1-140 1-52 1-29 1 9 1 78 1 105 1 134 1 120 1 14 1 85 1 16 1 56 1 21 1 78 1-52 1 108 1-73 1-121"/>
<path d="M0 824l1-4 1-4 1-14 1-13 1-11 1-17 1-15 1-5 1-21 1-31 1-52 1-124 1-145 1-36 1-40 1 19 1 66 1 84 1 137 1 229 1-95 1 118 1 33 1 9 1 57 1 24 1-5 1 58 1-32 1-131"/>
<path d="M0 837l1-8 1-6 1-20 1-10 1-19 1-19 1-9 1-7 1-17 1-23 1-46 1-116 1-146 1-54 1-15 1 5 1 51 1 116 1 140 1 101 1 107 1-24 1 117 1-19 1 41 1 86 1-14 1-25 1-27 1-31"/>
<path d="M0 835l1-19 1 6 1-20 1-19 1-13 1-20 1-11 1 1 1-17 1-25 1-53 1-131 1-122 1-55 1-9 1-20 1 83 1 93 1 128 1 118 1 30 1 146 1-26 1-45 1 72 1 96 1 0 1 6 1 6 1-154"/>
<path d="M0 819l1-4 1-2 1-17 1-15 1-8 1-8 1-14 1-11 1-22 1-22 1-42 1-136 1-139 1-29 1-79 1-5 1 65 1 127 1 141 1 117 1 97 1 90 1-18 1-24 1 74 1 53 1 34 1 3 1-28 1-98"/>
<path d="M0 809l1-12 1 3 1-14 1-11 1-14 1-17 1-10 1-7 1-22 1-41 1-43 1-134 1-116 1-35 1-29 1-12 1 68 1 75 1 144 1 198 1 23 1-27 1 31 1 83 1-14 1 70 1 18 1 51 1-102 1-112"/>
<path d="M0 828l1-15 1 3 1-19 1-19 1-6 1-12 1-12 1-8 1-13 1-23 1-41 1-138 1-136 1-76 1-23 1 10 1 72 1 95 1 155 1 167 1 19 1-26 1 57 1 32 1 43 1 93 1-59 1 21 1 5 1-144"/>
<path d="M0 819l1-18 1 1 1-14 1-13 1-15 1-13 1-15 1-8 1-23 1-32 1-46 1-134 1-139 1-39 1-61 1-12 1 88 1 104 1 156 1 173 1-28 1 100 1 56 1-79 1 112 1 64 1 9 1 0 1-14 1-175"/>
<path d="M0 831l1-8 1 2 1-20 1-13 1-28 1-14 1-22 1 13 1-18 1-30 1-40 1-130 1-132 1-23 1-61 1 14 1 59 1 80 1 164 1 127 1-28 1 57 1 101 1 34 1 3 1 14 1 72 1-2 1-34 1-93"/>
<path d="M0 829l1-17 1 7 1-25 1-10 1-19 1-9 1-22 1-2 1-19 1-18 1-46 1-130 1-135 1-56 1-53 1 21 1 56 1 115 1 144 1 144 1 33 1 32 1-22 1 62 1-3 1 152 1-10 1 21 1-22 1-168"/>
<path d="M0 831l1-16 1 5 1-15 1-16 1-10 1-26 1-7 1-7 1-23 1-20 1-41 1-131 1-123 1-50 1-54 1 19 1 54 1 106 1 110 1 222 1-19 1 36 1 59 1 5 1 48 1 68 1-9 1 33 1-63 1-142"/>
<path d="M0 825l1-8 1 1 1-22 1-16 1-8 1-16 1-16 1-9 1-16 1-24 1-41 1-133 1-136 1-70 1-22 1-38 1 79 1 130 1 131 1 124 1 39 1 73 1 85 1-40 1 90 1 73 1-20 1-7 1 0 1-157"/>
<path d="M0 834l1-9 1 3 1-22 1-8 1-22 1-15 1-14 1 5 1-23 1-19 1-52 1-134 1-125 1-67 1-34 1 7 1 90 1 93 1 116 1 156 1-34 1 115 1-21 1 80 1 9 1 120 1-23 1-12 1-2 1-90"/>
<path d="M0 834l1-6 1 0 1-25 1-9 1-10 1-13 1-15 1-15 1-16 1-18 1-50 1-124 1-124 1-41 1-37 1-8 1 59 1 111 1 127 1 159 1-4 1 104 1-31 1 80 1-6 1 85 1-4 1-50 1 81 1-161"/>
<path d="M0 838l1-18 1 12 1-23 1-13 1-10 1-13 1-19 1-8 1-21 1-25 1-44 1-129 1-131 1-43 1-66 1 39 1 62 1 111 1 135 1 113 1 95 1-59 1 4 1 135 1 37 1 22 1 2 1 41 1-17 1-116"/>
<path d="M0 831l1-16 1-4 1-18 1-11 1-19 1-9 1-18 1-8 1-19 1-26 1-59 1-139 1-110 1-61 1-28 1-10 1 64 1 97 1 133 1 159 1 78 1-29 1 55 1 34 1 70 1 86 1 6 1-43 1-29 1-158"/>
<path d="M0 816l1-12 1 3 1-8 1-9 1-14 1-18 1-17 1-3 1-19 1-38 1-46 1-132 1-114 1-66 1-34 1 17 1 93 1 82 1 128 1 164 1 51 1-7 1 70 1-2 1 80 1-32 1 41 1 54 1-80 1-133"/>
<path d="M0 806l1-2 1 4 1-23 1-13 1-12 1-5 1-21 1-7 1-18 1-33 1-50 1-138 1-147 1-50 1-46 1-10 1 51 1 135 1 133 1 249 1-62 1 109 1 89 1-58 1 41 1 68 1-15 1 22 1-18 1-157"/>
<path d="M0 812l1-19 1-3 1-11 1-10 1-17 1-13 1-12 1 2 1-21 1-33 1-43 1-139 1-120 1-74 1-27 1-25 1 58 1 88 1 138 1 200 1 61 1 85 1-49 1 62 1 22 1 118 1-8 1-79 1-7 1-145"/>
<path d="M0 832l1-18 1 6 1-16 1-13 1-14 1-7 1-28 1 0 1-24 1-18 1-43 1-129 1-141 1-49 1-40 1 22 1 66 1 104 1 143 1 136 1 24 1 120 1-105 1 61 1 83 1 86 1-99 1 81 1-97 1-97"/>
<path d="M0 815l1-18 1 4 1-17 1-22 1-18 1-15 1-20 1 6 1-22 1-29 1-54 1-130 1-142 1-31 1-17 1 24 1 14 1 98 1 131 1 195 1 13 1 25 1 49 1 92 1 14 1 28 1 17 1 0 1-28 1-165"/>
<path d="M0 821l1-14 1 1 1-13 1-14 1-13 1-12 1-15 1 1 1-21 1-21 1-39 1-128 1-139 1-48 1-70 1 35 1 74 1 85 1 146 1 120 1 53 1 73 1-17 1 95 1-32 1 67 1-1 1 63 1-44 1-161"/>
<path d="M0 841l1-18 1 9 1-14 1-16 1-13 1-12 1-12 1-9 1-25 1-26 1-46 1-135 1-128 1-67 1 3 1-12 1 105 1 91 1 154 1 63 1 142 1-13 1-32 1 34 1 129 1-40 1 56 1 15 1-18 1-86"/>
<path d="M0 834l1-12 1 2 1-18 1-11 1-13 1-12 1-19 1-6 1-16 1-28 1-36 1-119 1-136 1-49 1-33 1 8 1 76 1 67 1 131 1 133 1 67 1 36 1-3 1 99 1-17 1 83 1-9 1-4 1 35 1-135"/>
<path d="M0 835l1-27 1 17 1-20 1-12 1-19 1-3 1-25 1 2 1-34 1-16 1-51 1-124 1-136 1-50 1-54 1-10 1 123 1 111 1 138 1 109 1 64 1-31 1 33 1 14 1 144 1-24 1 28 1 20 1-7 1-176"/>
<path d="M0 852l1-19 1 4 1-23 1-12 1-11 1-12 1-15 1-2 1-22 1-17 1-40 1-130 1-146 1-48 1-11 1-7 1 60 1 114 1 150 1 66 1 135 1-14 1 42 1-20 1 73 1 47 1-14 1 56 1 21 1-178"/>
<path d="M0 828l1-16 1 11 1-22 1-20 1-12 1-12 1-18 1-6 1-18 1-25 1-59 1-135 1-135 1-57 1-12 1-8 1 97 1 74 1 110 1 150 1 91 1 40 1 1 1 9 1-3 1 203 1-82 1 60 1-47 1-168"/>
<path d="M0 829l1-11 1-5 1-16 1-17 1-8 1-15 1-16 1 2 1-31 1-15 1-57 1-127 1-122 1-54 1-42 1-8 1 61 1 123 1 132 1 209 1-60 1 78 1 60 1 34 1-62 1 101 1-14 1 66 1-61 1-91"/>
<path d="M0 821l1-15 1-1 1-9 1-6 1-21 1-13 1-17 1-1 1-17 1-26 1-50 1-126 1-137 1-31 1-13 1-36 1 41 1 111 1 123 1 228 1-2 1-3 1 76 1 44 1-42 1 92 1 94 1-81 1-36 1-166"/>
<path d="M0 824l1-12 1 2 1-18 1-11 1-22 1-11 1-15 1-3 1-29 1-19 1-49 1-122 1-149 1-43 1-17 1 7 1 52 1 99 1 124 1 160 1 70 1 10 1 18 1 45 1 65 1 21 1-34 1 34 1 38 1-181"/>
<path d="M0 822l1-11 1 5 1-22 1-11 1-13 1-19 1-24 1-2 1-14 1-29 1-48 1-123 1-138 1-55 1-16 1-20 1 55 1 109 1 126 1 217 1 18 1 41 1-7 1 77 1-15 1 99 1-23 1 51 1-104 1-98"/>
<path d="M0 822l1-17 1 9 1-20 1-16 1-16 1-11 1-23 1-5 1-12 1-33 1-31 1-134 1-122 1-52 1-46 1-6 1 50 1 112 1 145 1 129 1 116 1 14 1-17 1 39 1 124 1 10 1-41 1 39 1 18 1-253"/>
<path d="M0 820l1-17 1 4 1-20 1-18 1-9 1-15 1-12 1-2 1-16 1-33 1-47 1-127 1-122 1-67 1-19 1-10 1 74 1 107 1 116 1 130 1 82 1 20 1 57 1-24 1 67 1 84 1-3 1 3 1-17 1-210"/>
<path d="M0 846l1-14 1 6 1-22 1-10 1-15 1-11 1-15 1-18 1-18 1-14 1-49 1-115 1-125 1-69 1-59 1 34 1 81 1 97 1 126 1 84 1 80 1 77 1-23 1-23 1 135 1 67 1-55 1 89 1-77 1-139"/>
<path d="M0 818l1-9 1-7 1-19 1-9 1-20 1-12 1-15 1-8 1-16 1-33 1-51 1-132 1-129 1-67 1-14 1 24 1 20 1 92 1 113 1 270 1 22 1 25 1-11 1-21 1 67 1 62 1 45 1-15 1 15 1-77"/>
<path d="M0 831l1-14 1 3 1-24 1-17 1-11 1-11 1-11 1-2 1-13 1-22 1-45 1-130 1-129 1-52 1-20 1-23 1 84 1 98 1 113 1 111 1 119 1-22 1 42 1 102 1-14 1 70 1-4 1-27 1 27 1-163"/>
<path d="M0 829l1-9 1-1 1-17 1-20 1-18 1-13 1-14 1-11 1-16 1-28 1-57 1-120 1-133 1-77 1-11 1 35 1 35 1 109 1 123 1 177 1 61 1-51 1 113 1-21 1 98 1 58 1-49 1 79 1-46 1-209"/>
<path d="M0 816l1-9 1-4 1-15 1-9 1-17 1-12 1-19 1-6 1-17 1-30 1-43 1-127 1-146 1-29 1-50 1 2 1 52 1 97 1 133 1 169 1 21 1 74 1 46 1-38 1 55 1 118 1-32 1 48 1-94 1-56"/>
<path d="M0 823l1-6 1 0 1-16 1-13 1-15 1-11 1-16 1-4 1-11 1-35 1-40 1-129 1-127 1-65 1-44 1 27 1 53 1 126 1 111 1 202 1-19 1 53 1 33 1 19 1 32 1 54 1 11 1 18 1 10 1-178"/>
<path d="M0 821l1-9 1 2 1-15 1-13 1-17 1-4 1-15 1-1 1-20 1-24 1-49 1-128 1-132 1-43 1-62 1 29 1 41 1 117 1 131 1 135 1 52 1 75 1 34 1-83 1 58 1 112 1-4 1 57 1-69 1-147"/>
<path d="M0 846l1-12 1-3 1-22 1-14 1-11 1-8 1-9 1-1 1-27 1-8 1-47 1-133 1-128 1-77 1-29 1 12 1 38 1 162 1 145 1 71 1 58 1-14 1 78 1-1 1 91 1 84 1-42 1 77 1-86 1-132"/>
<path d="M0 829l1-18 1 6 1-22 1-17 1-10 1-17 1-19 1-1 1-25 1-29 1-46 1-146 1-130 1-43 1-17 1-6 1 61 1 84 1 148 1 213 1-32 1 1 1 4 1 199 1-63 1 115 1-35 1 44 1-29 1-171"/>
<path d="M0 823l1-13 1-1 1-19 1-14 1-11 1-7 1-22 1-4 1-19 1-26 1-45 1-134 1-136 1-68 1-49 1 17 1 93 1 64 1 136 1 183 1-6 1 121 1-66 1 46 1 73 1 57 1 48 1 41 1-97 1-160"/>
<path d="M0 826l1-12 1-1 1-13 1-19 1-11 1-11 1-17 1-11 1-16 1-25 1-39 1-129 1-130 1-71 1-33 1 14 1 83 1 113 1 110 1 130 1 77 1 61 1-10 1 48 1 42 1 46 1 2 1-23 1-17 1-153"/>
<path d="M0 824l1-5 1-1 1-19 1-5 1-11 1-13 1-10 1-5 1-24 1-32 1-51 1-129 1-123 1-61 1-37 1 8 1 61 1 116 1 130 1 147 1-6 1 73 1 37 1 34 1 64 1 77 1-29 1 20 1-50 1-209"/>
<path d="M0 849l1-13 1 0 1-19 1-12 1-13 1-11 1-19 1-4 1-18 1-26 1-44 1-131 1-130 1-46 1-16 1-30 1 80 1 114 1 146 1 72 1 99 1-25 1 90 1 4 1 12 1 73 1 68 1 5 1-90 1-154"/>
<path d="M0 818l1-11 1-1 1-16 1-15 1-15 1-9 1-13 1 0 1-20 1-36 1-46 1-135 1-132 1-37 1-25 1-15 1 59 1 105 1 141 1 181 1 64 1-26 1 99 1-32 1 30 1 53 1-13 1 63 1-23 1-132"/>
<path d="M0 831l1-8 1-3 1-15 1-18 1-13 1-8 1-27 1 2 1-25 1-19 1-46 1-121 1-132 1-48 1-68 1 50 1 55 1 111 1 157 1 66 1 73 1 19 1 51 1 1 1 99 1 82 1 14 1-92 1-14 1-108"/>
<path d="M0 825l1-15 1 6 1-18 1-6 1-15 1-11 1-18 1-1 1-33 1-15 1-48 1-128 1-124 1-72 1-35 1-9 1 95 1 81 1 146 1 160 1 19 1 80 1-38 1 79 1 15 1 63 1 39 1 11 1-2 1-163"/>
<path d="M0 838l1-19 1 6 1-22 1-9 1-18 1-11 1-24 1-13 1-13 1-29 1-36 1-126 1-132 1-61 1-54 1 17 1 68 1 115 1 139 1 48 1 178 1 33 1-61 1 66 1-8 1 119 1-54 1 119 1-121 1-128"/>
<path d="M0 836l1-12 1 2 1-16 1-13 1-26 1-10 1-18 1-5 1-18 1-28 1-45 1-132 1-135 1-70 1-4 1-29 1 135 1 85 1 104 1 137 1 142 1 1 1 1 1 58 1-13 1 108 1-35 1 23 1-51 1-139"/>
<path d="M0 822l1-20 1 11 1-12 1-12 1-14 1-11 1-19 1-12 1-24 1-29 1-32 1-132 1-125 1-46 1-54 1-3 1 91 1 71 1 141 1 100 1 100 1 51 1 16 1 3 1-17 1 174 1-45 1 44 1-33 1-74"/>
<path d="M0 822l1-13 1 4 1-23 1-10 1-23 1-2 1-21 1 5 1-28 1-25 1-46 1-122 1-132 1-48 1-16 1-6 1 53 1 107 1 112 1 181 1 30 1-18 1 147 1-42 1 69 1 52 1 28 1-5 1-78 1-92"/>
<path d="M0 824l1-15 1-1 1-19 1-8 1-19 1-4 1-12 1-4 1-23 1-31 1-51 1-122 1-129 1-54 1-38 1 12 1 30 1 99 1 137 1 112 1 55 1 103 1 44 1-27 1 130 1 47 1-39 1 31 1-35 1-177"/>
<path d="M0 835l1-11 1 1 1-19 1-7 1-18 1-9 1-27 1-4 1-20 1-25 1-41 1-136 1-128 1-42 1-42 1 17 1 54 1 113 1 131 1 93 1 64 1 76 1 39 1-7 1 97 1-5 1-5 1 40 1-74 1-50"/>
<path d="M0 823l1-16 1 17 1-22 1-17 1-8 1-11 1-19 1-7 1-20 1-34 1-41 1-138 1-118 1-40 1-45 1 33 1 64 1 74 1 135 1 137 1 16 1 73 1 5 1 52 1 53 1 76 1 22 1-24 1-63 1-119"/>
</g></g>
<rect x="340.0" y="56.0" width="1390.0" height="1110.7" stroke="#262626" stroke-width="2" fill="none"/>
<g font-family="'DejaVu Sans', 'Liberation Sans', sans-serif" fill="#262626" stroke="#fff" stroke-width="0.55">
<g font-size="66.2" text-anchor="end">
<text transform="translate(317.6 1188.3) scale(1.017 1)">0</text>
<text transform="translate(317.0 965.1) scale(1.017 1)">0.005</text>
<text transform="translate(315.5 745.1) scale(1.017 1)">0.01</text>
<text transform="translate(317.0 522.3) scale(1.017 1)">0.015</text>
<text transform="translate(315.7 301.1) scale(1.017 1)">0.02</text>
<text transform="translate(317.0 78.0) scale(1.017 1)">0.025</text>
</g>
<g font-size="66.2" text-anchor="middle">
<text transform="translate(337.7 1248.9) scale(1.017 1)">400</text>
<text transform="translate(801.0 1248.9) scale(1.017 1)">500</text>
<text transform="translate(1264.4 1248.9) scale(1.017 1)">600</text>
<text transform="translate(1727.7 1248.9) scale(1.017 1)">700</text>
</g>
<text font-size="73.5" text-anchor="middle" transform="translate(1034.9 1340.9) scale(1.012 1)">Wavelength (nm)</text>
<text font-size="74" text-anchor="middle" transform="translate(90 611.6) rotate(-90)">Reflectance</text>
</g></svg>
</body></html>
